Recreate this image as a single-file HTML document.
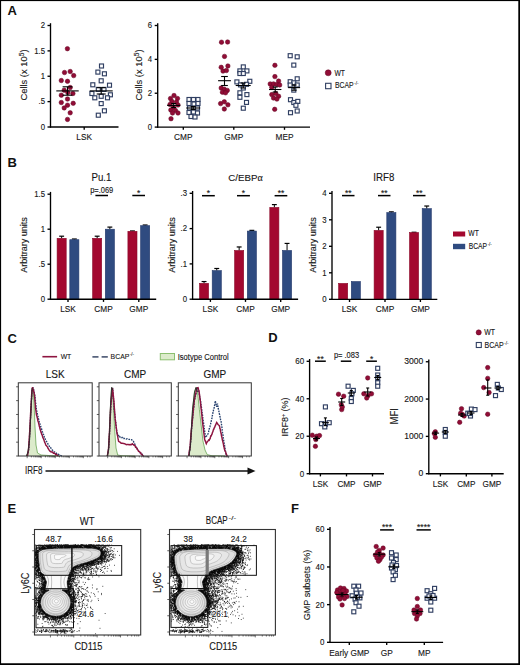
<!DOCTYPE html>
<html><head><meta charset="utf-8"><style>
html,body{margin:0;padding:0;background:#fff;}
svg{display:block;font-family:"Liberation Sans", sans-serif;}
</style></head><body>
<svg width="520" height="665" viewBox="0 0 520 665">
<rect x="0" y="0" width="520" height="665" fill="#fff"/>
<text x="7.6" y="15.3" font-size="13" text-anchor="start" font-weight="bold" fill="#111" >A</text>
<text x="7.6" y="166.6" font-size="13" text-anchor="start" font-weight="bold" fill="#111" >B</text>
<text x="7.6" y="342.6" font-size="13" text-anchor="start" font-weight="bold" fill="#111" >C</text>
<text x="268.2" y="342.2" font-size="13" text-anchor="start" font-weight="bold" fill="#111" >D</text>
<text x="7.6" y="513.3" font-size="13" text-anchor="start" font-weight="bold" fill="#111" >E</text>
<text x="291" y="513.2" font-size="13" text-anchor="start" font-weight="bold" fill="#111" >F</text>
<line x1="50.5" y1="127.6" x2="50.5" y2="23.2" stroke="#000" stroke-width="1.35" />
<line x1="47.5" y1="127" x2="50.5" y2="127" stroke="#000" stroke-width="1.35" />
<text x="45" y="129.81" font-size="8.58" text-anchor="end" font-weight="normal" fill="#151515" stroke="#151515" stroke-width="0.12"  textLength="4.34" lengthAdjust="spacingAndGlyphs">0</text>
<line x1="47.5" y1="101.62" x2="50.5" y2="101.62" stroke="#000" stroke-width="1.35" />
<text x="45" y="104.43" font-size="8.58" text-anchor="end" font-weight="normal" fill="#151515" stroke="#151515" stroke-width="0.12"  textLength="6.51" lengthAdjust="spacingAndGlyphs">.5</text>
<line x1="47.5" y1="76.25" x2="50.5" y2="76.25" stroke="#000" stroke-width="1.35" />
<text x="45" y="79.06" font-size="8.58" text-anchor="end" font-weight="normal" fill="#151515" stroke="#151515" stroke-width="0.12"  textLength="4.34" lengthAdjust="spacingAndGlyphs">1</text>
<line x1="47.5" y1="50.88" x2="50.5" y2="50.88" stroke="#000" stroke-width="1.35" />
<text x="45" y="53.68" font-size="8.58" text-anchor="end" font-weight="normal" fill="#151515" stroke="#151515" stroke-width="0.12"  textLength="10.84" lengthAdjust="spacingAndGlyphs">1.5</text>
<line x1="47.5" y1="25.5" x2="50.5" y2="25.5" stroke="#000" stroke-width="1.35" />
<text x="45" y="28.31" font-size="8.58" text-anchor="end" font-weight="normal" fill="#151515" stroke="#151515" stroke-width="0.12"  textLength="4.34" lengthAdjust="spacingAndGlyphs">2</text>
<line x1="49.9" y1="127" x2="118.5" y2="127" stroke="#000" stroke-width="1.35" />
<line x1="84.2" y1="127" x2="84.2" y2="129.7" stroke="#000" stroke-width="1.35" />
<text x="84.2" y="140.3" font-size="9.13" text-anchor="middle" font-weight="normal" fill="#151515" stroke="#151515" stroke-width="0.12"  textLength="15.69" lengthAdjust="spacingAndGlyphs">LSK</text>
<text transform="translate(27.3 75) rotate(-90)" font-size="9.4" text-anchor="middle" fill="#151515" stroke="#151515" stroke-width="0.12">Cells (x 10<tspan dy="-3.4" font-size="6.8">5</tspan><tspan dy="3.4">)</tspan></text>
<circle cx="67.4" cy="48.7" r="2.25" fill="#910D36" stroke="#650725" stroke-width="0.5"/>
<circle cx="64.5" cy="72.5" r="2.25" fill="#910D36" stroke="#650725" stroke-width="0.5"/>
<circle cx="70.2" cy="71.5" r="2.25" fill="#910D36" stroke="#650725" stroke-width="0.5"/>
<circle cx="73.7" cy="75.6" r="2.25" fill="#910D36" stroke="#650725" stroke-width="0.5"/>
<circle cx="61.3" cy="80.5" r="2.25" fill="#910D36" stroke="#650725" stroke-width="0.5"/>
<circle cx="67.5" cy="81.3" r="2.25" fill="#910D36" stroke="#650725" stroke-width="0.5"/>
<circle cx="70.2" cy="87.5" r="2.25" fill="#910D36" stroke="#650725" stroke-width="0.5"/>
<circle cx="64.2" cy="90.2" r="2.25" fill="#910D36" stroke="#650725" stroke-width="0.5"/>
<circle cx="72.9" cy="93.5" r="2.25" fill="#910D36" stroke="#650725" stroke-width="0.5"/>
<circle cx="61.3" cy="95.2" r="2.25" fill="#910D36" stroke="#650725" stroke-width="0.5"/>
<circle cx="67.5" cy="99" r="2.25" fill="#910D36" stroke="#650725" stroke-width="0.5"/>
<circle cx="61.3" cy="102.5" r="2.25" fill="#910D36" stroke="#650725" stroke-width="0.5"/>
<circle cx="73.2" cy="103.3" r="2.25" fill="#910D36" stroke="#650725" stroke-width="0.5"/>
<circle cx="67.5" cy="105.2" r="2.25" fill="#910D36" stroke="#650725" stroke-width="0.5"/>
<circle cx="64.2" cy="107.9" r="2.25" fill="#910D36" stroke="#650725" stroke-width="0.5"/>
<circle cx="70.2" cy="112.8" r="2.25" fill="#910D36" stroke="#650725" stroke-width="0.5"/>
<circle cx="67.5" cy="119.4" r="2.25" fill="#910D36" stroke="#650725" stroke-width="0.5"/>
<circle cx="67.8" cy="92.5" r="2.25" fill="#910D36" stroke="#650725" stroke-width="0.5"/>
<rect x="99.5" y="64" width="4" height="4" fill="white" fill-opacity="0.85" stroke="#303f62" stroke-width="1.15"/>
<rect x="95.9" y="70.1" width="4" height="4" fill="white" fill-opacity="0.85" stroke="#303f62" stroke-width="1.15"/>
<rect x="102.4" y="71.8" width="4" height="4" fill="white" fill-opacity="0.85" stroke="#303f62" stroke-width="1.15"/>
<rect x="99.2" y="78.8" width="4" height="4" fill="white" fill-opacity="0.85" stroke="#303f62" stroke-width="1.15"/>
<rect x="90.8" y="82.8" width="4" height="4" fill="white" fill-opacity="0.85" stroke="#303f62" stroke-width="1.15"/>
<rect x="107.5" y="83.2" width="4" height="4" fill="white" fill-opacity="0.85" stroke="#303f62" stroke-width="1.15"/>
<rect x="96.3" y="87.4" width="4" height="4" fill="white" fill-opacity="0.85" stroke="#303f62" stroke-width="1.15"/>
<rect x="102" y="87.4" width="4" height="4" fill="white" fill-opacity="0.85" stroke="#303f62" stroke-width="1.15"/>
<rect x="89.9" y="91.5" width="4" height="4" fill="white" fill-opacity="0.85" stroke="#303f62" stroke-width="1.15"/>
<rect x="108.4" y="92.8" width="4" height="4" fill="white" fill-opacity="0.85" stroke="#303f62" stroke-width="1.15"/>
<rect x="92.8" y="95.8" width="4" height="4" fill="white" fill-opacity="0.85" stroke="#303f62" stroke-width="1.15"/>
<rect x="99.2" y="94.3" width="4" height="4" fill="white" fill-opacity="0.85" stroke="#303f62" stroke-width="1.15"/>
<rect x="105.5" y="95.8" width="4" height="4" fill="white" fill-opacity="0.85" stroke="#303f62" stroke-width="1.15"/>
<rect x="99.2" y="101.6" width="4" height="4" fill="white" fill-opacity="0.85" stroke="#303f62" stroke-width="1.15"/>
<rect x="102.4" y="108.8" width="4" height="4" fill="white" fill-opacity="0.85" stroke="#303f62" stroke-width="1.15"/>
<rect x="96.3" y="113.2" width="4" height="4" fill="white" fill-opacity="0.85" stroke="#303f62" stroke-width="1.15"/>
<line x1="56.3" y1="90.9" x2="78.7" y2="90.9" stroke="#000" stroke-width="1.1" />
<line x1="67.5" y1="86.8" x2="67.5" y2="95.2" stroke="#000" stroke-width="1.1" />
<line x1="62.6" y1="86.8" x2="72.4" y2="86.8" stroke="#000" stroke-width="1.1" />
<line x1="62.6" y1="95.2" x2="72.4" y2="95.2" stroke="#000" stroke-width="1.1" />
<line x1="89.7" y1="90.9" x2="112.7" y2="90.9" stroke="#000" stroke-width="1.1" />
<line x1="101.2" y1="87.7" x2="101.2" y2="94" stroke="#000" stroke-width="1.1" />
<line x1="96.7" y1="87.7" x2="105.7" y2="87.7" stroke="#000" stroke-width="1.1" />
<line x1="96.7" y1="94" x2="105.7" y2="94" stroke="#000" stroke-width="1.1" />
<line x1="157.7" y1="127.7" x2="157.7" y2="23.2" stroke="#000" stroke-width="1.35" />
<line x1="154.7" y1="127.1" x2="157.7" y2="127.1" stroke="#000" stroke-width="1.35" />
<text x="152.2" y="129.91" font-size="8.58" text-anchor="end" font-weight="normal" fill="#151515" stroke="#151515" stroke-width="0.12"  textLength="4.34" lengthAdjust="spacingAndGlyphs">0</text>
<line x1="154.7" y1="93.23" x2="157.7" y2="93.23" stroke="#000" stroke-width="1.35" />
<text x="152.2" y="96.04" font-size="8.58" text-anchor="end" font-weight="normal" fill="#151515" stroke="#151515" stroke-width="0.12"  textLength="4.34" lengthAdjust="spacingAndGlyphs">2</text>
<line x1="154.7" y1="59.37" x2="157.7" y2="59.37" stroke="#000" stroke-width="1.35" />
<text x="152.2" y="62.17" font-size="8.58" text-anchor="end" font-weight="normal" fill="#151515" stroke="#151515" stroke-width="0.12"  textLength="4.34" lengthAdjust="spacingAndGlyphs">4</text>
<line x1="154.7" y1="25.5" x2="157.7" y2="25.5" stroke="#000" stroke-width="1.35" />
<text x="152.2" y="28.31" font-size="8.58" text-anchor="end" font-weight="normal" fill="#151515" stroke="#151515" stroke-width="0.12"  textLength="4.34" lengthAdjust="spacingAndGlyphs">6</text>
<line x1="157.1" y1="127.1" x2="310" y2="127.1" stroke="#000" stroke-width="1.35" />
<line x1="183.3" y1="127.1" x2="183.3" y2="129.8" stroke="#000" stroke-width="1.35" />
<line x1="233.8" y1="127.1" x2="233.8" y2="129.8" stroke="#000" stroke-width="1.35" />
<line x1="284.5" y1="127.1" x2="284.5" y2="129.8" stroke="#000" stroke-width="1.35" />
<text x="183.3" y="140.3" font-size="9.13" text-anchor="middle" font-weight="normal" fill="#151515" stroke="#151515" stroke-width="0.12"  textLength="18.44" lengthAdjust="spacingAndGlyphs">CMP</text>
<text x="233.8" y="140.3" font-size="9.13" text-anchor="middle" font-weight="normal" fill="#151515" stroke="#151515" stroke-width="0.12"  textLength="18.91" lengthAdjust="spacingAndGlyphs">GMP</text>
<text x="284.5" y="140.3" font-size="9.13" text-anchor="middle" font-weight="normal" fill="#151515" stroke="#151515" stroke-width="0.12"  textLength="17.99" lengthAdjust="spacingAndGlyphs">MEP</text>
<text transform="translate(142.2 75) rotate(-90)" font-size="9.4" text-anchor="middle" fill="#151515" stroke="#151515" stroke-width="0.12">Cells (x 10<tspan dy="-3.4" font-size="6.8">5</tspan><tspan dy="3.4">)</tspan></text>
<circle cx="174" cy="95.5" r="2.25" fill="#910D36" stroke="#650725" stroke-width="0.5"/>
<circle cx="170.5" cy="98.5" r="2.25" fill="#910D36" stroke="#650725" stroke-width="0.5"/>
<circle cx="177.5" cy="98.5" r="2.25" fill="#910D36" stroke="#650725" stroke-width="0.5"/>
<circle cx="172" cy="101.5" r="2.25" fill="#910D36" stroke="#650725" stroke-width="0.5"/>
<circle cx="176.5" cy="102" r="2.25" fill="#910D36" stroke="#650725" stroke-width="0.5"/>
<circle cx="170" cy="104.5" r="2.25" fill="#910D36" stroke="#650725" stroke-width="0.5"/>
<circle cx="178" cy="105" r="2.25" fill="#910D36" stroke="#650725" stroke-width="0.5"/>
<circle cx="173.5" cy="107.5" r="2.25" fill="#910D36" stroke="#650725" stroke-width="0.5"/>
<circle cx="170.8" cy="110" r="2.25" fill="#910D36" stroke="#650725" stroke-width="0.5"/>
<circle cx="175.5" cy="110.5" r="2.25" fill="#910D36" stroke="#650725" stroke-width="0.5"/>
<circle cx="178" cy="113" r="2.25" fill="#910D36" stroke="#650725" stroke-width="0.5"/>
<circle cx="172.5" cy="113" r="2.25" fill="#910D36" stroke="#650725" stroke-width="0.5"/>
<circle cx="171" cy="118.7" r="2.25" fill="#910D36" stroke="#650725" stroke-width="0.5"/>
<rect x="187" y="97.5" width="4" height="4" fill="white" fill-opacity="0.85" stroke="#303f62" stroke-width="1.15"/>
<rect x="191.5" y="97.5" width="4" height="4" fill="white" fill-opacity="0.85" stroke="#303f62" stroke-width="1.15"/>
<rect x="196" y="97.5" width="4" height="4" fill="white" fill-opacity="0.85" stroke="#303f62" stroke-width="1.15"/>
<rect x="187" y="101.5" width="4" height="4" fill="white" fill-opacity="0.85" stroke="#303f62" stroke-width="1.15"/>
<rect x="192" y="102" width="4" height="4" fill="white" fill-opacity="0.85" stroke="#303f62" stroke-width="1.15"/>
<rect x="196" y="101.5" width="4" height="4" fill="white" fill-opacity="0.85" stroke="#303f62" stroke-width="1.15"/>
<rect x="187.5" y="106" width="4" height="4" fill="white" fill-opacity="0.85" stroke="#303f62" stroke-width="1.15"/>
<rect x="191.5" y="106.5" width="4" height="4" fill="white" fill-opacity="0.85" stroke="#303f62" stroke-width="1.15"/>
<rect x="195.5" y="106" width="4" height="4" fill="white" fill-opacity="0.85" stroke="#303f62" stroke-width="1.15"/>
<rect x="187" y="110.5" width="4" height="4" fill="white" fill-opacity="0.85" stroke="#303f62" stroke-width="1.15"/>
<rect x="191.5" y="110" width="4" height="4" fill="white" fill-opacity="0.85" stroke="#303f62" stroke-width="1.15"/>
<rect x="195.5" y="111" width="4" height="4" fill="white" fill-opacity="0.85" stroke="#303f62" stroke-width="1.15"/>
<rect x="189" y="114.5" width="4" height="4" fill="white" fill-opacity="0.85" stroke="#303f62" stroke-width="1.15"/>
<rect x="193" y="115" width="4" height="4" fill="white" fill-opacity="0.85" stroke="#303f62" stroke-width="1.15"/>
<line x1="167.1" y1="105.4" x2="180.3" y2="105.4" stroke="#000" stroke-width="1.1" />
<line x1="173.7" y1="103.5" x2="173.7" y2="107.5" stroke="#000" stroke-width="1.1" />
<line x1="171.2" y1="103.5" x2="176.2" y2="103.5" stroke="#000" stroke-width="1.1" />
<line x1="171.2" y1="107.5" x2="176.2" y2="107.5" stroke="#000" stroke-width="1.1" />
<line x1="186.2" y1="108" x2="200.2" y2="108" stroke="#000" stroke-width="1.1" />
<line x1="193.2" y1="106.5" x2="193.2" y2="109.5" stroke="#000" stroke-width="1.1" />
<line x1="190.7" y1="106.5" x2="195.7" y2="106.5" stroke="#000" stroke-width="1.1" />
<line x1="190.7" y1="109.5" x2="195.7" y2="109.5" stroke="#000" stroke-width="1.1" />
<circle cx="221.5" cy="42.2" r="2.25" fill="#910D36" stroke="#650725" stroke-width="0.5"/>
<circle cx="227.6" cy="42" r="2.25" fill="#910D36" stroke="#650725" stroke-width="0.5"/>
<circle cx="224.5" cy="56.4" r="2.25" fill="#910D36" stroke="#650725" stroke-width="0.5"/>
<circle cx="221.2" cy="67.3" r="2.25" fill="#910D36" stroke="#650725" stroke-width="0.5"/>
<circle cx="227.9" cy="66" r="2.25" fill="#910D36" stroke="#650725" stroke-width="0.5"/>
<circle cx="223" cy="71.1" r="2.25" fill="#910D36" stroke="#650725" stroke-width="0.5"/>
<circle cx="226.4" cy="70.5" r="2.25" fill="#910D36" stroke="#650725" stroke-width="0.5"/>
<circle cx="221.2" cy="88" r="2.25" fill="#910D36" stroke="#650725" stroke-width="0.5"/>
<circle cx="224.3" cy="89.2" r="2.25" fill="#910D36" stroke="#650725" stroke-width="0.5"/>
<circle cx="227.3" cy="90.4" r="2.25" fill="#910D36" stroke="#650725" stroke-width="0.5"/>
<circle cx="222.4" cy="92.2" r="2.25" fill="#910D36" stroke="#650725" stroke-width="0.5"/>
<circle cx="225.5" cy="92.8" r="2.25" fill="#910D36" stroke="#650725" stroke-width="0.5"/>
<circle cx="220.6" cy="103.6" r="2.25" fill="#910D36" stroke="#650725" stroke-width="0.5"/>
<circle cx="224.3" cy="101.8" r="2.25" fill="#910D36" stroke="#650725" stroke-width="0.5"/>
<circle cx="227.9" cy="104.8" r="2.25" fill="#910D36" stroke="#650725" stroke-width="0.5"/>
<circle cx="224.3" cy="109" r="2.25" fill="#910D36" stroke="#650725" stroke-width="0.5"/>
<rect x="241.3" y="64.9" width="4" height="4" fill="white" fill-opacity="0.85" stroke="#303f62" stroke-width="1.15"/>
<rect x="237.9" y="68.9" width="4" height="4" fill="white" fill-opacity="0.85" stroke="#303f62" stroke-width="1.15"/>
<rect x="244.9" y="68.9" width="4" height="4" fill="white" fill-opacity="0.85" stroke="#303f62" stroke-width="1.15"/>
<rect x="237.9" y="71.5" width="4" height="4" fill="white" fill-opacity="0.85" stroke="#303f62" stroke-width="1.15"/>
<rect x="241.3" y="71.5" width="4" height="4" fill="white" fill-opacity="0.85" stroke="#303f62" stroke-width="1.15"/>
<rect x="234.9" y="79.9" width="4" height="4" fill="white" fill-opacity="0.85" stroke="#303f62" stroke-width="1.15"/>
<rect x="247.8" y="79.3" width="4" height="4" fill="white" fill-opacity="0.85" stroke="#303f62" stroke-width="1.15"/>
<rect x="238.5" y="82.9" width="4" height="4" fill="white" fill-opacity="0.85" stroke="#303f62" stroke-width="1.15"/>
<rect x="244.5" y="82.3" width="4" height="4" fill="white" fill-opacity="0.85" stroke="#303f62" stroke-width="1.15"/>
<rect x="241.3" y="86" width="4" height="4" fill="white" fill-opacity="0.85" stroke="#303f62" stroke-width="1.15"/>
<rect x="237.9" y="90.8" width="4" height="4" fill="white" fill-opacity="0.85" stroke="#303f62" stroke-width="1.15"/>
<rect x="244.9" y="92.6" width="4" height="4" fill="white" fill-opacity="0.85" stroke="#303f62" stroke-width="1.15"/>
<rect x="237.9" y="95.3" width="4" height="4" fill="white" fill-opacity="0.85" stroke="#303f62" stroke-width="1.15"/>
<rect x="244.5" y="100.4" width="4" height="4" fill="white" fill-opacity="0.85" stroke="#303f62" stroke-width="1.15"/>
<rect x="241.3" y="106.2" width="4" height="4" fill="white" fill-opacity="0.85" stroke="#303f62" stroke-width="1.15"/>
<line x1="218.1" y1="80.7" x2="230.9" y2="80.7" stroke="#000" stroke-width="1.1" />
<line x1="224.5" y1="76.5" x2="224.5" y2="85.5" stroke="#000" stroke-width="1.1" />
<line x1="221.15" y1="76.5" x2="227.85" y2="76.5" stroke="#000" stroke-width="1.1" />
<line x1="221.15" y1="85.5" x2="227.85" y2="85.5" stroke="#000" stroke-width="1.1" />
<line x1="235.7" y1="85.5" x2="250.7" y2="85.5" stroke="#000" stroke-width="1.1" />
<line x1="243.2" y1="83" x2="243.2" y2="88" stroke="#000" stroke-width="1.1" />
<line x1="240.7" y1="83" x2="245.7" y2="83" stroke="#000" stroke-width="1.1" />
<line x1="240.7" y1="88" x2="245.7" y2="88" stroke="#000" stroke-width="1.1" />
<circle cx="274.9" cy="65.3" r="2.25" fill="#910D36" stroke="#650725" stroke-width="0.5"/>
<circle cx="274.9" cy="76.6" r="2.25" fill="#910D36" stroke="#650725" stroke-width="0.5"/>
<circle cx="278.6" cy="81.1" r="2.25" fill="#910D36" stroke="#650725" stroke-width="0.5"/>
<circle cx="270.2" cy="83.9" r="2.25" fill="#910D36" stroke="#650725" stroke-width="0.5"/>
<circle cx="273.5" cy="83.9" r="2.25" fill="#910D36" stroke="#650725" stroke-width="0.5"/>
<circle cx="276.9" cy="84.5" r="2.25" fill="#910D36" stroke="#650725" stroke-width="0.5"/>
<circle cx="279.7" cy="85" r="2.25" fill="#910D36" stroke="#650725" stroke-width="0.5"/>
<circle cx="271.8" cy="87.3" r="2.25" fill="#910D36" stroke="#650725" stroke-width="0.5"/>
<circle cx="271.8" cy="94.6" r="2.25" fill="#910D36" stroke="#650725" stroke-width="0.5"/>
<circle cx="275.8" cy="93.5" r="2.25" fill="#910D36" stroke="#650725" stroke-width="0.5"/>
<circle cx="278.6" cy="96.3" r="2.25" fill="#910D36" stroke="#650725" stroke-width="0.5"/>
<circle cx="273.5" cy="98" r="2.25" fill="#910D36" stroke="#650725" stroke-width="0.5"/>
<circle cx="276.9" cy="99.1" r="2.25" fill="#910D36" stroke="#650725" stroke-width="0.5"/>
<circle cx="274.7" cy="109.3" r="2.25" fill="#910D36" stroke="#650725" stroke-width="0.5"/>
<rect x="288.2" y="53.7" width="4" height="4" fill="white" fill-opacity="0.85" stroke="#303f62" stroke-width="1.15"/>
<rect x="295.2" y="54.8" width="4" height="4" fill="white" fill-opacity="0.85" stroke="#303f62" stroke-width="1.15"/>
<rect x="291.8" y="63.1" width="4" height="4" fill="white" fill-opacity="0.85" stroke="#303f62" stroke-width="1.15"/>
<rect x="295.2" y="76.8" width="4" height="4" fill="white" fill-opacity="0.85" stroke="#303f62" stroke-width="1.15"/>
<rect x="288.2" y="79.7" width="4" height="4" fill="white" fill-opacity="0.85" stroke="#303f62" stroke-width="1.15"/>
<rect x="291.8" y="80.8" width="4" height="4" fill="white" fill-opacity="0.85" stroke="#303f62" stroke-width="1.15"/>
<rect x="295.2" y="83" width="4" height="4" fill="white" fill-opacity="0.85" stroke="#303f62" stroke-width="1.15"/>
<rect x="288.2" y="83" width="4" height="4" fill="white" fill-opacity="0.85" stroke="#303f62" stroke-width="1.15"/>
<rect x="291.8" y="88.1" width="4" height="4" fill="white" fill-opacity="0.85" stroke="#303f62" stroke-width="1.15"/>
<rect x="288.5" y="97.7" width="4" height="4" fill="white" fill-opacity="0.85" stroke="#303f62" stroke-width="1.15"/>
<rect x="291.8" y="100.5" width="4" height="4" fill="white" fill-opacity="0.85" stroke="#303f62" stroke-width="1.15"/>
<rect x="295.8" y="99.4" width="4" height="4" fill="white" fill-opacity="0.85" stroke="#303f62" stroke-width="1.15"/>
<rect x="293.9" y="103.3" width="4" height="4" fill="white" fill-opacity="0.85" stroke="#303f62" stroke-width="1.15"/>
<rect x="288.5" y="110.7" width="4" height="4" fill="white" fill-opacity="0.85" stroke="#303f62" stroke-width="1.15"/>
<rect x="295.2" y="109" width="4" height="4" fill="white" fill-opacity="0.85" stroke="#303f62" stroke-width="1.15"/>
<line x1="269" y1="89.5" x2="281.4" y2="89.5" stroke="#000" stroke-width="1.1" />
<line x1="275.2" y1="87" x2="275.2" y2="92" stroke="#000" stroke-width="1.1" />
<line x1="272.7" y1="87" x2="277.7" y2="87" stroke="#000" stroke-width="1.1" />
<line x1="272.7" y1="92" x2="277.7" y2="92" stroke="#000" stroke-width="1.1" />
<line x1="288.1" y1="87.6" x2="300.1" y2="87.6" stroke="#000" stroke-width="1.1" />
<line x1="294.1" y1="85" x2="294.1" y2="90.2" stroke="#000" stroke-width="1.1" />
<line x1="291.6" y1="85" x2="296.6" y2="85" stroke="#000" stroke-width="1.1" />
<line x1="291.6" y1="90.2" x2="296.6" y2="90.2" stroke="#000" stroke-width="1.1" />
<circle cx="328.2" cy="72.8" r="3" fill="#910D36" stroke="#650725" stroke-width="0.5"/>
<text x="334.5" y="75.6" font-size="8.14" text-anchor="start" font-weight="normal" fill="#151515" stroke="#151515" stroke-width="0.12"  textLength="10.5" lengthAdjust="spacingAndGlyphs">WT</text>
<rect x="325.6" y="83.3" width="5.4" height="5.4" fill="white" stroke="#303f62" stroke-width="1.1" />
<text x="335" y="88.4" font-size="8.14" text-anchor="start" font-weight="normal" fill="#151515" stroke="#151515" stroke-width="0.12"  textLength="18.7" lengthAdjust="spacingAndGlyphs">BCAP</text>
<text x="354.3" y="85.29" font-size="4.88" text-anchor="start" font-weight="normal" fill="#333" stroke="#333" stroke-width="0.12"  textLength="4.19" lengthAdjust="spacingAndGlyphs">-/-</text>
<line x1="50.5" y1="299.8" x2="50.5" y2="191.9" stroke="#000" stroke-width="1.35" />
<line x1="47.5" y1="299.2" x2="50.5" y2="299.2" stroke="#000" stroke-width="1.35" />
<text x="45" y="302.01" font-size="8.58" text-anchor="end" font-weight="normal" fill="#151515" stroke="#151515" stroke-width="0.12"  textLength="4.34" lengthAdjust="spacingAndGlyphs">0</text>
<line x1="47.5" y1="264.2" x2="50.5" y2="264.2" stroke="#000" stroke-width="1.35" />
<text x="45" y="267.01" font-size="8.58" text-anchor="end" font-weight="normal" fill="#151515" stroke="#151515" stroke-width="0.12"  textLength="6.51" lengthAdjust="spacingAndGlyphs">.5</text>
<line x1="47.5" y1="229.2" x2="50.5" y2="229.2" stroke="#000" stroke-width="1.35" />
<text x="45" y="232.01" font-size="8.58" text-anchor="end" font-weight="normal" fill="#151515" stroke="#151515" stroke-width="0.12"  textLength="4.34" lengthAdjust="spacingAndGlyphs">1</text>
<line x1="47.5" y1="194.2" x2="50.5" y2="194.2" stroke="#000" stroke-width="1.35" />
<text x="45" y="197.01" font-size="8.58" text-anchor="end" font-weight="normal" fill="#151515" stroke="#151515" stroke-width="0.12"  textLength="10.84" lengthAdjust="spacingAndGlyphs">1.5</text>
<line x1="61.65" y1="238.3" x2="61.65" y2="236.2" stroke="#000" stroke-width="1" />
<line x1="59.2" y1="236.2" x2="64.1" y2="236.2" stroke="#000" stroke-width="1.2" />
<rect x="57.1" y="238.3" width="9.1" height="60.9" fill="#A3082F" stroke="#8a0a2a" stroke-width="0.6" />
<line x1="74.35" y1="239.7" x2="74.35" y2="239" stroke="#000" stroke-width="1" />
<line x1="71.9" y1="239" x2="76.8" y2="239" stroke="#000" stroke-width="1.2" />
<rect x="69.8" y="239.7" width="9.1" height="59.5" fill="#2F4B80" stroke="#22386a" stroke-width="0.6" />
<line x1="97.15" y1="238.3" x2="97.15" y2="236.2" stroke="#000" stroke-width="1" />
<line x1="94.7" y1="236.2" x2="99.6" y2="236.2" stroke="#000" stroke-width="1.2" />
<rect x="92.6" y="238.3" width="9.1" height="60.9" fill="#A3082F" stroke="#8a0a2a" stroke-width="0.6" />
<line x1="109.85" y1="229.2" x2="109.85" y2="227.1" stroke="#000" stroke-width="1" />
<line x1="107.4" y1="227.1" x2="112.3" y2="227.1" stroke="#000" stroke-width="1.2" />
<rect x="105.3" y="229.2" width="9.1" height="70" fill="#2F4B80" stroke="#22386a" stroke-width="0.6" />
<line x1="132.45" y1="231.3" x2="132.45" y2="230.95" stroke="#000" stroke-width="1" />
<line x1="130" y1="230.95" x2="134.9" y2="230.95" stroke="#000" stroke-width="1.2" />
<rect x="127.9" y="231.3" width="9.1" height="67.9" fill="#A3082F" stroke="#8a0a2a" stroke-width="0.6" />
<line x1="145.15" y1="225.7" x2="145.15" y2="225" stroke="#000" stroke-width="1" />
<line x1="142.7" y1="225" x2="147.6" y2="225" stroke="#000" stroke-width="1.2" />
<rect x="140.6" y="225.7" width="9.1" height="73.5" fill="#2F4B80" stroke="#22386a" stroke-width="0.6" />
<line x1="49.9" y1="299.2" x2="156.2" y2="299.2" stroke="#000" stroke-width="1.35" />
<line x1="68" y1="299.2" x2="68" y2="301.9" stroke="#000" stroke-width="1.35" />
<line x1="103.5" y1="299.2" x2="103.5" y2="301.9" stroke="#000" stroke-width="1.35" />
<line x1="138.8" y1="299.2" x2="138.8" y2="301.9" stroke="#000" stroke-width="1.35" />
<text x="68" y="312.3" font-size="9.13" text-anchor="middle" font-weight="normal" fill="#151515" stroke="#151515" stroke-width="0.12"  textLength="15.69" lengthAdjust="spacingAndGlyphs">LSK</text>
<text x="103.5" y="312.3" font-size="9.13" text-anchor="middle" font-weight="normal" fill="#151515" stroke="#151515" stroke-width="0.12"  textLength="18.44" lengthAdjust="spacingAndGlyphs">CMP</text>
<text x="138.8" y="312.3" font-size="9.13" text-anchor="middle" font-weight="normal" fill="#151515" stroke="#151515" stroke-width="0.12"  textLength="18.91" lengthAdjust="spacingAndGlyphs">GMP</text>
<text x="101.4" y="180.7" font-size="10.67" text-anchor="middle" font-weight="normal" fill="#151515" stroke="#151515" stroke-width="0.12"  textLength="19.95" lengthAdjust="spacingAndGlyphs">Pu.1</text>
<line x1="95.4" y1="195.5" x2="108" y2="195.5" stroke="#000" stroke-width="1.5" />
<line x1="132.3" y1="195.5" x2="145" y2="195.5" stroke="#000" stroke-width="1.5" />
<text x="138.65" y="196.36" font-size="8.5" text-anchor="middle" font-weight="normal" fill="#151515" stroke="#151515" stroke-width="0.12" >*</text>
<text transform="translate(27 245) rotate(-90)" font-size="9.9" text-anchor="middle" fill="#151515" stroke="#151515" stroke-width="0.12" textLength="55.52" lengthAdjust="spacingAndGlyphs">Arbitrary units</text>
<text x="101.7" y="193.2" font-size="8.25" text-anchor="middle" font-weight="normal" fill="#151515" stroke="#151515" stroke-width="0.12"  textLength="23.15" lengthAdjust="spacingAndGlyphs">p=.069</text>
<line x1="192.6" y1="299.8" x2="192.6" y2="191" stroke="#000" stroke-width="1.35" />
<line x1="189.6" y1="299.2" x2="192.6" y2="299.2" stroke="#000" stroke-width="1.35" />
<text x="187.1" y="302.01" font-size="8.58" text-anchor="end" font-weight="normal" fill="#151515" stroke="#151515" stroke-width="0.12"  textLength="4.34" lengthAdjust="spacingAndGlyphs">0</text>
<line x1="189.6" y1="263.9" x2="192.6" y2="263.9" stroke="#000" stroke-width="1.35" />
<text x="187.1" y="266.71" font-size="8.58" text-anchor="end" font-weight="normal" fill="#151515" stroke="#151515" stroke-width="0.12"  textLength="6.51" lengthAdjust="spacingAndGlyphs">.1</text>
<line x1="189.6" y1="228.6" x2="192.6" y2="228.6" stroke="#000" stroke-width="1.35" />
<text x="187.1" y="231.41" font-size="8.58" text-anchor="end" font-weight="normal" fill="#151515" stroke="#151515" stroke-width="0.12"  textLength="6.51" lengthAdjust="spacingAndGlyphs">.2</text>
<line x1="189.6" y1="193.3" x2="192.6" y2="193.3" stroke="#000" stroke-width="1.35" />
<text x="187.1" y="196.11" font-size="8.58" text-anchor="end" font-weight="normal" fill="#151515" stroke="#151515" stroke-width="0.12"  textLength="6.51" lengthAdjust="spacingAndGlyphs">.3</text>
<line x1="204.05" y1="283.31" x2="204.05" y2="281.55" stroke="#000" stroke-width="1" />
<line x1="201.6" y1="281.55" x2="206.5" y2="281.55" stroke="#000" stroke-width="1.2" />
<rect x="199.5" y="283.31" width="9.1" height="15.88" fill="#A3082F" stroke="#8a0a2a" stroke-width="0.6" />
<line x1="216.75" y1="270.61" x2="216.75" y2="268.49" stroke="#000" stroke-width="1" />
<line x1="214.3" y1="268.49" x2="219.2" y2="268.49" stroke="#000" stroke-width="1.2" />
<rect x="212.2" y="270.61" width="9.1" height="28.59" fill="#2F4B80" stroke="#22386a" stroke-width="0.6" />
<line x1="239.15" y1="250.49" x2="239.15" y2="246.96" stroke="#000" stroke-width="1" />
<line x1="236.7" y1="246.96" x2="241.6" y2="246.96" stroke="#000" stroke-width="1.2" />
<rect x="234.6" y="250.49" width="9.1" height="48.71" fill="#A3082F" stroke="#8a0a2a" stroke-width="0.6" />
<line x1="251.85" y1="231.07" x2="251.85" y2="230.36" stroke="#000" stroke-width="1" />
<line x1="249.4" y1="230.36" x2="254.3" y2="230.36" stroke="#000" stroke-width="1.2" />
<rect x="247.3" y="231.07" width="9.1" height="68.13" fill="#2F4B80" stroke="#22386a" stroke-width="0.6" />
<line x1="274.35" y1="207.42" x2="274.35" y2="204.6" stroke="#000" stroke-width="1" />
<line x1="271.9" y1="204.6" x2="276.8" y2="204.6" stroke="#000" stroke-width="1.2" />
<rect x="269.8" y="207.42" width="9.1" height="91.78" fill="#A3082F" stroke="#8a0a2a" stroke-width="0.6" />
<line x1="287.05" y1="250.49" x2="287.05" y2="243.43" stroke="#000" stroke-width="1" />
<line x1="284.6" y1="243.43" x2="289.5" y2="243.43" stroke="#000" stroke-width="1.2" />
<rect x="282.5" y="250.49" width="9.1" height="48.71" fill="#2F4B80" stroke="#22386a" stroke-width="0.6" />
<line x1="192" y1="299.2" x2="298.1" y2="299.2" stroke="#000" stroke-width="1.35" />
<line x1="210.4" y1="299.2" x2="210.4" y2="301.9" stroke="#000" stroke-width="1.35" />
<line x1="245.5" y1="299.2" x2="245.5" y2="301.9" stroke="#000" stroke-width="1.35" />
<line x1="280.7" y1="299.2" x2="280.7" y2="301.9" stroke="#000" stroke-width="1.35" />
<text x="210.4" y="312.3" font-size="9.13" text-anchor="middle" font-weight="normal" fill="#151515" stroke="#151515" stroke-width="0.12"  textLength="15.69" lengthAdjust="spacingAndGlyphs">LSK</text>
<text x="245.5" y="312.3" font-size="9.13" text-anchor="middle" font-weight="normal" fill="#151515" stroke="#151515" stroke-width="0.12"  textLength="18.44" lengthAdjust="spacingAndGlyphs">CMP</text>
<text x="280.7" y="312.3" font-size="9.13" text-anchor="middle" font-weight="normal" fill="#151515" stroke="#151515" stroke-width="0.12"  textLength="18.91" lengthAdjust="spacingAndGlyphs">GMP</text>
<text x="245.5" y="180.7" font-size="9.7" text-anchor="middle" font-weight="normal" fill="#151515" stroke="#151515" stroke-width="0.12" >C/EBP<tspan font-family="Liberation Serif" font-size="10">&#945;</tspan></text>
<line x1="202" y1="195.7" x2="214.8" y2="195.7" stroke="#000" stroke-width="1.5" />
<text x="208.4" y="196.36" font-size="8.5" text-anchor="middle" font-weight="normal" fill="#151515" stroke="#151515" stroke-width="0.12" >*</text>
<line x1="237" y1="195.7" x2="249.9" y2="195.7" stroke="#000" stroke-width="1.5" />
<text x="243.45" y="196.36" font-size="8.5" text-anchor="middle" font-weight="normal" fill="#151515" stroke="#151515" stroke-width="0.12" >*</text>
<line x1="274.6" y1="195.7" x2="287.3" y2="195.7" stroke="#000" stroke-width="1.5" />
<text x="280.95" y="196.36" font-size="8.5" text-anchor="middle" font-weight="normal" fill="#151515" stroke="#151515" stroke-width="0.12" >**</text>
<text transform="translate(174.7 245) rotate(-90)" font-size="9.9" text-anchor="middle" fill="#151515" stroke="#151515" stroke-width="0.12" textLength="55.52" lengthAdjust="spacingAndGlyphs">Arbitrary units</text>
<line x1="332" y1="299.9" x2="332" y2="191" stroke="#000" stroke-width="1.35" />
<line x1="329" y1="299.3" x2="332" y2="299.3" stroke="#000" stroke-width="1.35" />
<text x="326.5" y="302.11" font-size="8.58" text-anchor="end" font-weight="normal" fill="#151515" stroke="#151515" stroke-width="0.12"  textLength="4.34" lengthAdjust="spacingAndGlyphs">0</text>
<line x1="329" y1="272.8" x2="332" y2="272.8" stroke="#000" stroke-width="1.35" />
<text x="326.5" y="275.61" font-size="8.58" text-anchor="end" font-weight="normal" fill="#151515" stroke="#151515" stroke-width="0.12"  textLength="4.34" lengthAdjust="spacingAndGlyphs">1</text>
<line x1="329" y1="246.3" x2="332" y2="246.3" stroke="#000" stroke-width="1.35" />
<text x="326.5" y="249.11" font-size="8.58" text-anchor="end" font-weight="normal" fill="#151515" stroke="#151515" stroke-width="0.12"  textLength="4.34" lengthAdjust="spacingAndGlyphs">2</text>
<line x1="329" y1="219.8" x2="332" y2="219.8" stroke="#000" stroke-width="1.35" />
<text x="326.5" y="222.61" font-size="8.58" text-anchor="end" font-weight="normal" fill="#151515" stroke="#151515" stroke-width="0.12"  textLength="4.34" lengthAdjust="spacingAndGlyphs">3</text>
<line x1="329" y1="193.3" x2="332" y2="193.3" stroke="#000" stroke-width="1.35" />
<text x="326.5" y="196.11" font-size="8.58" text-anchor="end" font-weight="normal" fill="#151515" stroke="#151515" stroke-width="0.12"  textLength="4.34" lengthAdjust="spacingAndGlyphs">4</text>
<rect x="338.6" y="283.4" width="9.1" height="15.9" fill="#A3082F" stroke="#8a0a2a" stroke-width="0.6" />
<rect x="351.3" y="281.55" width="9.1" height="17.75" fill="#2F4B80" stroke="#22386a" stroke-width="0.6" />
<line x1="378.65" y1="230.4" x2="378.65" y2="227.22" stroke="#000" stroke-width="1" />
<line x1="376.2" y1="227.22" x2="381.1" y2="227.22" stroke="#000" stroke-width="1.2" />
<rect x="374.1" y="230.4" width="9.1" height="68.9" fill="#A3082F" stroke="#8a0a2a" stroke-width="0.6" />
<line x1="391.35" y1="212.65" x2="391.35" y2="211.85" stroke="#000" stroke-width="1" />
<line x1="388.9" y1="211.85" x2="393.8" y2="211.85" stroke="#000" stroke-width="1.2" />
<rect x="386.8" y="212.65" width="9.1" height="86.66" fill="#2F4B80" stroke="#22386a" stroke-width="0.6" />
<line x1="414.05" y1="232.52" x2="414.05" y2="232.25" stroke="#000" stroke-width="1" />
<line x1="411.6" y1="232.25" x2="416.5" y2="232.25" stroke="#000" stroke-width="1.2" />
<rect x="409.5" y="232.52" width="9.1" height="66.78" fill="#A3082F" stroke="#8a0a2a" stroke-width="0.6" />
<line x1="426.75" y1="208.67" x2="426.75" y2="206.02" stroke="#000" stroke-width="1" />
<line x1="424.3" y1="206.02" x2="429.2" y2="206.02" stroke="#000" stroke-width="1.2" />
<rect x="422.2" y="208.67" width="9.1" height="90.63" fill="#2F4B80" stroke="#22386a" stroke-width="0.6" />
<line x1="331.4" y1="299.3" x2="437.3" y2="299.3" stroke="#000" stroke-width="1.35" />
<line x1="349.5" y1="299.3" x2="349.5" y2="302" stroke="#000" stroke-width="1.35" />
<line x1="385" y1="299.3" x2="385" y2="302" stroke="#000" stroke-width="1.35" />
<line x1="420.4" y1="299.3" x2="420.4" y2="302" stroke="#000" stroke-width="1.35" />
<text x="349.5" y="312.3" font-size="9.13" text-anchor="middle" font-weight="normal" fill="#151515" stroke="#151515" stroke-width="0.12"  textLength="15.69" lengthAdjust="spacingAndGlyphs">LSK</text>
<text x="385" y="312.3" font-size="9.13" text-anchor="middle" font-weight="normal" fill="#151515" stroke="#151515" stroke-width="0.12"  textLength="18.44" lengthAdjust="spacingAndGlyphs">CMP</text>
<text x="420.4" y="312.3" font-size="9.13" text-anchor="middle" font-weight="normal" fill="#151515" stroke="#151515" stroke-width="0.12"  textLength="18.91" lengthAdjust="spacingAndGlyphs">GMP</text>
<text x="383.8" y="180.7" font-size="10.67" text-anchor="middle" font-weight="normal" fill="#151515" stroke="#151515" stroke-width="0.12"  textLength="21.02" lengthAdjust="spacingAndGlyphs">IRF8</text>
<line x1="342" y1="195.6" x2="354.5" y2="195.6" stroke="#000" stroke-width="1.5" />
<text x="348.25" y="196.36" font-size="8.5" text-anchor="middle" font-weight="normal" fill="#151515" stroke="#151515" stroke-width="0.12" >**</text>
<line x1="378" y1="195.6" x2="390.5" y2="195.6" stroke="#000" stroke-width="1.5" />
<text x="384.25" y="196.36" font-size="8.5" text-anchor="middle" font-weight="normal" fill="#151515" stroke="#151515" stroke-width="0.12" >**</text>
<line x1="413" y1="195.6" x2="425.5" y2="195.6" stroke="#000" stroke-width="1.5" />
<text x="419.25" y="196.36" font-size="8.5" text-anchor="middle" font-weight="normal" fill="#151515" stroke="#151515" stroke-width="0.12" >**</text>
<text transform="translate(315.5 245) rotate(-90)" font-size="9.9" text-anchor="middle" fill="#151515" stroke="#151515" stroke-width="0.12" textLength="55.52" lengthAdjust="spacingAndGlyphs">Arbitrary units</text>
<rect x="453" y="231.5" width="12.2" height="5" fill="#A3082F" stroke="none" stroke-width="1" />
<text x="468.3" y="236.3" font-size="8.14" text-anchor="start" font-weight="normal" fill="#151515" stroke="#151515" stroke-width="0.12"  textLength="10.5" lengthAdjust="spacingAndGlyphs">WT</text>
<rect x="453" y="243.8" width="12.2" height="5.4" fill="#2F4B80" stroke="none" stroke-width="1" />
<text x="468.75" y="248.8" font-size="8.14" text-anchor="start" font-weight="normal" fill="#151515" stroke="#151515" stroke-width="0.12"  textLength="18.3" lengthAdjust="spacingAndGlyphs">BCAP</text>
<text x="487.65" y="245.69" font-size="4.88" text-anchor="start" font-weight="normal" fill="#333" stroke="#333" stroke-width="0.12"  textLength="4.19" lengthAdjust="spacingAndGlyphs">-/-</text>
<line x1="42.4" y1="356.7" x2="57.1" y2="356.7" stroke="#8e1540" stroke-width="1.6" />
<text x="60.7" y="359.2" font-size="7.92" text-anchor="start" font-weight="normal" fill="#151515" stroke="#151515" stroke-width="0.12"  textLength="10.6" lengthAdjust="spacingAndGlyphs">WT</text>
<line x1="92.4" y1="356.9" x2="98.5" y2="356.9" stroke="#3a4866" stroke-width="1.5" />
<line x1="101.6" y1="356.9" x2="107.8" y2="356.9" stroke="#3a4866" stroke-width="1.5" />
<text x="110.6" y="359.2" font-size="7.92" text-anchor="start" font-weight="normal" fill="#151515" stroke="#151515" stroke-width="0.12"  textLength="18.7" lengthAdjust="spacingAndGlyphs">BCAP</text>
<text x="129.9" y="356.18" font-size="4.75" text-anchor="start" font-weight="normal" fill="#333" stroke="#333" stroke-width="0.12"  textLength="4.08" lengthAdjust="spacingAndGlyphs">-/-</text>
<rect x="160.3" y="353.5" width="14.2" height="6.3" fill="#dcebcb" stroke="#8cc070" stroke-width="1" />
<text x="177.7" y="359.5" font-size="8.47" text-anchor="start" font-weight="normal" fill="#151515" stroke="#151515" stroke-width="0.12"  textLength="51" lengthAdjust="spacingAndGlyphs">Isotype Control</text>
<text x="55.25" y="377.7" font-size="11" text-anchor="middle" font-weight="normal" fill="#151515" stroke="#151515" stroke-width="0.12"  textLength="18.9" lengthAdjust="spacingAndGlyphs">LSK</text>
<polygon points="26.4,456 28,452 29.5,440 30.5,420 31.5,400 32.2,388 33,388.5 34,402 35,427 36,445 37.5,453 41,455 50,455.6 60,456" fill="#dcebcb" stroke="none"/>
<polyline points="26.4,456 28,452 29.5,440 30.5,420 31.5,400 32.2,388 33,388.5 34,402 35,427 36,445 37.5,453 41,455 50,455.6 60,456" fill="none" stroke="#6aa656" stroke-width="0.8"/>
<polyline points="27.5,456 27.67,454.85 27.83,454.27 28,453.2 28.17,452.55 28.33,451.68 28.5,450.23 28.67,449.29 28.83,449.23 29,447.76 29.05,446.83 29.09,446.68 29.14,445.24 29.18,444.7 29.23,443.43 29.27,442.68 29.32,441.29 29.36,440.86 29.41,440.19 29.45,438.93 29.5,438.24 29.55,437.26 29.59,435.75 29.64,435.53 29.68,434.45 29.73,433.26 29.77,432.08 29.82,432 29.86,430.7 29.91,430.04 29.95,429.29 30,428.21 30.05,427.51 30.09,426.08 30.14,425.57 30.18,424.31 30.23,423.89 30.27,422.92 30.32,421.23 30.36,420.36 30.41,419.54 30.45,419.37 30.5,417.94 30.55,417.22 30.59,415.98 30.64,415.28 30.68,414.25 30.73,413.31 30.77,412.63 30.82,411.72 30.86,411.13 30.91,410 30.95,409.34 31,408.36 31.05,407.59 31.1,406.37 31.15,404.96 31.2,404.76 31.25,403.96 31.3,403 31.35,401.77 31.4,401.01 31.45,399.61 31.5,399.33 31.55,398.17 31.6,396.98 31.65,395.86 31.7,395.75 31.75,394.99 31.8,393.19 31.85,393 31.9,391.71 31.95,390.55 32,389.79 32.4,389.02 32.8,387.87 33.1,387.92 33.4,389.36 33.7,389.67 34,391.22 34.17,391.83 34.33,393.38 34.5,394.48 34.67,395.01 34.83,396.5 35,396.81 35.1,397.5 35.2,398.95 35.3,399.3 35.4,400.39 35.5,401.52 35.6,402.65 35.7,403.12 35.8,403.93 35.9,405.68 36,406.04 36.1,407.61 36.2,408.47 36.3,408.88 36.51,409.88 36.72,410.87 36.92,411.91 37.13,412.79 37.34,413.67 37.55,414.66 37.75,415.9 37.96,416.39 38.17,417.24 38.38,418.45 38.58,418.89 38.79,419.88 39,421.48 39.27,421.89 39.55,422.79 39.82,423.13 40.09,424.41 40.36,425.44 40.64,425.76 40.91,427.22 41.18,428.11 41.45,428.41 41.73,429.85 42,430.57 42.33,431.71 42.67,432.32 43,433.61 43.33,434.57 43.67,434.79 44,435.76 44.33,437.31 44.67,438.53 45,438.75 45.5,439.83 46,440.84 46.5,441.45 47,442.36 47.5,443.19 48,444.12 48.5,445.22 49,445.8 49.57,446.59 50.14,447.7 50.71,447.67 51.29,448.93 51.86,449.81 52.43,450.1 53,450.72 53.83,451.89 54.67,451.91 55.5,452.44 56.33,453.27 57.17,454.11 58,454.1 59,454.7 60,455.08 61,455.62 62,456" fill="none" stroke="#26406e" stroke-width="1.35" stroke-dasharray="1.7,1.0"/>
<polyline points="27.3,456 27.5,455.37 27.7,453.93 27.9,453.39 28.1,451.64 28.3,450.82 28.5,450.17 28.56,449.51 28.62,448.13 28.68,446.97 28.74,445.95 28.8,445.49 28.85,444.21 28.91,443.97 28.97,443.1 29.03,441.47 29.09,440.67 29.15,440.34 29.21,439.25 29.27,438.52 29.33,437.1 29.39,435.96 29.45,435.23 29.5,434.87 29.56,433.38 29.62,432.56 29.68,431.73 29.74,430.82 29.8,429.9 29.85,429.55 29.89,427.8 29.94,426.73 29.98,426.85 30.03,425.87 30.07,425.08 30.12,423.56 30.16,423.22 30.21,422.29 30.25,420.6 30.3,420.27 30.35,419.46 30.39,418.36 30.44,417.29 30.48,416.13 30.53,415.28 30.57,414.25 30.62,413.16 30.66,412.82 30.71,411.58 30.75,411.25 30.8,409.5 30.85,409.54 30.9,408.41 30.95,407.77 31,406.84 31.05,405.94 31.1,404.68 31.15,403.16 31.2,403.07 31.25,401.54 31.3,400.78 31.35,400.28 31.4,399.23 31.45,398.21 31.5,397.88 31.55,396.62 31.6,395.43 31.65,394.43 31.7,394.2 31.75,392.87 31.8,392.31 31.94,390.94 32.08,389.87 32.22,389.34 32.36,388.75 32.5,387.14 33,389.07 33.5,390.46 33.7,391.34 33.9,392.36 34.1,392.46 34.3,394.14 34.5,395.4 34.57,395.43 34.64,396.61 34.71,397.53 34.79,398.74 34.86,399.56 34.93,400.54 35,401.8 35.07,401.88 35.14,402.87 35.21,403.88 35.29,404.8 35.36,405.67 35.43,407.59 35.5,408.39 35.64,408.54 35.79,410 35.93,410.8 36.07,411.8 36.21,412.84 36.36,414.16 36.5,415.1 36.75,415.85 37,416.66 37.25,417.81 37.5,418.59 37.75,420.06 38,421.24 38.23,421.74 38.45,422.28 38.68,423.26 38.91,424.35 39.14,425.48 39.36,426.55 39.59,426.98 39.82,428.31 40.05,428.99 40.27,429.65 40.5,430.46 40.81,431.5 41.12,432.62 41.44,433.21 41.75,434.41 42.06,435.06 42.38,435.72 42.69,436.94 43,438.01 43.38,438.23 43.75,439.52 44.12,440.42 44.5,441.82 44.88,442.78 45.25,443.06 45.62,444.54 46,445.32 46.5,445.49 47,446.46 47.5,446.84 48,448.34 48.5,448.93 49,449.93 49.5,450.57 50,451.18 50.83,451.76 51.67,452.07 52.5,452.06 53.33,453.1 54.17,452.96 55,453.61 55.88,454.8 56.75,454.5 57.62,455.5 58.5,456" fill="none" stroke="#8e1540" stroke-width="1.45"/>
<polyline points="26.4,456 28,452 29.5,440 30.5,420 31.5,400 32.2,388" fill="none" stroke="#2a2a2a" stroke-width="0.9"/>
<rect x="18.3" y="382.8" width="73.9" height="73.2" fill="none" stroke="#333" stroke-width="1" />
<line x1="16.1" y1="386.8" x2="18.3" y2="386.8" stroke="#333" stroke-width="0.8" />
<line x1="16.1" y1="400.64" x2="18.3" y2="400.64" stroke="#333" stroke-width="0.8" />
<line x1="16.1" y1="414.48" x2="18.3" y2="414.48" stroke="#333" stroke-width="0.8" />
<line x1="16.1" y1="428.32" x2="18.3" y2="428.32" stroke="#333" stroke-width="0.8" />
<line x1="16.1" y1="442.16" x2="18.3" y2="442.16" stroke="#333" stroke-width="0.8" />
<line x1="16.1" y1="456" x2="18.3" y2="456" stroke="#333" stroke-width="0.8" />
<line x1="27.17" y1="456" x2="27.17" y2="458.2" stroke="#333" stroke-width="0.7" />
<line x1="31.39" y1="456" x2="31.39" y2="457.4" stroke="#333" stroke-width="0.7" />
<line x1="33.87" y1="456" x2="33.87" y2="457.4" stroke="#333" stroke-width="0.7" />
<line x1="35.62" y1="456" x2="35.62" y2="457.4" stroke="#333" stroke-width="0.7" />
<line x1="36.98" y1="456" x2="36.98" y2="457.4" stroke="#333" stroke-width="0.7" />
<line x1="38.09" y1="456" x2="38.09" y2="457.4" stroke="#333" stroke-width="0.7" />
<line x1="39.03" y1="456" x2="39.03" y2="457.4" stroke="#333" stroke-width="0.7" />
<line x1="39.85" y1="456" x2="39.85" y2="457.4" stroke="#333" stroke-width="0.7" />
<line x1="40.57" y1="456" x2="40.57" y2="457.4" stroke="#333" stroke-width="0.7" />
<line x1="41.21" y1="456" x2="41.21" y2="458.2" stroke="#333" stroke-width="0.7" />
<line x1="45.44" y1="456" x2="45.44" y2="457.4" stroke="#333" stroke-width="0.7" />
<line x1="47.91" y1="456" x2="47.91" y2="457.4" stroke="#333" stroke-width="0.7" />
<line x1="49.66" y1="456" x2="49.66" y2="457.4" stroke="#333" stroke-width="0.7" />
<line x1="51.02" y1="456" x2="51.02" y2="457.4" stroke="#333" stroke-width="0.7" />
<line x1="52.14" y1="456" x2="52.14" y2="457.4" stroke="#333" stroke-width="0.7" />
<line x1="53.08" y1="456" x2="53.08" y2="457.4" stroke="#333" stroke-width="0.7" />
<line x1="53.89" y1="456" x2="53.89" y2="457.4" stroke="#333" stroke-width="0.7" />
<line x1="54.61" y1="456" x2="54.61" y2="457.4" stroke="#333" stroke-width="0.7" />
<line x1="55.25" y1="456" x2="55.25" y2="458.2" stroke="#333" stroke-width="0.7" />
<line x1="59.48" y1="456" x2="59.48" y2="457.4" stroke="#333" stroke-width="0.7" />
<line x1="61.95" y1="456" x2="61.95" y2="457.4" stroke="#333" stroke-width="0.7" />
<line x1="63.7" y1="456" x2="63.7" y2="457.4" stroke="#333" stroke-width="0.7" />
<line x1="65.06" y1="456" x2="65.06" y2="457.4" stroke="#333" stroke-width="0.7" />
<line x1="66.18" y1="456" x2="66.18" y2="457.4" stroke="#333" stroke-width="0.7" />
<line x1="67.12" y1="456" x2="67.12" y2="457.4" stroke="#333" stroke-width="0.7" />
<line x1="67.93" y1="456" x2="67.93" y2="457.4" stroke="#333" stroke-width="0.7" />
<line x1="68.65" y1="456" x2="68.65" y2="457.4" stroke="#333" stroke-width="0.7" />
<line x1="69.29" y1="456" x2="69.29" y2="458.2" stroke="#333" stroke-width="0.7" />
<line x1="73.52" y1="456" x2="73.52" y2="457.4" stroke="#333" stroke-width="0.7" />
<line x1="75.99" y1="456" x2="75.99" y2="457.4" stroke="#333" stroke-width="0.7" />
<line x1="77.74" y1="456" x2="77.74" y2="457.4" stroke="#333" stroke-width="0.7" />
<line x1="79.11" y1="456" x2="79.11" y2="457.4" stroke="#333" stroke-width="0.7" />
<line x1="80.22" y1="456" x2="80.22" y2="457.4" stroke="#333" stroke-width="0.7" />
<line x1="81.16" y1="456" x2="81.16" y2="457.4" stroke="#333" stroke-width="0.7" />
<line x1="81.97" y1="456" x2="81.97" y2="457.4" stroke="#333" stroke-width="0.7" />
<line x1="82.69" y1="456" x2="82.69" y2="457.4" stroke="#333" stroke-width="0.7" />
<line x1="83.33" y1="456" x2="83.33" y2="458.2" stroke="#333" stroke-width="0.7" />
<line x1="87.56" y1="456" x2="87.56" y2="457.4" stroke="#333" stroke-width="0.7" />
<line x1="90.03" y1="456" x2="90.03" y2="457.4" stroke="#333" stroke-width="0.7" />
<text x="135.15" y="377.7" font-size="11" text-anchor="middle" font-weight="normal" fill="#151515" stroke="#151515" stroke-width="0.12"  textLength="22.22" lengthAdjust="spacingAndGlyphs">CMP</text>
<polygon points="107.3,456 108.5,450 109.5,432 110.5,405 111.6,387.5 112.6,390 113.6,410 114.8,432 116,448 117.7,455 122,455.8 135,456" fill="#dcebcb" stroke="none"/>
<polyline points="107.3,456 108.5,450 109.5,432 110.5,405 111.6,387.5 112.6,390 113.6,410 114.8,432 116,448 117.7,455 122,455.8 135,456" fill="none" stroke="#6aa656" stroke-width="0.8"/>
<polyline points="107.5,456 107.64,454.7 107.79,453.82 107.93,453.71 108.08,452.12 108.22,451.08 108.37,451.01 108.51,449.4 108.66,449.23 108.8,448.17 108.85,447.43 108.89,446.63 108.94,445.35 108.98,444.66 109.03,442.99 109.07,442.81 109.12,441.65 109.16,440.94 109.21,439.42 109.25,439.16 109.3,438.43 109.35,436.65 109.39,436.01 109.44,435.34 109.48,434.69 109.53,433.2 109.57,432.23 109.62,431.39 109.66,430.84 109.71,430.07 109.75,428.8 109.8,427.87 109.84,426.97 109.89,426 109.93,425.14 109.98,423.88 110.02,423.37 110.07,422.92 110.11,421.43 110.16,420.84 110.2,419.33 110.24,418.93 110.29,418.07 110.33,417.06 110.38,415.98 110.42,415.02 110.47,414.25 110.51,413.58 110.56,411.91 110.6,410.93 110.64,410.66 110.69,409.9 110.73,408.57 110.78,407.57 110.82,406.92 110.87,405.46 110.91,404.62 110.96,403.63 111,403.09 111.1,401.88 111.2,400.86 111.3,400.38 111.4,399.7 111.5,398.11 111.6,397.58 111.7,396.35 111.8,395.85 111.9,394.65 112,393.39 112.1,392.41 112.2,391.27 112.3,390.79 112.4,389.76 112.5,388.61 112.6,387.86 112.67,388.72 112.73,390.07 112.8,390.34 112.87,392.09 112.93,392.48 113,393.5 113.07,394.27 113.13,395.53 113.2,396.42 113.27,397.06 113.33,397.88 113.4,399.02 113.47,400.06 113.53,400.5 113.6,401.73 113.67,402.86 113.73,403.27 113.8,403.93 113.87,404.83 113.93,406.22 114,407.08 114.07,408.26 114.13,409.05 114.2,409.34 114.3,410.19 114.41,411.16 114.51,411.99 114.62,413.4 114.72,414.46 114.82,415.4 114.93,415.66 115.03,417.17 115.14,417.51 115.24,418.52 115.34,419.73 115.45,419.99 115.55,420.89 115.66,422.53 115.76,422.89 115.86,423.86 115.97,424.98 116.07,425.98 116.18,426.21 116.28,427.43 116.38,428.44 116.49,429.39 116.59,430.01 116.7,431.29 116.8,432.56 117.16,432.85 117.52,433.86 117.88,434.3 118.24,435.31 118.6,436.57 119.46,436.37 120.32,437.51 121.18,437.89 122.04,437.44 122.9,438.64 123.98,438.27 125.05,438.87 126.12,439.06 127.2,438.8 128.37,439.31 129.53,439.42 130.7,439.71 131.57,439.63 132.43,440.59 133.3,441.26 133.67,441.83 134.04,442.55 134.41,442.98 134.79,444.22 135.16,444.94 135.53,446.16 135.9,446.98 136.47,447.73 137.03,448.22 137.6,449.55 138.17,450.4 138.73,450.81 139.3,452.39 140.02,452.82 140.73,452.96 141.45,454.43 142.17,454.31 142.88,455.16 143.6,456" fill="none" stroke="#26406e" stroke-width="1.35" stroke-dasharray="1.7,1.0"/>
<polyline points="107.3,456 107.47,455.24 107.64,454.11 107.81,453.06 107.99,452.16 108.16,450.95 108.33,449.79 108.5,448.64 108.55,447.62 108.6,447.43 108.66,446.57 108.71,445.43 108.76,444.74 108.81,443.42 108.87,442.41 108.92,441.63 108.97,441.27 109.02,439.45 109.08,439.05 109.13,437.86 109.18,437.53 109.23,436.17 109.29,435.24 109.34,434.42 109.39,433.66 109.44,433.01 109.5,431.65 109.55,431.29 109.6,429.57 109.64,428.82 109.69,427.71 109.73,426.8 109.78,426.6 109.82,425.62 109.87,424.1 109.91,423.18 109.96,422.5 110,421.93 110.04,421.09 110.09,420.09 110.13,418.99 110.18,417.57 110.22,416.93 110.27,415.77 110.31,415.22 110.36,414.33 110.4,413.01 110.44,412.13 110.49,411.79 110.53,410.04 110.58,409.96 110.62,409.13 110.67,408.27 110.71,406.72 110.76,405.98 110.8,405.09 110.89,404.2 110.99,403.64 111.08,402.37 111.18,401 111.27,400.67 111.37,399.32 111.46,398.5 111.56,397.69 111.65,395.95 111.74,395.85 111.84,394.79 111.93,393.66 112.03,392.75 112.12,391.73 112.22,390.5 112.31,389.92 112.41,388.44 112.5,388 112.6,389.09 112.7,389.8 112.8,390.86 112.9,392.22 113,393.07 113.1,393.17 113.2,394.82 113.3,395.56 113.4,395.86 113.5,397.13 113.6,397.92 113.7,398.68 113.8,400.11 113.9,401.47 113.96,401.72 114.03,403.23 114.09,403.95 114.15,404.24 114.22,405.95 114.28,406.57 114.34,407.84 114.41,408.52 114.47,409.46 114.53,409.93 114.59,411.35 114.66,412.4 114.72,413.23 114.78,413.68 114.85,414.94 114.91,415.55 114.97,416.05 115.04,416.89 115.1,417.84 115.21,418.89 115.33,419.77 115.44,421.06 115.55,422.2 115.67,422.94 115.78,423.73 115.89,424.9 116.01,425.45 116.12,426.54 116.23,427.78 116.35,428.31 116.46,428.99 116.57,430.7 116.69,431.42 116.8,431.95 116.98,432.91 117.16,434.03 117.34,435.06 117.52,435.6 117.7,436.3 117.88,437.48 118.06,439.06 118.24,439.31 118.42,440.61 118.6,441.26 119.47,441.88 120.33,442.44 121.2,443.29 122.33,443.3 123.47,443.41 124.6,443.77 125.47,444.06 126.35,444.64 127.22,444.39 128.1,444.57 129.18,444.82 130.25,444.55 131.32,444.65 132.4,443.71 133.27,444.69 134.13,445.29 135,445.48 135.58,447.38 136.17,447.42 136.75,448.15 137.33,449.44 137.92,449.96 138.5,451.33 139.18,451.71 139.86,452.15 140.54,452.75 141.22,454.17 141.9,454.35 142.75,455.62 143.6,456" fill="none" stroke="#8e1540" stroke-width="1.45"/>
<polyline points="107.3,456 108.5,450 109.5,432 110.5,405 111.6,387.5 112.6,390" fill="none" stroke="#2a2a2a" stroke-width="0.9"/>
<rect x="99" y="382.8" width="72.3" height="73.2" fill="none" stroke="#333" stroke-width="1" />
<line x1="96.8" y1="386.8" x2="99" y2="386.8" stroke="#333" stroke-width="0.8" />
<line x1="96.8" y1="400.64" x2="99" y2="400.64" stroke="#333" stroke-width="0.8" />
<line x1="96.8" y1="414.48" x2="99" y2="414.48" stroke="#333" stroke-width="0.8" />
<line x1="96.8" y1="428.32" x2="99" y2="428.32" stroke="#333" stroke-width="0.8" />
<line x1="96.8" y1="442.16" x2="99" y2="442.16" stroke="#333" stroke-width="0.8" />
<line x1="96.8" y1="456" x2="99" y2="456" stroke="#333" stroke-width="0.8" />
<line x1="107.68" y1="456" x2="107.68" y2="458.2" stroke="#333" stroke-width="0.7" />
<line x1="111.81" y1="456" x2="111.81" y2="457.4" stroke="#333" stroke-width="0.7" />
<line x1="114.23" y1="456" x2="114.23" y2="457.4" stroke="#333" stroke-width="0.7" />
<line x1="115.95" y1="456" x2="115.95" y2="457.4" stroke="#333" stroke-width="0.7" />
<line x1="117.28" y1="456" x2="117.28" y2="457.4" stroke="#333" stroke-width="0.7" />
<line x1="118.37" y1="456" x2="118.37" y2="457.4" stroke="#333" stroke-width="0.7" />
<line x1="119.29" y1="456" x2="119.29" y2="457.4" stroke="#333" stroke-width="0.7" />
<line x1="120.08" y1="456" x2="120.08" y2="457.4" stroke="#333" stroke-width="0.7" />
<line x1="120.78" y1="456" x2="120.78" y2="457.4" stroke="#333" stroke-width="0.7" />
<line x1="121.41" y1="456" x2="121.41" y2="458.2" stroke="#333" stroke-width="0.7" />
<line x1="125.55" y1="456" x2="125.55" y2="457.4" stroke="#333" stroke-width="0.7" />
<line x1="127.97" y1="456" x2="127.97" y2="457.4" stroke="#333" stroke-width="0.7" />
<line x1="129.68" y1="456" x2="129.68" y2="457.4" stroke="#333" stroke-width="0.7" />
<line x1="131.01" y1="456" x2="131.01" y2="457.4" stroke="#333" stroke-width="0.7" />
<line x1="132.1" y1="456" x2="132.1" y2="457.4" stroke="#333" stroke-width="0.7" />
<line x1="133.02" y1="456" x2="133.02" y2="457.4" stroke="#333" stroke-width="0.7" />
<line x1="133.82" y1="456" x2="133.82" y2="457.4" stroke="#333" stroke-width="0.7" />
<line x1="134.52" y1="456" x2="134.52" y2="457.4" stroke="#333" stroke-width="0.7" />
<line x1="135.15" y1="456" x2="135.15" y2="458.2" stroke="#333" stroke-width="0.7" />
<line x1="139.29" y1="456" x2="139.29" y2="457.4" stroke="#333" stroke-width="0.7" />
<line x1="141.7" y1="456" x2="141.7" y2="457.4" stroke="#333" stroke-width="0.7" />
<line x1="143.42" y1="456" x2="143.42" y2="457.4" stroke="#333" stroke-width="0.7" />
<line x1="144.75" y1="456" x2="144.75" y2="457.4" stroke="#333" stroke-width="0.7" />
<line x1="145.84" y1="456" x2="145.84" y2="457.4" stroke="#333" stroke-width="0.7" />
<line x1="146.76" y1="456" x2="146.76" y2="457.4" stroke="#333" stroke-width="0.7" />
<line x1="147.56" y1="456" x2="147.56" y2="457.4" stroke="#333" stroke-width="0.7" />
<line x1="148.26" y1="456" x2="148.26" y2="457.4" stroke="#333" stroke-width="0.7" />
<line x1="148.89" y1="456" x2="148.89" y2="458.2" stroke="#333" stroke-width="0.7" />
<line x1="153.02" y1="456" x2="153.02" y2="457.4" stroke="#333" stroke-width="0.7" />
<line x1="155.44" y1="456" x2="155.44" y2="457.4" stroke="#333" stroke-width="0.7" />
<line x1="157.16" y1="456" x2="157.16" y2="457.4" stroke="#333" stroke-width="0.7" />
<line x1="158.49" y1="456" x2="158.49" y2="457.4" stroke="#333" stroke-width="0.7" />
<line x1="159.58" y1="456" x2="159.58" y2="457.4" stroke="#333" stroke-width="0.7" />
<line x1="160.5" y1="456" x2="160.5" y2="457.4" stroke="#333" stroke-width="0.7" />
<line x1="161.29" y1="456" x2="161.29" y2="457.4" stroke="#333" stroke-width="0.7" />
<line x1="162" y1="456" x2="162" y2="457.4" stroke="#333" stroke-width="0.7" />
<line x1="162.62" y1="456" x2="162.62" y2="458.2" stroke="#333" stroke-width="0.7" />
<line x1="166.76" y1="456" x2="166.76" y2="457.4" stroke="#333" stroke-width="0.7" />
<line x1="169.18" y1="456" x2="169.18" y2="457.4" stroke="#333" stroke-width="0.7" />
<text x="214.8" y="377.7" font-size="11" text-anchor="middle" font-weight="normal" fill="#151515" stroke="#151515" stroke-width="0.12"  textLength="22.78" lengthAdjust="spacingAndGlyphs">GMP</text>
<polygon points="189,456 190.5,445 192.5,409.6 194.5,392 196,387.5 197.5,392 199.4,409.6 202.9,440.8 205,450 207.2,454.6 212,455.8 225,456" fill="#dcebcb" stroke="none"/>
<polyline points="189,456 190.5,445 192.5,409.6 194.5,392 196,387.5 197.5,392 199.4,409.6 202.9,440.8 205,450 207.2,454.6 212,455.8 225,456" fill="none" stroke="#6aa656" stroke-width="0.8"/>
<polyline points="188.9,456 189.03,455.06 189.15,454.61 189.28,453.07 189.41,452.11 189.54,451.22 189.66,450.86 189.79,449.77 189.92,448.57 190.05,447.41 190.17,447.09 190.3,446.47 190.37,445.18 190.45,443.68 190.52,442.79 190.6,441.94 190.67,441.11 190.74,440.06 190.82,439.16 190.89,438.85 190.97,438.18 191.04,436.57 191.11,436.43 191.19,435.02 191.26,434.43 191.33,433.63 191.41,432.74 191.48,430.93 191.56,430.28 191.63,429.67 191.7,429.1 191.78,427.33 191.85,426.62 191.93,426.26 192,424.61 192.09,423.96 192.19,422.98 192.28,422.4 192.37,421.72 192.46,420.05 192.56,419.68 192.65,418.75 192.74,417.93 192.83,416.72 192.93,416.16 193.02,414.68 193.11,413.8 193.2,412.69 193.3,412.32 193.39,411.09 193.48,409.95 193.57,408.93 193.67,408.55 193.76,407.51 193.85,406.69 193.94,405.44 194.04,404.62 194.13,403.36 194.22,402.99 194.31,401.37 194.41,400.89 194.5,400.26 194.71,399.28 194.93,397.81 195.14,397.06 195.36,396.77 195.57,395.68 195.79,395.02 196,394.12 196.21,392.81 196.43,392.36 196.64,391.3 196.86,390.01 197.07,389.16 197.29,387.96 197.5,387.4 197.76,388.86 198.02,388.9 198.28,390.27 198.54,390.71 198.8,391.58 198.99,393.05 199.18,393.54 199.36,394.25 199.55,395.25 199.74,396.64 199.93,397.49 200.11,397.81 200.3,398.93 200.42,400.58 200.55,400.74 200.67,401.99 200.8,402.76 200.92,404.03 201.04,404.76 201.17,405.86 201.29,406.51 201.41,407.07 201.54,407.97 201.66,408.78 201.79,410.44 201.91,410.64 202.03,411.46 202.16,413.31 202.28,413.45 202.4,415.06 202.53,415.16 202.65,416.45 202.78,417.11 202.9,418.63 203.02,419.32 203.15,420.25 203.27,421.28 203.4,422.29 203.52,422.67 203.64,423.83 203.77,424.58 203.89,425.15 204.01,426.78 204.14,427.44 204.26,428.57 204.39,428.86 204.51,430.1 204.63,430.93 204.76,432.1 204.88,432.35 205,433.53 205.13,434.57 205.25,435.06 205.38,436.45 205.5,437.54 206.15,436.35 206.8,435.7 207.45,434.78 208.1,433.51 208.33,432.73 208.55,432.46 208.78,430.88 209.01,430.05 209.23,428.78 209.46,428 209.69,427.03 209.91,426.87 210.14,425.75 210.37,424.97 210.59,424.17 210.82,422.87 211.05,422.27 211.27,420.96 211.5,419.92 211.67,419.56 211.83,418.63 212,417.78 212.17,416.43 212.33,415.83 212.5,414.57 212.67,414.28 212.83,413.31 213,411.79 213.28,411.41 213.55,409.63 213.82,408.52 214.1,408.12 214.27,406.71 214.44,405.95 214.61,405.08 214.79,403.5 214.96,403.22 215.13,401.76 215.3,400.93 215.53,401.84 215.77,403.24 216,404.25 216.23,404.79 216.47,405.6 216.7,406.8 216.97,405.91 217.23,404.58 217.5,403.65 217.67,405.2 217.83,406.07 218,407.28 218.17,408.21 218.33,409.04 218.5,409.47 218.7,410.19 218.9,411.27 219.1,412.36 219.3,413.35 219.5,414.3 219.7,415.04 219.9,416.47 220.1,416.83 220.3,417.94 220.5,419.29 220.7,420.15 220.9,420.57 221.1,421.44 221.22,422.92 221.35,423.03 221.47,424.06 221.6,425.37 221.72,426.28 221.84,426.82 221.97,427.62 222.09,428.68 222.21,430.16 222.34,430.76 222.46,432.18 222.59,432.9 222.71,434 222.83,433.97 222.96,435.03 223.08,435.77 223.2,437.09 223.33,437.91 223.45,438.53 223.58,439.94 223.7,440.39 223.87,441.53 224.03,442.39 224.2,443.86 224.37,444.4 224.53,445.16 224.7,445.86 224.87,447.17 225.03,448.29 225.2,449.26 225.37,450.41 225.53,451.23 225.7,451.59 225.87,452.4 226.03,453.94 226.2,454.89 227.2,456" fill="none" stroke="#26406e" stroke-width="1.35" stroke-dasharray="1.7,1.0"/>
<polyline points="188.7,456 188.83,455.11 188.96,454.56 189.09,453.36 189.22,452.16 189.35,451.14 189.48,450.07 189.61,449.86 189.74,449.24 189.87,448.35 190,446.96 190.07,446.27 190.15,445.65 190.22,444.62 190.29,443.48 190.36,442.36 190.44,441.57 190.51,440.27 190.58,439.38 190.65,439.02 190.73,438.45 190.8,437.05 190.87,435.99 190.95,435.02 191.02,434.22 191.09,433.7 191.16,432.4 191.24,432.05 191.31,430.26 191.38,429.52 191.45,428.84 191.53,427.81 191.6,427.39 191.69,426.46 191.78,425.68 191.87,424.43 191.96,422.9 192.05,422.6 192.14,421.68 192.23,420.71 192.32,419.59 192.41,419.16 192.5,418.49 192.59,416.7 192.68,416.43 192.77,415.2 192.86,414.46 192.94,413.99 193.03,413.16 193.12,411.92 193.21,410.53 193.3,410.43 193.39,408.72 193.48,408.04 193.57,407.64 193.66,406.18 193.75,405.23 193.84,405.08 193.93,404.18 194.02,402.59 194.11,401.78 194.2,400.76 194.38,399.67 194.55,398.88 194.73,398.76 194.91,396.84 195.08,396.09 195.26,395.13 195.44,394.08 195.62,393.64 195.79,392.96 195.97,392.14 196.15,390.99 196.32,390.27 196.5,388.46 197.1,387.81 197.7,387.61 198.02,387.6 198.35,388.79 198.68,390.01 199,390.74 199.12,391.96 199.24,392.32 199.35,393.44 199.47,395.14 199.59,395.15 199.71,396.9 199.83,397.01 199.95,398.81 200.06,399.37 200.18,400.25 200.3,400.61 200.4,401.41 200.49,403.08 200.59,403.33 200.69,404.24 200.78,405.84 200.88,406.79 200.97,406.78 201.07,408.68 201.17,409.1 201.26,409.83 201.36,410.43 201.46,411.63 201.55,413.19 201.65,413.31 201.74,414.04 201.84,414.95 201.94,415.83 202.03,416.97 202.13,418.49 202.23,418.46 202.32,419.48 202.42,421.2 202.51,422.16 202.61,423.04 202.71,423.13 202.8,424.14 202.9,425.7 203.01,426.1 203.13,427.26 203.24,427.75 203.35,428.35 203.47,429.63 203.58,430.99 203.69,431.95 203.81,432.64 203.92,433.44 204.03,434.44 204.15,435.26 204.26,436.28 204.37,437.53 204.49,437.75 204.6,439.1 204.94,440.36 205.28,441.14 205.62,441.29 205.96,443.03 206.3,443.77 206.88,442.3 207.47,441.68 208.05,440.87 208.63,439.98 209.22,440.26 209.8,438.9 210.15,438.55 210.5,436.86 210.85,435.89 211.2,435.97 211.55,435.02 211.9,434.38 212.25,433.18 212.6,432.15 212.95,431.55 213.3,429.95 213.68,429.58 214.06,428.6 214.43,427.41 214.81,427.04 215.19,425.87 215.57,425.21 215.94,424.19 216.32,423.27 216.7,422.44 217.35,423.36 218,424.43 218.65,425.03 219.3,425.6 219.5,426.5 219.7,426.83 219.9,428.52 220.1,428.67 220.3,429.44 220.5,430.79 220.7,431.97 220.9,432.47 221.1,433.74 221.3,434.27 221.5,435.95 221.7,436.32 221.9,437.28 222.1,438.27 222.3,439.57 222.5,440.63 222.7,441.05 222.9,441.89 223.1,443.01 223.3,443.34 223.5,444.66 223.7,446.06 223.9,446.91 224.1,447.05 224.3,448.86 224.5,449.27 224.87,450.87 225.24,451.14 225.61,451.91 225.99,453.23 226.36,454.54 226.73,454.98 227.1,456" fill="none" stroke="#8e1540" stroke-width="1.45"/>
<polyline points="189,456 190.5,445 192.5,409.6 194.5,392 196,387.5 197.5,392" fill="none" stroke="#2a2a2a" stroke-width="0.9"/>
<rect x="178.3" y="382.8" width="73" height="73.2" fill="none" stroke="#333" stroke-width="1" />
<line x1="176.1" y1="386.8" x2="178.3" y2="386.8" stroke="#333" stroke-width="0.8" />
<line x1="176.1" y1="400.64" x2="178.3" y2="400.64" stroke="#333" stroke-width="0.8" />
<line x1="176.1" y1="414.48" x2="178.3" y2="414.48" stroke="#333" stroke-width="0.8" />
<line x1="176.1" y1="428.32" x2="178.3" y2="428.32" stroke="#333" stroke-width="0.8" />
<line x1="176.1" y1="442.16" x2="178.3" y2="442.16" stroke="#333" stroke-width="0.8" />
<line x1="176.1" y1="456" x2="178.3" y2="456" stroke="#333" stroke-width="0.8" />
<line x1="187.06" y1="456" x2="187.06" y2="458.2" stroke="#333" stroke-width="0.7" />
<line x1="191.24" y1="456" x2="191.24" y2="457.4" stroke="#333" stroke-width="0.7" />
<line x1="193.68" y1="456" x2="193.68" y2="457.4" stroke="#333" stroke-width="0.7" />
<line x1="195.41" y1="456" x2="195.41" y2="457.4" stroke="#333" stroke-width="0.7" />
<line x1="196.75" y1="456" x2="196.75" y2="457.4" stroke="#333" stroke-width="0.7" />
<line x1="197.85" y1="456" x2="197.85" y2="457.4" stroke="#333" stroke-width="0.7" />
<line x1="198.78" y1="456" x2="198.78" y2="457.4" stroke="#333" stroke-width="0.7" />
<line x1="199.59" y1="456" x2="199.59" y2="457.4" stroke="#333" stroke-width="0.7" />
<line x1="200.3" y1="456" x2="200.3" y2="457.4" stroke="#333" stroke-width="0.7" />
<line x1="200.93" y1="456" x2="200.93" y2="458.2" stroke="#333" stroke-width="0.7" />
<line x1="205.11" y1="456" x2="205.11" y2="457.4" stroke="#333" stroke-width="0.7" />
<line x1="207.55" y1="456" x2="207.55" y2="457.4" stroke="#333" stroke-width="0.7" />
<line x1="209.28" y1="456" x2="209.28" y2="457.4" stroke="#333" stroke-width="0.7" />
<line x1="210.62" y1="456" x2="210.62" y2="457.4" stroke="#333" stroke-width="0.7" />
<line x1="211.72" y1="456" x2="211.72" y2="457.4" stroke="#333" stroke-width="0.7" />
<line x1="212.65" y1="456" x2="212.65" y2="457.4" stroke="#333" stroke-width="0.7" />
<line x1="213.46" y1="456" x2="213.46" y2="457.4" stroke="#333" stroke-width="0.7" />
<line x1="214.17" y1="456" x2="214.17" y2="457.4" stroke="#333" stroke-width="0.7" />
<line x1="214.8" y1="456" x2="214.8" y2="458.2" stroke="#333" stroke-width="0.7" />
<line x1="218.98" y1="456" x2="218.98" y2="457.4" stroke="#333" stroke-width="0.7" />
<line x1="221.42" y1="456" x2="221.42" y2="457.4" stroke="#333" stroke-width="0.7" />
<line x1="223.15" y1="456" x2="223.15" y2="457.4" stroke="#333" stroke-width="0.7" />
<line x1="224.49" y1="456" x2="224.49" y2="457.4" stroke="#333" stroke-width="0.7" />
<line x1="225.59" y1="456" x2="225.59" y2="457.4" stroke="#333" stroke-width="0.7" />
<line x1="226.52" y1="456" x2="226.52" y2="457.4" stroke="#333" stroke-width="0.7" />
<line x1="227.33" y1="456" x2="227.33" y2="457.4" stroke="#333" stroke-width="0.7" />
<line x1="228.04" y1="456" x2="228.04" y2="457.4" stroke="#333" stroke-width="0.7" />
<line x1="228.67" y1="456" x2="228.67" y2="458.2" stroke="#333" stroke-width="0.7" />
<line x1="232.85" y1="456" x2="232.85" y2="457.4" stroke="#333" stroke-width="0.7" />
<line x1="235.29" y1="456" x2="235.29" y2="457.4" stroke="#333" stroke-width="0.7" />
<line x1="237.02" y1="456" x2="237.02" y2="457.4" stroke="#333" stroke-width="0.7" />
<line x1="238.36" y1="456" x2="238.36" y2="457.4" stroke="#333" stroke-width="0.7" />
<line x1="239.46" y1="456" x2="239.46" y2="457.4" stroke="#333" stroke-width="0.7" />
<line x1="240.39" y1="456" x2="240.39" y2="457.4" stroke="#333" stroke-width="0.7" />
<line x1="241.2" y1="456" x2="241.2" y2="457.4" stroke="#333" stroke-width="0.7" />
<line x1="241.91" y1="456" x2="241.91" y2="457.4" stroke="#333" stroke-width="0.7" />
<line x1="242.54" y1="456" x2="242.54" y2="458.2" stroke="#333" stroke-width="0.7" />
<line x1="246.72" y1="456" x2="246.72" y2="457.4" stroke="#333" stroke-width="0.7" />
<line x1="249.16" y1="456" x2="249.16" y2="457.4" stroke="#333" stroke-width="0.7" />
<text x="25" y="474.3" font-size="11.22" text-anchor="start" font-weight="normal" fill="#151515" stroke="#151515" stroke-width="0.12"  textLength="17.4" lengthAdjust="spacingAndGlyphs">IRF8</text>
<line x1="45.5" y1="471" x2="249" y2="471" stroke="#111" stroke-width="1.4" />
<polygon points="247.5,467.6 255.5,471 247.5,474.4" fill="#111"/>
<line x1="309.6" y1="474.3" x2="309.6" y2="359" stroke="#000" stroke-width="1.35" />
<line x1="306.6" y1="473.7" x2="309.6" y2="473.7" stroke="#000" stroke-width="1.35" />
<text x="304.1" y="476.58" font-size="8.8" text-anchor="end" font-weight="normal" fill="#151515" stroke="#151515" stroke-width="0.12"  textLength="4.45" lengthAdjust="spacingAndGlyphs">0</text>
<line x1="306.6" y1="436.23" x2="309.6" y2="436.23" stroke="#000" stroke-width="1.35" />
<text x="304.1" y="439.11" font-size="8.8" text-anchor="end" font-weight="normal" fill="#151515" stroke="#151515" stroke-width="0.12"  textLength="8.9" lengthAdjust="spacingAndGlyphs">20</text>
<line x1="306.6" y1="398.77" x2="309.6" y2="398.77" stroke="#000" stroke-width="1.35" />
<text x="304.1" y="401.65" font-size="8.8" text-anchor="end" font-weight="normal" fill="#151515" stroke="#151515" stroke-width="0.12"  textLength="8.9" lengthAdjust="spacingAndGlyphs">40</text>
<line x1="306.6" y1="361.3" x2="309.6" y2="361.3" stroke="#000" stroke-width="1.35" />
<text x="304.1" y="364.18" font-size="8.8" text-anchor="end" font-weight="normal" fill="#151515" stroke="#151515" stroke-width="0.12"  textLength="8.9" lengthAdjust="spacingAndGlyphs">60</text>
<line x1="309" y1="473.7" x2="384" y2="473.7" stroke="#000" stroke-width="1.35" />
<line x1="320.4" y1="473.7" x2="320.4" y2="476.4" stroke="#000" stroke-width="1.35" />
<line x1="346.5" y1="473.7" x2="346.5" y2="476.4" stroke="#000" stroke-width="1.35" />
<line x1="372.5" y1="473.7" x2="372.5" y2="476.4" stroke="#000" stroke-width="1.35" />
<text x="320.4" y="487.2" font-size="9.02" text-anchor="middle" font-weight="normal" fill="#151515" stroke="#151515" stroke-width="0.12"  textLength="15.5" lengthAdjust="spacingAndGlyphs">LSK</text>
<text x="346.5" y="487.2" font-size="9.02" text-anchor="middle" font-weight="normal" fill="#151515" stroke="#151515" stroke-width="0.12"  textLength="18.22" lengthAdjust="spacingAndGlyphs">CMP</text>
<text x="372.5" y="487.2" font-size="9.02" text-anchor="middle" font-weight="normal" fill="#151515" stroke="#151515" stroke-width="0.12"  textLength="18.68" lengthAdjust="spacingAndGlyphs">GMP</text>
<text transform="translate(288.2 417) rotate(-90)" font-size="9" text-anchor="middle" fill="#151515" stroke="#151515" stroke-width="0.12">IRF8<tspan dy="-3" font-size="5.5">+</tspan><tspan dy="3"> (%)</tspan></text>
<line x1="315" y1="361.2" x2="325.8" y2="361.2" stroke="#000" stroke-width="1.5" />
<text x="320.4" y="361.66" font-size="8.5" text-anchor="middle" font-weight="normal" fill="#151515" stroke="#151515" stroke-width="0.12" >**</text>
<line x1="340.8" y1="361.2" x2="351.3" y2="361.2" stroke="#000" stroke-width="1.5" />
<line x1="366.2" y1="361.2" x2="376.9" y2="361.2" stroke="#000" stroke-width="1.5" />
<text x="371.55" y="361.66" font-size="8.5" text-anchor="middle" font-weight="normal" fill="#151515" stroke="#151515" stroke-width="0.12" >*</text>
<text x="346.5" y="358" font-size="8.25" text-anchor="middle" font-weight="normal" fill="#151515" stroke="#151515" stroke-width="0.12"  textLength="25.23" lengthAdjust="spacingAndGlyphs">p= .083</text>
<circle cx="312.3" cy="435.2" r="2.25" fill="#910D36" stroke="#650725" stroke-width="0.5"/>
<circle cx="316.7" cy="436.2" r="2.25" fill="#910D36" stroke="#650725" stroke-width="0.5"/>
<circle cx="319.5" cy="435.6" r="2.25" fill="#910D36" stroke="#650725" stroke-width="0.5"/>
<circle cx="315.8" cy="439.5" r="2.25" fill="#910D36" stroke="#650725" stroke-width="0.5"/>
<circle cx="315.4" cy="446.3" r="2.25" fill="#910D36" stroke="#650725" stroke-width="0.5"/>
<rect x="323.4" y="404.9" width="4" height="4" fill="white" fill-opacity="0.85" stroke="#303f62" stroke-width="1.15"/>
<rect x="319.5" y="421.7" width="4" height="4" fill="white" fill-opacity="0.85" stroke="#303f62" stroke-width="1.15"/>
<rect x="323.4" y="422.2" width="4" height="4" fill="white" fill-opacity="0.85" stroke="#303f62" stroke-width="1.15"/>
<rect x="327.2" y="420.7" width="4" height="4" fill="white" fill-opacity="0.85" stroke="#303f62" stroke-width="1.15"/>
<rect x="322.8" y="424.9" width="4" height="4" fill="white" fill-opacity="0.85" stroke="#303f62" stroke-width="1.15"/>
<circle cx="338.5" cy="394.2" r="2.25" fill="#910D36" stroke="#650725" stroke-width="0.5"/>
<circle cx="343.7" cy="396.2" r="2.25" fill="#910D36" stroke="#650725" stroke-width="0.5"/>
<circle cx="341.3" cy="404.8" r="2.25" fill="#910D36" stroke="#650725" stroke-width="0.5"/>
<circle cx="341.7" cy="409.6" r="2.25" fill="#910D36" stroke="#650725" stroke-width="0.5"/>
<circle cx="342.3" cy="407" r="2.25" fill="#910D36" stroke="#650725" stroke-width="0.5"/>
<rect x="346.1" y="384.2" width="4" height="4" fill="white" fill-opacity="0.85" stroke="#303f62" stroke-width="1.15"/>
<rect x="351.3" y="388.4" width="4" height="4" fill="white" fill-opacity="0.85" stroke="#303f62" stroke-width="1.15"/>
<rect x="349.9" y="391.8" width="4" height="4" fill="white" fill-opacity="0.85" stroke="#303f62" stroke-width="1.15"/>
<rect x="349.3" y="396.5" width="4" height="4" fill="white" fill-opacity="0.85" stroke="#303f62" stroke-width="1.15"/>
<rect x="349.3" y="399.5" width="4" height="4" fill="white" fill-opacity="0.85" stroke="#303f62" stroke-width="1.15"/>
<circle cx="367.7" cy="377.9" r="2.25" fill="#910D36" stroke="#650725" stroke-width="0.5"/>
<circle cx="363.8" cy="393.8" r="2.25" fill="#910D36" stroke="#650725" stroke-width="0.5"/>
<circle cx="368.1" cy="395.5" r="2.25" fill="#910D36" stroke="#650725" stroke-width="0.5"/>
<circle cx="371.5" cy="393.8" r="2.25" fill="#910D36" stroke="#650725" stroke-width="0.5"/>
<circle cx="366.7" cy="398" r="2.25" fill="#910D36" stroke="#650725" stroke-width="0.5"/>
<rect x="375.7" y="366.3" width="4" height="4" fill="white" fill-opacity="0.85" stroke="#303f62" stroke-width="1.15"/>
<rect x="375.7" y="373" width="4" height="4" fill="white" fill-opacity="0.85" stroke="#303f62" stroke-width="1.15"/>
<rect x="375.7" y="376.8" width="4" height="4" fill="white" fill-opacity="0.85" stroke="#303f62" stroke-width="1.15"/>
<rect x="375.7" y="380.7" width="4" height="4" fill="white" fill-opacity="0.85" stroke="#303f62" stroke-width="1.15"/>
<rect x="375.7" y="384.2" width="4" height="4" fill="white" fill-opacity="0.85" stroke="#303f62" stroke-width="1.15"/>
<line x1="313" y1="438.5" x2="320" y2="438.5" stroke="#000" stroke-width="1.1" />
<line x1="316.5" y1="437" x2="316.5" y2="440" stroke="#000" stroke-width="1.1" />
<line x1="315" y1="437" x2="318" y2="437" stroke="#000" stroke-width="1.1" />
<line x1="315" y1="440" x2="318" y2="440" stroke="#000" stroke-width="1.1" />
<line x1="321.9" y1="422.7" x2="328.9" y2="422.7" stroke="#000" stroke-width="1.1" />
<line x1="325.4" y1="417.9" x2="325.4" y2="425.5" stroke="#000" stroke-width="1.1" />
<line x1="323.9" y1="417.9" x2="326.9" y2="417.9" stroke="#000" stroke-width="1.1" />
<line x1="323.9" y1="425.5" x2="326.9" y2="425.5" stroke="#000" stroke-width="1.1" />
<line x1="338.2" y1="402" x2="345.2" y2="402" stroke="#000" stroke-width="1.1" />
<line x1="341.7" y1="398.5" x2="341.7" y2="405.5" stroke="#000" stroke-width="1.1" />
<line x1="340.2" y1="398.5" x2="343.2" y2="398.5" stroke="#000" stroke-width="1.1" />
<line x1="340.2" y1="405.5" x2="343.2" y2="405.5" stroke="#000" stroke-width="1.1" />
<line x1="347.8" y1="393" x2="354.8" y2="393" stroke="#000" stroke-width="1.1" />
<line x1="351.3" y1="390.5" x2="351.3" y2="395.5" stroke="#000" stroke-width="1.1" />
<line x1="349.8" y1="390.5" x2="352.8" y2="390.5" stroke="#000" stroke-width="1.1" />
<line x1="349.8" y1="395.5" x2="352.8" y2="395.5" stroke="#000" stroke-width="1.1" />
<line x1="364.2" y1="392" x2="371.2" y2="392" stroke="#000" stroke-width="1.1" />
<line x1="367.7" y1="388" x2="367.7" y2="396" stroke="#000" stroke-width="1.1" />
<line x1="366.2" y1="388" x2="369.2" y2="388" stroke="#000" stroke-width="1.1" />
<line x1="366.2" y1="396" x2="369.2" y2="396" stroke="#000" stroke-width="1.1" />
<line x1="374.2" y1="377.5" x2="381.2" y2="377.5" stroke="#000" stroke-width="1.1" />
<line x1="377.7" y1="375.5" x2="377.7" y2="379.5" stroke="#000" stroke-width="1.1" />
<line x1="376.2" y1="375.5" x2="379.2" y2="375.5" stroke="#000" stroke-width="1.1" />
<line x1="376.2" y1="379.5" x2="379.2" y2="379.5" stroke="#000" stroke-width="1.1" />
<line x1="428.8" y1="474.3" x2="428.8" y2="359.45" stroke="#000" stroke-width="1.35" />
<line x1="425.8" y1="473.7" x2="428.8" y2="473.7" stroke="#000" stroke-width="1.35" />
<text x="423.3" y="476.44" font-size="8.36" text-anchor="end" font-weight="normal" fill="#151515" stroke="#151515" stroke-width="0.12"  textLength="4.78" lengthAdjust="spacingAndGlyphs">0</text>
<line x1="425.8" y1="436.38" x2="428.8" y2="436.38" stroke="#000" stroke-width="1.35" />
<text x="423.3" y="439.12" font-size="8.36" text-anchor="end" font-weight="normal" fill="#151515" stroke="#151515" stroke-width="0.12"  textLength="19.11" lengthAdjust="spacingAndGlyphs">1000</text>
<line x1="425.8" y1="399.07" x2="428.8" y2="399.07" stroke="#000" stroke-width="1.35" />
<text x="423.3" y="401.8" font-size="8.36" text-anchor="end" font-weight="normal" fill="#151515" stroke="#151515" stroke-width="0.12"  textLength="19.11" lengthAdjust="spacingAndGlyphs">2000</text>
<line x1="425.8" y1="361.75" x2="428.8" y2="361.75" stroke="#000" stroke-width="1.35" />
<text x="423.3" y="364.49" font-size="8.36" text-anchor="end" font-weight="normal" fill="#151515" stroke="#151515" stroke-width="0.12"  textLength="19.11" lengthAdjust="spacingAndGlyphs">3000</text>
<line x1="428.2" y1="473.7" x2="503.7" y2="473.7" stroke="#000" stroke-width="1.35" />
<line x1="440.4" y1="473.7" x2="440.4" y2="476.4" stroke="#000" stroke-width="1.35" />
<line x1="466.3" y1="473.7" x2="466.3" y2="476.4" stroke="#000" stroke-width="1.35" />
<line x1="491.9" y1="473.7" x2="491.9" y2="476.4" stroke="#000" stroke-width="1.35" />
<text x="440.4" y="487.2" font-size="9.02" text-anchor="middle" font-weight="normal" fill="#151515" stroke="#151515" stroke-width="0.12"  textLength="15.5" lengthAdjust="spacingAndGlyphs">LSK</text>
<text x="466.3" y="487.2" font-size="9.02" text-anchor="middle" font-weight="normal" fill="#151515" stroke="#151515" stroke-width="0.12"  textLength="18.22" lengthAdjust="spacingAndGlyphs">CMP</text>
<text x="491.9" y="487.2" font-size="9.02" text-anchor="middle" font-weight="normal" fill="#151515" stroke="#151515" stroke-width="0.12"  textLength="18.68" lengthAdjust="spacingAndGlyphs">GMP</text>
<text transform="translate(398.4 416.3) rotate(-90)" font-size="10.56" text-anchor="middle" fill="#151515" stroke="#151515" stroke-width="0.12" textLength="16.53" lengthAdjust="spacingAndGlyphs">MFI</text>
<circle cx="435.3" cy="431.8" r="2.25" fill="#910D36" stroke="#650725" stroke-width="0.5"/>
<circle cx="435.3" cy="437.3" r="2.25" fill="#910D36" stroke="#650725" stroke-width="0.5"/>
<circle cx="434.3" cy="433.5" r="2.25" fill="#910D36" stroke="#650725" stroke-width="0.5"/>
<rect x="443.3" y="427.5" width="4" height="4" fill="white" fill-opacity="0.85" stroke="#303f62" stroke-width="1.15"/>
<rect x="443.3" y="430.5" width="4" height="4" fill="white" fill-opacity="0.85" stroke="#303f62" stroke-width="1.15"/>
<rect x="443.3" y="434.2" width="4" height="4" fill="white" fill-opacity="0.85" stroke="#303f62" stroke-width="1.15"/>
<circle cx="461.5" cy="408.7" r="2.25" fill="#910D36" stroke="#650725" stroke-width="0.5"/>
<circle cx="460.6" cy="413.2" r="2.25" fill="#910D36" stroke="#650725" stroke-width="0.5"/>
<circle cx="464.2" cy="416" r="2.25" fill="#910D36" stroke="#650725" stroke-width="0.5"/>
<circle cx="459.7" cy="422.3" r="2.25" fill="#910D36" stroke="#650725" stroke-width="0.5"/>
<circle cx="462.5" cy="414.5" r="2.25" fill="#910D36" stroke="#650725" stroke-width="0.5"/>
<rect x="469.4" y="407.1" width="4" height="4" fill="white" fill-opacity="0.85" stroke="#303f62" stroke-width="1.15"/>
<rect x="473" y="407.6" width="4" height="4" fill="white" fill-opacity="0.85" stroke="#303f62" stroke-width="1.15"/>
<rect x="465.8" y="411.2" width="4" height="4" fill="white" fill-opacity="0.85" stroke="#303f62" stroke-width="1.15"/>
<rect x="468.5" y="414" width="4" height="4" fill="white" fill-opacity="0.85" stroke="#303f62" stroke-width="1.15"/>
<rect x="467.5" y="411.5" width="4" height="4" fill="white" fill-opacity="0.85" stroke="#303f62" stroke-width="1.15"/>
<circle cx="487.7" cy="367.6" r="2.25" fill="#910D36" stroke="#650725" stroke-width="0.5"/>
<circle cx="487.7" cy="378.4" r="2.25" fill="#910D36" stroke="#650725" stroke-width="0.5"/>
<circle cx="483.7" cy="387.6" r="2.25" fill="#910D36" stroke="#650725" stroke-width="0.5"/>
<circle cx="489.1" cy="392.5" r="2.25" fill="#910D36" stroke="#650725" stroke-width="0.5"/>
<circle cx="487.7" cy="414.2" r="2.25" fill="#910D36" stroke="#650725" stroke-width="0.5"/>
<rect x="495.3" y="382.4" width="4" height="4" fill="white" fill-opacity="0.85" stroke="#303f62" stroke-width="1.15"/>
<rect x="496.3" y="386" width="4" height="4" fill="white" fill-opacity="0.85" stroke="#303f62" stroke-width="1.15"/>
<rect x="499.3" y="387.5" width="4" height="4" fill="white" fill-opacity="0.85" stroke="#303f62" stroke-width="1.15"/>
<rect x="493.5" y="393.6" width="4" height="4" fill="white" fill-opacity="0.85" stroke="#303f62" stroke-width="1.15"/>
<line x1="432.1" y1="433.1" x2="439.1" y2="433.1" stroke="#000" stroke-width="1.1" />
<line x1="435.6" y1="432" x2="435.6" y2="434.5" stroke="#000" stroke-width="1.1" />
<line x1="434.1" y1="432" x2="437.1" y2="432" stroke="#000" stroke-width="1.1" />
<line x1="434.1" y1="434.5" x2="437.1" y2="434.5" stroke="#000" stroke-width="1.1" />
<line x1="441.8" y1="432" x2="448.8" y2="432" stroke="#000" stroke-width="1.1" />
<line x1="445.3" y1="430.5" x2="445.3" y2="433.5" stroke="#000" stroke-width="1.1" />
<line x1="443.8" y1="430.5" x2="446.8" y2="430.5" stroke="#000" stroke-width="1.1" />
<line x1="443.8" y1="433.5" x2="446.8" y2="433.5" stroke="#000" stroke-width="1.1" />
<line x1="458" y1="415" x2="466" y2="415" stroke="#000" stroke-width="1.1" />
<line x1="462" y1="413.5" x2="462" y2="416.5" stroke="#000" stroke-width="1.1" />
<line x1="460.5" y1="413.5" x2="463.5" y2="413.5" stroke="#000" stroke-width="1.1" />
<line x1="460.5" y1="416.5" x2="463.5" y2="416.5" stroke="#000" stroke-width="1.1" />
<line x1="467.5" y1="413" x2="474.5" y2="413" stroke="#000" stroke-width="1.1" />
<line x1="471" y1="411.5" x2="471" y2="414.5" stroke="#000" stroke-width="1.1" />
<line x1="469.5" y1="411.5" x2="472.5" y2="411.5" stroke="#000" stroke-width="1.1" />
<line x1="469.5" y1="414.5" x2="472.5" y2="414.5" stroke="#000" stroke-width="1.1" />
<line x1="484" y1="388" x2="491.4" y2="388" stroke="#000" stroke-width="1.1" />
<line x1="487.7" y1="379.9" x2="487.7" y2="395.2" stroke="#000" stroke-width="1.1" />
<line x1="486.2" y1="379.9" x2="489.2" y2="379.9" stroke="#000" stroke-width="1.1" />
<line x1="486.2" y1="395.2" x2="489.2" y2="395.2" stroke="#000" stroke-width="1.1" />
<line x1="494.5" y1="388" x2="501.5" y2="388" stroke="#000" stroke-width="1.1" />
<line x1="498" y1="386.5" x2="498" y2="389.5" stroke="#000" stroke-width="1.1" />
<line x1="496.5" y1="386.5" x2="499.5" y2="386.5" stroke="#000" stroke-width="1.1" />
<line x1="496.5" y1="389.5" x2="499.5" y2="389.5" stroke="#000" stroke-width="1.1" />
<circle cx="478.7" cy="332.4" r="2.6" fill="#910D36" stroke="#650725" stroke-width="0.5"/>
<text x="484.2" y="334.8" font-size="8.14" text-anchor="start" font-weight="normal" fill="#151515" stroke="#151515" stroke-width="0.12"  textLength="10.8" lengthAdjust="spacingAndGlyphs">WT</text>
<rect x="476.3" y="342.5" width="5" height="5" fill="white" stroke="#303f62" stroke-width="1.1" />
<text x="484.5" y="348.1" font-size="8.14" text-anchor="start" font-weight="normal" fill="#151515" stroke="#151515" stroke-width="0.12"  textLength="19.2" lengthAdjust="spacingAndGlyphs">BCAP</text>
<text x="504.3" y="344.99" font-size="4.88" text-anchor="start" font-weight="normal" fill="#333" stroke="#333" stroke-width="0.12"  textLength="4.19" lengthAdjust="spacingAndGlyphs">-/-</text>
<clipPath id="clip11"><rect x="34.5" y="544.5" width="106.2" height="90.5"/></clipPath>
<path clip-path="url(#clip11)" d="M40.6 608.17h.01M39.77 610.77h.01M59.24 618.18h.01M81.44 564.01h.01M104.05 558.93h.01M82.53 568.27h.01M108.1 560.72h.01M64.39 591.79h.01M46.18 546.46h.01M68.24 610.22h.01M55.39 544.45h.01M37.51 617.17h.01M98.07 545.11h.01M38.74 596.6h.01M65.03 591.51h.01M92.19 561.5h.01M40.1 611.01h.01M72.97 570.27h.01M97.1 545.42h.01M69.81 575.21h.01M105.73 554.8h.01M92.9 565.4h.01M89.6 545h.01M44.2 586.18h.01M75.07 601.37h.01M71.82 608.04h.01M102.28 558.8h.01M67.23 594.11h.01M40.62 572.34h.01M84.73 563.09h.01M67 547.76h.01M74.49 595.08h.01M92.1 568.49h.01M54.53 547.11h.01M39.15 588.07h.01M70.29 599.87h.01M93.51 563.62h.01M105.03 546.83h.01M101.82 549.77h.01M104.74 550.13h.01M90.3 567.38h.01M99.09 548.91h.01M86.72 564.22h.01M52.61 547.7h.01M87.4 563.55h.01M55.67 616.86h.01M72.23 603.86h.01M78.01 568.67h.01M100.89 551.29h.01M67.06 614.14h.01M67.84 544.8h.01M79.65 565.81h.01M44.77 613.1h.01M101.2 559.16h.01M41.08 546.2h.01M99.05 544.88h.01M65.79 591.57h.01M76.42 565.75h.01M38.02 600.13h.01M60.55 548.12h.01M70.62 585.92h.01M39.14 602.15h.01M77.84 623.76h.01M50.26 617.79h.01M77.1 588.3h.01M82.79 567.51h.01M71.79 606.85h.01M83.46 563.36h.01M74.76 546.48h.01M98.63 549.62h.01M59.78 547.07h.01M100.39 557.98h.01M52.24 625.41h.01M46.52 581.93h.01M38.13 563.81h.01M39.66 572.47h.01M40.8 601.85h.01M56.88 545.07h.01M38.25 556.23h.01M37.53 569.86h.01M42.16 579.6h.01M39.79 575.85h.01M74.61 567.12h.01M67.07 583.61h.01M88.01 563.74h.01M40.02 577.63h.01M80.08 565.6h.01M75.41 569.55h.01M100.69 556.96h.01M45.04 548.84h.01M88.34 563h.01M38.88 603.7h.01M38.38 567.64h.01M73.42 574.38h.01M66.55 548.37h.01M49.01 545.76h.01M54.96 620.27h.01M101.45 553.41h.01M65.97 615.17h.01M67.59 582.05h.01M57.7 617.15h.01M42.92 619.17h.01M72.04 570.17h.01M44.54 583.05h.01M44.93 591.43h.01M42.04 586.73h.01M70.99 590.6h.01M77.32 545.91h.01M69.21 583.75h.01M69.3 581.55h.01M101.59 548.71h.01M42.9 574.89h.01M67.4 625.05h.01M39.23 551.33h.01M39.52 607.95h.01M69.42 575.36h.01M71.32 584.59h.01M37.79 602.45h.01M78.95 571.61h.01M42.78 609.68h.01M55.71 548.09h.01M68.25 584.51h.01M105.27 558.33h.01M87.14 565.46h.01M55.31 617.52h.01M41.26 607.94h.01M71.16 574.92h.01M56.75 622.74h.01M38.92 569.41h.01M44.78 587.97h.01M93.68 561.36h.01M49.55 544.78h.01M38.31 565.49h.01M62.66 590.71h.01M75.08 572.41h.01M36.82 557.09h.01M76.64 584.67h.01M94.33 564.58h.01M81.28 563.87h.01M40.58 547.9h.01M68.02 577.83h.01M78.93 566.5h.01M39.47 549.5h.01M39.36 583.48h.01M40.81 576.5h.01M52.61 616.56h.01M69.81 581.74h.01M91.71 544.91h.01M81.13 564.73h.01M41.83 610.52h.01M38.75 602.22h.01M42.59 547.23h.01M36.67 602.32h.01M55.79 544.87h.01M82.18 566.18h.01M52.85 545.37h.01M66.67 590.16h.01M59.69 616.25h.01M36.07 556.01h.01M70.62 589.38h.01M81.04 596.8h.01M37.73 610.84h.01M51.08 546.02h.01M103.91 546.32h.01M39.11 613.15h.01M47.93 546.67h.01M72.8 546.86h.01M67.17 591.11h.01M97.22 548.75h.01M62.05 543.59h.01M92.06 563.12h.01M47.92 546.48h.01M86.13 545.66h.01M37.37 557.14h.01M38.69 577.23h.01M105.79 561.5h.01M40.13 600.48h.01M70.53 594.57h.01M37.96 598.53h.01M59 620.88h.01M43.02 610.89h.01M53 617.58h.01M71.12 594.03h.01M42.38 578.15h.01M67.95 587h.01M100.76 551.3h.01M72.08 591.14h.01M42.42 618.11h.01M77.47 592.59h.01M69.83 582.06h.01M37.59 550.21h.01M71.01 573.47h.01M75.63 547.77h.01M40.02 547.79h.01M39.12 568.53h.01M70.36 587.86h.01M43.08 609.78h.01M39.15 606.97h.01M48.12 591.02h.01M59.47 618.05h.01M93.29 548.61h.01M77.06 546.33h.01M71.64 597.79h.01M36.55 551.16h.01M70.62 600.51h.01M70.95 600.94h.01M87.91 548.06h.01M83.78 574.17h.01M66.62 544.45h.01M76.75 565.95h.01M40.21 572.99h.01M40.58 599.97h.01M42.15 592.6h.01M98.21 548.63h.01M37.22 602.58h.01M48.01 547.65h.01M46.73 545.91h.01M39.01 602.75h.01M78.12 547.83h.01M41.56 573.56h.01M69.53 595.5h.01M42.69 588.6h.01M70.19 611.69h.01M90.34 562.37h.01M73.39 567.25h.01M68.2 547.72h.01M35.34 554.17h.01M100.88 555.08h.01M39.49 608.01h.01M46.62 591.54h.01M68.26 612.53h.01M38.83 560.36h.01M55.68 547.43h.01M51.32 544.84h.01M55.57 616.88h.01M81.4 565.21h.01M38.16 595.02h.01M65.22 591.59h.01M52.94 545.84h.01M41.36 587.69h.01M73.28 595.19h.01M71.97 601.61h.01M75.75 573.72h.01M70.73 597.32h.01M70.15 616.91h.01M69.87 579.11h.01M55.4 616.1h.01M39.2 612.58h.01M37.34 558.36h.01M102.24 545.17h.01M88.65 563.75h.01M75.28 601.54h.01M71.27 586.51h.01M43.21 546.44h.01M45.22 586.33h.01M71.06 608.37h.01M68.88 609.64h.01M43.37 585.03h.01M87.82 547.34h.01M67.75 614.57h.01M87.67 564.45h.01M69.2 596.87h.01M68.3 590.5h.01M64.02 544.39h.01M101.43 558.54h.01M42.53 575.48h.01M89.12 547.43h.01M78.93 565.07h.01M72.15 573.2h.01M40.51 574.25h.01M88.1 563.34h.01M46.16 584.91h.01M66.04 613.3h.01M69.44 589.04h.01M38.35 568.31h.01M66.27 543.66h.01M69.77 595.07h.01M69.1 587.9h.01M75.4 601.88h.01M48.35 546.97h.01M43.86 546.76h.01M90.88 560.96h.01M35.78 558.05h.01M62.59 545.91h.01M60.54 547.92h.01M104.48 568.66h.01M72.72 598.13h.01M41.29 550.12h.01M100.25 549.91h.01M46 586.4h.01M39.58 592.55h.01M85.69 543.67h.01M42.47 596.37h.01M77.6 611.93h.01M64.08 614.99h.01M45.94 580.43h.01M90.67 573.5h.01M105.78 554.16h.01M76.45 548.32h.01M72.57 592.58h.01M41.72 581.82h.01M38.22 563.6h.01M103.53 544.97h.01M35.5 573.07h.01M48.94 615.09h.01M66.43 615.45h.01M38.75 577.34h.01M69.04 592.3h.01M65.04 590.48h.01M69.92 612.08h.01M67.47 584.79h.01M41.52 588.82h.01M47.55 547.63h.01M67.72 620h.01M84.48 563.09h.01M40.92 596.24h.01M42.95 574.71h.01M72.27 610.96h.01M36.4 587.39h.01M80.57 545.65h.01M35.99 570.5h.01M101.28 556.77h.01M37.75 618.51h.01M37.85 557.26h.01M100.05 545.47h.01M96.7 560.91h.01M82.24 547.6h.01M72 570.74h.01M70.13 574.76h.01M75.6 567.08h.01M72.47 597.49h.01M81.1 564.2h.01M64.46 546.73h.01M72.81 583.09h.01M68.22 578.33h.01M69.57 607.56h.01M68.85 586.05h.01M36.38 552.52h.01M105.37 557.26h.01M59.23 621.24h.01M87.43 565.59h.01M87.04 546.03h.01M50.03 615.96h.01M36.06 576.88h.01M64.1 613.46h.01M69.33 609.67h.01M38.11 561.61h.01M68.81 575.52h.01M83.66 573.54h.01M71.78 613.95h.01M69.79 547.51h.01M41.9 575.16h.01M38.18 613.24h.01M38.03 550.69h.01M46.97 615.29h.01M73.21 609.71h.01M74.93 546.97h.01M65.38 590.94h.01M92.2 561h.01M74.92 546.22h.01M85.9 545.44h.01M87.15 564.52h.01M73.97 601.3h.01M76.6 566.4h.01M87.31 566.69h.01M69.78 545.59h.01M77.43 547.35h.01M38.06 609.97h.01M39.6 596.03h.01M92.06 573.88h.01M51.67 545.12h.01M51.32 548.8h.01M97.4 547.75h.01M38.51 607.6h.01M71.58 583.17h.01M43.81 549.34h.01M69.94 581.67h.01M38.46 567.83h.01M71.28 602.94h.01M73.36 578.86h.01M45.24 548.63h.01M74.45 567.4h.01M38.63 563.93h.01M73.19 605.03h.01M75.57 569.53h.01M36.99 576.2h.01M42.39 590.05h.01M36.98 553.56h.01M36.85 562.27h.01M65.3 545.51h.01M38.49 567.43h.01M72.5 596.6h.01M91.5 564.12h.01M72.72 607.3h.01M102.82 545.77h.01M73.67 568.06h.01M74.74 545.98h.01M68.11 594.89h.01M68.24 583.26h.01M88.49 569.52h.01M106.56 551.34h.01M99.21 558.11h.01M76.93 578.21h.01M110.25 551.11h.01M38.93 600.5h.01M93.47 562.81h.01M77.41 614.15h.01M107.5 560.11h.01M74.65 596.67h.01M36.71 556.15h.01M93.84 546.28h.01M92.18 561h.01M40.08 612.05h.01M41.09 574.81h.01M55.36 544.82h.01M87.58 565.05h.01M84.67 546.65h.01M70.05 594.88h.01M83.45 548.12h.01M107.33 566.54h.01M41.68 607.38h.01M74.5 592.65h.01M94.04 562.14h.01M96.13 558.91h.01M72.25 609.29h.01M47.54 591.05h.01M75.66 568.23h.01M40.89 547.61h.01M40.17 572.88h.01M70.64 612.94h.01M82.92 565.59h.01M101.75 557.77h.01M38 567.28h.01M35.82 553.49h.01M66.61 589.81h.01M42.61 576.86h.01M96.17 567.38h.01M49.2 589.9h.01M58.65 547.27h.01M44.73 583.09h.01M48.17 618.2h.01M68.92 578.77h.01M53.5 620.85h.01M60.75 618.56h.01M103.21 561.21h.01M105.45 568.18h.01M43.27 590.45h.01M105.07 555.55h.01M43.52 616.54h.01M37.14 562.83h.01M77.3 564.93h.01M85.84 564.25h.01M53.64 548.05h.01M95.32 564.36h.01M39.11 599.95h.01M44.88 584.66h.01M40.75 599.89h.01M37.1 557.85h.01M45.32 548.79h.01M70.45 601.18h.01M61.93 543.75h.01M90.84 546.54h.01M82.67 543.73h.01M68.95 584.01h.01M39.35 577.69h.01M92.02 547.67h.01M69.14 577.43h.01M68.44 583.15h.01M45.53 590.33h.01M43.36 612.78h.01M67.66 580.92h.01M101.82 553.52h.01M55.85 619.24h.01M68.35 588.14h.01M68.91 590.27h.01M104.66 557.33h.01M75.23 598.27h.01M39.66 549.64h.01M71.97 607.39h.01M68.12 595.13h.01M36.34 612.14h.01M102.79 561.35h.01M80.8 563.87h.01M88.08 565.21h.01M40.55 600.31h.01M98.63 561.89h.01M36.02 576.94h.01M65.69 592.14h.01M80.26 546.18h.01M63.48 616.6h.01M97.83 558.77h.01M86.29 545.93h.01M44.57 548.82h.01M39.97 585.25h.01M93.95 570.77h.01M97.34 561.63h.01M91.86 547.75h.01M44.63 582.8h.01M39.02 574.98h.01M70.42 547.63h.01M43.9 588.82h.01M44.1 586.81h.01M104.96 558.43h.01M38.33 574.33h.01M101.95 560.73h.01M38.05 552.64h.01M91.11 547.72h.01M87.42 547.84h.01M82.84 565.09h.01M98.23 548.23h.01M61.35 546.27h.01M38.04 564.98h.01M54.99 544.65h.01M92.5 546.86h.01M58.46 617.1h.01M43.2 586.85h.01M98.53 564.42h.01M91.77 564.17h.01M38.58 559.23h.01M68.6 614.69h.01M69.98 608.58h.01M62.68 619.21h.01M69.53 593.89h.01M69.63 546.96h.01M90.48 563.23h.01M35.93 603.24h.01M56.56 620.07h.01M96.69 545.31h.01M67.88 545.09h.01M90.66 561.37h.01M35.41 558.83h.01M40.52 548.81h.01M104.02 558.01h.01M90.54 561.79h.01M76.2 545.67h.01M38.84 604.73h.01M102.64 547.56h.01M64.32 545.39h.01M69.17 574.15h.01M66.39 611.74h.01M70.04 608.91h.01M51.39 546.45h.01M45.91 546.05h.01M114.54 565.29h.01M84.09 548.25h.01M77.51 568.41h.01M37.89 552.04h.01M78.46 564.59h.01M40.75 609.12h.01M35.43 554.81h.01M75.01 605.86h.01M67.83 589.72h.01M70.94 571.81h.01M36.77 562.33h.01M80.24 564.91h.01M35.76 576.8h.01M71.49 546.46h.01M38.54 574.8h.01M91.18 546.95h.01M83.42 565.69h.01M105.68 552.88h.01M70.64 579.57h.01M106.45 560.21h.01M75.67 579.61h.01M69.07 574.45h.01M63.31 589.92h.01M92.58 562.52h.01M38.84 573.57h.01M71.4 614.68h.01M37.33 569.68h.01M66.83 614.95h.01M46.38 548.66h.01M74.71 547.48h.01M67.83 612.48h.01M107.28 545.37h.01M93.7 560.42h.01M68.64 547.14h.01M69.39 574.86h.01M45.81 580.56h.01M39.79 549.32h.01M36.46 564.16h.01M38.27 558.56h.01M66.84 593.77h.01M35.88 552.71h.01M57.49 619.43h.01M44.18 589.51h.01M45.72 616.47h.01M40.91 548.55h.01M64.11 545.77h.01M102.14 556.16h.01M37.57 552.6h.01M62.12 616.59h.01M40.87 572.55h.01M58.46 546.99h.01M104.35 559.89h.01M71.2 574.58h.01M60.31 546.55h.01M37.86 624.25h.01M72.98 598.59h.01M49.06 548.5h.01M39.72 600.22h.01M35 565.01h.01M78.69 544.74h.01M65.71 546.35h.01M101.07 558.86h.01M45.03 591.15h.01M89.44 545.27h.01M67.99 618.13h.01M70.46 604.3h.01M38.63 607.56h.01M65.8 614.44h.01M69.78 606.77h.01M76.22 548.32h.01M80.96 547.84h.01M103.74 552.89h.01M50.96 545.52h.01M104.82 566.21h.01M83 545.66h.01M74.04 572.68h.01M98.75 544.04h.01M71.13 569.94h.01M37.13 561.54h.01M73.49 546.34h.01M40.3 601.47h.01M74.37 599.1h.01M97.89 568.21h.01M69.43 573.18h.01M46.05 584.59h.01M92.32 547.22h.01M77.61 570.4h.01M77.17 565.07h.01M44.55 549.53h.01M36.56 573.17h.01M62.5 616.43h.01M61.89 618.69h.01M98.63 557.37h.01M61.86 546.34h.01M58.03 617.76h.01M50.65 548.47h.01M101.67 560.18h.01M37.97 606.49h.01M39.71 580.17h.01M71.58 610.29h.01M77.95 546.64h.01M85.77 569.27h.01M69.61 547.8h.01M71.43 594.58h.01M71.24 588.44h.01M70.58 612.77h.01M88.37 562.69h.01M71.7 595.04h.01M59.86 546.77h.01M85.41 563.45h.01M44.89 547.52h.01M67.25 580.93h.01M44.01 611.98h.01M48.1 546.28h.01M88.42 548.46h.01M44.84 586.7h.01M38.96 613.96h.01M76.89 545.93h.01M40.77 573.93h.01M68.37 581.11h.01M97.89 548.7h.01M92.95 561.72h.01M47.88 622.53h.01M98.98 564.18h.01M43.55 593.87h.01M66.96 592.61h.01M82.46 547.26h.01M47.13 618.01h.01M102.09 553.94h.01M79.56 547.24h.01M72.51 575.06h.01M102.42 552.79h.01M67.31 587.21h.01M78.43 602.56h.01M72.51 578.27h.01M82.47 607.17h.01M73.66 576.39h.01M38.56 554.17h.01M69.62 546.69h.01M91.83 545.17h.01M94.5 562.4h.01M46.07 616.83h.01M53.83 617.26h.01M38.96 563.76h.01M68.3 587.24h.01M81.67 545.85h.01M72.62 569.55h.01M36.22 564.63h.01M94.22 560.92h.01M35.46 606.49h.01M38.64 596.79h.01M69.66 596h.01M69.89 595.1h.01M68.27 609.56h.01M68.67 589.67h.01M67.89 545.01h.01M38.52 591.84h.01M74.72 609.1h.01M85.18 563.37h.01M98.61 546.25h.01M64.1 546.91h.01M71.55 578.23h.01M85.9 545.16h.01M47.26 619.36h.01M42.8 588.1h.01M50.6 618.03h.01M42.58 577.16h.01M89.98 564.37h.01M43.81 574.96h.01M60.16 617.52h.01M61.68 547.82h.01M66.45 613.21h.01M42.92 594.75h.01M63.55 621.08h.01M44.54 544.55h.01M43.23 580.38h.01M41.03 592.23h.01M42.21 549.41h.01M90.77 544.61h.01M100.72 553.06h.01M65.61 545.29h.01M91.23 561.89h.01M68.9 586.36h.01M54.1 616.14h.01M44.6 579.56h.01M102.92 561.9h.01M80.83 566.3h.01M98.07 548.78h.01M54.98 618.55h.01M38.88 599.76h.01M45.47 613h.01M65.08 618.61h.01M66.99 546.01h.01M67.99 546.78h.01M38.5 616.37h.01M79.9 570.72h.01M37.41 562.53h.01M76.93 547.31h.01M70.4 586.58h.01M73.71 580.09h.01M60.44 616.56h.01M87.88 546.78h.01M71.21 581.84h.01M57.48 544.49h.01M41.65 597.89h.01M37.72 597.67h.01M51.48 548.6h.01M38.84 547.02h.01M49.87 546.94h.01M53.3 615.83h.01M81.24 565.56h.01M77.57 564.77h.01M37.59 568.13h.01M38.56 571.04h.01M76.61 547.31h.01M103.21 548.2h.01M44.97 585.37h.01M39.47 604.97h.01M48.95 546.02h.01M76.73 546.5h.01M66.25 615.44h.01M90.82 547.15h.01M71.53 601.41h.01M106.03 546.49h.01M83.05 565.24h.01M56.17 543.51h.01M68.76 590.74h.01M66.78 591.48h.01M39.44 568.37h.01M74.81 572.59h.01M55.77 547.45h.01M70.66 600.99h.01M91.14 561.55h.01M49.5 620.29h.01M43.4 588.95h.01M38.14 546h.01M44.36 585.71h.01M96.03 546.85h.01M69.51 584.81h.01M35.83 574.01h.01M41.94 587.89h.01M64.3 548.09h.01M73.42 606.18h.01M37.16 581.56h.01M99.81 555.97h.01M70.47 597.76h.01M39.04 569.98h.01M38.53 604.12h.01M39.91 580.31h.01M99.48 547.96h.01M53.52 616.04h.01M109.19 555.86h.01M43.92 612.23h.01M36.58 598.28h.01M52.17 548.27h.01M75.98 572.18h.01M61.03 617.54h.01M71.31 596.3h.01M43.42 577.61h.01M78.29 592.43h.01M51.47 546.94h.01M66.25 612.81h.01M66.99 590.71h.01M62.91 548.27h.01M60.77 546.46h.01M40.23 607.08h.01M65.05 616.81h.01M72.12 547.67h.01M73.73 594.75h.01M61.84 617.45h.01M39.99 569.32h.01M35.54 568.57h.01M72.93 606.07h.01M55.17 619.99h.01M86.3 566.55h.01M106.59 554.86h.01M87.49 567.55h.01M72.89 593.15h.01M60.17 616.57h.01M95.14 560.33h.01M63.11 589.95h.01M49.16 616.78h.01M84.21 543.86h.01M39.9 568.04h.01M82.19 565.81h.01M46.44 582.08h.01M41.41 596.95h.01M53.82 619.09h.01M68.8 617.4h.01M90.6 547.5h.01M35.95 548.63h.01M45.74 585.65h.01M97.18 549h.01M73.26 584.99h.01M37.17 554.4h.01M94.91 559.53h.01M51.54 545.86h.01M88.64 547.45h.01M79.19 546.81h.01M68.2 589.4h.01M44.3 578.64h.01M69.94 577.01h.01M85.83 545.98h.01M89.21 564.31h.01M68.71 575.12h.01M97.93 548.44h.01M98.37 557.23h.01M71.03 601.25h.01M38.92 603h.01M80.17 547.13h.01M39.41 605.93h.01M41.84 597.03h.01M70.24 606.6h.01M61.56 548.25h.01M75.93 567.49h.01M37.97 555.06h.01M53.01 617.75h.01M90.09 564.88h.01M50.23 615.44h.01M103.5 559.01h.01M35.16 555.4h.01M71.09 587.68h.01M45.44 589.3h.01M101.06 555.63h.01M71.46 599.45h.01M43.75 581.29h.01M66.63 592.8h.01M35.71 598.34h.01M72.02 574.12h.01M44.59 585.44h.01M106.3 562.49h.01M92.07 545.43h.01M97.96 559.85h.01M59.51 544h.01M39.55 598.02h.01M100.19 549.57h.01M72.59 578.77h.01M73.57 605.87h.01M53.6 626.72h.01M41.02 594.78h.01M76.78 545.62h.01M104.82 551.49h.01M93.63 561.9h.01M82.4 595.65h.01M76.04 573.61h.01M68.99 590.73h.01M38.45 576.49h.01M37.68 566.39h.01M44.74 613.94h.01M70.68 580.69h.01M60.21 546.21h.01M99.01 557.3h.01M62.6 548.06h.01M40.53 610.36h.01M36.57 557.38h.01M53.3 545.33h.01M41.93 591.8h.01M36.11 603.31h.01M96.18 559.91h.01M78.6 543.6h.01M76.8 545.81h.01M39.86 594.78h.01M51.74 547.46h.01M90.65 546.33h.01M109.35 556.25h.01M37.16 552.28h.01M85.19 546.91h.01M54 619.22h.01M47.02 549h.01M37.01 572.01h.01M98.38 557.28h.01M75.55 572.51h.01M67.92 586.22h.01M94.42 564.13h.01M73.73 572.02h.01M37.31 550.47h.01M48.51 614.44h.01M86.76 562.88h.01M42.91 576.62h.01M96.99 560.61h.01M47.45 589.98h.01M41.87 597.33h.01M57.93 546.31h.01M39.15 597.08h.01M39.67 595.57h.01M47.8 590.81h.01M57.13 616.53h.01M68.32 595.45h.01M70.98 580.4h.01M69.77 618.36h.01M71.97 576.4h.01M61.49 616.95h.01M46.06 581.28h.01M73.72 567.88h.01M40.52 605.8h.01M73.45 602.15h.01M43.04 587.39h.01M82.59 548.32h.01M90.9 565.41h.01M68.64 580.72h.01M46.33 582.22h.01M37.09 571.46h.01M100.73 563.72h.01M69.03 586.8h.01M104 560.16h.01M45.05 590.27h.01M44.2 583.29h.01M53.92 619.7h.01M66.37 545.44h.01M108.27 552.11h.01M76.9 610.56h.01M36.92 605.47h.01M68.23 578.56h.01M37.75 593.82h.01M70.56 546.77h.01M84.5 563.48h.01M52.94 616.79h.01M40.97 611.97h.01M67.84 614.6h.01M67.54 582.89h.01M67.18 614.51h.01M70.29 576.16h.01M74.94 613.77h.01M101.53 555.12h.01M36.94 562.77h.01M41.61 593.19h.01M84.08 547.55h.01M62.89 614.55h.01M36.42 562.46h.01M73.57 571.57h.01M77.95 594.89h.01M46.51 549.13h.01M54.01 546.11h.01M90.5 545.47h.01M89.7 563.18h.01M72.3 615.49h.01M60.16 619.27h.01M86.13 545.67h.01M70.16 607.62h.01M47.27 543.65h.01M108.61 560.05h.01M45.08 590.55h.01M111.09 570.46h.01M37.06 557.45h.01M71.98 547.97h.01M58.77 546.69h.01M69.31 596.29h.01M67.98 615.25h.01M48.9 547.91h.01M80.19 602.52h.01M38.73 605.1h.01M96.55 547.72h.01M101.54 551.04h.01M86.66 546.74h.01M95.65 562.38h.01M69.72 610.28h.01M76.89 568.58h.01M71.82 609.54h.01M43.71 577.61h.01M69.38 592.47h.01M70.09 578.6h.01M68.14 581.45h.01M73.17 603.51h.01M72.99 547.44h.01M39.01 587.01h.01M75.74 546.13h.01M59.53 548.54h.01M38.51 564.46h.01M73.05 605.16h.01M41.61 574.08h.01M83.94 562.99h.01M50.7 547.5h.01M101.13 554.67h.01M106.66 553.68h.01M101.2 547.18h.01M39.73 601.03h.01M102.78 555.52h.01M101.04 553.42h.01M70.93 575.2h.01M92.24 563.9h.01M36.81 554.73h.01M71.16 621.7h.01M39.12 603.9h.01M35.01 555.16h.01M37.95 554.46h.01M75.34 544.4h.01M66.63 545.33h.01M71.61 574.87h.01M98.77 548.82h.01M58.69 547.16h.01M75.61 594.24h.01M45.24 583.56h.01M87.21 548.28h.01M52.77 619.86h.01M80.52 565.15h.01M96.01 564.45h.01M87.79 562.23h.01M42.37 594.29h.01M69.26 592.61h.01M41.38 550.31h.01M44.87 591.58h.01M43.6 585.51h.01M39.21 544.48h.01M68.63 591.76h.01M71.51 546.79h.01M86.38 544.75h.01M101.33 553.2h.01M38.27 555.81h.01M100.28 557.29h.01M103.06 557.46h.01M69.02 608.15h.01M69.58 587.73h.01M92.4 561.86h.01M36.26 561.33h.01M45.79 545.78h.01M69.11 547.7h.01M43.05 591.22h.01M109.06 555.73h.01M66.29 614.68h.01M68.33 611.18h.01M77.5 567.28h.01M101 550.45h.01M46.11 617.6h.01M80.81 547.33h.01M87.44 562.8h.01M60.29 617.94h.01M69.99 589.5h.01M50.93 548.99h.01M70.78 616.65h.01M95.86 561.99h.01M41.7 609.2h.01M67.16 546.91h.01M77.76 547.56h.01M98.56 562.59h.01M48.6 615.8h.01M93.29 564.74h.01M43.85 590.2h.01M75.85 544.65h.01M39.93 596.05h.01M41.22 613.49h.01M69.35 594.56h.01M44.42 587.44h.01M41.37 589.18h.01M44.37 589.47h.01M41.48 595.64h.01M39.52 607.76h.01M48.92 549.06h.01M100.65 557.3h.01M41.76 581.48h.01M38.79 565.08h.01M57.67 624.2h.01M74.46 578.69h.01M36.79 548.94h.01M106.48 545.55h.01M72.32 578.75h.01M98.96 549.75h.01M97.71 558.51h.01M70.64 597.57h.01M51.8 547.07h.01M68.67 586.11h.01M92.79 561.27h.01M72.84 604.77h.01M75.57 543.57h.01M70.59 603.52h.01M38.59 558.43h.01M95.75 559.32h.01M101.85 561.27h.01M38.97 568.08h.01M80.48 546.87h.01M40.97 574.89h.01M37.63 566.1h.01M60.24 617.61h.01M62.69 545.98h.01M38.73 602.65h.01M97.07 558.05h.01M69.92 583.9h.01M51.87 616.29h.01M103.69 555.12h.01M61.11 547.5h.01M35.79 560.51h.01M54.94 625.63h.01M71.13 606.85h.01M75.57 545.45h.01M82.66 544.42h.01M62.61 589.74h.01M61.37 616.61h.01M94.74 548.87h.01M45.74 590.51h.01M89.02 548.12h.01M38.32 556.76h.01M74.54 597.93h.01M72.15 604.82h.01M94.44 561.91h.01M70.52 598.65h.01M44.36 549.29h.01M42.24 610.9h.01M41.27 610.76h.01M73.98 567.08h.01M104.15 550.38h.01M69.94 612.62h.01M46.22 614.64h.01M40.36 588.65h.01M71 570.48h.01M68.71 575.13h.01M38.15 550.83h.01M38.33 552.55h.01M37.38 570.84h.01M95.23 560.92h.01M46.03 581.55h.01M75.15 569.92h.01M40.81 614.31h.01M82.1 545.57h.01M61.9 616.04h.01M100.75 550.95h.01M80.77 546.2h.01M39.68 599.23h.01M54.27 624.73h.01M42.66 595.76h.01M68.51 610.3h.01M35.8 575.01h.01M68.9 593.84h.01M103.25 547.02h.01M77.62 565.17h.01M39.95 598.7h.01M70.01 613.42h.01M69.4 573.98h.01M95.71 548.36h.01M54.23 545.1h.01M87.67 563.54h.01M79.69 615.74h.01M40.72 601.38h.01M43.52 549.46h.01M95.99 548.57h.01M85.95 544.04h.01M72.17 546.76h.01M64.92 614.16h.01M97.26 560.99h.01M88.43 563.74h.01M89.64 546.8h.01M39.74 570.6h.01M70.61 613.32h.01M39.03 597.32h.01M70.56 588.08h.01M42.73 584.24h.01M68.83 577.97h.01M71.2 584.95h.01M67.63 615.31h.01M55.99 616.09h.01M86.9 546.09h.01M52.72 616.67h.01M67.67 546.08h.01M101.26 556.48h.01M41.36 574.12h.01M69.49 574.79h.01M106.32 548.91h.01M63.93 589.89h.01M41.51 613.81h.01M79.05 596.37h.01M44.3 612.86h.01M100.8 557.66h.01M41.81 573.71h.01M36.52 598.93h.01M85.9 562.84h.01M38.3 572.17h.01M40.87 593.48h.01M62.19 589.81h.01M76.93 546.51h.01M40.44 586.97h.01M69.33 611.15h.01M42.32 576.43h.01M66.16 613.46h.01M36.83 563.4h.01M74.29 578.03h.01M39.13 607.11h.01M36.15 567.76h.01M48.58 618.57h.01M83.9 569.91h.01M40.18 596.86h.01M37.21 557.18h.01M45.43 548.51h.01M73.8 590.64h.01M101.45 559.22h.01M75.18 545.53h.01M83.39 564.32h.01M52.96 617.32h.01M65.05 616.94h.01M71.65 586.84h.01M36.7 553.31h.01M36.61 553.85h.01M71.56 608.63h.01M97.07 546.16h.01M35.39 567.62h.01M70.49 604.58h.01M36.56 558.12h.01M66.6 614.77h.01M64.97 546.11h.01M99.56 558.34h.01M58.82 617.89h.01M36.72 599.76h.01M90.28 569.63h.01M56.29 620.21h.01M47.56 548.15h.01M39.85 572.64h.01M43.07 618.83h.01M102.04 553.99h.01M44.61 592.45h.01M40.32 610.18h.01M44.56 592.01h.01M102.7 555.33h.01M102.43 551.14h.01M71.17 572.61h.01M59.46 618.96h.01M72.51 573.1h.01M98.9 561.77h.01M38.66 603.72h.01M61.91 616.42h.01M39.21 563.44h.01M70.37 572.62h.01M41.68 583.07h.01M98.11 563.92h.01M36.12 552.88h.01M51.86 617.4h.01M101.57 560.28h.01M44.63 589.45h.01M51.27 615.7h.01M55.98 543.76h.01M42.6 611.75h.01M39.73 568.94h.01M78.04 545.08h.01M76.4 547.64h.01M83.6 564h.01M41.11 576.35h.01M56.1 622h.01M97.62 561.4h.01M102.99 558.19h.01M88.24 545.79h.01M70.51 586.17h.01M99.63 561.21h.01M67.99 610.16h.01M38.61 605.91h.01M38.7 604.5h.01M38.38 565.36h.01M83.48 545.93h.01M45.76 584.44h.01M72.67 612.74h.01M71.75 613.56h.01M70.5 605.1h.01M53.56 617.16h.01M56.24 617.7h.01M72.46 571.5h.01M76.39 601.06h.01M70.53 586.48h.01M62.72 616.75h.01M41.3 572.81h.01M39.31 551.51h.01M71 594.12h.01M37.34 566.49h.01M68.21 543.83h.01M46.1 591.29h.01M44.37 611.38h.01M35.24 567.84h.01M89.25 565.99h.01M44.83 611.85h.01M89.26 547.9h.01M53.36 619.29h.01M79.21 605.95h.01M71.18 585.72h.01M73.17 570.15h.01M42.94 575.14h.01M93.07 545.68h.01M63.76 590.61h.01M69.32 613.98h.01M46.19 614.12h.01M70.17 587.9h.01M41.92 578.9h.01M44.3 577.75h.01M36.52 565.31h.01M42.07 593.06h.01M99.33 547.38h.01M101.78 550.32h.01M69.38 574.33h.01M84.69 568.18h.01M99.7 547.65h.01M72.22 580.92h.01M51.17 548.31h.01M82.41 545.37h.01M66.63 589.69h.01M77.26 545.97h.01M82.1 601.85h.01M46.15 582.46h.01M41.52 577.12h.01M40.58 578.82h.01M64.39 614.57h.01M70.02 587.69h.01M43.61 582.19h.01M54.45 617.74h.01M76.89 607.74h.01M35.94 556.74h.01M40.49 548.71h.01M39.83 609.55h.01M47.83 547.22h.01M44.91 582.31h.01M38.29 568.73h.01M51.89 547.15h.01M43.97 591.77h.01M41.43 577.52h.01M92.55 560.97h.01M41.98 547.06h.01M70.28 585.19h.01M43.75 549.18h.01M84.18 566.56h.01M37.01 563.99h.01M41.43 594.42h.01M100.82 555.45h.01M82.56 545.16h.01M72.28 574.9h.01M64.2 589.93h.01M73.14 568.25h.01M42.78 584.68h.01M39.59 569.89h.01M84.04 563.25h.01M87.83 547.5h.01M51.16 545h.01M97.27 559.12h.01M105.04 556.66h.01M74.89 604.61h.01M48.06 547.06h.01M73.69 612.42h.01M74.38 598.26h.01M72.1 570.47h.01M45.22 621.64h.01M45.5 578.88h.01M73.6 576.1h.01M70.85 597.66h.01M76.45 566.97h.01M55.26 618.44h.01M103.42 571.95h.01M73.1 602.91h.01M68.77 579.01h.01M37.02 550.47h.01M48.08 546.85h.01M48.95 615.42h.01M50.4 615.36h.01M71.2 618.16h.01M52.77 618.9h.01M70.11 583.48h.01M104.69 558.33h.01M102.76 552.7h.01M49.81 545.44h.01M84.95 562.98h.01M80.45 572h.01M103.85 551.78h.01M94.74 564.12h.01M71.12 607.89h.01M63.89 613.74h.01M88.15 548.36h.01M91.74 562.37h.01M90.44 544.68h.01M67.52 548.11h.01M74.48 596.57h.01M81.5 544.86h.01M94.18 565.59h.01M104.71 547.23h.01M72.77 612.56h.01M71.4 585.4h.01M50.79 615.56h.01M40.55 546.27h.01M72.48 568.88h.01M42.56 590.1h.01M42.44 613.37h.01M70.6 605.4h.01M72.18 605.48h.01M70.45 587.32h.01M40.01 591.51h.01M50.2 547.05h.01M43.53 584.18h.01M42.17 591.16h.01M90.1 566.28h.01M76.2 602.08h.01M105.4 551.54h.01M40.25 605.91h.01M43.51 588.83h.01M88.81 546.47h.01M42.14 580.48h.01M101.19 549.26h.01M48.63 622.18h.01M76.58 546.87h.01M68.17 546.43h.01M96.94 564.55h.01M83.44 564.13h.01M52.43 544.88h.01M106.37 554.05h.01M61.52 618.04h.01M68.82 583.82h.01M70.17 597.51h.01M44.51 576.43h.01M41.66 573.61h.01M41.49 585.39h.01M40.01 600.06h.01M83.93 564.51h.01M58.45 622.52h.01M55.2 545.27h.01M67.34 581.8h.01M69.79 578.43h.01M80.54 565.72h.01M36.56 567.99h.01M73.83 547.61h.01M73.68 548.14h.01M84.76 604.99h.01M74.05 581.99h.01M48.57 616.74h.01M38.12 569.01h.01M85.06 546.26h.01M92.03 562.1h.01M100.82 559.36h.01M38.14 547.93h.01M43.91 586.42h.01M96.15 568.1h.01M70.45 595.45h.01M70.26 595.37h.01M93.12 561.8h.01M85.98 562.43h.01M66.42 592.69h.01M36.65 560.83h.01M42.63 613.39h.01M66.96 615.38h.01M45.41 583.19h.01M68.77 610.99h.01M98.73 561.56h.01M42.53 588.01h.01M93.68 563.73h.01M37.65 552.18h.01M68.2 589.91h.01M63 622.17h.01M69.01 574.64h.01M97.91 545.51h.01M73.43 596.24h.01M48.76 618.23h.01M42.1 595.3h.01M75.42 611.39h.01M60.68 616.22h.01M36.34 552.47h.01M89.67 547.68h.01M76.8 545.73h.01M83.61 563.14h.01M89.03 547.42h.01M81.29 546.72h.01M106.02 551.21h.01M43.52 610.31h.01M102.87 551.57h.01M65.46 548.49h.01M72.54 607.53h.01M71.83 611.33h.01M40.78 607.73h.01M36.27 615.39h.01M48.21 614.73h.01M74.31 545.08h.01M57.68 617.57h.01M85.59 546.09h.01M38.4 618.03h.01M101.06 563.58h.01M43.06 549.05h.01M71.93 575.27h.01M73.07 547.1h.01M47.39 546.91h.01M54.07 547h.01M72.91 581.33h.01M73.31 568.81h.01M101.16 549.52h.01M84.81 563.49h.01M38.03 607.07h.01M76.15 585.97h.01M70.89 604.47h.01M41.61 545.33h.01M69.66 593.96h.01M41.42 587.75h.01M72.36 612.16h.01M102.12 548.01h.01M59.54 544.58h.01M73.96 573.44h.01M70.19 599.72h.01M43.47 583.81h.01M75.03 566.66h.01M94.47 547.39h.01M93.5 545.88h.01M67.93 591.87h.01M93.74 543.73h.01M75.51 570.15h.01M40.79 611.52h.01M73.81 600.78h.01M80.33 546.87h.01M74.98 600.89h.01M90.29 545.47h.01M38.06 570.5h.01M55.19 545.91h.01M45.77 580.14h.01M47.63 548.51h.01M36.86 554.75h.01M94.65 560.36h.01M48.41 548.95h.01M38.47 557.86h.01M43.86 616.94h.01M85.77 564.05h.01M72.74 605.1h.01M74.89 598.73h.01M75.98 613.47h.01M39.71 551.33h.01M45.06 548.68h.01M92.74 561.52h.01M35.85 572.9h.01M101.89 557.61h.01M72.24 589.76h.01M37.87 556.43h.01M104.71 554.84h.01M69.06 588.68h.01M65.09 590.86h.01M80.72 609.49h.01M43.84 588.09h.01M44.37 584.79h.01M49.31 546.65h.01M58.21 545.29h.01M66.14 591.47h.01M84.88 546.7h.01M80.94 565.99h.01M64.23 614.89h.01M72.96 588.32h.01M43.23 592.61h.01M68.05 578.11h.01M41.07 581.79h.01M74.43 573.26h.01M84.13 546.06h.01M71.5 610.09h.01M71.83 609.12h.01M47.05 547.85h.01M62.41 547.92h.01M74.48 600.02h.01M52.75 545.27h.01M42.76 574.23h.01M35.99 550.21h.01M35.29 574.53h.01M70.76 616.2h.01M43.14 547.9h.01M56.28 548.68h.01M68.14 547.31h.01M53.16 618.32h.01M43.02 612.07h.01M35.04 555.1h.01M44.66 580.5h.01M38.68 547.91h.01M73.9 597.85h.01M40.33 593.11h.01M55.69 622.26h.01M48.77 546.65h.01M39.35 601.03h.01M36.77 555.31h.01M62.91 545.71h.01M63.38 622.77h.01M90.51 545.86h.01M100.28 555.5h.01M83.17 565.07h.01M43.4 588.57h.01M36.87 547.75h.01M80.21 567h.01M76.42 566.23h.01M38.97 604.12h.01M90.17 564.33h.01M37.32 564.48h.01M70.2 613.94h.01M42.22 582.9h.01M36.58 547.31h.01M64.74 613.42h.01M79.18 604.44h.01M61.44 547.25h.01M70.95 598.14h.01M82.46 548.32h.01M70.26 606.14h.01M99.39 547.29h.01M47.91 590.9h.01M43.71 575.37h.01M85.94 547.75h.01M47.99 616.48h.01M92.95 546.3h.01M42.96 589.13h.01M111.18 558.53h.01M62.41 618.57h.01M71.31 610.67h.01M39.02 610.56h.01M44.94 613.55h.01M100.47 550.74h.01M54.46 616.46h.01M38.45 573.52h.01M39.18 549.17h.01M38.12 607.73h.01M36.44 585.1h.01M42.15 623.52h.01M68.81 592.4h.01M60.97 544.56h.01M59.19 616.67h.01M75.99 543.89h.01M71.43 570.37h.01M69.16 588.91h.01M58.12 546.69h.01M66.69 612.75h.01M36.18 571.09h.01M38.02 548.44h.01M35.39 600.52h.01M37.33 556.47h.01M73.73 567.52h.01M36.37 549.99h.01M79.42 564.81h.01M68.78 611.07h.01M37.25 602.28h.01M40.67 605.23h.01M70.43 601.65h.01M70.28 596.67h.01M63.79 545.78h.01M65.1 616.04h.01M38.68 550.83h.01M70.08 613.86h.01M42.96 610.96h.01M57.7 544.55h.01M64.71 548.06h.01M68.46 588.24h.01M71.1 607.71h.01M40.56 576h.01M100.88 551.63h.01M42.79 593.55h.01M72.84 609.92h.01M35.36 565.87h.01M62.38 623.65h.01M83.64 567.41h.01M45.15 581.68h.01M36.5 555.06h.01M54.4 617.06h.01M73.78 613.19h.01M95.2 559.39h.01M87.49 564.78h.01M101.94 559.36h.01M70.81 591.48h.01M35.84 552.47h.01M77.33 567.11h.01M73.83 547.37h.01M85.31 593.64h.01M70.69 588.37h.01M89.42 562.43h.01M78.98 602.74h.01M60.39 622.97h.01M66.39 545.04h.01M45.73 581.67h.01M72.52 606.54h.01M37.96 552.49h.01M42.38 573.91h.01M81.63 544.08h.01M105.08 554.24h.01M40.36 602.4h.01M67.56 612.09h.01M41.36 587.17h.01M36.97 570.57h.01M78.85 548.06h.01M41.56 543.9h.01M68.83 575.58h.01M39.38 606.72h.01M77.99 593.79h.01M67.81 547h.01M103.02 553.86h.01M84.48 568.92h.01M44.78 592.9h.01M73.25 567.18h.01M70.48 612.88h.01M64.73 591h.01M67.09 615.47h.01M38.34 572.01h.01M40.34 607.54h.01M71.32 598.06h.01M44.73 547.77h.01M100.83 554.19h.01M71.48 574.88h.01M93.26 546.1h.01M78.11 569.71h.01M44.35 593.73h.01M40.48 545.82h.01M64.27 546.29h.01M73.47 570.34h.01M38.65 600.34h.01M68.88 593.1h.01M72.77 601.95h.01M39.84 569.74h.01M44.98 547.8h.01M99.86 546.92h.01M53.01 619.24h.01M98.11 563.13h.01M62.92 616.04h.01M91.6 547.67h.01M37.72 557.72h.01M58.65 621.1h.01M66.64 591.89h.01M59.43 624.74h.01M76.44 548.3h.01M38.02 558.13h.01M39.2 606.4h.01M100.4 558.46h.01M45.4 578.84h.01M99.88 562.13h.01M101.79 552.99h.01M36.85 558.56h.01M37.25 593.96h.01M71.2 571.91h.01M101.03 545.76h.01M67.94 583.52h.01M93.37 544.09h.01M81.09 547.17h.01M40.18 601.62h.01M55.93 617.88h.01M69.4 547.23h.01M40.42 550.59h.01M100.54 555.25h.01M79.3 566.69h.01M102.96 551.23h.01M57.42 616.72h.01M36.88 580h.01M91.74 563.84h.01M68.18 620.3h.01M66.97 613.78h.01M70.13 584.76h.01M69.23 593.35h.01M68.98 582.3h.01M66.86 544.98h.01M77.95 578.01h.01M68.52 547.02h.01M82.35 543.89h.01M87.02 562.42h.01M39.78 567.8h.01M42.2 576.09h.01M35.08 605.99h.01M37.23 551.61h.01M73.05 604.21h.01M39.43 596.29h.01M77.95 545.73h.01M35.58 559.62h.01M42.85 585.04h.01M105.08 546.72h.01M56.72 618.76h.01M71.74 607.58h.01M62.58 590.05h.01M71.53 606.29h.01M37.86 570.75h.01M36.63 567.19h.01M40.1 588.79h.01M77.03 545.58h.01M84.81 544.3h.01M52.25 625.48h.01M73.11 574.48h.01M43.93 592.44h.01M45.2 582.07h.01M104.51 552.4h.01M96.06 547.07h.01M88.16 546.71h.01M38.69 564.62h.01M72.38 601.68h.01M98.39 559.44h.01M87.68 562.54h.01M70.37 586.2h.01M70.7 611.61h.01M55.76 619.3h.01M43.42 579.05h.01M44.31 613.17h.01M46.12 614.15h.01M43.71 578.28h.01M105.92 547.87h.01M73.89 579.75h.01M37.83 566.72h.01M39.36 619h.01M88.57 548.22h.01M78.43 547.46h.01M77.61 595.24h.01M66.71 593.38h.01M65.48 624.52h.01M39.56 568.68h.01M67.19 585.63h.01M78.24 610.68h.01M39.9 576.17h.01M102.11 553.71h.01M71.52 618.17h.01M67.32 589.85h.01M81.86 568.73h.01M45.48 545.92h.01M87.81 562.17h.01M101.83 562.01h.01M49.02 615.15h.01M45.09 585.88h.01M96.32 547.29h.01M48.67 548.34h.01M77.39 596.03h.01M69.08 589.16h.01M43.07 584.67h.01M78.25 547.79h.01M87.05 562.46h.01M72.07 548.13h.01M71.87 605.48h.01M52.35 616.22h.01M43.68 594.58h.01M41.65 574.5h.01M68.71 587.58h.01M80.87 544.89h.01M107.2 549.93h.01M45.25 589.52h.01M72.1 588.51h.01M39.09 607.72h.01M69.99 597.06h.01M53.41 547.61h.01M65.88 546.77h.01M40.94 606.37h.01M65.35 614.87h.01M102.19 560.07h.01M40.56 605.93h.01M75.77 566.55h.01M97.67 547.18h.01M64.9 617.52h.01M38.36 603.93h.01M102.14 555.68h.01M101 546.14h.01M70.15 596.8h.01M59.24 615.65h.01M41.06 550.42h.01M39.33 595.42h.01M91.45 560.51h.01M64.09 546.65h.01M35.07 562.59h.01M66.05 548.04h.01M73.83 576.28h.01M50.19 545.97h.01M89.96 563.47h.01M50.85 548.81h.01M68.3 583.03h.01M99.28 548.96h.01M54.98 616.43h.01M35.73 562.36h.01M72.23 573.48h.01M97.95 545.53h.01M77.45 546.61h.01M64.34 548.07h.01M39.06 572.39h.01M73.95 545.66h.01M59.54 545.21h.01M38.49 600.9h.01M45.88 616.8h.01M90.99 547.51h.01M97.14 563.12h.01M84.7 547.03h.01M67.09 548.19h.01M67.62 581.54h.01M91.04 545.2h.01M38.39 597.31h.01M39.24 565.02h.01M51.53 547.09h.01M49.48 548.8h.01M44.2 549.1h.01M70.42 598.07h.01M71.5 607.94h.01M68.14 581.53h.01M69.35 581.62h.01M47.53 614.91h.01M78.78 546.84h.01M51.51 545.56h.01M39.32 564.39h.01M70.93 546.4h.01M40.03 609h.01M46.24 548.58h.01M68.05 592.11h.01M40.18 606.69h.01M100.91 554.13h.01M67.71 544.14h.01M90.6 547.74h.01M72.4 546.25h.01M72.8 586.35h.01M80.15 564.49h.01M39.11 605.45h.01M85.92 546.17h.01M100.62 557.59h.01M38.82 567.64h.01M70.9 603.49h.01M102.58 558.39h.01M69.43 621.78h.01M39.45 600.57h.01M42.94 591.58h.01M76.14 567.31h.01M73.2 578.31h.01M36.66 566.21h.01M40.31 570.27h.01M64.92 546.65h.01M50.53 547.03h.01M42.25 608.95h.01M61.32 617.6h.01M91.91 546.91h.01M47.32 619.84h.01M61.52 615.76h.01M73.85 571.88h.01M101.8 551.82h.01M71.17 594.38h.01M100.23 547.83h.01M57.53 544.33h.01M98.89 547.02h.01M48.55 590.72h.01M43.77 591.95h.01M63.91 591.37h.01M68.69 594.58h.01M35.72 598.58h.01M42.42 576.72h.01M68.89 613.1h.01M101.65 550.71h.01M71.76 546.06h.01M45.82 548.02h.01M96.41 558.87h.01M37.7 552.57h.01M40.52 597.55h.01M35.94 597.6h.01M88.4 565.4h.01M80.92 563.92h.01M71.2 600.86h.01M83.82 563.52h.01M40.39 600.34h.01M53.33 548.32h.01M37.48 611.17h.01M62.13 548.34h.01M85.01 547.13h.01M68.41 577.99h.01M92.23 563.03h.01M59.36 548.7h.01M66.32 621.22h.01M64.47 548.21h.01M65.63 617.78h.01M36.64 573.68h.01M75.5 567.03h.01M44.24 577.69h.01M99.86 544.54h.01M46.42 590.25h.01M85.21 563.72h.01M42.26 610.17h.01M77.58 565.85h.01M47.68 614.41h.01M80.26 572.61h.01M83.07 566.34h.01M49.34 547.39h.01M68.19 581.67h.01M105.23 545.22h.01M40.25 586.46h.01M60.91 546.41h.01M43.94 612.46h.01M107.25 555.7h.01M93.43 546.98h.01M44.83 616.9h.01M73.99 548.15h.01M39.68 607.16h.01M65.4 543.7h.01M68.47 580.01h.01M73.41 547.3h.01M73.29 570.68h.01M58.82 617.11h.01M35.53 568.61h.01M73.11 605.85h.01M41.2 577.95h.01M105.7 556.97h.01M38.86 569.26h.01M75.93 567.52h.01M87.1 546.23h.01M37.98 608.38h.01M94.43 559.65h.01M72.67 590.77h.01M84.44 543.57h.01M66.1 612.69h.01M49.93 544.77h.01M74.61 617.72h.01M44.14 612.54h.01M77.97 564.95h.01M69.72 607.74h.01M81.99 567.28h.01M70.58 547.85h.01M39.88 580.6h.01M69.09 610.74h.01M38.06 582.43h.01M42.02 574.74h.01M36.61 551.73h.01M70.94 600.06h.01M74.45 546.16h.01M78.98 567.23h.01M36.32 563.77h.01M80.92 543.58h.01M51.85 617.27h.01M66.36 591.94h.01M41 604.82h.01M38.63 598.3h.01M68.52 589.74h.01M68.85 547.43h.01M42.84 547.14h.01M43.64 590.57h.01M41.64 613.85h.01M43.81 584.54h.01M35.98 578.44h.01M96.13 548.8h.01M101.56 562.92h.01M100.8 556.76h.01M49.54 616.11h.01M87.79 546.63h.01M38.92 562.83h.01M40.2 602.59h.01M60.76 615.13h.01M47.25 617.92h.01M41.93 610.51h.01M61.63 619.48h.01M67.13 624.8h.01M35.7 555.16h.01M89.65 563.01h.01M69.63 609.84h.01M69.24 595.24h.01M71.15 571.69h.01M47.24 613.86h.01M38.72 573.16h.01M66.78 593.73h.01M38.59 567.17h.01M67.2 610.85h.01M73.17 570.7h.01M99.78 559.13h.01M97.37 559.35h.01M40.89 601.31h.01M46.51 583.66h.01M68.74 547.83h.01M99.05 559.01h.01M44.5 613.48h.01M69.61 591.75h.01M42 595.76h.01M39.35 582.73h.01M97.61 548.16h.01M50.64 617.94h.01M70.83 578.92h.01M39.82 575.98h.01M73.79 578.09h.01M68.6 589.84h.01M98.36 549.85h.01M69.9 608.27h.01M38.64 555.05h.01M55.9 546.13h.01M37.77 608.76h.01M70.73 605.45h.01M43.97 574.48h.01M70.37 580.64h.01M68.18 610h.01M66.16 625.28h.01M70.27 547.08h.01M69.26 547.15h.01M61.2 616.02h.01M47 615.38h.01M89.21 544.43h.01M79.7 547.27h.01M41.66 595.21h.01M41.57 597.31h.01M90.73 563.25h.01M43.93 548.31h.01M50.7 547.27h.01M81.12 544.45h.01M38.15 573.36h.01M71.94 599.83h.01M52.25 548.73h.01M46.5 583.11h.01M43.85 547.08h.01M72.41 609.65h.01M45.19 579.09h.01M97.58 563.06h.01M72.91 571.09h.01M98.41 559.21h.01M39.98 597.85h.01M99.83 563.36h.01M42.13 583.41h.01M67.26 546.91h.01M106.96 561.35h.01M35.51 544.86h.01M91.6 545.24h.01M87.42 564.68h.01M71.09 594.36h.01M71.98 579.89h.01M68.45 545.1h.01M71.72 548.39h.01M105.95 558.75h.01M38.77 563.56h.01M39.04 565.02h.01M78.16 546.5h.01M69.55 543.83h.01M103.69 551.94h.01M50.88 543.55h.01M50.97 619.37h.01M43.79 594.16h.01M76.79 567.21h.01M68.25 612.48h.01M105.74 548.62h.01M68.88 594.14h.01M45.4 583.35h.01M100.43 559.08h.01M72.08 569.39h.01M62.7 590.89h.01M77.18 606.15h.01M52.83 547.1h.01M76.29 547.71h.01M45.81 583.13h.01M67.29 612.89h.01M37.33 563.52h.01M71.31 571.53h.01M36.03 558.69h.01M65.41 616.48h.01M72.11 598.74h.01M93.72 547.63h.01M73.84 601.91h.01M72.21 583.99h.01M71.03 577.14h.01M39.11 549.46h.01M65.99 547.11h.01M93.62 547.01h.01M74.02 591.07h.01M43.82 575.43h.01M57.25 617.66h.01M38.77 613.37h.01M83.19 566.26h.01M41.43 589.57h.01M76.1 575.36h.01M69.3 593.15h.01M43.98 582.47h.01M104.05 552.72h.01M40.33 583.91h.01M46.51 582.01h.01M67.74 590.85h.01M73.96 545.08h.01M42.78 549.21h.01M47.21 546.77h.01M64.27 615.62h.01M44.59 588.95h.01M72.02 548.22h.01M72.97 611.09h.01M61.41 619.51h.01M96.79 561h.01M44.26 611.75h.01M95.13 547.66h.01M101.5 552.75h.01M70.33 606.55h.01M76.04 601.98h.01M53.16 618.12h.01M38.14 616.6h.01M46.8 616.52h.01M68.53 609.76h.01M71.16 597.25h.01M92.27 564.49h.01M48.9 547.35h.01M85.99 546.27h.01M80.2 567.79h.01M75.81 569.17h.01M50.58 544.41h.01M80.73 544.57h.01M100.01 557.99h.01M36.92 553.8h.01M83.94 545.11h.01M77.81 566.99h.01M57.69 548.54h.01M36.55 557.67h.01M43.06 611.18h.01M69.6 579.78h.01M54.16 545.53h.01M72.24 607.41h.01M66.9 589.73h.01M59.64 620.4h.01M59.63 617.5h.01M104.51 553.36h.01M70.2 576.97h.01M36.92 553.81h.01M87.82 548.21h.01M43.45 613.35h.01M94.94 559.37h.01M69.61 578.39h.01M45.98 614.77h.01M73.38 543.79h.01M69.84 572.73h.01M40.19 570.04h.01M43.35 593.83h.01M89.75 564.46h.01M66.32 590.71h.01M39.52 614.53h.01M103.25 554.12h.01M40.08 616.04h.01M38.21 600.94h.01M99.7 548.35h.01M72.92 604.43h.01M79.1 545.21h.01M67.56 583.37h.01M62.48 620.34h.01M89.68 546.91h.01M40.12 608.33h.01M51.45 547.42h.01M39.81 597.83h.01M89.17 547.42h.01M46.35 549.26h.01M75.54 545.43h.01M37.63 569.31h.01M47.29 615.04h.01M43.23 586.28h.01M42.4 591.82h.01M102.03 560.51h.01M70.14 546.61h.01M94.31 547.31h.01M91.07 545.05h.01M40.01 597.23h.01M35.96 607.87h.01M45.89 586.86h.01M36.5 603.19h.01M43.03 616.23h.01M69.55 613.54h.01M66.3 546.18h.01M64 615.05h.01M101.09 550.61h.01M42.5 626.79h.01M52.78 545.22h.01M41.38 606.6h.01M54.29 619.37h.01M85.36 546.25h.01M70.63 575.54h.01M38.71 606.5h.01M76.29 545.33h.01M42.37 546.53h.01M37.23 607.84h.01M75.08 583.24h.01M44.92 621.69h.01M69.56 591.11h.01M82.93 545.37h.01M70.55 580.75h.01M71.82 608.12h.01M41.09 574.8h.01M83.31 572.02h.01M39.54 609.76h.01M91.56 562.55h.01M37.8 554.92h.01M40.9 594.58h.01M47.62 617.67h.01M42.35 545.12h.01M81.46 609.1h.01M102.57 552.49h.01M43.35 583.13h.01M88.66 562.12h.01M96.31 571.93h.01M57.47 546.87h.01M72.46 609.93h.01M69.25 580.35h.01M54.76 547.5h.01M50.16 547.64h.01M72.79 593.98h.01M66.13 592.08h.01M103.74 556.42h.01M71.68 573.22h.01M64.4 544.89h.01M39.66 590.13h.01M70.94 608.53h.01M95.18 547.36h.01M84.38 564.18h.01M79.93 606.45h.01M36.56 611.12h.01M37.94 550.52h.01M75.18 599.78h.01M36.09 598.19h.01M91.5 564.86h.01M58.28 620.82h.01M45.39 614.58h.01M57.9 618.15h.01M70.26 546.04h.01M74.92 547.16h.01M71.63 603.59h.01M71.08 575.87h.01M50.66 622.41h.01M49.35 547.01h.01M68.38 582.11h.01M102.1 549.57h.01M90.12 546.79h.01M57.05 621.08h.01M75.83 606.12h.01M79.49 545.59h.01M49.51 618.98h.01M70.16 596.71h.01M62.63 590.36h.01M36.73 555.15h.01M64.15 590.02h.01M67.54 544.36h.01M79.39 546.64h.01M69.73 594.47h.01M70.06 589.02h.01M92.05 548.53h.01M40.39 598.82h.01M65.6 547.6h.01M38.47 601.43h.01M72.24 607.25h.01M93.98 547.25h.01M105.42 550.71h.01M38.13 572.52h.01M44.07 548.37h.01M52.75 548.57h.01M101.89 556.19h.01M64.09 545.56h.01M91.11 547.05h.01M40.63 594.62h.01M75.64 547.35h.01M60.15 546.17h.01M74.03 596.63h.01M44.46 581.28h.01M92.53 544.62h.01M44.54 578.47h.01M69.08 576.66h.01M36.81 566.03h.01M40.74 617.03h.01M58.63 546.59h.01M73.22 586.79h.01M70.65 545.67h.01M52.65 617.81h.01M38.09 551.3h.01M67.14 617.51h.01M37.93 550.75h.01M101.68 556.09h.01M38.5 572.16h.01M43.15 614.55h.01M83.34 564.77h.01M70.17 587.2h.01M41.97 575.94h.01M54.67 618.3h.01M71.48 610.43h.01M74.5 579.2h.01M62.04 545.62h.01M38.65 570.24h.01M68.39 576.02h.01M39.17 608.68h.01M68.92 610.23h.01M92.12 547.09h.01M70.35 604.85h.01M65.6 591.32h.01M53.25 622.24h.01M94.83 559.97h.01M70.19 546.13h.01M55.5 616.42h.01M100.54 556.56h.01M46.63 589.65h.01M60.69 547.65h.01M88.55 567.26h.01M44.4 578.75h.01M93.38 562.42h.01M67.06 547h.01M68.01 583.02h.01M69.43 547.34h.01M57.86 545.2h.01M41.94 609.43h.01M41.87 574.76h.01M65.7 591.68h.01M64.65 615.57h.01M79.4 611.74h.01M73.44 569.42h.01M109.59 560.31h.01M68.91 592.85h.01M39.58 591.02h.01M53.92 547.98h.01M79.55 547.04h.01M50.71 616.71h.01M72.11 602.97h.01M70.39 577.4h.01M54.61 622.97h.01M37.27 598.76h.01M53.17 621.75h.01M69.6 595.7h.01M97.47 558.76h.01M68.96 575.21h.01M75.89 547.89h.01M59.03 547.03h.01M35.91 560.27h.01M37.63 563.65h.01M75.57 546.59h.01M62.8 546.83h.01M43.95 587.76h.01M81.8 547.49h.01M90.07 547.97h.01M67.67 580.73h.01M73.13 587.95h.01M39.65 601.29h.01M69.19 586.5h.01M83.07 544.23h.01M38.46 592.49h.01M53.75 543.64h.01M43.85 574.72h.01M38.58 560.03h.01M73.62 570.1h.01M36.82 567.8h.01M37.69 600.5h.01M65.06 547.81h.01M43.76 582.39h.01M39.94 597.98h.01M37.92 566.79h.01M89.32 546.39h.01M88.02 568.53h.01M54.22 547.17h.01M47.53 549.17h.01M58.83 548.28h.01M89.59 544.77h.01M53.34 546.37h.01M35.33 587.5h.01M63.89 590.22h.01M40.87 591.68h.01M86.5 566.83h.01M43.48 614.64h.01M43.37 610.87h.01M101.22 558.31h.01M36.09 574.24h.01M44.49 584.57h.01M38.77 551.65h.01M68.31 544.64h.01M37.26 565.98h.01M39.6 592.82h.01M63.62 615.62h.01M44.6 577.76h.01M76.47 547.17h.01M37.44 556.81h.01M41.72 578.65h.01M46.35 614.56h.01M41.68 609.58h.01M65.93 590.96h.01M70.83 594.43h.01M71.87 617.46h.01M39.92 548.12h.01M38.67 568.36h.01M74.82 595.84h.01M37.48 560.97h.01M101.37 544.22h.01M43.29 589.02h.01M63.87 547.51h.01M82.54 545.17h.01M68.59 611.48h.01M39.2 599.64h.01M47.88 549.06h.01M46.7 616.34h.01M66.2 592.9h.01M71.28 571.03h.01M65.63 546.55h.01M86.14 563.36h.01M49.4 548.57h.01M52.46 548.56h.01M47.57 616.37h.01M38.3 562.11h.01M42.97 611.08h.01M72.63 583.52h.01M103.33 554.7h.01M44.24 589.63h.01M38.58 561.17h.01M63.08 547.87h.01M101.92 556.18h.01M95.89 546.14h.01M43.23 617.79h.01M45.81 587.46h.01M38.02 606.52h.01M69.72 610.63h.01M39.09 605.34h.01M70.44 601.77h.01M46.59 591.8h.01M86.32 547.34h.01M37.87 566.53h.01M35.4 559.19h.01M76.96 547.64h.01M49.71 543.87h.01M66.5 546.83h.01M44.8 616.12h.01M45.29 614.42h.01M71.87 572.16h.01M49.17 545.19h.01M39.17 588.18h.01M65.07 590.78h.01M101.96 546.06h.01M68.47 585.87h.01M68.72 617.31h.01M77.19 547.95h.01M76.87 545.54h.01M46.03 580.75h.01M40.49 599.25h.01M38.16 553.5h.01M45.91 585.05h.01M102.52 557.62h.01M80.78 547.56h.01M71.01 607.08h.01M100.73 553.72h.01M37.41 581.44h.01M37.52 554.28h.01M90.12 543.69h.01M71.38 599.89h.01M54.66 615.96h.01M70.56 575.5h.01M75.95 567.35h.01M84.51 562.88h.01M39.52 549.27h.01M43.17 578.59h.01M49.74 543.86h.01M41.01 605.88h.01M74.68 545.42h.01M40.9 576.8h.01M43.78 587.77h.01M65.36 545.56h.01M44.34 548.69h.01M98.46 547.76h.01M87.4 545.32h.01M63.2 620.93h.01M79.46 576.35h.01M46.71 547.03h.01M70.58 579.67h.01M89.02 568.1h.01M44.92 611.93h.01M36.81 557.94h.01M85.2 543.77h.01M39.5 549.07h.01M62.22 590.45h.01M42.99 587.76h.01M84.7 568.45h.01M96.19 563.46h.01M75.68 600.64h.01M37.49 555.32h.01M70.42 545.62h.01M84.9 563.03h.01M42.65 578.91h.01M67.4 586.27h.01M39.55 604.02h.01M72.12 574.8h.01M68.51 585.18h.01M41.74 590.24h.01M99.3 549.86h.01M68.89 593.58h.01M75.93 565.81h.01M35.88 553.74h.01M44.17 548.64h.01M68.26 583.08h.01M71.25 575.8h.01M77 568.81h.01M40.93 599.91h.01M78.99 548.12h.01M36.58 548.66h.01M47.76 617.67h.01M97.93 548.59h.01M56.22 544.75h.01M41.37 579.66h.01M41.67 614.18h.01M60.3 617.44h.01M73.95 567.56h.01M40.35 550.84h.01M67.13 590.1h.01M69.79 584.32h.01M49.31 548.6h.01M64.19 622.56h.01M45.52 590.12h.01M89.73 546.36h.01M71.17 574.37h.01M73 593.86h.01M86.28 563.51h.01M39.52 547.59h.01M44.5 593.84h.01M35.94 565.98h.01M70.36 604.4h.01M55.43 617.83h.01M36.41 548.3h.01M86.61 565.75h.01M85.98 568.43h.01M50.05 547.08h.01M43.81 610.78h.01M50.16 616h.01M74.25 609.46h.01M67.49 584.45h.01M42.33 546.39h.01M93.45 561.83h.01M45.83 614.3h.01M81.65 608.38h.01M102.98 548.26h.01M101.86 548.9h.01M75.09 582.47h.01M107.56 548.78h.01M67.03 591.8h.01M68.83 588.28h.01M98.4 561.13h.01M67.48 613.45h.01M38.52 561.35h.01M38.95 561.22h.01M41.53 547.79h.01M40.46 602.72h.01M95.58 560.35h.01M35.68 563.8h.01M63.42 544.74h.01M95.05 544.35h.01M76.9 612.58h.01M91.24 571.61h.01M72.29 576.03h.01M38.96 613.16h.01M72.92 545.16h.01M66.11 616.48h.01M49.81 544.17h.01M81.09 544.18h.01M53.01 545.53h.01M42.95 615.68h.01M78.49 566.96h.01M46.95 547.94h.01M44.59 614.78h.01M47.29 544.09h.01M48.85 615.02h.01M70.72 616.45h.01M52.07 619.04h.01M37.64 565.89h.01M96.27 547.83h.01M65.82 616.42h.01M53.44 617.83h.01M103.25 555.01h.01M57.11 547.02h.01M71.25 604.38h.01M66.15 592.75h.01M66.29 543.56h.01M35.02 563.9h.01M54.45 547.33h.01M43.67 611.26h.01M99.03 548.46h.01M65.68 612.78h.01M87.98 547.22h.01M71.46 589.27h.01M102.42 552.22h.01M52.04 546.31h.01M53.22 617.18h.01M89.18 546.05h.01M69.89 547.02h.01M45.67 582.59h.01M74.12 592.99h.01M65.15 612.94h.01M44.89 590.22h.01M67.23 585.9h.01M43.26 578.27h.01M72.39 600.65h.01M62.64 546.43h.01M68.06 612.33h.01M45.98 582.86h.01M40.18 604.76h.01M72.69 587.84h.01M47.39 615.45h.01M67.13 611.01h.01M72.98 601.1h.01M43.71 583.64h.01M62.77 545.9h.01M60.63 623.51h.01M53.41 616.15h.01M45.22 581.19h.01M101.02 550.38h.01M37.06 556.29h.01M64.48 590.93h.01M82.29 547.64h.01M85.76 563.2h.01M44.7 584.88h.01M38.54 561.5h.01M83.84 546.06h.01M66.57 612.37h.01M100.59 561.41h.01M57.92 546.05h.01M68.35 594.85h.01M41.15 610.69h.01M38.89 591.21h.01M66.59 591.44h.01M80.23 547.8h.01M51.9 545.72h.01M41.06 598.13h.01M70.43 573.38h.01M38.79 562.18h.01M48.68 545.31h.01M48.58 615.78h.01M71.02 590.78h.01M66.13 589.89h.01M43.03 545.17h.01M68.93 577.69h.01M44.27 593.1h.01M40.95 599.73h.01M102.11 553.54h.01M71.06 586.24h.01M102.63 554.71h.01M39.27 578.77h.01M42.67 548.94h.01M74.76 544.48h.01M99.06 562.25h.01M66.91 590.93h.01M36.16 571.26h.01M64.67 617.95h.01M42.43 588.73h.01M98.49 548.15h.01M57.77 546.61h.01M38.32 572.33h.01M58.09 617.91h.01M78.04 567.96h.01M44.87 592.76h.01M82.77 545.61h.01M73.91 593.36h.01M80.21 569.61h.01M38.59 611.83h.01M52.68 547.2h.01M45.78 592.67h.01M58.24 622.56h.01M41.47 589.67h.01M58.04 617.12h.01M87.65 564.82h.01M81.87 566.12h.01M37.7 556.39h.01M46.62 613.74h.01M38.35 559.83h.01M40.22 590.5h.01M40.78 589.75h.01M71.23 603.38h.01M75.17 548.11h.01M91.59 545.91h.01M104.86 549.93h.01M101.14 552.02h.01M57.53 617.54h.01M47.8 546.23h.01M94.15 544.35h.01M106.06 561.34h.01M72.16 602.82h.01M52.04 617.56h.01M74 569.99h.01M67.22 614.47h.01M101.74 557.5h.01M76.29 547.83h.01M61.81 545.67h.01M94.41 548.24h.01M98.21 549.59h.01M81.32 568.72h.01M45.21 588.46h.01M64.1 617.06h.01M83.14 544.69h.01M46.15 583.72h.01M44.61 613.31h.01M35.81 551.12h.01M45.17 586.99h.01M41.04 609.06h.01M70.05 581.68h.01M70.75 605.7h.01M81.32 572.45h.01M57.64 617.39h.01M67.99 590.84h.01M67.55 611.23h.01M41.71 545.91h.01M70.52 577.83h.01M41.01 550.11h.01M42.57 610.48h.01M38.69 579.88h.01M45.19 592.03h.01M37.09 560.42h.01M35.31 569.36h.01M41.55 608.13h.01M35.22 595.92h.01M41.57 580.83h.01M38.38 558.66h.01M96.48 547.47h.01M69.3 575.33h.01M39.4 575.53h.01M46.64 581.65h.01M72.05 546.69h.01M36.48 604.9h.01M59.41 617.52h.01M64.35 545.76h.01M36.08 565.15h.01M38.27 555.76h.01M39.77 606.25h.01M74.8 566.18h.01M84.7 564.23h.01M37.28 563.25h.01M63.17 619.53h.01M96.05 547.8h.01M69.87 587.43h.01M42.39 547.95h.01M52.28 616.47h.01M85.64 562.8h.01M85.34 568.6h.01M43.86 546.77h.01M47.05 615.32h.01M51.97 616.42h.01M76.37 586.4h.01M50.74 545.62h.01M43.69 547.73h.01M89.96 547.52h.01M84.76 547.82h.01M71.09 576.32h.01M42.66 581.69h.01M56.45 546.2h.01M37.84 556.85h.01M39.23 564.06h.01M95.23 547.03h.01M39.48 569.59h.01M72.2 586.28h.01M46.75 546.52h.01M37.96 565.76h.01M98.27 561.69h.01M104.93 559.58h.01M41.18 606.88h.01M40.22 574.56h.01M104.75 549.66h.01M78.56 602.83h.01M68.17 582.81h.01M76.1 594.73h.01M43.59 588.43h.01M66.84 613.75h.01M99.77 550.63h.01M93.86 560.87h.01M98.19 547.01h.01M66.97 544.25h.01M41.7 591.04h.01M44.62 548.62h.01M37.43 550.53h.01M77.65 610.59h.01M65.11 615.16h.01M104.75 551.62h.01M95.81 548.59h.01M45.35 585.44h.01M83.09 564.06h.01M51.75 619h.01M93.46 548.68h.01M42.57 549.11h.01M69.44 584.42h.01M68.02 584.36h.01M82.64 563.33h.01M70.31 577.96h.01M44.75 578.66h.01M48.43 544.96h.01M51.31 616.49h.01M38.49 569.52h.01M61.43 548.32h.01M51.28 616h.01M99.33 557.28h.01M38.93 610.2h.01M101.73 554.63h.01M93.11 563.79h.01M41.87 587.19h.01M101.4 551.32h.01M69.04 589.61h.01M48.2 543.74h.01M74.55 545.37h.01M38.12 558.71h.01M43.88 585.13h.01M70.07 585.65h.01M39.33 606.07h.01M37.79 558.52h.01M35.36 568h.01M35.31 560.37h.01M67.85 546.76h.01M41.76 548.11h.01M75.69 608.88h.01M73.6 581.67h.01M85.86 570.23h.01M84.06 546.2h.01M65.33 546.66h.01M89.46 547.69h.01M38.59 563.97h.01M81.44 611.13h.01M68.41 592.55h.01M41.61 547.96h.01M57.34 545.88h.01M68.68 581.17h.01M65.67 590.8h.01M40.47 605.07h.01M69.49 545.92h.01M75.5 613.79h.01M38.07 571.42h.01M37.36 587.6h.01M39.57 569.01h.01M96.9 549.17h.01M78.97 609.59h.01M56.2 617.45h.01M42.83 589.25h.01M50.83 618.89h.01M71.65 602.28h.01M65.42 591.6h.01M87.78 579.24h.01M40.9 606h.01M44.89 549.4h.01M90.1 547.51h.01M85.98 564.23h.01M91.37 562.86h.01M101.24 557.31h.01M42.24 549.1h.01M38.35 605.56h.01M98.94 549.88h.01M69.48 612.74h.01M39.13 565.42h.01M74.31 569.18h.01M73.85 611.63h.01M68.56 591.17h.01M65.51 590.84h.01M43.04 588.79h.01M67.46 618.24h.01M71.28 584.85h.01M48.15 546.83h.01M93.01 543.95h.01M55.69 617.01h.01M41.95 611.9h.01M37.11 567.13h.01M40.59 573.12h.01M53.77 547.34h.01M67.1 593.95h.01M47.24 546.03h.01M42.43 574.95h.01M42.23 575.75h.01M40.17 604.7h.01M47.1 617.2h.01M71.66 574.82h.01M35.27 554.97h.01M37.22 556.66h.01M68.88 616.5h.01M42.45 547.85h.01M71.87 571.57h.01M44.26 618.74h.01M35.06 587.38h.01M50.56 546.53h.01M94.05 560.15h.01M44.4 613.18h.01M104.27 560.93h.01M69.54 574.09h.01M39.65 598.43h.01M73.09 609.19h.01M76.52 572.5h.01M68.66 589.97h.01M37.81 560.4h.01M61.46 547.51h.01M40.39 574.64h.01M99.83 560.15h.01M93.08 562.37h.01M111.68 544.28h.01M75.64 544h.01M38.94 585.97h.01M65.61 544.46h.01M59.4 543.86h.01M57.16 548.42h.01M77.63 566.29h.01M103.74 558.17h.01M96.58 548.14h.01M44.82 616.53h.01M78.65 545.17h.01M68.73 584.44h.01M83.93 567.41h.01M93.7 543.76h.01M61.49 619.5h.01M78.4 548.33h.01M82.79 547.69h.01M38.39 597.61h.01M95.58 560.81h.01M77.4 544.85h.01M67.66 613.68h.01M96.01 546.97h.01M101.12 548.01h.01M68.48 545.78h.01M60.66 618.2h.01M38.79 560.02h.01M70.15 575.23h.01M64.93 622.16h.01M46.27 582.1h.01M101.75 555.52h.01M61.91 617.05h.01M45.35 585.47h.01M41.04 573.76h.01M65.1 590.62h.01M36.91 563.13h.01M100.87 546.7h.01M43.23 593.75h.01M96.22 558.65h.01M61.3 615.95h.01M83.62 564.67h.01M40.5 606h.01M42.47 549.72h.01M89.97 561.94h.01M38.15 552.27h.01M45 587.01h.01M102.57 555.36h.01M42.02 573.48h.01M44.89 581.88h.01M39.71 611.45h.01M64.53 616.16h.01M57.43 548.16h.01M44.43 612.6h.01M72.32 613.89h.01M69.5 547.68h.01M72.51 575.11h.01M41.31 609.34h.01M43.18 577.76h.01M87.22 563.59h.01M43.51 591.48h.01M45.19 549.26h.01M40.47 575.73h.01M38.74 575.72h.01M47.23 614.49h.01M94.87 561.13h.01M43.05 613.91h.01M42.5 580.4h.01M68.46 589.7h.01M35.91 570.07h.01M86.76 596.34h.01M38.18 594.6h.01M76.61 545.56h.01M100.12 555.33h.01M46.27 613.96h.01M40.77 609.94h.01M90.35 546.04h.01M77.21 615.48h.01M63.77 616.3h.01M38.64 554h.01M51.22 548.27h.01M74.19 569.25h.01M92.67 565.42h.01M86.18 547.55h.01M68.2 595.43h.01M43.33 587.39h.01M71.24 603.94h.01M77.68 566.7h.01M89.57 544.09h.01M72.95 569.15h.01M108.6 557.69h.01M45.11 586.16h.01M64.94 613.28h.01M35.92 596.12h.01M96.38 545.11h.01M103.47 544.08h.01M42.18 578.56h.01M37.58 551.81h.01M71.2 594.11h.01M37.17 562.02h.01M84.61 545.93h.01M41.55 590.74h.01M67.8 621.29h.01M80.01 565.9h.01M41.48 597.01h.01M65.99 613.62h.01M107.22 548.89h.01M43.89 574.49h.01M106.31 552.56h.01M42.78 595.74h.01M53.95 547.11h.01M72.99 543.95h.01M45.82 613.45h.01M83.14 545.74h.01M64.51 589.87h.01M42.21 579.75h.01M42.46 577.4h.01M44.44 587.24h.01M69.75 594.57h.01M43.3 548.21h.01M89.15 545.4h.01M76.49 600.54h.01M39.6 609.86h.01M41.86 547.54h.01M75.03 606.48h.01M74.84 546.6h.01M66.06 613.19h.01M37.45 577.72h.01M78.08 545.79h.01M72.04 599.49h.01M36.27 554.18h.01M42.56 586.98h.01M39.73 612.64h.01M71.9 572.44h.01M67.55 583.45h.01M58.08 619.26h.01M69.01 576.3h.01M94.07 547.54h.01M46.74 546.05h.01M40.46 571.51h.01M65.29 544.49h.01M49.61 619.74h.01M40.4 598.36h.01M92.32 563.94h.01M70.47 602.99h.01M102.97 548.22h.01M101.36 549.5h.01M68.35 586.8h.01M42.5 547.59h.01M37.36 609.54h.01M45.3 586.58h.01M69.08 594.14h.01M86.52 543.85h.01M73.03 576.16h.01M69.91 588.36h.01M40.59 589.85h.01M40.97 572.29h.01M70.5 574.44h.01M98.82 544.65h.01M41.13 592.52h.01M71.36 579.5h.01M37.72 569.66h.01M38.88 565.99h.01M81.76 547.69h.01M40.98 549.63h.01M76.73 598.07h.01M72.97 569.32h.01M80.12 546.75h.01M57.4 617.12h.01M58.73 616.43h.01M64.41 544.84h.01M72.16 622.38h.01M102.9 550.1h.01M42.74 578.92h.01M97.82 545.16h.01M69.38 574.52h.01M72.53 601.12h.01M37.89 571.58h.01M43.48 548.43h.01M45.34 590.45h.01M68.13 586.44h.01M70.33 577.52h.01M44.92 587.41h.01M44.56 590.43h.01M67.4 584.8h.01M68.54 610.16h.01M50.33 622.99h.01M96.14 561.7h.01M43.67 613.19h.01M68.9 608.81h.01M41.6 587.63h.01M39.22 601.06h.01M37.2 555.21h.01M91.42 544.4h.01M36.6 565.18h.01M68.89 578.13h.01M101.58 551.6h.01M71.97 546.46h.01M39.64 593.22h.01M35 554.14h.01M72.01 599.22h.01M40.39 602.89h.01M39.97 606.13h.01M80.62 548.25h.01M37.5 547.79h.01M42.75 589.21h.01M71.46 584.14h.01M40.24 550.8h.01M55.53 548h.01M74.9 569.09h.01M108.32 552.98h.01M98.74 558.39h.01M98.77 559.52h.01M86.45 570.16h.01M104.23 546.05h.01M35.04 549.71h.01M46.01 615.94h.01M54.39 616.56h.01M100.71 551.74h.01M71.48 596.56h.01M42.82 576.86h.01M69.66 591.57h.01M35.07 578.41h.01M102.99 554.41h.01M74.92 610.94h.01M38.99 567.29h.01M83.55 563.77h.01M71.46 590.93h.01M65.96 613.18h.01M38.31 555.06h.01M68.91 608.98h.01M50.65 615.87h.01M38.94 546.23h.01M41.13 575.55h.01M107.91 545.69h.01M37.15 611.14h.01M39.24 543.5h.01M69.02 608.88h.01M62.09 546.97h.01M63.34 548.29h.01M41.93 577.79h.01M105.35 557.39h.01M65.25 544.52h.01M37.27 554.71h.01M46.98 613.84h.01M44.52 582.27h.01M76.34 608.97h.01M36.67 609.84h.01M60.81 618.37h.01M55.16 618.85h.01M45.5 547.58h.01M44.04 592.65h.01M81.28 573.46h.01M97.73 548.95h.01M38.15 547.67h.01M47.02 615.35h.01M111.88 556.53h.01M87.04 546.67h.01M69.13 575.48h.01M67.06 583.61h.01M74.86 567.46h.01M44.79 549.02h.01M67.36 546.76h.01M100.31 549.48h.01M71.42 612.61h.01M62.51 590.06h.01M103.16 553.66h.01M86.81 569.8h.01M82.6 593.66h.01M69.6 594.04h.01M67.78 612.71h.01M44.98 582.16h.01M69.92 607.31h.01M93.77 544.21h.01M61.7 616.86h.01M67.8 585.55h.01M95.17 559.15h.01M37.88 566.49h.01M39.76 570.32h.01M66.75 547.22h.01M80.03 563.97h.01M104.7 555.54h.01M65.49 589.82h.01M73.68 567.54h.01M101.25 561.79h.01M40.11 544.32h.01M39.05 562.05h.01M89.17 546.02h.01M45.71 580.64h.01M38.03 557.78h.01M40.46 607.26h.01M66.53 545.01h.01M72.31 597.04h.01M68.5 546.89h.01M64.55 616.61h.01M94.77 548.41h.01M41.57 548.19h.01M94.57 546.83h.01M43.3 617.39h.01M81.35 546.61h.01M70.67 607.46h.01M39.54 546.16h.01M39.78 584.46h.01M43.64 618.99h.01M62.32 618.21h.01M100.87 561.27h.01M50.2 615.32h.01M63.43 589.81h.01M43.76 611.7h.01M74.65 546.55h.01M38.52 560.2h.01M70.2 589.36h.01M92.47 546.75h.01M69.18 595.19h.01M92.23 562.49h.01M74.31 605.74h.01M107.53 550.3h.01M42.84 584.9h.01M51.96 546.53h.01M86.53 563.79h.01M78.19 593.06h.01M103.14 559.84h.01M105.53 547.28h.01M109.07 561.23h.01M37.06 566.55h.01M38.84 563.11h.01M38.11 573.04h.01M105.23 551.49h.01M66.44 546.96h.01M94.51 546.07h.01M45.21 615.28h.01M39.04 612.44h.01M81.09 545.87h.01M36.98 565.76h.01M69.75 580.57h.01M73.26 574.47h.01M87.66 546.11h.01M46.59 544.04h.01M35.03 551.92h.01M64.64 616.29h.01M72.12 579.71h.01M74.74 545.7h.01M74.5 548.11h.01M73.63 544.11h.01M40.04 600.75h.01M41.03 574.23h.01M64.7 547.95h.01M35.2 597.32h.01M73.56 604.79h.01M73.1 578.27h.01M42.6 592.08h.01M74.78 547.04h.01M59.72 623.05h.01M54.68 548.83h.01M59.22 547.29h.01M43.86 546.5h.01M39.96 576.69h.01M43.53 578.16h.01M71.84 596.14h.01M98.23 558.99h.01M64.55 589.77h.01M57.64 618.21h.01M38.6 605.61h.01M75.63 585.84h.01M103.26 551.16h.01M51.99 619.55h.01M43.16 589.65h.01M63.62 618.3h.01M45.55 591.43h.01M86.41 567.04h.01M78.94 572.7h.01M57.37 546.49h.01M41 605.46h.01M67.95 589.04h.01M36.98 558.03h.01M55.89 547.37h.01M87.73 545.68h.01M86.34 547.15h.01M75.14 595.87h.01M65.77 613.78h.01M69.3 586.89h.01M90.71 563.13h.01M79.51 590.68h.01M38.87 606.65h.01M65.14 590.85h.01M78.2 565.01h.01M89.68 546.67h.01M65.77 615.19h.01M36.4 566.54h.01M67.48 615.26h.01M70.01 589.68h.01M90.7 544.52h.01M68.25 590.65h.01M68.62 595.46h.01M91.45 564.79h.01M72.05 548.14h.01M50.9 546.77h.01M37.98 562.93h.01M37.88 577.64h.01M79.73 568.47h.01M63.66 618.25h.01M45.08 545.98h.01M51.29 548.65h.01M105.51 564.17h.01M70.53 616.68h.01M46.39 615.15h.01M73.81 546.59h.01M63.97 590.86h.01M60.46 547.33h.01M88.95 566.11h.01M97.54 560.24h.01M94.59 546.38h.01M81.05 569.28h.01M62.14 546.15h.01M69.27 580.38h.01M55.69 616.96h.01M71.09 575.85h.01M86.68 545.34h.01M66 616.82h.01M70.3 584.01h.01M84.24 547.11h.01M62.19 547.27h.01M39.33 548.02h.01M46.75 543.63h.01M81.68 569.09h.01M56.57 547.64h.01M69.48 583.1h.01M74.46 611.53h.01M38.97 564.76h.01M69.52 596.98h.01M54.94 545.59h.01M75.81 547.17h.01M77.61 577.16h.01M79.66 601.77h.01M61.39 548.25h.01M38.65 566.21h.01M41.49 572.65h.01M90.57 565.6h.01M70.34 616.21h.01M103.13 553.27h.01M42.48 614.21h.01M48.57 545.9h.01M55.72 618.64h.01M81.51 565.45h.01M69.37 580.97h.01M81.98 544.48h.01M88.12 546.43h.01M43.08 593.93h.01M69.09 579.89h.01M37.61 600.75h.01M72.63 568.36h.01M37.16 571.6h.01M62.8 615.74h.01M101.29 560.37h.01M67.55 591.66h.01M42.16 595.23h.01M88.86 562.47h.01M53.81 548.69h.01M38.24 601.89h.01M67.51 592.47h.01M62.56 546.7h.01M39.43 600.86h.01M73.86 546.19h.01M40.67 617.12h.01M41.63 588.3h.01M36.99 612.5h.01M95.82 559.53h.01M65.78 592.61h.01M101.61 552.85h.01M71.5 545.8h.01M75.52 547.02h.01M42.02 549.1h.01M40.3 545.05h.01M38 589.89h.01M40.87 579.13h.01M39.81 605.07h.01M38.17 556.77h.01M69.86 593h.01M95.88 566.28h.01M48.04 590.82h.01M98.33 563.87h.01M44.32 581.05h.01M41.09 573.25h.01M75.81 566.81h.01M42.93 609.71h.01M42.73 547.88h.01M46.29 546.31h.01M64.81 614.12h.01M59.25 618.56h.01M83.41 612.67h.01M90.57 560.98h.01M37.62 559.73h.01M100.25 550.83h.01M65.17 547.32h.01M69.37 576.51h.01M88.29 544.65h.01M45.21 587.75h.01M84.7 564.69h.01M60.57 545.85h.01M86.42 546.64h.01M40.46 573.09h.01M37.39 600.29h.01M63.42 544.68h.01M66.82 593.53h.01M68.87 548.13h.01M42.49 577.19h.01M99 548.02h.01M80.23 546.95h.01M57.29 618.19h.01M72.11 569.84h.01M42.18 584.71h.01M69.38 609.08h.01M71.53 604.98h.01M80.09 567.64h.01M69.8 608.7h.01M59.62 618.04h.01M101.46 560.75h.01M72.97 594.65h.01M38.01 569.34h.01M103 553.59h.01M103.38 554.71h.01M47.62 548.85h.01M40.49 595.15h.01M90.28 543.82h.01M59.65 616.4h.01M38.65 603.9h.01M102.34 544.48h.01M69.17 609.62h.01M55.19 623.98h.01M85.22 564.42h.01M76.77 618.29h.01M71.43 547.71h.01M75.52 605.72h.01M73.94 547.82h.01M102.03 551.91h.01M46.54 590.63h.01M54.59 619.01h.01M103.93 553.27h.01M65.55 591.3h.01M44.82 548.37h.01M96.23 566.42h.01M103.88 559.53h.01M73.39 579.98h.01M73.81 601.95h.01M40.75 588.24h.01M82.85 564.84h.01M89.05 562.26h.01M37.92 600.69h.01M43.32 587.41h.01M39.58 549.51h.01M39.3 601.52h.01M66.93 593.04h.01M38.52 556.58h.01M40.44 594.66h.01M77.94 546.49h.01M51.81 616.53h.01M44.74 617.6h.01M92.7 545.95h.01M68.04 586.42h.01M94.25 547.38h.01M86.39 545.02h.01M44.84 546.64h.01M35.59 552.49h.01M40.59 606.44h.01M45.63 612.84h.01M71.75 609.91h.01M70.82 619.03h.01M91.99 563.59h.01M82.34 565.3h.01M57.02 619.56h.01M46.95 548.5h.01M100.59 555.63h.01M46.51 589.8h.01M43.48 594.33h.01M38.66 561.28h.01M77.78 546.85h.01M51.47 619.55h.01M41.24 574.88h.01M56.86 548.25h.01M43.84 549.41h.01M89.85 569.23h.01M98.1 559.11h.01M38.21 606.97h.01M75.32 544.86h.01M80.42 547.42h.01M76.77 568.16h.01M70.94 609.15h.01M60.7 624.67h.01M46.18 585.19h.01M83.75 547.9h.01M72.49 588.88h.01M39.01 603.61h.01M66.8 614.71h.01M91.97 545.58h.01M71.64 611.92h.01M51.1 621.84h.01M36.77 559.3h.01M69.95 572.75h.01M60.95 620.3h.01M48.37 548.49h.01M72.03 576.61h.01M77.94 566.26h.01M46.59 617.52h.01M87.94 548.14h.01M60.16 616.32h.01M92.18 546.35h.01M69.02 590.98h.01M45.75 590.97h.01M96.22 543.72h.01M58.18 621.75h.01M57.34 616.28h.01M38.5 600.23h.01M72.86 585.01h.01M96.4 544.3h.01M35.12 558.83h.01M101.4 549.07h.01M62.81 590.13h.01M103.38 566.56h.01M72.67 578.39h.01M69.56 547.82h.01M41.05 574.09h.01M69.52 588.54h.01M102.24 560.94h.01M41.86 589.61h.01M69.22 547.71h.01M71.47 595.72h.01M71.87 614.67h.01M55.38 546.25h.01M70.04 574.43h.01M76.62 565.85h.01M70.39 591.35h.01M71.24 594.71h.01M73.19 569.79h.01M80.27 546.42h.01M69.72 573.24h.01M78.98 547.56h.01M44.17 588.73h.01M70.54 583.19h.01M39.77 604.32h.01M37.64 560.6h.01M95.62 559.15h.01M89.68 544.96h.01M45.93 579.82h.01M55.25 547.18h.01M41.98 545.87h.01M40.77 612.27h.01M46.32 581.66h.01M99.61 548.52h.01M42.96 548.51h.01M75.57 545.17h.01M71.26 615.26h.01M38.66 554.05h.01M67.74 584.56h.01M81.17 577.39h.01M42.51 575.82h.01M58 547.65h.01M91.21 544.82h.01M110.1 547.51h.01M71.53 574.53h.01M85.65 563.55h.01M39.72 587.6h.01M41.94 596.32h.01M72.09 603.48h.01M37.05 558.47h.01M78.01 573.07h.01M66.42 592.75h.01M91.68 560.52h.01M59.18 547.42h.01M100.33 556.66h.01M101.51 552.57h.01M90.66 560.88h.01M46.95 621.25h.01M39.81 573.75h.01M72.54 607.18h.01M36.59 546.58h.01M93.42 560.38h.01M67.64 611.22h.01M97.96 564.46h.01M71.52 598.44h.01M37.62 595.7h.01M40.71 605.38h.01M38.14 564.66h.01M47.55 545.33h.01M44.23 544.16h.01M54.55 544.1h.01M75.63 546.8h.01M101.9 553.1h.01M71.12 600.03h.01M63.8 616.22h.01M43.06 589.12h.01M71.62 581.3h.01M75.74 592.44h.01M42.3 574.03h.01M100.43 557.39h.01M72.3 568.37h.01M72.25 599.09h.01M66.12 547.88h.01M39.22 613.69h.01M97.15 548.18h.01M59.41 620.12h.01M78.45 567.1h.01M40.45 594.91h.01M42.86 616.33h.01M95.4 546.69h.01M46.94 615.67h.01M76.09 597.42h.01M103.98 552.06h.01M39.32 564.72h.01M97.84 546.22h.01M39.04 605.29h.01M95.21 547.24h.01M52.88 618.12h.01M72.99 612.86h.01M37.82 603.71h.01M48.42 545.12h.01M45.55 590.18h.01M35.88 544.84h.01M39.91 610.8h.01M41.38 613.1h.01M71.55 605.97h.01M44.7 592.44h.01M68.17 594.97h.01M46.31 583.86h.01M67.01 546.89h.01M48.49 590.07h.01M45.33 616.19h.01M71.84 599.63h.01M58.58 621.48h.01M78.9 547.67h.01M39.19 606.99h.01M66.66 546.45h.01M67.45 547.86h.01M43.2 577.76h.01M54.33 619.72h.01M69.02 547.54h.01M76.98 571.07h.01M50.79 547.89h.01M107.34 555.09h.01M38.36 570.29h.01M44.05 593.56h.01M70.94 577.68h.01M98.48 562.73h.01M48.9 624.12h.01M43.33 578.97h.01M51.6 620.26h.01M37.69 574.82h.01M71.09 604.54h.01M95.05 560.63h.01M49.15 615.04h.01M83.5 543.54h.01M39.46 547.86h.01M55.22 621.41h.01M57.3 623.65h.01M64.44 613.5h.01M68.21 581.95h.01M44.14 577.17h.01M70.05 572.6h.01M37.06 559.58h.01M37.18 566.05h.01M89.51 564.08h.01M45.41 614.02h.01M42.4 592.08h.01M69.9 613.08h.01M40.1 571.03h.01M45.06 588.76h.01M73.94 591.78h.01M37.8 559.81h.01M41.44 597.91h.01M88.91 564.38h.01M41.55 584.14h.01M60.14 544.44h.01M73.26 572.93h.01M41.64 548.88h.01M38.23 549.24h.01M37.24 552.63h.01M57.74 544.82h.01M49.13 546.95h.01M38.68 564.68h.01M102.68 560.39h.01M104.19 552.48h.01M38.21 559.73h.01M88.36 563.73h.01M71.21 583.82h.01M60.16 546.81h.01M80.14 546.57h.01M82.64 547.82h.01M37.94 607.87h.01M39.84 608.7h.01M41.02 581.2h.01M43.26 593.39h.01M97.71 548.4h.01M64.1 617.33h.01M42.07 584.01h.01M84.44 567.11h.01M79.02 568.75h.01M56.95 617.8h.01M65.23 621.25h.01M43.02 546.32h.01M73.43 594.79h.01M75.23 568.7h.01M69.07 590.39h.01M87.54 565.31h.01M79.12 581.29h.01M61.36 544.48h.01M74.25 548.19h.01M73.25 568.09h.01M48.89 548.44h.01M61.38 547.9h.01M81.86 546.7h.01M69.17 597.05h.01M89.82 563.52h.01M63.64 615.45h.01M74.1 601.19h.01M35.45 588.16h.01M62.3 547.87h.01M72.96 569.57h.01M48.78 619.78h.01M89.62 562.82h.01M72.47 615.71h.01M45.42 585.6h.01M71.78 599.88h.01M39.99 548.58h.01M45.92 585.03h.01M77.55 565.04h.01M85.65 547.23h.01M72.12 569.22h.01M67.74 610.2h.01M43.8 594.43h.01M63.88 545.85h.01M75.56 567.02h.01M44.32 547.55h.01M48.7 616.11h.01M47.13 590.38h.01M68.03 587.58h.01M102.49 547.92h.01M49.78 616.21h.01M100.74 552.78h.01M67.07 615.78h.01M67.95 546.53h.01M89.96 547.51h.01M44.59 578.31h.01M82.39 564.58h.01M40.93 590.47h.01M59.74 617.59h.01M36.72 570.54h.01M38.68 598.91h.01M91.43 573.06h.01M69.33 587.91h.01M70.04 610.44h.01M35.15 562.09h.01M66.43 592.17h.01M69.73 582.74h.01M99.24 548.37h.01M70.38 610.92h.01M72.97 568.46h.01M43.99 592.77h.01M91.42 561.6h.01M51.22 616.06h.01M49.47 546.32h.01M56.83 544.68h.01M85.02 564.94h.01M70.51 606.52h.01M69.19 581.18h.01M43.39 610.9h.01M76.32 546.74h.01M105.33 543.59h.01M49.77 547.64h.01M74.26 566.49h.01M65.78 548.41h.01M50.14 616.1h.01M37.97 561.39h.01M44.6 592.75h.01M41.71 596.39h.01M105.3 551.35h.01M85.84 566.07h.01M36.42 547.8h.01M90.31 547.72h.01M36.44 611.91h.01M66.31 589.76h.01M88.61 561.86h.01M102.21 556.9h.01M37.23 609.16h.01M43.86 547.9h.01M69.37 546.89h.01M59.18 547.03h.01M55.82 546.68h.01M46.91 547.23h.01M72.14 609.56h.01M38.94 612.38h.01M73.21 599.81h.01M99.94 556.6h.01M71.14 573.16h.01M36.19 565.5h.01M39.86 609.35h.01M72.68 574.29h.01M67.43 593.48h.01M62.5 621.41h.01M64.43 546.46h.01M45.73 582.6h.01M40.49 574.87h.01M90.43 547.87h.01M102.45 549.13h.01M70.36 616.8h.01M63.21 621.89h.01M36.16 551.38h.01M60.93 621.04h.01M43.49 592.14h.01M35.88 552.23h.01M43.1 611.32h.01M36.09 554.36h.01M41.68 547.59h.01M35.49 568.15h.01M41.93 611.15h.01M61.58 619.56h.01M44.4 579.61h.01M104.96 556.57h.01M65.21 614.73h.01M56.37 546.91h.01M47.12 614.11h.01M100.15 545.52h.01M77 543.61h.01M43.03 574.87h.01M39.68 604.94h.01M84.33 567.77h.01M77.08 545.62h.01M73.38 570.48h.01M39.77 568.79h.01M41.7 575.29h.01M42.64 594.79h.01M100.73 559.2h.01M46.89 614.77h.01M72.56 545.05h.01M35.33 603.21h.01M71.86 612h.01M36.12 601.15h.01M47.54 543.79h.01M81.42 544.96h.01M70.16 545.68h.01M102.57 551.9h.01M52.84 626.84h.01M38.79 563.94h.01M93.84 546.7h.01M80.28 566.68h.01M38.84 566.04h.01M73.92 567.74h.01M90.32 547.7h.01M72.8 546.04h.01M35.23 579.24h.01M100.3 558.22h.01M44.78 591.21h.01M101.87 553.62h.01M86.95 547.45h.01M99.18 566.86h.01M98.97 544.79h.01M98.11 547.67h.01M42.22 574.64h.01M37.01 552.55h.01M67.42 588.69h.01M57.13 616.05h.01M36.16 561.84h.01M58.77 624.17h.01M39.63 548.58h.01M35.7 613.33h.01M69.76 607.48h.01M87.31 546.98h.01M81.25 547.74h.01M43.67 617.8h.01M96.14 559.65h.01M53.26 544.78h.01M38.68 559.73h.01M58.62 546.48h.01M70.07 611.65h.01M39.43 550.96h.01M45.09 617.16h.01M63.22 589.77h.01M71.94 604.5h.01M67.95 591.19h.01M51.53 616.84h.01M75.64 595.05h.01M36.1 602.56h.01M80.38 564.89h.01M69.43 548.15h.01M42.97 612.21h.01M71.26 587.43h.01M95.84 558.91h.01M58.04 543.67h.01M75.01 547.66h.01M46.6 582.01h.01M82.53 563.42h.01M87.05 564.45h.01M87.9 563.24h.01M74.56 591.55h.01M74.77 567.96h.01M38.31 599.94h.01M38.76 552.11h.01M63.98 547.64h.01M36.27 600.13h.01M91.67 561.34h.01M40.19 603.85h.01M35.22 555.76h.01M64.8 615.12h.01M55.1 616.12h.01M97.87 563.13h.01M51.47 546.02h.01M43.51 592.24h.01M69.46 615.06h.01M39.19 608.1h.01M44.33 588.66h.01M45.4 615.69h.01M46.12 582.92h.01M88.52 546.73h.01M40.28 571.77h.01M39.55 580.31h.01M45.25 580.13h.01M70.9 586.39h.01M96.17 560.22h.01M96.03 563.18h.01M38.12 598.84h.01M71.88 593.37h.01M60.66 616.67h.01M101.84 565.11h.01M53.07 618.73h.01M40.74 602.08h.01M70.55 575.78h.01M72.5 610.7h.01M37.85 575.34h.01M44.42 547.57h.01M89.89 572.6h.01M73.62 601.29h.01M102.97 563.32h.01M43.88 613.1h.01M75.29 547.6h.01M45.19 582.39h.01M37.88 609.71h.01M72.85 568.22h.01M91.77 563.6h.01M37.3 562.53h.01M100.57 555.37h.01M87.91 562.83h.01M39.84 583.78h.01M71.48 545.95h.01M72.69 601.04h.01M38.7 564.2h.01M36.74 552.88h.01M100.34 556.81h.01M89.15 562.22h.01M68.68 545.88h.01M38 601.98h.01M57.41 616.69h.01M48.2 548.51h.01M100.11 550.15h.01M89.15 547.97h.01M44.83 581.48h.01M39.82 574.01h.01M88.59 544.68h.01M43.78 576.17h.01M38.51 609.36h.01M45.11 617.35h.01M36.24 549.39h.01M70.02 575.52h.01M75.6 568.32h.01M37.29 559.92h.01M71.06 611.98h.01M40.67 611.42h.01M95.95 547.2h.01M36.7 570.77h.01M66.09 592.05h.01M73.78 567.3h.01M36.91 548.66h.01M69.99 596.4h.01M66.39 613.63h.01M43.13 582.24h.01M70.5 608.72h.01M49.99 546.98h.01M71.79 579.79h.01M71.72 548.06h.01M60.85 622.31h.01M83.51 566.67h.01M108.17 545.09h.01M48.8 547.09h.01M62.46 615.02h.01M70.58 608.19h.01M72.08 607.25h.01M89.32 561.4h.01M73.23 548.03h.01M82.22 603.73h.01M88.27 569.65h.01M75.33 544.34h.01M45.95 581.7h.01M93.57 563.85h.01M73.46 574.95h.01M57.24 615.88h.01M103.79 554.73h.01M83.52 545.18h.01M42.11 587.81h.01M62.05 544.38h.01M82.6 547.4h.01M68.24 579.05h.01M80.17 546.93h.01M57 617.5h.01M37.59 550.54h.01M48.33 590.29h.01M44.13 586.59h.01M49.48 615.93h.01M43.32 579.27h.01M74.8 607.86h.01M62.74 589.81h.01M37.25 560.01h.01M55.36 617.84h.01M86.84 562.6h.01M88.07 544.91h.01M89.52 566.11h.01M42.95 626.23h.01M68.66 596.18h.01M51.8 618.11h.01M90.67 564.14h.01M70.56 600.68h.01M101.02 559.96h.01M67.13 618.14h.01M37.5 560.51h.01M41.57 596.41h.01M71.08 595.25h.01M87.21 565.78h.01M74.15 578.64h.01M85.66 547.51h.01M82.1 548.14h.01M56.67 616.14h.01M63.42 618.79h.01M46.22 591.76h.01M36.37 577.66h.01M42.96 578.27h.01M69.44 574.35h.01M61.74 617.11h.01M60.86 616.05h.01M99.91 556.45h.01M99.65 557.95h.01M102.17 551.95h.01M42.38 582.89h.01M103.51 555.69h.01M50.74 548.14h.01M83.9 566.73h.01M42.53 577.6h.01M51.46 616.76h.01M81.64 565.04h.01M51.97 615.76h.01M98.94 576.8h.01M74.38 571.6h.01M89.97 566.38h.01M65.09 591.5h.01M42.5 592.68h.01M52.63 622.03h.01M55.35 547.98h.01M43.79 610.91h.01M66.97 548.02h.01M99.2 562.34h.01M74.79 566.74h.01M38.85 550.7h.01M97.4 544.79h.01M75.04 574.49h.01M52.35 545.5h.01M76.58 609.23h.01M68.43 588.15h.01M98.86 548.51h.01M43.01 588.36h.01M96.63 565.76h.01M58.93 618.53h.01M109.32 545.75h.01M86.26 545.1h.01M42.6 584.96h.01M76.84 573.67h.01M71.03 612.21h.01M36.63 604.33h.01M70.06 584.26h.01M74.96 604.13h.01M69.65 598.21h.01M72.78 576.01h.01M65.68 613.78h.01M69.4 592.52h.01M84.14 545.43h.01M91.86 563.25h.01M74.2 602.31h.01M97.67 549.51h.01M52.56 617.3h.01M36.28 603.92h.01M43.7 588.75h.01M67.65 610.69h.01M78.62 592.6h.01M36.46 599.7h.01M45.5 545.16h.01M74.98 570.71h.01M104.83 555.84h.01M48.26 590.01h.01M70.42 577.75h.01M73.41 590.42h.01M71.44 608.92h.01M66.8 591.44h.01M69.14 593.73h.01M54.66 547.38h.01M71.78 599.96h.01M60.43 545.17h.01M98.32 559.75h.01M70.62 590.97h.01M46.42 581.53h.01M38.12 593.17h.01M104.09 555.68h.01M71.08 544.63h.01M46.17 544.25h.01M90.2 561.11h.01M57.02 617.97h.01M69.94 613.02h.01M36.35 562.31h.01M104.7 553.58h.01M74.47 621.72h.01M44.51 588.27h.01M36.21 602.64h.01M73.16 602.69h.01M68.54 581.6h.01M44.28 583.14h.01M70.68 576.48h.01M38.84 564.67h.01M68.35 615.84h.01M70.89 578.95h.01M43.82 591.13h.01M109.93 551.33h.01M101.48 556.76h.01M74.98 603.18h.01M61.72 546.73h.01M36.26 564.93h.01M80.21 569.8h.01M44.58 587.37h.01M70.18 574.59h.01M36.34 560.84h.01M36.02 551.21h.01M73.67 568.01h.01M66.95 618.27h.01M45.41 589.89h.01M60.27 545.75h.01M54.93 548.29h.01M68.47 584.12h.01M73.08 580.33h.01M71.69 574.21h.01M39.94 612.89h.01M70.41 597.62h.01M39.17 597.7h.01M67.09 582.7h.01M35.43 606.09h.01M99.38 559.09h.01M44.78 613.46h.01M45.45 587.53h.01M71.58 581.58h.01M76.12 596.97h.01M42.75 586.5h.01M36.17 565.15h.01M77.99 544.7h.01M57.74 548.62h.01M91.53 565.55h.01M40.46 599.41h.01M69.88 606.85h.01M44.64 612.58h.01M71.98 582.27h.01M45.47 588.78h.01M70.95 544.77h.01M61.18 547.42h.01M36.86 560.72h.01M38.72 602.76h.01M75 567.53h.01M42.47 581.88h.01M91.52 544.23h.01M56.27 621.76h.01M68.04 618.67h.01M70.54 592.01h.01M42.65 585.8h.01M38.77 559.93h.01M47.71 548.29h.01M46.95 615.5h.01M70.05 580.31h.01M77.9 565.91h.01M38.33 600.18h.01M97.81 545.39h.01M38.8 568.13h.01M42.87 612.37h.01M37.25 562.38h.01M99.04 558.69h.01M69.15 595.56h.01M88.39 569.64h.01M101.43 554.51h.01M44.09 549.3h.01M65.63 545.07h.01M68.22 595.53h.01M95.59 562.04h.01M42.49 614.54h.01M41.96 548.95h.01M93.06 548.56h.01M50.57 544.09h.01M42.24 610.94h.01M44.15 548.75h.01M87.69 546.48h.01M41.88 596.69h.01M67.43 580.96h.01M76.13 567.23h.01M77.71 598.53h.01M82.4 547.16h.01M89.74 548.33h.01M70.67 602.07h.01M62.47 615.84h.01M71.17 604.46h.01M82.97 544.95h.01M70.99 570.88h.01M41.51 583.56h.01M65.52 547.8h.01M43.5 611.79h.01M51.93 615.58h.01M72.26 571.93h.01M71.24 547.61h.01M61.26 615.16h.01M40.23 572.55h.01M74.25 597.51h.01M74.69 598.97h.01M84.54 545.36h.01M61.01 546.99h.01M73.9 573.3h.01M39.8 602.53h.01M102.36 554.12h.01M82.68 605.33h.01M38.85 562.64h.01M41.07 596.66h.01M39.22 603.04h.01M88.06 562.24h.01M60.06 548.43h.01M104.22 561.36h.01M49.07 614.54h.01M103.14 553.44h.01M38.73 604.21h.01M40.57 602.28h.01M70.84 576.08h.01M92.45 545.36h.01M38.94 569.94h.01M43.09 620h.01M74.86 601.9h.01M81.53 563.59h.01M39.88 573.74h.01M45.13 545.31h.01M42.66 577.4h.01M89.99 543.81h.01M53.64 616.1h.01M86.76 563.01h.01M49.79 619.69h.01M55.04 546.69h.01M71.89 547.23h.01M92.89 548.6h.01M74.2 566.65h.01M107.16 544.21h.01M75.48 546.52h.01M93.09 560.02h.01M100.23 548.45h.01M41.84 573.98h.01M70.54 613.05h.01M68.94 590.95h.01M43.52 579.59h.01M91.99 562.13h.01M40.26 613.63h.01M83.23 564h.01M52.55 544.85h.01M62.8 545.59h.01M102.05 562.76h.01M61.98 547.13h.01M79.46 546.25h.01M102.21 556.46h.01M93.49 545.65h.01M44.8 616.69h.01M67.27 613.6h.01M80.49 567.87h.01M40.65 595.5h.01M65.5 591.39h.01M108.96 551.98h.01M66.37 614.38h.01M76.5 548.08h.01M46.87 614.32h.01M91.51 572.12h.01M63.83 614.04h.01M70.59 547.4h.01M78.61 566.53h.01M47.16 617.21h.01M95.45 546.56h.01M66.7 615.07h.01M95.21 547.81h.01M75.58 575.58h.01M38.2 544.39h.01M97.17 563.21h.01M71.42 574.28h.01M92.18 563.14h.01M71.89 606.31h.01M65.21 613.07h.01M67.73 585.05h.01M62.74 547.69h.01M74.18 597.03h.01M65.27 547.58h.01M41.12 598.01h.01M43.42 585.48h.01M102.11 552.02h.01M72.27 601.53h.01M48.34 618.65h.01M35.3 608.97h.01M40.13 612.05h.01M83.05 568.26h.01M82.36 567.62h.01M67.54 594.44h.01M87.13 563.17h.01M72.37 580.54h.01M47.84 618.3h.01M54.7 616.01h.01M86.49 564.95h.01M69.97 607.57h.01M83.25 565.42h.01M49 618.06h.01M75.75 601.15h.01M73.54 571.54h.01M38.99 573.84h.01M36.02 602.25h.01M40.99 596.21h.01M60.87 615.74h.01M35.34 552.38h.01M56.23 625.27h.01M88.57 544.26h.01M70.22 575.79h.01M45.76 583.58h.01M92.35 565h.01M40.01 613.88h.01M76.57 570.07h.01M80.83 545.7h.01M44.4 590.34h.01M53.78 547.85h.01M61.73 544.7h.01M90.72 545.84h.01M68.06 547.66h.01M68.71 580.01h.01M70.41 583.93h.01M51.85 547.96h.01M84.32 565.85h.01M37.91 572.76h.01M44.87 583.07h.01M41.16 606.81h.01M72.14 573.26h.01M101.11 564.24h.01M38.74 559.57h.01M36.86 577.74h.01M53.73 617.28h.01M39.64 605.62h.01M86.14 548.03h.01M39.68 592.4h.01M41.27 611.26h.01M66.21 612.85h.01M51.31 548.13h.01M73.34 602.18h.01M69.84 577.12h.01M88.05 545.6h.01M85.57 545.82h.01M50.97 544.83h.01M93.68 560.7h.01M65.92 618.59h.01M69.52 594.81h.01M68.3 589.24h.01M102.36 558.63h.01M71.99 611.15h.01M38.12 610.86h.01M55.75 617.72h.01M65.89 591.67h.01M91.24 570.9h.01M38.78 560.08h.01M72.45 599.16h.01M81.32 544.6h.01M72.06 601.82h.01M91.19 561.55h.01M63.16 547.06h.01M71.11 576.21h.01M103.32 547.48h.01M57.26 621.17h.01M84.97 599.11h.01M77.31 547.62h.01M36.72 552.5h.01M42.33 577.36h.01M40 593.29h.01M73.5 607.92h.01M108.52 551.5h.01M73 545.86h.01M71.43 604.64h.01M103.73 552.12h.01M86.55 547.14h.01M54.33 545.74h.01M70.32 595.03h.01M67.85 547.81h.01M38.06 565.13h.01M62.45 548.59h.01M74.01 547.74h.01M37.34 556.89h.01M53.16 545.19h.01M80.08 545.44h.01M73.22 546.13h.01M40.38 571.85h.01M42.09 613.01h.01M71.41 574.12h.01M74.57 569.13h.01M80.15 565.81h.01M36.15 554.55h.01M43.52 549.01h.01M86.21 563.94h.01M104.8 547.66h.01M69.87 572.93h.01M71.08 545.92h.01M73.41 604.11h.01M74.01 548.2h.01M40.16 606.68h.01M72.93 592.02h.01M44.88 590.48h.01M59.02 616.15h.01M64.28 615.05h.01M51.85 625.3h.01M42.02 610.16h.01M36.34 574.64h.01M99.99 545.55h.01M67.58 594.55h.01M40.16 549.19h.01M95.07 560.41h.01M71.64 547.64h.01M40.66 549.63h.01M66.66 589.98h.01M80.03 571.88h.01M103.61 553.1h.01M81.71 566.31h.01M68.04 613.86h.01M81.83 543.91h.01M96.49 561.44h.01M101.9 559.56h.01M101.99 557.81h.01M70.71 599.26h.01M67.83 613.13h.01M76.52 546.59h.01M55.32 548.13h.01M77.46 545.69h.01M71.27 606.57h.01M54.51 617.84h.01M81.24 564.15h.01M100.62 561.37h.01M41.31 588.75h.01M75.34 594.13h.01M43.06 584.41h.01M70.49 615.72h.01M44.67 579.25h.01M55.7 620.05h.01M41.47 591.55h.01M78.92 567.8h.01M74.83 614.92h.01M100.77 554.88h.01M42.73 610.91h.01M75.54 602.14h.01M37.58 570.7h.01M70.06 610.06h.01M46.28 617.57h.01M56.96 545.64h.01M40.61 605.78h.01M78.99 605.48h.01M94.35 548.85h.01M39.29 608.65h.01M55.28 620.59h.01M38.66 598.53h.01M94.52 563.93h.01M60.22 547.97h.01M44.13 584.7h.01M86.09 564.51h.01M72.33 596.9h.01M73.28 581.76h.01M90.43 544.13h.01M93.56 543.62h.01M37.88 569.8h.01M62.51 614.41h.01M36.75 566.64h.01M49.02 547.84h.01M79.11 566.32h.01M57.99 547.32h.01M37.48 606.57h.01M53.44 619.47h.01M74.96 567.97h.01M44.12 547.93h.01M43.52 587.87h.01M67.71 589.46h.01M68.45 614.26h.01M44.1 547.9h.01M94.12 545.17h.01M102.33 551.97h.01M82.35 545.52h.01M38.88 565.53h.01M89.75 563.97h.01M82.97 548.18h.01M93.88 561.2h.01M37.46 562.92h.01M94.18 560.57h.01M39.24 602.88h.01M44.5 588.91h.01M69.38 579.01h.01M38.29 614.33h.01M67.7 590.57h.01M70.1 587.74h.01M71.39 547.75h.01M48.93 547.46h.01M68.96 595.06h.01M57.63 616.11h.01M38.28 566.59h.01M69.13 548.01h.01M62.27 615.04h.01M73.77 546.24h.01M73.2 599.49h.01M89.37 561.63h.01M81.22 596.92h.01M82.64 596.51h.01M79.68 586.57h.01M82.77 594.24h.01M76.82 582.48h.01M79.77 586.54h.01M70.68 609.65h.01M85.97 574.17h.01M87.23 604.07h.01M73.78 593.01h.01M77.99 588.01h.01M81.46 592.7h.01M82.7 605.44h.01M81.2 591.99h.01M82.39 602.02h.01M83.45 600.38h.01M86.92 596.43h.01M79.01 582.87h.01M75.93 594.26h.01M86.11 567.58h.01M78.39 602.7h.01M73.83 581.03h.01M78.71 594.64h.01M73.62 596.44h.01M75.93 585.43h.01M73.18 616.07h.01M87.63 567.24h.01M74.32 590.98h.01M82.47 612.08h.01M85.22 596.44h.01M82.31 601.14h.01M74.05 582.2h.01M79.15 589.28h.01M87.38 587.38h.01M78.29 599.91h.01M70.92 591.11h.01M85.43 582.61h.01M78.21 591.13h.01M88.45 577.73h.01M86.68 594.04h.01M77.05 583.85h.01M71.4 608.96h.01M78.87 586.99h.01M82.95 576.69h.01M86.69 588.22h.01M85.6 589.7h.01M83.93 589.32h.01M73.36 598.02h.01M78.46 588.7h.01M74.46 585.5h.01M73.65 593.95h.01M84.93 595.39h.01M78.05 590.61h.01M83.13 564.06h.01M83.74 594.63h.01M80.93 577.43h.01M70.56 579.88h.01M78.95 580.32h.01M81.36 596.52h.01M73.38 593.82h.01M78.8 568.22h.01M81.44 598.94h.01M85.57 610.03h.01M79.04 618.56h.01M83.89 573.05h.01M75.73 577.98h.01M75.21 572.36h.01M82.13 594.58h.01M86.97 590.73h.01M74.5 613.58h.01M82.08 606.54h.01M83.41 600.48h.01M74.82 598.62h.01M89.65 595.82h.01M75.56 598.74h.01M83.8 603.48h.01M68.74 578.58h.01M78.78 597.67h.01M80.68 591.35h.01M73.18 607.74h.01M77.43 584.72h.01M82.22 604.93h.01M68.42 577.43h.01M78.74 582.41h.01M69.84 591.79h.01M73.19 604.34h.01M83.14 582.23h.01M79.22 576.89h.01M80.06 572.37h.01M72.99 594.34h.01M84.36 584.44h.01M75 583.02h.01M80.95 587.34h.01M86.33 605.5h.01M74.57 596.99h.01M99.99 628.32h.01M74.22 594.01h.01M78.6 574.01h.01M73.64 596.53h.01M87.74 587.66h.01M75.12 601.55h.01M75.81 588.92h.01M73.8 579.87h.01M88.28 601.3h.01M76.63 585.01h.01M71.2 592.63h.01M79.15 603.12h.01M75.69 584.75h.01M87.98 600.63h.01M78.03 590.95h.01M71.98 581.29h.01M85.15 578.04h.01M71.09 605.38h.01M75.53 576.07h.01M90.43 597h.01M83.36 612.03h.01M71.15 596.13h.01M72.51 605.86h.01M87.18 591.28h.01M87.07 600.15h.01M72.84 571.7h.01M75.25 577.53h.01M72.31 597.5h.01M79.06 606.36h.01M75.93 611.69h.01M81.65 577.92h.01M83.33 588.83h.01M75.38 576.4h.01M79.52 599.61h.01M76.08 589.58h.01M81.57 613.85h.01M90.63 607.46h.01M82.97 595.21h.01M81.55 588.86h.01M81.33 598.27h.01M78.15 592h.01M84.53 594.85h.01M83.75 594.41h.01M84.66 597.28h.01M83.74 599.51h.01M69.93 595.64h.01M72.68 592.95h.01M78.37 588.85h.01M91.86 600.3h.01M77.29 580.11h.01M82.43 588.52h.01M72.88 589.4h.01M75.21 602.45h.01M93.77 593.44h.01M111.3 571.43h.01M88.28 567h.01M88.12 578.74h.01M85.56 569.48h.01M102.52 572.53h.01M93.83 563.37h.01M80.49 571.12h.01M88.03 571.15h.01M92.98 568.02h.01M90.09 574.37h.01M82.53 569.12h.01M79.75 566.85h.01M100.61 571.42h.01M99.19 561.27h.01M77.05 572.53h.01M101.47 570.53h.01M86.79 572.26h.01M92 568.45h.01M96.46 574.46h.01M100.21 569.48h.01M82.79 569.55h.01M97.43 568.22h.01M95.76 570.87h.01M77.74 573.78h.01M85.45 569.91h.01M100.69 569.43h.01M93.79 571.25h.01M96.43 574.29h.01M91.18 566.45h.01M84.98 577.43h.01M94.73 568.79h.01M94.68 562.69h.01M100.56 563.35h.01M97.12 571.06h.01M91.43 571.85h.01M88.95 570.69h.01M101.8 570.23h.01M91.26 569.43h.01M86.76 568.54h.01M82.89 569.6h.01M86.57 564.1h.01M93.56 573.44h.01M90.11 567.69h.01M102.04 562.59h.01M87.62 564.43h.01M83.5 574.64h.01M101.16 567.79h.01M89.71 564.5h.01M85.75 566.08h.01M81.86 570.41h.01M72.72 576.22h.01M75.57 572.84h.01M104.71 566.46h.01M96.19 567.78h.01M90.98 567.63h.01M88.47 579.64h.01M82.65 570.31h.01M94.21 564.54h.01M85.32 566.39h.01M95.85 563.84h.01M81.81 563.58h.01M94.09 565.43h.01M95.98 562.52h.01M78.96 566.18h.01M74.27 576.9h.01M98.54 568.84h.01M73.99 568.02h.01M92.9 565.55h.01M82.81 574.15h.01M86.07 572.8h.01M88.54 568.22h.01M104.42 573.2h.01M90.11 563.84h.01M90.83 563.81h.01M97.47 569.34h.01M78.38 570.52h.01M88.21 565.44h.01M102.54 567.41h.01M86.36 571.36h.01M88.75 569.07h.01M96.58 568.05h.01M86.13 571.83h.01M93.69 569.32h.01M83.68 570.26h.01M89.72 579.37h.01M90.98 571.58h.01M95.9 572.75h.01M91.31 574.28h.01M83.53 575.02h.01M98.17 563.08h.01M84.65 575.19h.01M92.68 576.96h.01M107.14 571.28h.01M95.31 571.79h.01M82.13 566.66h.01M87.26 570.22h.01M84.64 568.88h.01M92.06 568.61h.01M76.43 570.32h.01M93.31 563.44h.01M51.15 630.76h.01M65.29 630.5h.01M55.77 629.67h.01M57.3 632.03h.01M39.9 631.25h.01M64.65 631.25h.01M37.97 630.31h.01M55.47 630.67h.01M59.21 631.31h.01M37.36 631.45h.01M64.57 631.55h.01M50.01 632.57h.01M41.3 630.54h.01M57.49 631.8h.01M41.88 630.71h.01M57.14 630.92h.01M43.25 629.71h.01M41.14 629.14h.01M35.04 631.73h.01M56.07 631.37h.01M64.88 631.02h.01M61.97 631.33h.01M48.29 631.24h.01M71.01 629.3h.01M36.06 632.43h.01M57.76 630.74h.01M55.14 630.93h.01M66.71 630.94h.01M64.24 633.02h.01M61.36 630.97h.01M46.44 630.98h.01M65.88 632.22h.01M51.4 630.99h.01M72.67 630.18h.01M55.96 631.8h.01M57.99 630.67h.01M41.37 632.26h.01M45.23 631.58h.01M53.11 631.19h.01M61.56 632.64h.01M58.2 634.19h.01M49.72 629.81h.01M36.86 630.76h.01M55.09 630.26h.01M69.15 631.43h.01M60.72 630.34h.01M58.78 631.18h.01M46.96 630.89h.01M71.22 632.28h.01M44.55 631.58h.01M46.4 629.66h.01M39.71 631.46h.01M53.89 630.24h.01M45.47 631h.01M60.21 629.88h.01M40.27 631.28h.01M62.08 630.7h.01M45.29 630.68h.01M57.37 630.69h.01M70.48 630.43h.01M69.28 630.45h.01M54.09 631.14h.01M47.82 630.14h.01M43.08 630.48h.01M71.15 631.91h.01M55.02 632.38h.01M63.15 631.92h.01M49.82 630.08h.01M65.75 631.37h.01M65.09 629.58h.01M39.56 631.13h.01M60.5 633.09h.01M73.87 631.83h.01M79.9 628.05h.01M63.02 630.96h.01M77.06 631.53h.01M49.05 632.1h.01M60.31 630.61h.01M57.76 632.23h.01M73.14 631.1h.01M64.19 630.57h.01M45.86 631.81h.01M60.88 631.27h.01M62.14 631.37h.01M67.57 631.52h.01M37.91 629.59h.01M64.25 631.37h.01M67.32 631.69h.01M64.48 632.95h.01M35.64 629.95h.01M71.61 628.14h.01M41.84 632.07h.01M54.99 631.11h.01M72.66 631.86h.01M67.83 630.62h.01M63.27 631.22h.01M56.83 632.84h.01M55.35 631.7h.01M53.31 630.81h.01M74.67 630.58h.01M71.4 629.51h.01M61.57 630.27h.01M56.26 630.71h.01M55.72 629.67h.01M56.78 630.33h.01M70.09 628.47h.01M50.77 631.78h.01M53.1 632.43h.01M57.66 632h.01M72.2 632.03h.01M51.55 630.25h.01M56 632.19h.01M79.38 630.8h.01M64.59 632.27h.01M57.31 633.03h.01M45.91 629.43h.01M63.32 629.98h.01M53.72 630.57h.01M59.99 631h.01M64.3 632.07h.01M42.96 631.27h.01M66.74 631.26h.01M78.81 630.76h.01M60.63 631.46h.01M46.66 631.43h.01M72.01 632.69h.01M66.66 630.53h.01M46.86 630.33h.01M61.11 631.85h.01M65.87 633.52h.01M56.9 631.47h.01M71.98 631.96h.01M51.39 631.96h.01M52.01 630.68h.01M63.85 629.69h.01M52.18 630.54h.01M71.22 631.15h.01M64.91 630.78h.01M41.31 630.38h.01M59.55 630.96h.01M62.81 630.71h.01M57.7 631.5h.01M63.65 630h.01M62.93 629.64h.01M55.96 632.46h.01M43.39 629.6h.01M53.02 631.16h.01M62.64 631.7h.01M57.68 630.8h.01M45.31 631.41h.01M41.49 631.73h.01M41.37 632.51h.01M62.91 631.95h.01M55.75 629.92h.01M48.08 631.43h.01M110.29 548.9h.01M114.18 548.78h.01M104.65 556.4h.01M105.86 559.55h.01M101.91 559.53h.01M110.48 559.3h.01M111.5 553.73h.01M108.4 561.38h.01M109.6 554.65h.01M104.71 561.46h.01M110.24 553.63h.01M103.89 546.85h.01M112.48 559.42h.01M111.07 560.2h.01M107.97 549.38h.01M105.89 551.57h.01M109.01 549.95h.01M106.02 552.81h.01M112.86 557.24h.01M108.17 546.63h.01M109.98 558.89h.01M105.2 545.51h.01M112.72 555.2h.01M107.81 557.84h.01M105.05 555.7h.01M113.74 551.45h.01M112.05 559.43h.01M103.1 559.21h.01M105.7 555.86h.01M105.38 556.52h.01M113.73 555.96h.01M115.6 554.94h.01M114.98 557.77h.01M103.08 558.19h.01M105 557.03h.01M104.16 556.65h.01M112.85 557.13h.01M112.88 554.63h.01M112.19 552h.01M107.18 559.84h.01M107.67 559.34h.01M109.41 565.11h.01M102.67 549.79h.01M109.43 556.2h.01M109.34 557.13h.01M104.28 558.99h.01M110.83 554.38h.01M105.27 554.66h.01M109.28 554.73h.01M103.82 554.49h.01M108.47 556.94h.01M110.56 554.7h.01M107.61 552.55h.01M119.47 555.39h.01M104.64 557.69h.01M112.6 550.52h.01M108.64 553.94h.01M108.08 555.06h.01M109.35 544.46h.01M111.31 550.29h.01M113.05 554.6h.01M107.56 551.23h.01M107.47 559.77h.01M106.93 560.93h.01M100.76 562.14h.01M106.96 555.71h.01M113.89 553.97h.01M113.83 557.91h.01M111.5 547.64h.01M101.86 558.75h.01M110.29 551.13h.01M106.51 556.65h.01M111.14 556.45h.01M100.42 557.37h.01M117.58 551.41h.01M113.67 557.24h.01M104.87 562.5h.01M99.35 556.65h.01M104.07 551.67h.01M104.34 561.52h.01M106.87 555.25h.01M107.85 568.51h.01M106.79 558.07h.01M106.21 551.24h.01M102.71 550.83h.01M101.48 593.43h.01M98.43 600.47h.01M84.62 607.67h.01M105.14 613.52h.01M99.02 620.24h.01M92.59 615.17h.01M79.51 590.14h.01M98.2 591.79h.01M90.41 607.02h.01M81.82 586.53h.01M92.35 585.05h.01M92.35 587.87h.01M97 588.65h.01M86.94 605.54h.01M96.85 589.45h.01M98.11 598.78h.01M94.4 594.66h.01M102.81 586.32h.01M88.03 599.53h.01M101.53 594.64h.01M95.1 596.32h.01M85.69 608.66h.01M91.23 592.78h.01M80.28 621.62h.01M87.81 607.36h.01M91.1 608.37h.01M88.32 592.26h.01M95.65 633.75h.01M91.05 601.64h.01M92.74 609.47h.01" stroke="#0a0a0a" stroke-width="0.85" stroke-linecap="round" fill="none"/>
<path d="M38.73 552.75 38.72 552.76 38.68 554.85 38.68 554.85 38.69 556.92 38.69 556.93 38.78 558.97 38.78 558.98 38.94 560.99 38.94 561.01 39.16 563 39.16 563 39.46 565.1 39.46 565.1 39.82 567.3 39.82 567.3 40.25 569.6 40.25 569.6 40.75 571.99 40.75 572 40.76 572.01 42.82 573.79 42.83 573.8 42.85 573.8 43.7 574.08 43.75 574.11 43.81 574.13 43.86 574.16 43.9 574.2 43.95 574.24 43.99 574.29 44.02 574.34 44.05 574.39 44.07 574.45 44.09 574.5 44.1 574.56 44.11 574.62 44.11 574.68 44.1 574.74 44.09 574.8 44.08 574.86 44.05 574.91 44.02 574.96 44.01 574.99 44 575 44.01 575.01 46.74 581.84 46.76 581.89 46.77 581.95 46.78 582 46.78 582.06 46.78 582.11 46.77 582.17 45.5 589.59 45.5 589.6 45.51 589.6 48.71 589.6 48.77 589.6 48.83 589.61 48.88 589.63 48.94 589.64 48.99 589.67 49.04 589.7 49.09 589.73 49.13 589.77 49.17 589.82 49.2 589.86 49.24 589.91 49.26 589.96 49.28 590.02 49.3 590.08 49.31 590.13 49.31 590.19 49.31 590.25 49.3 590.31 49.29 590.36 49.27 590.42 49.24 590.47 49.21 590.52 49.18 590.57 49.14 590.62 49.1 590.66 49.05 590.69 49 590.72 48.95 590.75 48.22 591.07 48.18 591.09 46.61 592.04 46.58 592.06 45.15 593.18 45.12 593.21 43.87 594.49 43.85 594.52 42.8 595.93 42.77 595.97 41.94 597.49 41.92 597.53 41.31 599.14 41.3 599.18 40.93 600.84 40.93 600.89 40.8 602.58 40.8 602.62 40.93 604.31 40.93 604.36 41.3 606.02 41.31 606.06 41.92 607.67 41.94 607.71 42.77 609.23 42.8 609.27 43.85 610.68 43.87 610.71 45.12 611.99 45.15 612.02 46.58 613.14 46.61 613.16 48.18 614.11 48.22 614.13 49.92 614.88 49.95 614.89 51.75 615.44 51.79 615.45 53.65 615.78 53.69 615.79 55.58 615.9 55.62 615.9 57.51 615.79 57.55 615.78 59.41 615.45 59.45 615.44 61.25 614.89 61.28 614.88 62.98 614.13 63.02 614.11 64.59 613.16 64.62 613.14 66.05 612.02 66.08 611.99 67.33 610.71 67.35 610.68 68.4 609.27 68.43 609.23 69.26 607.71 69.28 607.67 69.89 606.06 69.9 606.02 70.27 604.36 70.27 604.31 70.4 602.62 70.4 602.58 70.27 600.89 70.27 600.84 69.9 599.18 69.89 599.14 69.28 597.53 69.26 597.49 68.43 595.97 68.4 595.93 67.35 594.52 67.33 594.49 66.08 593.21 66.05 593.18 64.62 592.06 64.59 592.04 63.02 591.09 62.98 591.07 62.25 590.75 62.2 590.72 62.15 590.69 62.1 590.66 62.06 590.62 62.02 590.57 61.99 590.52 61.96 590.47 61.93 590.42 61.91 590.36 61.9 590.31 61.89 590.25 61.89 590.19 61.89 590.13 61.9 590.08 61.92 590.02 61.94 589.96 61.96 589.91 62 589.86 62.03 589.82 62.07 589.77 62.11 589.73 62.16 589.7 62.21 589.67 62.26 589.64 62.32 589.63 62.37 589.61 62.43 589.6 62.49 589.6 67.49 589.6 67.5 589.6 67.5 589.59 66.81 582.1 66.81 582.03 66.81 581.97 66.82 581.9 68.5 575.01 68.5 575 68.5 575 68.5 574.94 68.51 574.89 68.52 574.83 68.54 574.78 68.56 574.72 68.59 574.67 68.63 574.62 68.67 574.58 68.71 574.54 68.75 574.5 68.8 574.47 68.86 574.45 68.91 574.43 69.09 574.37 69.1 574.36 69.1 574.35 69.29 573.56 69.31 573.52 69.59 572.65 69.6 572.61 69.98 571.66 69.99 571.63 70.46 570.59 70.47 570.56 71.02 569.46 71.06 569.39 71.73 568.42 71.78 568.35 72.59 567.47 72.65 567.42 73.6 566.64 73.66 566.59 74.74 565.91 74.81 565.87 76.34 565.17 76.39 565.15 78.37 564.44 78.4 564.43 80.84 563.72 80.86 563.71 83.74 562.99 83.76 562.99 86.57 562.17 86.58 562.17 89.32 561.26 89.33 561.25 91.99 560.25 92.01 560.25 94.59 559.15 94.61 559.15 96.67 558.17 96.68 558.16 98.21 557.31 98.24 557.3 99.24 556.57 99.25 556.56 99.26 556.55 99.74 555.95 99.75 555.94 99.76 555.93 100.14 555.26 100.14 555.25 100.15 555.24 100.42 554.52 100.44 554.48 100.61 553.71 100.61 553.67 100.69 552.83 100.69 552.81 100.68 552.8 100.51 552.02 100.51 552 100.5 551.99 100.08 551.26 100.07 551.25 100.06 551.24 99.39 550.57 99.37 550.56 99.36 550.55 98.44 549.95 98.42 549.94 98.41 549.93 96.98 549.43 96.94 549.41 95 549.01 94.98 549 92.51 548.7 92.49 548.7 89.51 548.5 89.49 548.5 85.69 548.38 85.68 548.37 81.06 548.33 81.06 548.33 75.63 548.35 75.62 548.35 69.38 548.45 63.36 548.59 57.59 548.76 52.05 548.97 46.77 549.22 46.73 549.23 42.78 549.93 42.76 549.94 42.75 549.94 40.1 551.11 40.09 551.11 40.08 551.12 38.73 552.74Z" fill="#fafafa" stroke="#444" stroke-width="0.6"/>
<path d="M40.01 553.23 39.98 554.85 39.99 556.89 40.08 558.89 40.23 560.87 40.45 562.83 40.74 564.9 41.1 567.07 41.52 569.34 41.93 571.3 43.48 572.65 44.1 572.85 44.16 572.87 44.22 572.89 44.34 572.94 44.39 572.97 44.5 573.04 44.55 573.07 44.66 573.14 44.71 573.18 44.81 573.26 44.85 573.31 44.94 573.4 44.98 573.45 45.06 573.55 45.09 573.6 45.16 573.71 45.19 573.76 45.24 573.88 45.27 573.93 45.31 574.05 45.33 574.11 45.36 574.24 45.38 574.3 45.4 574.42 45.4 574.48 45.41 574.61 45.41 574.67 45.4 574.8 45.4 574.86 45.38 574.96 47.94 581.36 47.97 581.42 47.98 581.47 48.02 581.58 48.03 581.64 48.05 581.75 48.06 581.81 48.07 581.92 48.08 581.98 48.08 582.1 48.08 582.15 48.07 582.27 48.06 582.33 48.05 582.39 47.04 588.3 48.71 588.3 48.77 588.3 48.83 588.3 48.96 588.32 49.01 588.33 49.14 588.35 49.19 588.36 49.32 588.4 49.37 588.42 49.49 588.47 49.54 588.49 49.65 588.55 49.7 588.58 49.81 588.65 49.86 588.69 49.95 588.76 50 588.8 50.09 588.89 50.13 588.94 50.21 589.03 50.24 589.08 50.31 589.18 50.34 589.23 50.4 589.34 50.43 589.4 50.48 589.51 50.5 589.57 50.54 589.69 50.55 589.75 50.58 589.87 50.59 589.93 50.6 590.05 50.61 590.11 50.61 590.24 50.61 590.3 50.6 590.42 50.59 590.48 50.57 590.6 50.55 590.66 50.52 590.78 50.5 590.84 50.45 590.95 50.43 591.01 50.37 591.12 50.34 591.17 50.27 591.28 50.24 591.32 50.16 591.42 50.12 591.47 50.04 591.56 49.99 591.6 49.9 591.68 49.85 591.72 49.75 591.79 49.7 591.82 49.59 591.88 49.54 591.91 49.48 591.94 48.8 592.24 47.33 593.12 46.01 594.16 44.85 595.35 43.88 596.65 43.11 598.06 42.55 599.53 42.22 601.05 42.1 602.6 42.22 604.15 42.55 605.67 43.11 607.14 43.88 608.55 44.85 609.85 46.01 611.04 47.33 612.08 48.8 612.96 50.39 613.67 52.07 614.18 53.82 614.49 55.6 614.6 57.38 614.49 59.13 614.18 60.81 613.67 62.4 612.96 63.87 612.08 65.19 611.04 66.35 609.85 67.32 608.55 68.09 607.14 68.65 605.67 68.98 604.15 69.1 602.6 68.98 601.05 68.65 599.53 68.09 598.06 67.32 596.65 66.35 595.35 65.19 594.16 63.87 593.12 62.4 592.24 61.72 591.94 61.66 591.91 61.61 591.88 61.5 591.82 61.45 591.79 61.35 591.72 61.3 591.68 61.21 591.6 61.16 591.56 61.08 591.47 61.04 591.42 60.96 591.32 60.93 591.28 60.86 591.17 60.83 591.12 60.77 591.01 60.75 590.95 60.7 590.84 60.68 590.78 60.65 590.66 60.63 590.6 60.61 590.48 60.6 590.42 60.59 590.3 60.59 590.24 60.59 590.11 60.6 590.05 60.61 589.93 60.62 589.87 60.65 589.75 60.66 589.69 60.7 589.57 60.72 589.51 60.77 589.4 60.8 589.34 60.86 589.23 60.89 589.18 60.96 589.08 60.99 589.03 61.07 588.94 61.11 588.89 61.2 588.8 61.25 588.76 61.34 588.69 61.39 588.65 61.5 588.58 61.55 588.55 61.66 588.49 61.71 588.47 61.83 588.42 61.88 588.4 62.01 588.36 62.06 588.35 62.19 588.33 62.24 588.32 62.37 588.3 62.43 588.3 62.49 588.3 66.07 588.3 65.51 582.22 65.51 582.15 65.51 582.08 65.51 581.94 65.52 581.87 65.53 581.73 65.55 581.67 65.56 581.6 67.21 574.8 67.21 574.77 67.22 574.72 67.24 574.59 67.26 574.53 67.29 574.41 67.31 574.36 67.36 574.24 67.38 574.19 67.44 574.08 67.47 574.02 67.53 573.92 67.57 573.87 67.65 573.77 67.68 573.73 67.77 573.64 67.81 573.6 67.91 573.51 67.96 573.48 67.98 573.46 68.03 573.25 68.04 573.21 68.06 573.16 68.07 573.12 68.35 572.25 68.36 572.21 68.38 572.18 68.39 572.14 68.77 571.18 68.78 571.15 68.79 571.13 68.8 571.1 69.27 570.05 69.28 570.03 69.29 570.01 69.31 569.98 69.86 568.88 69.9 568.8 69.94 568.73 69.99 568.65 70.66 567.68 70.72 567.61 70.77 567.54 70.83 567.47 71.63 566.59 71.7 566.53 71.76 566.47 71.82 566.42 72.77 565.63 72.83 565.58 72.9 565.54 72.96 565.49 74.05 564.81 74.12 564.77 74.19 564.73 74.27 564.69 75.8 563.99 75.85 563.97 75.9 563.95 75.95 563.93 77.93 563.22 77.97 563.21 78 563.2 78.04 563.19 80.47 562.47 80.5 562.46 80.52 562.46 80.55 562.45 83.41 561.73 86.18 560.93 88.89 560.03 91.51 559.04 94.06 557.97 96.08 557.01 97.52 556.21 98.34 555.61 98.67 555.2 98.97 554.69 99.18 554.12 99.32 553.49 99.38 552.9 99.28 552.48 99.03 552.05 98.55 551.58 97.84 551.11 96.61 550.67 94.77 550.29 92.38 549.99 89.44 549.8 85.66 549.67 81.06 549.63 75.64 549.65 69.4 549.75 63.4 549.89 57.63 550.06 52.11 550.27 46.9 550.52 43.14 551.19 40.89 552.18Z" fill="#e0e0e0" stroke="#8a8a8a" stroke-width="0.5"/>
<path d="M49.05 550.61 53.26 550.41 57.67 550.24 62.27 550.1 67.05 549.99 72.03 549.91 76.36 549.89 80.04 549.93 83.07 550.03 85.46 550.19 87.44 550.43 89.01 550.76 90.18 551.17 90.93 551.67 91.48 552.22 91.83 552.82 91.98 553.46 91.92 554.16 91.77 554.81 91.54 555.4 91.23 555.95 90.83 556.45 90.02 557.04 88.78 557.73 87.13 558.51 85.06 559.38 82.93 560.18 80.74 560.91 78.49 561.56 76.19 562.14 74.23 562.72 72.62 563.29 71.35 563.87 70.44 564.45 69.64 565.11 68.95 565.85 68.38 566.69 67.92 567.6 67.54 568.45 67.23 569.24 66.99 569.96 66.83 570.62 65.36 571.11 62.56 571.44 58.45 571.6 53.02 571.6 48.84 571.12 45.93 570.17 44.27 568.73 43.87 566.82 43.53 564.99 43.24 563.24 43.01 561.57 42.83 559.98 42.7 558.37 42.63 556.74 42.62 555.08 42.66 553.41 43.74 552.11 45.87 551.17Z" fill="#e6e6e6" stroke="#959595" stroke-width="0.45"/>
<path d="M51.34 551.99 54.48 551.84 57.76 551.72 61.17 551.61 64.73 551.53 68.43 551.47 71.65 551.46 74.39 551.49 76.64 551.56 78.42 551.68 79.89 551.86 81.06 552.1 81.93 552.41 82.49 552.78 82.9 553.19 83.16 553.63 83.26 554.11 83.22 554.63 83.11 555.11 82.94 555.56 82.71 555.96 82.41 556.33 81.81 556.77 80.89 557.28 79.66 557.86 78.12 558.52 76.54 559.11 74.91 559.65 73.24 560.14 71.52 560.56 70.07 560.99 68.87 561.42 67.93 561.85 67.25 562.28 66.65 562.77 66.14 563.33 65.72 563.95 65.38 564.63 65.09 565.26 64.86 565.84 64.69 566.38 64.57 566.87 63.47 567.23 61.39 567.48 58.33 567.6 54.29 567.6 51.19 567.24 49.02 566.53 47.79 565.47 47.49 564.05 47.24 562.69 47.03 561.39 46.85 560.14 46.72 558.96 46.63 557.76 46.57 556.55 46.56 555.32 46.59 554.08 47.4 553.11 48.98 552.41Z" fill="#ededed" stroke="#959595" stroke-width="0.45"/>
<path d="M53.64 553.37 55.69 553.28 57.84 553.19 60.08 553.13 62.41 553.07 64.83 553.03 66.94 553.02 68.74 553.04 70.21 553.09 71.38 553.17 72.34 553.29 73.11 553.45 73.68 553.65 74.04 553.89 74.31 554.16 74.48 554.45 74.55 554.76 74.52 555.1 74.45 555.42 74.34 555.71 74.19 555.98 73.99 556.22 73.6 556.51 73 556.84 72.19 557.22 71.18 557.65 70.15 558.04 69.08 558.39 67.98 558.71 66.86 558.99 65.91 559.27 65.12 559.55 64.5 559.83 64.06 560.12 63.67 560.44 63.33 560.8 63.06 561.21 62.83 561.65 62.65 562.07 62.5 562.45 62.38 562.8 62.3 563.12 61.58 563.36 60.22 563.52 58.22 563.6 55.57 563.6 53.54 563.37 52.12 562.9 51.31 562.2 51.12 561.27 50.95 560.38 50.81 559.53 50.7 558.71 50.61 557.94 50.55 557.15 50.51 556.36 50.51 555.55 50.53 554.74 51.05 554.1 52.09 553.65Z" fill="#f4f4f4" stroke="#959595" stroke-width="0.45"/>
<path d="M55.93 554.76 56.91 554.71 57.92 554.67 58.98 554.64 60.09 554.61 61.24 554.59 62.24 554.59 63.09 554.6 63.79 554.62 64.34 554.66 64.79 554.72 65.16 554.79 65.43 554.89 65.6 555 65.73 555.13 65.81 555.27 65.84 555.41 65.83 555.58 65.79 555.72 65.74 555.86 65.67 555.99 65.58 556.1 65.39 556.24 65.1 556.4 64.72 556.58 64.24 556.78 63.75 556.97 63.25 557.13 62.73 557.28 62.2 557.42 61.74 557.55 61.37 557.68 61.08 557.82 60.87 557.95 60.69 558.1 60.53 558.27 60.39 558.47 60.29 558.68 60.2 558.87 60.13 559.05 60.08 559.22 60.04 559.37 59.7 559.49 59.05 559.56 58.1 559.6 56.85 559.6 55.89 559.49 55.21 559.27 54.83 558.94 54.74 558.5 54.66 558.08 54.59 557.67 54.54 557.29 54.5 556.92 54.47 556.55 54.45 556.17 54.45 555.79 54.46 555.4 54.71 555.1 55.2 554.89Z" fill="#fbfbfb" stroke="#959595" stroke-width="0.45"/>
<path d="M68.39 602.37 68.28 603.85 67.95 605.31 67.42 606.72 66.69 608.05 65.77 609.29 64.68 610.41 63.43 611.39 62.06 612.22 60.57 612.87 59.01 613.35 57.38 613.64 55.73 613.74 54.08 613.64 52.46 613.35 50.89 612.87 49.4 612.22 48.03 611.39 46.78 610.41 45.69 609.29 44.77 608.05 44.04 606.72 43.51 605.31 43.18 603.85 43.08 602.37 43.18 600.88 43.51 599.42 44.04 598.02 44.77 596.68 45.69 595.44 46.78 594.33 48.03 593.35 49.4 592.52 50.89 591.86 52.46 591.38 54.08 591.09 55.73 591 57.38 591.09 59.01 591.38 60.57 591.86 62.06 592.52 63.43 593.35 64.68 594.33 65.77 595.44 66.69 596.68 67.42 598.02 67.95 599.42 68.28 600.88Z" fill="#e4e4e4" stroke="#959595" stroke-width="0.45"/>
<path d="M66.37 602.14 66.28 603.37 66.01 604.58 65.57 605.75 64.96 606.86 64.2 607.89 63.29 608.81 62.26 609.63 61.12 610.32 59.88 610.86 58.58 611.26 57.23 611.5 55.86 611.58 54.49 611.5 53.14 611.26 51.84 610.86 50.61 610.32 49.46 609.63 48.43 608.81 47.52 607.89 46.76 606.86 46.15 605.75 45.71 604.58 45.44 603.37 45.35 602.14 45.44 600.9 45.71 599.69 46.15 598.52 46.76 597.41 47.52 596.39 48.43 595.46 49.46 594.64 50.61 593.96 51.84 593.41 53.14 593.01 54.49 592.77 55.86 592.69 57.23 592.77 58.58 593.01 59.88 593.41 61.12 593.96 62.26 594.64 63.29 595.46 64.2 596.39 64.96 597.41 65.57 598.52 66.01 599.69 66.28 600.9Z" fill="#e9e9e9" stroke="#959595" stroke-width="0.45"/>
<path d="M64.36 601.9 64.28 602.89 64.07 603.85 63.72 604.78 63.24 605.66 62.63 606.48 61.91 607.22 61.08 607.87 60.17 608.41 59.19 608.85 58.16 609.17 57.08 609.36 55.99 609.42 54.9 609.36 53.83 609.17 52.79 608.85 51.81 608.41 50.9 607.87 50.08 607.22 49.35 606.48 48.75 605.66 48.26 604.78 47.91 603.85 47.7 602.89 47.63 601.9 47.7 600.92 47.91 599.96 48.26 599.03 48.75 598.15 49.35 597.33 50.08 596.59 50.9 595.94 51.81 595.39 52.79 594.96 53.83 594.64 54.9 594.45 55.99 594.39 57.08 594.45 58.16 594.64 59.19 594.96 60.17 595.39 61.08 595.94 61.91 596.59 62.63 597.33 63.24 598.15 63.72 599.03 64.07 599.96 64.28 600.92Z" fill="#ededed" stroke="#959595" stroke-width="0.45"/>
<path d="M62.34 601.67 62.29 602.4 62.13 603.12 61.87 603.81 61.51 604.47 61.06 605.08 60.52 605.63 59.91 606.11 59.23 606.51 58.5 606.84 57.73 607.07 56.93 607.21 56.12 607.26 55.31 607.21 54.51 607.07 53.74 606.84 53.01 606.51 52.34 606.11 51.72 605.63 51.19 605.08 50.73 604.47 50.37 603.81 50.11 603.12 49.95 602.4 49.9 601.67 49.95 600.94 50.11 600.23 50.37 599.53 50.73 598.88 51.19 598.27 51.72 597.72 52.34 597.24 53.01 596.83 53.74 596.51 54.51 596.27 55.31 596.13 56.12 596.08 56.93 596.13 57.73 596.27 58.5 596.51 59.23 596.83 59.91 597.24 60.52 597.72 61.06 598.27 61.51 598.88 61.87 599.53 62.13 600.23 62.29 600.94Z" fill="#f2f2f2" stroke="#959595" stroke-width="0.45"/>
<path d="M60.33 601.44 60.29 601.92 60.19 602.39 60.02 602.84 59.78 603.27 59.49 603.67 59.13 604.03 58.73 604.35 58.29 604.61 57.81 604.82 57.31 604.98 56.78 605.07 56.25 605.1 55.72 605.07 55.2 604.98 54.69 604.82 54.21 604.61 53.77 604.35 53.37 604.03 53.02 603.67 52.72 603.27 52.49 602.84 52.32 602.39 52.21 601.92 52.18 601.44 52.21 600.96 52.32 600.49 52.49 600.04 52.72 599.61 53.02 599.21 53.37 598.85 53.77 598.54 54.21 598.27 54.69 598.06 55.2 597.9 55.72 597.81 56.25 597.78 56.78 597.81 57.31 597.9 57.81 598.06 58.29 598.27 58.73 598.54 59.13 598.85 59.49 599.21 59.78 599.61 60.02 600.04 60.19 600.49 60.29 600.96Z" fill="#f6f6f6" stroke="#959595" stroke-width="0.45"/>
<path d="M58.31 601.21 58.3 601.44 58.25 601.66 58.17 601.87 58.05 602.08 57.91 602.26 57.75 602.44 57.56 602.58 57.35 602.71 57.12 602.81 56.88 602.88 56.63 602.93 56.38 602.94 56.13 602.93 55.88 602.88 55.64 602.81 55.42 602.71 55.21 602.58 55.02 602.44 54.85 602.26 54.71 602.08 54.6 601.87 54.52 601.66 54.47 601.44 54.45 601.21 54.47 600.98 54.52 600.76 54.6 600.54 54.71 600.34 54.85 600.15 55.02 599.98 55.21 599.83 55.42 599.71 55.64 599.61 55.88 599.53 56.13 599.49 56.38 599.47 56.63 599.49 56.88 599.53 57.12 599.61 57.35 599.71 57.56 599.83 57.75 599.98 57.91 600.15 58.05 600.34 58.17 600.54 58.25 600.76 58.3 600.98Z" fill="#fbfbfb" stroke="#959595" stroke-width="0.45"/>
<path d="M66.4 582.04 66.4 581.99 66.4 581.95 66.41 581.91 67.92 575.7 44.71 575.7 47.17 581.85 47.18 581.89 47.19 581.92 47.2 581.96 47.2 581.99 47.2 582.03 47.19 582.07 46.13 588.3 66.98 588.3Z" fill="#fbfbfb" stroke="none"/>
<path d="M46.7 575.3 Q50.55 582 46.7 588.7M51.35 575.3 Q52.04 582 51.35 588.7M61.15 575.3 Q60.46 582 61.15 588.7M65.81 575.3 Q61.95 582 65.81 588.7" fill="none" stroke="#8a8a8a" stroke-width="0.5"/>
<rect x="36" y="545.6" width="35.9" height="29.7" fill="none" stroke="#111" stroke-width="1" />
<rect x="71.9" y="545.6" width="49.8" height="29.7" fill="none" stroke="#111" stroke-width="1" />
<rect x="36" y="588.7" width="37.5" height="39.1" fill="none" stroke="#111" stroke-width="1" />
<rect x="34.5" y="529.5" width="106.2" height="105.5" fill="none" stroke="#333" stroke-width="1.1" />
<line x1="32.3" y1="632" x2="34.5" y2="632" stroke="#333" stroke-width="0.8" />
<line x1="32.3" y1="615.75" x2="34.5" y2="615.75" stroke="#333" stroke-width="0.8" />
<line x1="32.3" y1="599.5" x2="34.5" y2="599.5" stroke="#333" stroke-width="0.8" />
<line x1="32.3" y1="583.25" x2="34.5" y2="583.25" stroke="#333" stroke-width="0.8" />
<line x1="32.3" y1="567" x2="34.5" y2="567" stroke="#333" stroke-width="0.8" />
<line x1="32.3" y1="550.75" x2="34.5" y2="550.75" stroke="#333" stroke-width="0.8" />
<line x1="32.3" y1="534.5" x2="34.5" y2="534.5" stroke="#333" stroke-width="0.8" />
<line x1="50.43" y1="635" x2="50.43" y2="637.4" stroke="#333" stroke-width="0.7" />
<line x1="57.46" y1="635" x2="57.46" y2="636.5" stroke="#333" stroke-width="0.7" />
<line x1="61.58" y1="635" x2="61.58" y2="636.5" stroke="#333" stroke-width="0.7" />
<line x1="64.5" y1="635" x2="64.5" y2="636.5" stroke="#333" stroke-width="0.7" />
<line x1="66.76" y1="635" x2="66.76" y2="636.5" stroke="#333" stroke-width="0.7" />
<line x1="68.61" y1="635" x2="68.61" y2="636.5" stroke="#333" stroke-width="0.7" />
<line x1="70.17" y1="635" x2="70.17" y2="636.5" stroke="#333" stroke-width="0.7" />
<line x1="71.53" y1="635" x2="71.53" y2="636.5" stroke="#333" stroke-width="0.7" />
<line x1="72.72" y1="635" x2="72.72" y2="636.5" stroke="#333" stroke-width="0.7" />
<line x1="73.79" y1="635" x2="73.79" y2="637.4" stroke="#333" stroke-width="0.7" />
<line x1="80.83" y1="635" x2="80.83" y2="636.5" stroke="#333" stroke-width="0.7" />
<line x1="84.94" y1="635" x2="84.94" y2="636.5" stroke="#333" stroke-width="0.7" />
<line x1="87.86" y1="635" x2="87.86" y2="636.5" stroke="#333" stroke-width="0.7" />
<line x1="90.12" y1="635" x2="90.12" y2="636.5" stroke="#333" stroke-width="0.7" />
<line x1="91.97" y1="635" x2="91.97" y2="636.5" stroke="#333" stroke-width="0.7" />
<line x1="93.54" y1="635" x2="93.54" y2="636.5" stroke="#333" stroke-width="0.7" />
<line x1="94.89" y1="635" x2="94.89" y2="636.5" stroke="#333" stroke-width="0.7" />
<line x1="96.09" y1="635" x2="96.09" y2="636.5" stroke="#333" stroke-width="0.7" />
<line x1="97.16" y1="635" x2="97.16" y2="637.4" stroke="#333" stroke-width="0.7" />
<line x1="104.19" y1="635" x2="104.19" y2="636.5" stroke="#333" stroke-width="0.7" />
<line x1="108.31" y1="635" x2="108.31" y2="636.5" stroke="#333" stroke-width="0.7" />
<line x1="111.22" y1="635" x2="111.22" y2="636.5" stroke="#333" stroke-width="0.7" />
<line x1="113.49" y1="635" x2="113.49" y2="636.5" stroke="#333" stroke-width="0.7" />
<line x1="115.34" y1="635" x2="115.34" y2="636.5" stroke="#333" stroke-width="0.7" />
<line x1="116.9" y1="635" x2="116.9" y2="636.5" stroke="#333" stroke-width="0.7" />
<line x1="118.26" y1="635" x2="118.26" y2="636.5" stroke="#333" stroke-width="0.7" />
<line x1="119.45" y1="635" x2="119.45" y2="636.5" stroke="#333" stroke-width="0.7" />
<line x1="120.52" y1="635" x2="120.52" y2="637.4" stroke="#333" stroke-width="0.7" />
<line x1="127.56" y1="635" x2="127.56" y2="636.5" stroke="#333" stroke-width="0.7" />
<line x1="131.67" y1="635" x2="131.67" y2="636.5" stroke="#333" stroke-width="0.7" />
<line x1="134.59" y1="635" x2="134.59" y2="636.5" stroke="#333" stroke-width="0.7" />
<line x1="136.85" y1="635" x2="136.85" y2="636.5" stroke="#333" stroke-width="0.7" />
<line x1="138.7" y1="635" x2="138.7" y2="636.5" stroke="#333" stroke-width="0.7" />
<text x="45.6" y="541.6" font-size="8.2" fill="#fff" stroke="#fff" stroke-width="1.6" opacity="0.85">48.7</text>
<text x="45.6" y="541.6" font-size="9.02" text-anchor="start" font-weight="normal" fill="#151515" stroke="#151515" stroke-width="0.12"  textLength="15.96" lengthAdjust="spacingAndGlyphs">48.7</text>
<text x="94.6" y="541.6" font-size="8.2" fill="#fff" stroke="#fff" stroke-width="1.6" opacity="0.85">.16.6</text>
<text x="94.6" y="541.6" font-size="9.02" text-anchor="start" font-weight="normal" fill="#151515" stroke="#151515" stroke-width="0.12"  textLength="18.24" lengthAdjust="spacingAndGlyphs">.16.6</text>
<text x="77.8" y="617.3" font-size="8.2" fill="#fff" stroke="#fff" stroke-width="1.6" opacity="0.85">24.6</text>
<text x="77.8" y="617.3" font-size="9.02" text-anchor="start" font-weight="normal" fill="#151515" stroke="#151515" stroke-width="0.12"  textLength="15.96" lengthAdjust="spacingAndGlyphs">24.6</text>
<text x="87.2" y="524.5" font-size="10.45" text-anchor="middle" font-weight="normal" fill="#151515" stroke="#151515" stroke-width="0.12"  textLength="14.77" lengthAdjust="spacingAndGlyphs">WT</text>
<text x="88.4" y="649.7" font-size="10.12" text-anchor="middle" font-weight="normal" fill="#151515" stroke="#151515" stroke-width="0.12"  textLength="27.96" lengthAdjust="spacingAndGlyphs">CD115</text>
<text transform="translate(28.9 583.1) rotate(-90)" font-size="10.12" text-anchor="middle" fill="#151515" stroke="#151515" stroke-width="0.12" textLength="21.14" lengthAdjust="spacingAndGlyphs">Ly6C</text>
<clipPath id="clip22"><rect x="169.5" y="544.5" width="105.9" height="90.5"/></clipPath>
<path clip-path="url(#clip22)" d="M247.09 555.4h.01M185.3 615.56h.01M181.44 613.48h.01M184.89 547.67h.01M216.87 568.71h.01M211.19 577.48h.01M225.81 547.92h.01M208.06 605.17h.01M190.51 616.95h.01M200.39 615.49h.01M175.25 599.96h.01M210.13 594.69h.01M174.07 575.7h.01M212.42 608.61h.01M236.39 551.86h.01M189.19 548.37h.01M194 545.52h.01M178.3 581.25h.01M175.57 572.3h.01M220.74 547.62h.01M193.01 544.36h.01M182.44 581.94h.01M232.97 562.62h.01M173.7 594.8h.01M184.46 616.31h.01M179.91 549.43h.01M171.56 553.11h.01M228.93 574.65h.01M192.17 549.42h.01M201.59 620.68h.01M188.31 547.73h.01M195.83 547.3h.01M216.66 545.58h.01M203.86 614.22h.01M177.02 573.49h.01M215.86 574.61h.01M174.08 558.89h.01M173.83 551.05h.01M194.99 616.71h.01M206.18 611.64h.01M208.3 599.05h.01M178.88 587.85h.01M209.42 604.14h.01M205.93 597.08h.01M201.87 615.54h.01M203.26 614.12h.01M210.8 588.44h.01M191.05 617.17h.01M208.55 593.56h.01M203.34 586.37h.01M237.78 558.5h.01M202.36 549.29h.01M171.51 602.67h.01M173.75 609.35h.01M204.55 584.71h.01M174.15 556.85h.01M200.92 545.42h.01M193.94 544.06h.01M179.58 591.17h.01M181.89 592.05h.01M233.32 545.29h.01M176.14 572.45h.01M179.2 578.82h.01M207.46 599.99h.01M195.28 548.61h.01M188.5 618.01h.01M181.71 589.94h.01M179.26 573.68h.01M215.54 575.48h.01M184.15 548.11h.01M172.84 569.74h.01M203.73 614.39h.01M171.35 572.24h.01M201.13 626.87h.01M208.47 573.9h.01M229.8 543.55h.01M173.18 560.32h.01M215.85 571.18h.01M171.88 558.56h.01M175.66 567.15h.01M204.88 581.2h.01M177.95 549.55h.01M181.08 580.18h.01M217.46 570.31h.01M206.5 548.06h.01M215.13 608.91h.01M223.98 546.34h.01M210.17 599.78h.01M220.12 547.36h.01M237.5 554.02h.01M200.55 619.35h.01M236.23 550.72h.01M178.31 591.31h.01M172.05 556.78h.01M176.86 551.89h.01M206.94 586.32h.01M204.19 544.15h.01M233.9 546.64h.01M185.1 549.64h.01M206.75 583.19h.01M205.39 615.01h.01M173.96 548.98h.01M183.85 620.79h.01M225.84 566.5h.01M175.07 551.46h.01M179.2 612.34h.01M217.89 579.64h.01M204.83 579.11h.01M233.74 549.67h.01M182.09 615.93h.01M178.64 546.31h.01M225.45 568.31h.01M234.36 562.26h.01M224.75 612.01h.01M207.71 548.37h.01M174.27 558.68h.01M236.21 560.74h.01M180.62 618.69h.01M172.93 617.37h.01M225.76 548.09h.01M202.47 613.28h.01M205.23 577.05h.01M229.23 547.24h.01M207.31 593.54h.01M173.08 556.07h.01M210.04 573.97h.01M203.51 591.18h.01M178.91 546.26h.01M207.23 546.73h.01M177.36 550.52h.01M183.6 619.9h.01M236.36 550.39h.01M186.76 616.49h.01M213.98 546.9h.01M180.08 586.2h.01M232.21 549.09h.01M178.04 612.87h.01M207.91 586.29h.01M203.22 547.05h.01M171.94 586.63h.01M208.62 599.55h.01M199.8 616.61h.01M192.14 617.3h.01M194.48 620.3h.01M211.54 548.09h.01M212.64 574.17h.01M226.47 544.84h.01M212.81 548.11h.01M206.85 602.03h.01M213.42 576.22h.01M215.52 619.33h.01M208.25 583.78h.01M192.44 549.74h.01M211.63 575.24h.01M209.1 601.26h.01M208.72 574.16h.01M219.64 571.63h.01M212.46 573.1h.01M204.37 610.77h.01M178.5 612.84h.01M213.04 608.5h.01M189.58 549.91h.01M208.24 544.04h.01M173.89 561.92h.01M175.14 600.05h.01M219.76 579.27h.01M212.7 572.51h.01M219.25 571.03h.01M200.24 548.25h.01M234.16 559.54h.01M206.58 587.6h.01M232.84 550.18h.01M174.21 605.65h.01M208.22 620.87h.01M238.68 560.17h.01M172.79 558.24h.01M177.4 549.12h.01M224.97 544.93h.01M216.49 546.68h.01M205.26 616.25h.01M174.06 564.55h.01M171.91 569.49h.01M211.16 571.26h.01M173.77 573.62h.01M222.13 567.13h.01M208.24 605.57h.01M212.15 545.14h.01M234.46 562.71h.01M208.67 614.88h.01M179.52 547.34h.01M206.96 547.05h.01M178.17 594.83h.01M213.6 606.14h.01M205.68 590.04h.01M206.04 576.44h.01M234.16 547.61h.01M218.71 572.61h.01M235.81 549.46h.01M209.08 546.3h.01M204.65 624.4h.01M217.94 547.54h.01M208.3 612.19h.01M195.9 622h.01M233.37 572.26h.01M189.06 617.71h.01M202.71 590.62h.01M180.54 589.79h.01M219.28 548.59h.01M192.79 546.55h.01M203.08 583.01h.01M172.97 560.21h.01M177.03 621.64h.01M229.75 563.63h.01M217.88 545.35h.01M228.51 563.96h.01M179.68 580.98h.01M203.51 580.95h.01M177.18 613.46h.01M217.75 572.33h.01M179.64 593.8h.01M205.91 595.67h.01M176.79 586.96h.01M216.9 574.46h.01M189.03 619.88h.01M226.76 565.46h.01M215.77 591.67h.01M218.02 572.17h.01M174.61 555.57h.01M194.26 546.56h.01M205.25 578.52h.01M229.66 544.3h.01M173.81 569.58h.01M178.64 590.02h.01M203.68 586.16h.01M175.03 597.83h.01M179.83 590.58h.01M217.08 586.78h.01M174.19 565.44h.01M192.88 623.63h.01M188.3 619.18h.01M214.36 571.03h.01M172 608.16h.01M228.56 564.64h.01M202.63 544.89h.01M175 569.77h.01M237.28 544.22h.01M171.39 560.67h.01M181.75 580.69h.01M207.36 596.09h.01M177.38 619.02h.01M234.81 557.96h.01M233.86 560.66h.01M174.37 567.4h.01M219.98 569.58h.01M243.45 569.28h.01M243.56 552.09h.01M237.35 550.73h.01M198.86 622.06h.01M194.47 547.86h.01M202.67 544.07h.01M171.37 621.2h.01M205.45 592.52h.01M187.7 617.33h.01M233.33 563.36h.01M233.72 548.02h.01M219.07 545.74h.01M237.19 552.52h.01M228.42 567.04h.01M199.94 590.75h.01M183.1 614.61h.01M203.29 583.6h.01M211.7 617.39h.01M188.56 617.23h.01M177.59 614.23h.01M178.61 580.43h.01M180.95 613.49h.01M234.33 562.25h.01M210.75 545.77h.01M229.2 565h.01M209.97 543.5h.01M235.31 550.41h.01M193.09 548.98h.01M216.15 548.43h.01M225.47 568.7h.01M209.18 548.23h.01M197.84 618.06h.01M210.63 584.57h.01M170.99 558.14h.01M179.9 579.43h.01M173.18 600.06h.01M178.6 592.16h.01M181.72 582.11h.01M206.81 596.34h.01M196.28 545.93h.01M209.27 597.18h.01M209.95 548.36h.01M176.88 578.37h.01M243.42 557.33h.01M179.38 588.28h.01M192.55 617.09h.01M187.09 546.04h.01M230.59 547.48h.01M175.54 609.93h.01M177.54 613.58h.01M175.42 607.24h.01M242.18 562.35h.01M208.56 602.36h.01M231.79 567.15h.01M229.25 548.55h.01M208.87 607.36h.01M207.17 585.43h.01M175.99 550.31h.01M219.58 568.01h.01M174.32 564.21h.01M213.74 572.3h.01M237.07 560.49h.01M229.92 565.18h.01M173.04 565.87h.01M204.87 586.65h.01M179.06 577.16h.01M226.19 547.26h.01M209.21 580.09h.01M237.63 565.19h.01M178.21 620.16h.01M203.52 593.02h.01M208.89 603.17h.01M199.73 617.18h.01M176.68 598.12h.01M179.69 578.18h.01M179.8 580.14h.01M189.96 546.62h.01M171.44 567.24h.01M206.18 606.43h.01M244.97 552.76h.01M206.04 574.46h.01M235.47 557.72h.01M235.73 546.95h.01M183.69 547.02h.01M227.39 544.36h.01M174.23 554.7h.01M217.83 548.89h.01M210.7 572.82h.01M184.23 590.42h.01M221.9 569.88h.01M218.37 600.81h.01M195.35 546.51h.01M181.43 585.08h.01M175.44 611.06h.01M223.82 571.73h.01M213.56 602.01h.01M173.51 556.94h.01M188.35 616.2h.01M232.54 560.98h.01M244.24 568.07h.01M222.99 600.27h.01M203.5 588.8h.01M204.68 616.21h.01M212.73 548.87h.01M208.59 544.69h.01M209.54 578.53h.01M193.55 549.75h.01M220.34 571.86h.01M205.54 610.6h.01M203.92 590.22h.01M206.3 583.49h.01M216.82 548.18h.01M227.82 591.8h.01M171.74 602.78h.01M243.4 558.26h.01M189.98 548.47h.01M212.77 548.06h.01M208.26 573.63h.01M193.68 549.65h.01M183.53 544h.01M205.76 544.33h.01M207.28 548.68h.01M197.64 616.57h.01M198.2 546.75h.01M186.86 616.22h.01M198.97 590.51h.01M203.08 614.16h.01M188.18 616.69h.01M231.85 549.51h.01M207.56 617.37h.01M198.26 615.56h.01M174.79 553.73h.01M203.73 545.72h.01M205.17 580.29h.01M204.27 586.49h.01M209.49 611.64h.01M175.96 611.06h.01M193.08 547.78h.01M181.93 547.31h.01M178.56 548.37h.01M227.49 566.1h.01M205.92 594.19h.01M203.76 582.51h.01M183.22 547.75h.01M212.63 573.75h.01M203.95 548.01h.01M214.33 600.81h.01M221.77 570.05h.01M173.43 543.93h.01M210.68 583.26h.01M205.1 593.17h.01M173.82 555.06h.01M222.67 567.69h.01M173.92 610.16h.01M175.37 602.43h.01M231.77 589.28h.01M199.86 616.65h.01M174.75 560.98h.01M190.93 621.19h.01M180.03 589.12h.01M212.18 620.67h.01M215.51 544.97h.01M175.78 602.68h.01M228.08 546.97h.01M197.49 547.81h.01M188.68 618.6h.01M232.48 561.51h.01M221.78 613.3h.01M240.34 552.99h.01M180.29 587.66h.01M171.26 566.3h.01M203.1 611.85h.01M179.37 592.73h.01M179.6 548.78h.01M173.8 597.14h.01M206.45 595.67h.01M179.47 576.52h.01M209.72 595.47h.01M228.24 544.2h.01M215.73 572.63h.01M204.69 589.01h.01M188.09 618.87h.01M210.61 576.37h.01M186.63 549.53h.01M173.47 592.28h.01M221.92 578.97h.01M174.58 601.32h.01M207.83 582.47h.01M196.49 620.74h.01M209.2 595.93h.01M180.16 612.95h.01M233 563.05h.01M244.62 555.48h.01M171.14 593.41h.01M221.64 572.01h.01M241.35 546.97h.01M239.05 561h.01M193.29 545.45h.01M231.12 567.15h.01M207.85 590h.01M172.49 603.49h.01M238.46 560.76h.01M232.44 563.15h.01M241.73 547.03h.01M206.92 610.33h.01M242.44 552.23h.01M189.2 548.31h.01M181.45 580.33h.01M172.79 595.32h.01M210.67 602.15h.01M176.96 596.18h.01M179.62 620.79h.01M218.41 568.36h.01M182.3 616.82h.01M206.65 603.14h.01M201.61 547.87h.01M205.46 594.72h.01M171.93 575.95h.01M178.79 578.35h.01M200.85 547.77h.01M215.44 604.91h.01M242.74 551.15h.01M175.16 602.61h.01M216.34 574.43h.01M192.3 545.19h.01M203.6 614.02h.01M175.42 609.83h.01M227.85 569.64h.01M231.15 563.04h.01M244.02 558.7h.01M205.61 577.79h.01M182.7 616.82h.01M228.49 548.82h.01M204.25 611.38h.01M179.45 585.72h.01M200 590.91h.01M204.22 578.16h.01M171.97 560.93h.01M184.63 618.29h.01M176.58 573.55h.01M172.66 549.67h.01M209.41 604.14h.01M229.99 568.17h.01M222.3 570.88h.01M238.94 551.13h.01M180.4 581.8h.01M171.62 559.26h.01M172.24 593.99h.01M180.39 585.13h.01M218.19 571.4h.01M217.74 572.45h.01M219.29 573.1h.01M204.43 581.6h.01M174.2 557.13h.01M237.36 562.77h.01M223.94 546.62h.01M211.67 576.86h.01M177.94 550.4h.01M235.84 559.5h.01M223.5 567.98h.01M178.06 586.64h.01M182.69 617.01h.01M176.27 595.25h.01M201.26 545.17h.01M209.27 612.24h.01M224.67 569.19h.01M204.98 594h.01M201.59 545.61h.01M213.83 548.78h.01M210.46 587.73h.01M213.7 572.63h.01M235.76 560.42h.01M197.13 616.25h.01M172.86 558.03h.01M176.85 550.74h.01M174.64 554.1h.01M199.21 616.47h.01M176.58 607.93h.01M207.02 586.21h.01M205.15 546.97h.01M188.02 548.14h.01M178.6 593.85h.01M236.68 572.01h.01M207.66 614.89h.01M204.25 581.56h.01M172.23 560.6h.01M174.07 597.99h.01M173.86 597.83h.01M231.4 567.65h.01M222.24 548.01h.01M176.25 549.68h.01M214.85 576.28h.01M183.52 546.8h.01M218.93 569.41h.01M215.97 546.64h.01M196.84 547.4h.01M174.61 564.25h.01M213.69 545.95h.01M212.47 548.36h.01M212.95 597.77h.01M212.47 572.29h.01M225.39 571.04h.01M236.35 548.74h.01M180.75 614.32h.01M202.01 591.67h.01M222.19 548.84h.01M176.35 607.52h.01M172.1 557.55h.01M206.79 608.64h.01M229.77 564.78h.01M174.76 561.35h.01M233.79 550.11h.01M227.69 548.15h.01M198.58 617.12h.01M219.34 611.25h.01M175.97 572.95h.01M218.23 578.45h.01M176.81 597.31h.01M187.96 549.39h.01M178.2 618.18h.01M183.53 546.2h.01M205.58 597.93h.01M208.95 574.64h.01M237.55 549.61h.01M185.74 618.08h.01M203.42 587.16h.01M222.91 574.28h.01M204.96 548.72h.01M174.41 596.4h.01M239.21 553.5h.01M196.22 616.19h.01M194.25 619.07h.01M195.75 619.62h.01M177.03 613.97h.01M225.37 567.12h.01M216.77 544.12h.01M175.78 572.47h.01M185.73 617.43h.01M204.81 595.53h.01M205.48 593.98h.01M231.6 563.08h.01M235.89 559.18h.01M187.14 621.96h.01M227.8 565.65h.01M183 614.41h.01M206.35 594.87h.01M228.22 567.31h.01M214.67 546.46h.01M176.26 606.78h.01M174.18 551.61h.01M170.2 555.19h.01M180.36 614.42h.01M175.02 606.43h.01M180.35 584.12h.01M179.33 589.16h.01M227.47 601.44h.01M175.12 553.01h.01M197.26 548.95h.01M202.2 612.93h.01M217.59 569.53h.01M188.61 623.15h.01M182.52 590.69h.01M174.92 597.75h.01M183.62 615.91h.01M211.45 548.99h.01M172.02 562.1h.01M199.91 619.74h.01M227.2 567.47h.01M174.69 604.21h.01M198.72 621.56h.01M236.42 552.8h.01M234.51 550.02h.01M181.19 617.35h.01M176.23 545.58h.01M185.08 620.58h.01M237.72 551.82h.01M189.25 619.78h.01M209.57 608.99h.01M231.89 543.8h.01M179.69 590.38h.01M228.07 564.99h.01M206.24 578.43h.01M206.7 605.35h.01M178.66 583.31h.01M232.78 548.59h.01M236.79 556.26h.01M208.76 547.91h.01M174.87 596.7h.01M178.11 575.25h.01M221.95 593.55h.01M191.42 616.72h.01M176.15 599.53h.01M175.5 615.72h.01M180 580.25h.01M242.67 562.07h.01M235.26 572.73h.01M192.38 617.25h.01M174.53 605.29h.01M191.94 544.87h.01M175.16 554.97h.01M186.32 616.26h.01M212.72 547.72h.01M248.5 559.15h.01M191.75 625.17h.01M173.95 548.12h.01M179.32 548.86h.01M207.92 603.88h.01M213.32 572.32h.01M176.98 596.79h.01M209.58 580.79h.01M192.93 618.47h.01M216.26 545.17h.01M188.28 545.05h.01M201.58 590.48h.01M215.19 571.49h.01M222.59 572.75h.01M188.79 549.46h.01M212.73 570.95h.01M227.71 546.93h.01M232.26 548.33h.01M179.64 583.66h.01M221.17 569.28h.01M233.07 550.21h.01M176.67 611.81h.01M196.05 547.93h.01M175.32 596.2h.01M208.93 604.69h.01M205.88 595.8h.01M209.63 609.79h.01M207.13 590.81h.01M226.47 548.38h.01M207.28 576.81h.01M178.23 580.19h.01M180.78 585.19h.01M223.62 568.21h.01M201.55 613.23h.01M174.79 570.09h.01M182.52 549.24h.01M231.74 549.85h.01M229.47 565.59h.01M208.1 591.5h.01M180.72 580.29h.01M234.03 546.43h.01M218.1 575h.01M232 548.19h.01M173.82 553.19h.01M236.63 547.44h.01M234.74 561.3h.01M219.12 545.83h.01M172.62 599.01h.01M179.77 612.84h.01M189.29 616.42h.01M218 569.23h.01M175.75 594.96h.01M218.62 568.49h.01M222.66 568.83h.01M197.56 619.32h.01M176.28 599.39h.01M197.27 547.29h.01M199.57 622.04h.01M213.17 547.91h.01M199.02 549.33h.01M235.05 563.09h.01M177.26 611.95h.01M186.77 547.38h.01M231.55 567.24h.01M185.8 618.87h.01M242.77 560.06h.01M172.88 596.09h.01M199.32 615.18h.01M206.96 546.18h.01M173.77 556.52h.01M179.83 591.68h.01M170.01 554.22h.01M230.87 567.73h.01M229.59 544.02h.01M173.69 596.29h.01M220.55 570.9h.01M212.73 544.58h.01M170.22 575.75h.01M207.59 586.29h.01M206.44 609.05h.01M177.61 577.03h.01M235.64 556.68h.01M173.91 560.44h.01M220.75 567.94h.01M180.95 592.74h.01M179.89 589.79h.01M235.35 550.64h.01M208.69 606.29h.01M171.42 606.89h.01M190.81 548.37h.01M217.42 543.66h.01M170.74 565.17h.01M185.5 616.86h.01M173.48 556.53h.01M238.22 552.06h.01M211.41 586.19h.01M213.41 545.02h.01M205.15 584.14h.01M185.88 547.08h.01M180.93 615.06h.01M204.38 590.02h.01M208.6 572.99h.01M193.64 547.51h.01M171.9 557.94h.01M228.79 570.76h.01M220.98 547.77h.01M179.4 575.92h.01M205.75 584.32h.01M203.31 592.17h.01M177.29 578.39h.01M205.51 610.47h.01M174.83 609.42h.01M216.38 545.55h.01M226.87 566.28h.01M218.74 584.56h.01M172.58 610.79h.01M235.41 550.8h.01M193.11 546.65h.01M231.18 547.92h.01M208.11 589.27h.01M200.28 548.86h.01M232.31 561.05h.01M205.21 579.29h.01M180.93 590.79h.01M173.88 609.75h.01M237.12 556.27h.01M173.2 566.38h.01M184.51 547.29h.01M209.7 614.37h.01M209.9 624.73h.01M223.89 569.42h.01M174.58 559.63h.01M223.49 544.69h.01M224.97 566.67h.01M201.25 590.5h.01M172.66 598.74h.01M186.32 549.9h.01M195.34 547.64h.01M174.16 579.14h.01M210.77 573.37h.01M232.73 567.95h.01M227.42 567.1h.01M186.12 615.54h.01M181.16 579.19h.01M195.5 616.5h.01M174.65 554.58h.01M221.78 572.29h.01M173.07 563.08h.01M214.46 585.02h.01M240.47 558.76h.01M175.95 606.48h.01M210.17 544.95h.01M177.78 577.48h.01M203.7 549.07h.01M225.89 566.85h.01M222.42 567.48h.01M170.21 605.52h.01M186.02 616.36h.01M174.76 611.9h.01M191.77 547.11h.01M207.78 544.95h.01M175.05 600.89h.01M185.52 616.88h.01M184.39 615.66h.01M187.45 619.98h.01M213.58 599.76h.01M230.72 572.3h.01M233.28 561.42h.01M171.7 552.59h.01M199.67 547.8h.01M211.5 576.76h.01M226.22 579.53h.01M202.48 548.5h.01M237.59 548.2h.01M172.05 557.77h.01M209.47 602.54h.01M206.57 549.03h.01M196.83 615.55h.01M208.89 607.25h.01M178.81 611.85h.01M208.81 547.01h.01M204 615.23h.01M172.78 562.47h.01M184.62 548.48h.01M210.44 579.05h.01M207.23 604.01h.01M183.73 546.87h.01M238.04 555.57h.01M241.08 555.71h.01M208.64 604.86h.01M189.25 619.7h.01M206.97 588.09h.01M212.34 543.91h.01M193.61 549.15h.01M236.45 563.58h.01M206.98 611.29h.01M211.17 615.09h.01M181.01 549.45h.01M204.81 588.34h.01M203.47 586.14h.01M213.71 570.48h.01M189.13 616.31h.01M180.41 583.98h.01M209.6 611.66h.01M206.76 609.9h.01M204.49 548.53h.01M173.54 601.31h.01M219.32 545.93h.01M210.29 575.3h.01M229.71 547.67h.01M233.17 566.46h.01M206.66 589.95h.01M175.36 553.84h.01M178.42 550.13h.01M215.11 569.62h.01M221.88 545.96h.01M182.46 546.14h.01M180.55 578.77h.01M209.06 577.78h.01M175.01 549.06h.01M185.22 548.17h.01M235.91 556.71h.01M233.63 561.2h.01M228.53 570.6h.01M178.67 612.19h.01M210.87 576.71h.01M212.85 576.37h.01M232.82 565.31h.01M189.19 617.34h.01M211.84 609.3h.01M224.07 578.17h.01M176.49 606.76h.01M214.6 570.37h.01M177.89 551.62h.01M170.32 601.9h.01M209.12 603.96h.01M202.65 614.81h.01M200.96 547.19h.01M171.97 605.32h.01M231.19 568.96h.01M214.24 605.61h.01M171.88 565.94h.01M212.44 615.67h.01M193.7 545.32h.01M176.27 577.77h.01M208.96 577.72h.01M236.41 562.57h.01M204.66 582.54h.01M181.59 582.11h.01M175.7 605.3h.01M207.79 607.57h.01M173.57 559.48h.01M173.75 567.48h.01M204.98 615.77h.01M217.39 547.57h.01M216.23 545.17h.01M174.65 594.47h.01M175.62 602.6h.01M175.42 550.46h.01M224.3 566.96h.01M178.69 549.84h.01M197.18 549.29h.01M207.66 575.51h.01M187.66 618.77h.01M196.43 621.35h.01M208.31 591.07h.01M236.36 556.85h.01M173.78 603.29h.01M185.41 550.21h.01M228.52 565.26h.01M173.54 598.11h.01M244.78 563.74h.01M204 548.7h.01M175.21 599.98h.01M205.79 616.56h.01M208.74 616.33h.01M180.19 545.52h.01M176.73 582.03h.01M207.99 599.3h.01M228.2 544.57h.01M229.27 567.88h.01M202.4 616.23h.01M175.46 599.14h.01M173.18 568.5h.01M233.28 562.78h.01M222.98 574.3h.01M227.09 548.84h.01M236.66 552.34h.01M238.55 549.9h.01M179.61 576.61h.01M206.94 583.23h.01M238.61 579.23h.01M242.71 559.94h.01M210.25 603.04h.01M222.57 548.12h.01M179.76 575.79h.01M213.19 544.85h.01M181.1 588.78h.01M171.62 607.96h.01M206.69 548.91h.01M205.47 609.37h.01M182.98 549.11h.01M227.92 566.73h.01M177.86 551.45h.01M236.29 564.4h.01M188.39 620.87h.01M173.77 557.56h.01M174.57 564.85h.01M229.96 568.59h.01M176.25 598.36h.01M183.02 616.14h.01M200.15 547.69h.01M174.13 601.68h.01M173.21 563.09h.01M173.69 562.53h.01M175.49 601.45h.01M238.91 557.8h.01M212.25 548.82h.01M177.02 594.08h.01M174.65 562.77h.01M234.55 560.53h.01M194.31 619.7h.01M221.82 568.12h.01M225.45 545.38h.01M216.15 599h.01M205.18 594.03h.01M235.4 557.28h.01M211.16 596.96h.01M214.26 572.07h.01M200.96 590.85h.01M235.16 566.61h.01M201.32 547.67h.01M207.75 579.96h.01M212.49 617.84h.01M234.05 549.84h.01M215.09 544.69h.01M226.63 546.84h.01M179.95 549.67h.01M248.35 547.48h.01M183.27 549.38h.01M220.73 578.39h.01M210.93 580.8h.01M207.82 573.63h.01M190.74 619.68h.01M214.49 575h.01M201.81 590.92h.01M178.97 550.96h.01M204.55 544.71h.01M219.95 570.27h.01M234.6 548.37h.01M179.12 585.97h.01M175.22 552.49h.01M235.6 563.69h.01M205.39 587.44h.01M171.71 562.56h.01M237.32 579h.01M179.13 613.71h.01M233.18 561.79h.01M203.74 584.73h.01M209.54 608.78h.01M234.15 564.78h.01M208.05 607.48h.01M176.62 598.24h.01M177.64 549.67h.01M234.93 565.75h.01M207.77 573.89h.01M210.94 598.51h.01M240.38 561.8h.01M171.91 563.7h.01M208.35 547.14h.01M209.04 578.81h.01M180.04 588.23h.01M230.24 564.91h.01M203.54 594.7h.01M201.16 546.29h.01M208.29 599.05h.01M185.82 617.94h.01M202.52 593.12h.01M188.51 617.31h.01M206.31 597.02h.01M207.19 584.67h.01M185.22 617.45h.01M173.48 569.52h.01M206.21 576.14h.01M197.92 548.74h.01M178.67 590.48h.01M193.06 621.44h.01M213.56 572.11h.01M229.24 566.93h.01M231.4 546.05h.01M208.02 580.43h.01M181.52 591.06h.01M238.75 551.03h.01M237.93 560.82h.01M238.55 557.61h.01M205.11 589.73h.01M213.65 570.93h.01M210.31 603.67h.01M225.28 547h.01M226.23 545.66h.01M204.69 584.77h.01M202.85 546.26h.01M240.2 559.31h.01M180.68 550.83h.01M230.19 549.41h.01M217.69 571.33h.01M232.17 566.51h.01M215.59 569.28h.01M224.24 568.4h.01M209.42 600.63h.01M206.94 596.84h.01M193.2 618.82h.01M220.55 574.22h.01M238.63 548.07h.01M193.61 547.2h.01M236.02 548.09h.01M223.83 544.97h.01M224.91 566.55h.01M181.46 546.88h.01M235.39 548.13h.01M173.3 599.95h.01M173.01 552.31h.01M175.49 613.36h.01M172.39 605.95h.01M174.11 559.11h.01M236.51 553.84h.01M203.25 589.7h.01M187.04 549.88h.01M208.26 594.48h.01M227.98 568.79h.01M183.41 590.3h.01M209.49 573.99h.01M204.31 546.79h.01M207.55 595.17h.01M206.56 601.94h.01M236.7 555.48h.01M172.19 546.64h.01M201.05 591.67h.01M203.31 584.55h.01M206.48 592.82h.01M174.3 600.38h.01M204.74 587.41h.01M203.39 580.12h.01M172.52 565.11h.01M202.89 580.82h.01M201.56 615.62h.01M198.52 547.6h.01M205.26 581.54h.01M236.68 553.75h.01M181.03 621.21h.01M190.2 621.09h.01M187.32 617.13h.01M230.14 564.49h.01M205.57 545.61h.01M209.66 576.98h.01M175.32 593.41h.01M181.3 613.67h.01M175.81 596.71h.01M210.39 595.51h.01M176.82 584.11h.01M198.01 545.8h.01M198.39 545.38h.01M209.55 596.56h.01M177.49 575.77h.01M239.39 563.2h.01M220.26 571.34h.01M175.53 585.11h.01M235.35 561.2h.01M234.65 563.69h.01M209.26 588.34h.01M183.03 544.17h.01M175.66 610.34h.01M205.87 548.92h.01M180.47 615.83h.01M181.71 581.11h.01M219.32 545.74h.01M237.39 552.08h.01M240.67 550.91h.01M214.59 548.35h.01M211.58 548.81h.01M215.37 581.11h.01M179.41 589.86h.01M208.89 600.11h.01M210.06 574.89h.01M206.66 581.1h.01M202.88 622.6h.01M208.17 591.03h.01M188.19 547.27h.01M225.4 572.86h.01M237.49 548.94h.01M204.63 591.16h.01M240.64 548.43h.01M177.47 573.86h.01M227.69 546.49h.01M173.28 571.84h.01M234.34 558.89h.01M206.58 609.71h.01M171.92 602.83h.01M205.37 595.94h.01M219.81 570.05h.01M205.15 614.97h.01M211.96 572.62h.01M238 564.27h.01M207.37 576.63h.01M178.84 582.51h.01M179.53 577.8h.01M219.21 569.99h.01M196.39 617.92h.01M206.37 600.36h.01M179.18 582.14h.01M220.46 548.5h.01M178.17 588h.01M209.17 579.94h.01M195.49 545.96h.01M177.35 588h.01M219.89 571.35h.01M235.25 562.79h.01M223.67 569.46h.01M207.51 602.68h.01M203.26 580.81h.01M242.33 565.08h.01M184.65 618.45h.01M214.98 547.43h.01M175.76 552.52h.01M188.03 620.83h.01M179.85 613.46h.01M177.72 617.36h.01M236.17 549.04h.01M201.97 612.58h.01M209.05 607.36h.01M179.97 623.49h.01M191.79 546.91h.01M184.85 549.44h.01M206.77 547.49h.01M223.82 543.97h.01M205.87 547.73h.01M211.55 574.29h.01M204.6 588.83h.01M174.35 567.74h.01M206.16 549.1h.01M201.91 592.23h.01M201.4 547.48h.01M171.98 562.45h.01M236.04 552.14h.01M206.56 600.02h.01M206.28 587.83h.01M177.35 594.96h.01M174.2 608.37h.01M183.23 622.52h.01M175.81 587.65h.01M194.37 618.64h.01M172.99 557.07h.01M204.32 582.77h.01M211.52 575.72h.01M213.35 548.82h.01M216.56 576.42h.01M204.88 586.42h.01M187.82 618.64h.01M222.69 571.73h.01M213.74 570.04h.01M178.56 612.14h.01M173.63 555.49h.01M241.36 550.38h.01M231.09 575.67h.01M208.91 572.97h.01M192.86 548.71h.01M211.99 546.28h.01M236.5 563.18h.01M207.38 598.81h.01M175.38 580.52h.01M222.32 569.83h.01M233.33 549.81h.01M205.58 547.02h.01M223.04 570.3h.01M173.69 604.89h.01M209.43 612.96h.01M177.09 596h.01M221.83 570.92h.01M173.68 610.53h.01M212.57 604.44h.01M181.53 590.47h.01M206.79 595.48h.01M173.73 599.72h.01M230.79 563.34h.01M205.51 549.03h.01M221.2 547.75h.01M174.1 555.97h.01M174.81 568.26h.01M179.71 548.68h.01M216.76 570.73h.01M182.27 616.27h.01M216.9 607.59h.01M186.45 549.78h.01M184.57 615.94h.01M205.13 593.96h.01M214.25 569.78h.01M201.07 589.92h.01M173.14 568.71h.01M182.29 591.7h.01M216.38 600.4h.01M236.75 559.88h.01M211.74 548.78h.01M175.07 590.17h.01M237.51 555.96h.01M236.73 549.59h.01M209.66 571.76h.01M227.82 568.84h.01M207.03 604.22h.01M221.29 548.51h.01M186.54 550.16h.01M204.61 578.95h.01M221.47 598.84h.01M173.92 550.87h.01M224.18 543.52h.01M170 550.75h.01M176.63 574.97h.01M183.6 617.08h.01M172.3 561.74h.01M210.5 575.07h.01M181.61 586.25h.01M228.55 547.95h.01M234.8 550.44h.01M230.51 567.05h.01M204.88 610.2h.01M172.28 612.53h.01M170.92 557.42h.01M240.16 551.02h.01M202.92 614.16h.01M213.35 572.7h.01M191.06 543.64h.01M221.37 547.64h.01M222.31 546.65h.01M174.23 567.62h.01M210.32 545.85h.01M177.67 594.49h.01M227.29 568.18h.01M170.42 576.83h.01M237.25 551.42h.01M233.9 567.02h.01M173.69 599.43h.01M197.96 590.52h.01M203.01 591.57h.01M177.94 578.45h.01M218.34 572.56h.01M173.63 568.39h.01M196.79 549.45h.01M202.87 612.66h.01M237.78 555.41h.01M198.93 548.59h.01M206.89 598.68h.01M204.62 585.7h.01M229.48 569.35h.01M175.7 605.39h.01M214.31 546.6h.01M175.41 608.93h.01M203.61 588.03h.01M220.2 624.46h.01M212.85 579.03h.01M221.02 547.8h.01M241.98 551.92h.01M202.59 619.24h.01M174.55 548.07h.01M204.17 582.02h.01M188.76 616.86h.01M205.89 607.19h.01M172.53 571.64h.01M207 604.05h.01M181.06 580.06h.01M217.51 579.57h.01M172.18 566.58h.01M177.54 546.17h.01M198.34 546.1h.01M200.44 591.37h.01M177.13 546.87h.01M174.64 570.6h.01M212.87 544.04h.01M193.17 549.04h.01M204.49 590.05h.01M207.74 602.55h.01M207.34 605.03h.01M179.2 612.75h.01M210.48 574.4h.01M232.23 549.37h.01M187.93 619.75h.01M211.93 593.02h.01M203.36 548.67h.01M202.33 612.79h.01M202.72 546.83h.01M191.13 548.49h.01M217.46 569.03h.01M207.1 608.41h.01M176.33 575.96h.01M190.99 547.68h.01M195.13 546.03h.01M215.22 544.32h.01M187.73 547.18h.01M231.84 563.86h.01M203.94 580.08h.01M231.06 569.43h.01M213.49 608.46h.01M180.42 583.69h.01M177.57 595.7h.01M191.46 616.95h.01M178.9 585.6h.01M201.01 545.31h.01M180.42 585.56h.01M203.15 581.51h.01M224.94 544.58h.01M204.33 587.55h.01M205.59 585.39h.01M207.32 591.44h.01M209.53 571.77h.01M196.35 616.44h.01M207.57 599.53h.01M208.53 588.49h.01M207.9 599.5h.01M179.53 587.77h.01M178.88 585.25h.01M214.1 605.52h.01M193.65 546.2h.01M230.96 569.53h.01M233.13 561.22h.01M214.04 577.55h.01M206.79 597.83h.01M186.79 548.01h.01M219.07 581.24h.01M200.1 591.44h.01M200.78 548.6h.01M177.4 581.86h.01M174.55 567.52h.01M231.21 563.69h.01M203.39 615.46h.01M211.49 611.56h.01M205.2 610.83h.01M173.38 577.45h.01M174.81 555.39h.01M187.07 622.58h.01M174.34 553.92h.01M209.5 596.1h.01M211.62 598.82h.01M209.31 547.24h.01M176.07 609.62h.01M234.63 564.87h.01M230.38 563.49h.01M239.81 568.65h.01M208.27 576.79h.01M187.63 619.21h.01M204.99 580.26h.01M204.06 588.97h.01M238.7 547.59h.01M200.71 547.04h.01M188.9 625.27h.01M223.39 568.99h.01M226.71 546.8h.01M195.5 615.85h.01M176.9 580.55h.01M212.55 600.92h.01M217.31 544.71h.01M216.13 547.13h.01M212.64 602.6h.01M171.06 602.47h.01M178.48 594.88h.01M195.04 546.73h.01M178.51 613.03h.01M195.88 617.57h.01M212.11 602.27h.01M205.13 584.69h.01M248.87 552.41h.01M237.82 547.33h.01M230.93 546.62h.01M176.74 589.42h.01M174.18 564.55h.01M210.9 606.19h.01M207.8 612.56h.01M201.93 625.71h.01M206.52 577.84h.01M206.76 600.48h.01M175.09 570.82h.01M238.16 552.62h.01M201.32 592.08h.01M206.44 578.53h.01M175.79 606.43h.01M204.74 587.69h.01M235.24 549.97h.01M218.12 571.95h.01M215.22 570.79h.01M237.94 559.64h.01M209.64 604.55h.01M202.96 611.51h.01M214.31 570.63h.01M179.44 615.21h.01M177.16 579.28h.01M172.22 568.94h.01M180.38 580.48h.01M208.1 573.36h.01M207.57 583.75h.01M219.1 546.27h.01M205.72 593.66h.01M173.97 594.24h.01M186.38 615.84h.01M180.71 619.56h.01M181.04 613.68h.01M240.9 544.65h.01M181.49 550.19h.01M239.34 558.68h.01M189.23 548.35h.01M172.72 562.03h.01M208.64 572.84h.01M200.31 589.6h.01M188.34 618.53h.01M204.37 612.7h.01M221.9 569.14h.01M233.35 567.96h.01M175.25 601.7h.01M175.88 609.02h.01M180.74 613.38h.01M216.07 545.81h.01M191.46 546.82h.01M235.56 550.67h.01M175.23 551.92h.01M178.89 584.38h.01M212.99 574.08h.01M196.41 617.03h.01M217.08 574.45h.01M228.99 566.42h.01M209.65 591.52h.01M171.44 606.94h.01M219.05 592.54h.01M190.41 547.66h.01M206.41 547.16h.01M203.52 619.1h.01M180.97 550.27h.01M203.03 581.13h.01M184.88 615.3h.01M213.54 618.57h.01M201.88 590.78h.01M208.41 594.87h.01M203.83 545.8h.01M205.71 597.32h.01M203.71 579.32h.01M173.32 563.28h.01M175.11 581.37h.01M179.24 611.79h.01M219.74 548.48h.01M205.68 594.4h.01M207.52 611.6h.01M224.38 547.76h.01M216.22 548.48h.01M174.44 544.7h.01M208.56 574.37h.01M193.14 547.53h.01M207 598.44h.01M205.96 546.44h.01M224.26 592.33h.01M204.5 581.55h.01M199.49 549.24h.01M209.67 572.24h.01M208.87 600.25h.01M212.13 574.97h.01M244.96 549.34h.01M191.04 624.24h.01M222.51 566.98h.01M203.63 589.62h.01M176.09 616.78h.01M234.89 567.83h.01M206.39 582.26h.01M205.33 549.1h.01M205.91 585.71h.01M228.16 548.18h.01M230.87 566.27h.01M188.53 547.24h.01M228.76 547.34h.01M224.64 567.33h.01M211.09 575.07h.01M178.75 590.17h.01M179.06 577.06h.01M204.69 616.39h.01M218.22 548.07h.01M227.58 564.96h.01M179.38 546.6h.01M214.88 602.61h.01M223.48 566.66h.01M210.75 593.57h.01M238.64 553.44h.01M223.77 547.15h.01M194.29 616.26h.01M173.77 560.16h.01M230.25 548.61h.01M201.63 614.18h.01M210.23 603.11h.01M197.35 619.56h.01M170.57 600.69h.01M176.51 572.05h.01M203.41 592.2h.01M174.95 565.88h.01M207.03 597.04h.01M203.59 594.59h.01M179.46 593.39h.01M201.57 614.67h.01M170.93 608.05h.01M181.82 591.06h.01M173.77 556.93h.01M172.69 606.34h.01M179.16 618.52h.01M215.49 569.24h.01M179.95 584.86h.01M230.9 565.62h.01M212.34 572.94h.01M240.01 548.03h.01M238.4 551.89h.01M172.97 558.74h.01M185 615.3h.01M190.17 549.64h.01M218.19 572.94h.01M173.32 559.83h.01M176.57 589.65h.01M239.64 559.79h.01M239.61 553.12h.01M175.64 608.07h.01M174.33 560.63h.01M209.18 573.26h.01M173.08 594.7h.01M230.41 563.04h.01M208.32 573.52h.01M199.87 545.2h.01M235.25 560.5h.01M210.26 598.88h.01M221.72 569.91h.01M232.65 548.31h.01M191.29 619.06h.01M213.04 571.19h.01M231.72 564.84h.01M217.52 546.82h.01M173.09 572.19h.01M177.46 611.67h.01M204.2 580.92h.01M178.88 548.73h.01M237.32 556.15h.01M177.21 594.63h.01M172.29 558.43h.01M178.35 589.34h.01M172.09 557.85h.01M174.08 595.15h.01M199.59 548.99h.01M241.65 553.39h.01M197.65 547.64h.01M237.74 554.35h.01M207.91 612.3h.01M218.39 569.61h.01M203.83 594.32h.01M175.09 599.62h.01M237.28 552.95h.01M173.79 603.92h.01M205.72 587.68h.01M232.46 563.88h.01M205.3 620.5h.01M213.93 580.98h.01M226.53 547.68h.01M206.57 576.87h.01M202.55 615.23h.01M207.25 613.93h.01M178.04 574.58h.01M175.43 612.82h.01M215.95 598.26h.01M215.54 605.84h.01M186.83 549.24h.01M178.06 591.83h.01M198.56 546.63h.01M219.26 547.39h.01M197.5 546.08h.01M206.32 610.67h.01M233.93 559.91h.01M177.19 611.8h.01M202.03 544.69h.01M190.11 548.19h.01M171.94 562.61h.01M175.24 593.7h.01M246.07 560.06h.01M233.52 543.56h.01M209.6 596.73h.01M203.11 620.61h.01M232.91 548.3h.01M212.77 547.49h.01M173.54 610.79h.01M197.18 547.06h.01M197.78 547.44h.01M200.06 590.18h.01M179.84 592.42h.01M172.94 590.89h.01M185.91 548.73h.01M180.3 615.76h.01M187.32 549.14h.01M223.7 571.96h.01M180.61 587.88h.01M203.44 547.22h.01M178.78 586.66h.01M225.56 566.23h.01M172.67 559.53h.01M201.36 615.97h.01M174.3 566.63h.01M216.34 590.89h.01M174.38 595.74h.01M186.76 544.42h.01M192.97 618.01h.01M191.78 619.41h.01M204.61 548.51h.01M185.13 548.46h.01M215.81 578.88h.01M178.24 591.48h.01M216.97 595.32h.01M195.96 549.57h.01M210.3 589h.01M177.2 610.84h.01M174.38 550.42h.01M205.47 580.17h.01M218.31 570.14h.01M204.88 619.74h.01M226.64 565.21h.01M232.34 563.87h.01M176.11 597.15h.01M213.68 547.47h.01M197.77 549.2h.01M207.19 579.45h.01M208.09 609.48h.01M235.03 564.56h.01M233.08 548.94h.01M177.42 591.24h.01M191.06 623.07h.01M211.64 603.56h.01M207.36 588.99h.01M238.12 550.67h.01M185.33 548.67h.01M181.22 618.43h.01M173.76 607.81h.01M171.85 558.21h.01M233.2 569.17h.01M211.26 626.23h.01M170.49 562.69h.01M187.4 546.48h.01M170.51 557.06h.01M203.89 544.03h.01M205.23 610.24h.01M205.14 595.08h.01M236.46 565.52h.01M176.41 571.08h.01M189.37 619.48h.01M179.31 544.31h.01M184.68 550.12h.01M209.01 600.93h.01M220.58 568.51h.01M173.75 561.1h.01M172.39 551.72h.01M173.91 565.63h.01M198.52 621.77h.01M230.68 565.63h.01M204.36 618.27h.01M183.04 548.47h.01M193.46 546.53h.01M236.14 561.52h.01M209.79 606.79h.01M224.69 567.41h.01M213.35 572.87h.01M199.63 620.58h.01M185.41 616.31h.01M183.7 614.96h.01M179.64 580.33h.01M207.25 549.1h.01M242.56 565.52h.01M174.6 601.39h.01M199.34 618.88h.01M208.8 605h.01M206.75 580.83h.01M210.04 588.81h.01M173.09 563.7h.01M236.57 550.7h.01M207.81 607.23h.01M203.2 594.16h.01M196.65 617.23h.01M206.65 598.22h.01M201.29 619.35h.01M179.88 582.8h.01M177.87 610.83h.01M201.73 591.07h.01M206.47 608.82h.01M229.51 546.41h.01M179.21 615.98h.01M172.3 616.06h.01M182.81 548.96h.01M181.48 591.78h.01M173.63 568.5h.01M177.15 575.62h.01M218.86 548.55h.01M194.27 547.7h.01M200.88 589.76h.01M227.18 548.81h.01M208.69 606.57h.01M183.04 617.56h.01M178.59 619.49h.01M221.98 569.18h.01M211.4 587.83h.01M232.7 573.22h.01M207.56 613.62h.01M178.22 576.26h.01M172.27 562.27h.01M174.38 605.4h.01M177.75 574.84h.01M215.64 577.81h.01M246.21 547.7h.01M178.39 594.7h.01M196.79 618.8h.01M191.03 549.46h.01M178.86 593.96h.01M211.03 605.11h.01M172.91 556.53h.01M174.56 580.85h.01M204.14 616.23h.01M174.77 561.92h.01M235.63 545.97h.01M190.88 621.98h.01M213.57 600.51h.01M217.21 546.1h.01M241.37 549.45h.01M238.13 553.36h.01M218.95 570.82h.01M204.49 588.5h.01M236.67 566.19h.01M214.12 622.19h.01M224.34 567.94h.01M206.07 577.12h.01M210.95 582.11h.01M249.04 550.98h.01M207.34 549.01h.01M223.05 547.38h.01M227.82 565.24h.01M175.42 551.46h.01M176.64 580.49h.01M208.79 597.97h.01M174.23 567.26h.01M207.21 596.97h.01M224.51 566.23h.01M206.8 593.16h.01M174.28 562.95h.01M211.59 571.37h.01M206.9 602.17h.01M206.97 609.56h.01M172.35 605.38h.01M215.11 573.77h.01M216.5 548.8h.01M225.22 612.7h.01M177.59 550.41h.01M208.94 580.91h.01M211.13 548.13h.01M197.99 615.7h.01M174.87 573.85h.01M234.87 568.34h.01M225.74 567.11h.01M194.51 548.12h.01M181.18 580.33h.01M231.16 569.12h.01M171.97 601.08h.01M232.82 548.76h.01M203.78 582.12h.01M223.14 586.75h.01M211.9 572.29h.01M203.24 615.6h.01M209.6 602.96h.01M231.15 549.69h.01M194.74 547.81h.01M230.57 569.97h.01M225.24 568.75h.01M172.59 563.79h.01M232.7 548.82h.01M204.66 622.57h.01M175.27 596.3h.01M174.61 570.77h.01M208.26 575.28h.01M212.53 614.98h.01M209.58 547.13h.01M181.5 583.05h.01M197.56 549.21h.01M179.45 579.02h.01M230.45 563.55h.01M181 590.12h.01M242.01 546.26h.01M240.72 561.29h.01M203.82 589.3h.01M234.36 563.75h.01M238.87 547.65h.01M211.18 605.53h.01M176.51 595.18h.01M227.55 568.47h.01M210.88 598.82h.01M234.22 560.09h.01M176.29 552.52h.01M204.62 593.81h.01M174.03 599.42h.01M225.21 566.47h.01M188.48 616.54h.01M218.21 569.5h.01M219 545.89h.01M205.78 580.38h.01M224.32 568.92h.01M175.37 603.07h.01M239.37 563.86h.01M180.04 593.2h.01M189.42 617.66h.01M205.54 546.42h.01M174.36 553.28h.01M206.25 575.81h.01M224.35 567.19h.01M175.48 546.83h.01M201.73 547.6h.01M204.26 614.22h.01M172.76 554.31h.01M206.74 582.58h.01M210.8 576.16h.01M196.4 617.56h.01M174.65 604.69h.01M178.73 590.75h.01M173.2 607.27h.01M219.33 570.48h.01M170.57 607.77h.01M171.48 567.15h.01M202.13 612.32h.01M240.13 558.5h.01M178.27 616.2h.01M194.52 547.81h.01M197.24 617.21h.01M225.28 548.46h.01M170.79 588.12h.01M221.91 547.78h.01M239.09 559.41h.01M204.15 590.19h.01M227.24 545.55h.01M174.37 606.51h.01M211.36 544.82h.01M173.34 609.1h.01M180.91 581.3h.01M206.4 596.14h.01M242.39 557.97h.01M181.41 618.9h.01M205.49 580.58h.01M185.5 549.76h.01M199.86 614.82h.01M180.05 585.1h.01M209.04 600.35h.01M220.71 567.82h.01M173.25 563.5h.01M204.43 594.93h.01M212.65 579.39h.01M238.47 571.13h.01M229.21 570.56h.01M209.45 610.91h.01M210.69 547.78h.01M222.65 583.36h.01M206.83 605.17h.01M174.55 559.66h.01M205.34 596.98h.01M178.02 550.56h.01M207.44 573.86h.01M212.35 614.85h.01M176.68 546.55h.01M205.06 590.73h.01M199.3 589.67h.01M230.09 566.27h.01M228.17 548.88h.01M199.4 616.69h.01M181.51 581.92h.01M211.04 571.39h.01M196.35 617.42h.01M213.39 543.77h.01M172.78 555.97h.01M172.76 562.43h.01M185.4 624.03h.01M191.3 617.28h.01M209.63 548.22h.01M196.86 615.93h.01M208.82 597.86h.01M229.21 563.9h.01M234.35 558.85h.01M204.97 548.01h.01M182.13 614.96h.01M204.45 588.33h.01M210.11 611.95h.01M175.88 607.11h.01M201.51 548.39h.01M190.9 546.43h.01M183.29 615.64h.01M215.58 548.51h.01M176.32 570.4h.01M180.7 619.28h.01M210.82 605.83h.01M222.19 547.84h.01M240.52 554.88h.01M174.41 615.98h.01M198.31 618.97h.01M180.66 545.55h.01M170.12 564.32h.01M204.27 615.78h.01M238.46 558.73h.01M176.05 551.95h.01M222.25 545.05h.01M182.75 548.82h.01M174.93 552.28h.01M215.53 609.63h.01M211.94 572.92h.01M228.49 573.04h.01M171.8 614.22h.01M174.8 567.72h.01M230.45 544.97h.01M174.12 565.73h.01M178.53 550.36h.01M230.61 563.39h.01M178.33 616.96h.01M221.24 573.35h.01M245.21 558.38h.01M176.67 574.14h.01M205.14 549.24h.01M179.69 586.88h.01M198.09 546.47h.01M221.36 572.77h.01M176.16 609.23h.01M173.84 595.23h.01M191.95 620.89h.01M238.31 562.09h.01M174.12 564.52h.01M232.58 562.26h.01M199.92 548.34h.01M200.78 546.57h.01M184.57 549.97h.01M183.52 615.61h.01M189.14 617.55h.01M192.9 620.95h.01M198.77 614.73h.01M234.47 550.04h.01M178.5 593.06h.01M209.95 573.68h.01M237.74 547.74h.01M205.3 610.99h.01M177.84 618.86h.01M209.31 595.98h.01M213.94 575.4h.01M170.87 566.35h.01M177.81 575.71h.01M230.63 573.37h.01M240.99 557.29h.01M209.9 605.25h.01M203.34 613.4h.01M209.21 594.5h.01M182.97 589.72h.01M186.18 617.43h.01M187.36 549.21h.01M207.55 582.47h.01M173.27 551.95h.01M237.79 558.85h.01M221.61 567.33h.01M173.55 562.53h.01M234.14 549.72h.01M199.44 548.16h.01M215.51 569.76h.01M208.95 601.59h.01M186.9 546.62h.01M176.97 550.43h.01M172.21 593.24h.01M172.44 600.71h.01M181.27 626.51h.01M227.57 565.14h.01M172.58 551.02h.01M171.75 556.83h.01M216.03 573.88h.01M227.98 547.02h.01M205.18 589.43h.01M234.79 573.83h.01M230.81 567.15h.01M229.36 563.93h.01M173.01 557.99h.01M204.69 590.35h.01M175.87 587.46h.01M173.27 552.22h.01M208.84 573.52h.01M214.12 546.31h.01M232.59 572.64h.01M214.33 569.72h.01M181.02 578.58h.01M210.09 599.68h.01M234.25 549.01h.01M174.25 612.78h.01M205.25 612.55h.01M175.31 566.38h.01M179.47 580.44h.01M241.56 548.23h.01M181.29 587.89h.01M171.76 563.14h.01M221.48 547.25h.01M240.8 555.17h.01M178.77 551.23h.01M190.94 621.51h.01M235.68 548.11h.01M209.81 603.32h.01M182.57 589.81h.01M214.91 572h.01M204.68 579.07h.01M206.07 580.17h.01M188.4 621.61h.01M241.71 555.48h.01M202.19 617.01h.01M205.12 618.7h.01M177.34 595.04h.01M207.09 578.86h.01M228.6 564.56h.01M206.48 579.61h.01M174.13 596.6h.01M172.03 574.63h.01M222.61 547.98h.01M171.44 564.94h.01M205.13 578.8h.01M237.28 547.2h.01M173.26 548.59h.01M176.7 608.31h.01M171.41 554.59h.01M242.87 554.01h.01M212.85 603.52h.01M204.19 547.86h.01M214.32 572.92h.01M204.2 581.46h.01M175.09 569.01h.01M237.81 553.4h.01M200.09 548.53h.01M171.8 549.09h.01M213.46 603.86h.01M191.52 619.63h.01M229.64 566.28h.01M210.05 543.58h.01M180.5 550.98h.01M221.79 547.28h.01M203.31 614.73h.01M206.28 577.82h.01M240.74 556.81h.01M250.07 549.89h.01M233.87 571.46h.01M203.13 593.78h.01M212.52 577.63h.01M185.5 615.93h.01M208.13 604.81h.01M200.36 545.89h.01M238.97 562.62h.01M211.95 577.35h.01M221.76 568.17h.01M172.48 551.53h.01M180.36 547.33h.01M179.73 590.78h.01M236.09 552.46h.01M212.4 546.77h.01M213.85 572.61h.01M224.43 574.63h.01M174.43 566.07h.01M181.03 550.64h.01M211.73 578.79h.01M176.13 575.29h.01M193.15 549.15h.01M186.79 616.5h.01M200.26 591.24h.01M177.19 611.69h.01M178.7 577.5h.01M206.19 579.56h.01M206.36 577.53h.01M175.73 609.06h.01M205.94 591.04h.01M205.95 577.1h.01M215.28 548.69h.01M174.51 573.22h.01M216.49 578.96h.01M172.4 547.36h.01M171.85 595.38h.01M173.55 619.47h.01M206.58 595.37h.01M200.1 546.77h.01M227.32 546.13h.01M174.66 571.3h.01M174.1 600.01h.01M235.27 561.18h.01M208.82 601.73h.01M216.79 578.44h.01M219.7 545.5h.01M210.65 574.09h.01M190.67 622.16h.01M174.05 600.55h.01M172.99 563.36h.01M181.11 544.7h.01M192.04 619.46h.01M202.76 545.17h.01M219.84 568.65h.01M228.32 548.55h.01M179.55 583.05h.01M182.75 614.87h.01M172.71 566.17h.01M180.19 587.92h.01M209.56 547.09h.01M177.41 596.23h.01M207.46 598.01h.01M180.05 590.8h.01M181.23 548.41h.01M183.2 618.38h.01M203.87 589.88h.01M208.58 608.72h.01M236.95 556.25h.01M212.53 572.54h.01M179.54 582.88h.01M239.41 555.04h.01M211.12 599.25h.01M175.67 612.63h.01M213.63 548.23h.01M207.12 578.35h.01M178.28 589.76h.01M223.12 571.41h.01M172.63 564.16h.01M208.56 585.1h.01M170.44 561.69h.01M188.4 621.45h.01M180.55 621.2h.01M186.9 615.9h.01M224.03 567.22h.01M205.61 586.2h.01M175.7 551.13h.01M239.76 550.02h.01M235.88 544.62h.01M235.24 562.84h.01M193.64 617.04h.01M206.83 577.27h.01M211.98 548.29h.01M207.03 616.42h.01M207.14 604.79h.01M181.37 550.25h.01M177.86 583.53h.01M176.43 575.26h.01M186.23 620.2h.01M213.72 547.35h.01M206.05 592.75h.01M190.36 544.91h.01M223.2 566.84h.01M179.46 587.04h.01M232.46 569.05h.01M205.92 579.21h.01M238.47 555.61h.01M205.79 597.43h.01M205.45 591.88h.01M238.45 555.02h.01M180.31 589.87h.01M204.64 617.47h.01M218.61 571.39h.01M187.06 549.1h.01M191.64 618.23h.01M175.62 568.23h.01M200.33 615.5h.01M180.56 545.52h.01M231.32 564.94h.01M199.35 548.25h.01M177.95 593.42h.01M179.78 587.14h.01M204.82 609.4h.01M207.73 604.89h.01M242.35 554.05h.01M182.63 615.35h.01M199.41 616.85h.01M238.55 552.98h.01M175.45 606.3h.01M173.6 595.89h.01M218.33 546.33h.01M187.8 548.57h.01M190.31 548.23h.01M183.94 548.62h.01M179.01 584.91h.01M172.88 581.09h.01M228.67 548.49h.01M219.18 573.49h.01M213.55 575.46h.01M207.26 605.28h.01M204.5 580.53h.01M202.59 591.49h.01M172.64 555.92h.01M178.47 549.67h.01M175.33 567.05h.01M202.68 621.12h.01M224.43 568.62h.01M220.39 569.76h.01M176.75 573.61h.01M227.48 565.21h.01M212.74 602.89h.01M183.32 616.05h.01M217.96 575.14h.01M178.76 592.08h.01M181.9 614.85h.01M176.28 592.49h.01M205.92 593.27h.01M219.31 569.97h.01M209.79 575.31h.01M214.28 608.35h.01M224.05 572.75h.01M215.04 575.98h.01M213.15 612.66h.01M203.65 586.81h.01M175.3 565.45h.01M174.79 564.87h.01M205.52 588.58h.01M172.12 557.39h.01M216.03 574.16h.01M174.78 568.57h.01M224.33 568h.01M200.57 622.57h.01M219.26 571.71h.01M172.87 565.32h.01M206.47 580.71h.01M173.39 552.48h.01M217.24 595.45h.01M184.97 547.28h.01M216.86 602.23h.01M198.15 547.26h.01M201.65 592.68h.01M184.89 544.87h.01M203.39 545.79h.01M240.85 556.29h.01M214.55 545.92h.01M206.27 544.57h.01M171.37 610.06h.01M187.15 549.39h.01M211.1 571.83h.01M218.24 546.48h.01M218.95 570.77h.01M201.43 544.36h.01M205.45 578.27h.01M189.13 548.85h.01M204.59 618.31h.01M202.92 585.52h.01M235.6 567.88h.01M209.04 575.14h.01M205.97 580.64h.01M233.17 548.93h.01M215.39 601.35h.01M173.28 612.09h.01M179.39 613.38h.01M179.83 614.34h.01M210.6 576.97h.01M212.98 548.14h.01M216.94 569.05h.01M170.33 559.18h.01M173.64 608.5h.01M203.07 580.7h.01M189.58 617.29h.01M171.26 564.01h.01M236.07 544.48h.01M171.5 561.35h.01M230.41 562.66h.01M241.68 552.89h.01M178.45 618.68h.01M189.37 620.72h.01M232 580.74h.01M174.44 601.21h.01M211.87 596.84h.01M192.13 547.13h.01M175.1 609.85h.01M239.68 550.74h.01M181.2 618.53h.01M178.46 546.59h.01M204.03 583.79h.01M192.38 620.43h.01M179.36 580.82h.01M223.08 545.9h.01M184.82 624.57h.01M186.47 618.15h.01M204.69 582.79h.01M182.33 591.11h.01M170.93 602.45h.01M178.64 582.09h.01M219.25 548.42h.01M174.46 593.45h.01M218.31 573.63h.01M195.89 619.66h.01M206.69 599.52h.01M190.57 544.39h.01M209.72 545.81h.01M183.86 544.43h.01M178.57 584.93h.01M211.08 597.05h.01M208.45 606.79h.01M204.63 548.17h.01M206.14 594.36h.01M205.65 614.62h.01M214.7 571.1h.01M222.46 545.85h.01M179.77 614.12h.01M203.17 590.97h.01M232.31 546.79h.01M207.83 578.79h.01M218.29 547.57h.01M200.72 589.86h.01M175.66 575.03h.01M208.27 598.21h.01M185.27 547.87h.01M196.19 547.52h.01M203.66 594.6h.01M233.52 563.09h.01M204.11 587.88h.01M174.87 547.41h.01M227.17 564.92h.01M180.48 582.83h.01M218.06 573.55h.01M180.19 613.08h.01M227.78 569.07h.01M207.52 605.9h.01M176.54 549.28h.01M203.45 615.72h.01M204.45 595.09h.01M180.9 588.41h.01M179.2 576.84h.01M213.9 547.2h.01M237.77 567.14h.01M206.86 614.19h.01M212.96 608.45h.01M176.45 594.93h.01M206.94 605.35h.01M174.79 550.24h.01M201.93 615.59h.01M236.36 554.45h.01M180.52 549.54h.01M178.46 575.15h.01M174.39 557.51h.01M174.91 569.8h.01M202 548.39h.01M172.42 550.55h.01M230.02 549.08h.01M174.99 594.48h.01M172.94 570.51h.01M196.81 548.57h.01M172.81 600.73h.01M172.35 568.93h.01M238.48 555.73h.01M229.38 543.88h.01M176.43 616.55h.01M245.71 549.31h.01M215.34 607.03h.01M213.46 576.89h.01M208.2 609.72h.01M187.07 549h.01M207.28 612.46h.01M184.24 590.51h.01M238.98 549.5h.01M174.32 562.83h.01M215.33 573.85h.01M171.79 559.71h.01M210.46 547.75h.01M173.79 585.71h.01M239.33 552.5h.01M178.49 545.6h.01M236.89 547.99h.01M202.26 618.23h.01M213.7 546.22h.01M172.65 559.41h.01M189.41 619.26h.01M174.51 604.75h.01M206.38 598.96h.01M230.08 571.22h.01M203.08 612.28h.01M179.61 611.7h.01M183.13 619.56h.01M204.63 546.18h.01M235 570.86h.01M205.96 586.67h.01M219.8 545.91h.01M219.38 572.1h.01M191.74 618.04h.01M180.19 615.71h.01M177.85 549.59h.01M173.52 589.94h.01M175.37 601.47h.01M202.17 548.21h.01M224 566.73h.01M171.49 575.82h.01M173.65 591.18h.01M174.41 567.82h.01M221.02 569.53h.01M207.91 612.48h.01M206.21 577.55h.01M211.19 596h.01M202.66 613.19h.01M204.11 593h.01M220.55 604.7h.01M229.22 549h.01M178.59 592.12h.01M173.34 607.46h.01M236.73 548.5h.01M221.56 547.52h.01M173.99 567.32h.01M174.58 598.45h.01M171.94 572.15h.01M220.19 570.64h.01M219.85 548.26h.01M177.23 545h.01M172.83 595.63h.01M186.74 616.81h.01M225.87 565.89h.01M230.5 562.73h.01M178.17 611.78h.01M211.57 596.47h.01M224.98 546.59h.01M207.8 615.27h.01M174.42 613.03h.01M231.94 563.53h.01M207.66 578.79h.01M240.71 552.51h.01M170.87 611h.01M213.16 548.92h.01M226.3 574.47h.01M181.71 545.42h.01M170.73 606.57h.01M177.15 546.29h.01M240.74 552.28h.01M241.11 566.26h.01M245.58 564.17h.01M200.88 614.87h.01M235.79 556.63h.01M177.18 595.12h.01M187.61 620.77h.01M173.62 591.08h.01M209.42 579.3h.01M203.77 611.05h.01M174.3 555.49h.01M233.69 548.48h.01M207.42 598.47h.01M176.64 589.24h.01M228.65 547.71h.01M214.57 573.15h.01M171.4 556.13h.01M206.36 585.06h.01M204.31 624.43h.01M240.51 550.67h.01M177.5 611.34h.01M175.07 567.49h.01M206.16 624.14h.01M220.99 605.11h.01M234.51 559.84h.01M210.42 595.39h.01M180.38 577.24h.01M175.38 605.8h.01M215.64 573.01h.01M185.34 619.7h.01M222.06 574.02h.01M223.18 547.72h.01M173.22 570.83h.01M207.91 601.07h.01M206.4 588.84h.01M229.89 566.09h.01M177.71 575.77h.01M228.96 565.46h.01M175.84 549.97h.01M210.42 597.58h.01M205.89 588.15h.01M178.84 594.69h.01M216.49 569.96h.01M211.95 591.31h.01M201.05 547.43h.01M183.89 615.85h.01M189.45 545.56h.01M173.65 601.29h.01M173.81 572.36h.01M203.51 548.36h.01M174.75 571.12h.01M225.47 569.15h.01M175.8 550.94h.01M178.49 585.01h.01M219.86 548.39h.01M230.95 549.15h.01M207.15 588.01h.01M239.89 554.46h.01M209.52 600.19h.01M219.34 573.32h.01M176.54 552.39h.01M185.35 616.89h.01M175.91 611.83h.01M185.08 549.31h.01M174.07 561.35h.01M174.11 599.7h.01M219.01 548.36h.01M237.52 552.78h.01M234.24 581.45h.01M237.27 565.38h.01M180.51 585.43h.01M222.23 570.1h.01M179.3 581.22h.01M173.22 552h.01M208.71 592.57h.01M207.15 544.3h.01M201.43 617.67h.01M192.66 546.84h.01M237.52 545.4h.01M209.23 608.39h.01M210.26 603.32h.01M211.01 581.79h.01M176.65 550.46h.01M170.7 562.3h.01M214.84 605.82h.01M172.36 603.34h.01M250.27 556.32h.01M194.33 545.21h.01M208.48 584.65h.01M209.9 609.54h.01M196.99 616.68h.01M229.73 548.04h.01M198.4 549.42h.01M233.24 548.56h.01M174.5 562.54h.01M228.97 548.04h.01M208.44 587.52h.01M218.28 568.93h.01M179.38 549.35h.01M199.9 619.09h.01M244.2 556.16h.01M234.99 566.61h.01M174.71 564.76h.01M208.75 606.36h.01M190.79 545.64h.01M234.32 549.35h.01M179.27 587.53h.01M228.41 569.54h.01M236.24 555.44h.01M235.41 560.7h.01M181.21 581.14h.01M235.91 557.25h.01M197.9 590.22h.01M196.7 615.47h.01M222.7 567.1h.01M173.64 552.66h.01M200.89 545.84h.01M235.17 557.62h.01M212.5 544.02h.01M202.67 583.76h.01M228.92 565.49h.01M196.44 547.58h.01M195.39 620.17h.01M185.13 617.94h.01M177.65 611.96h.01M172.44 596.61h.01M170.96 599.6h.01M174.26 547.1h.01M187.96 617.11h.01M234.38 559.3h.01M176.52 596.4h.01M224.63 566.86h.01M228.24 565.99h.01M177.5 594.42h.01M210.28 604.76h.01M175.74 612.28h.01M203.55 613.47h.01M174.49 555.76h.01M207.17 574.99h.01M208.99 575.17h.01M193.52 548.19h.01M209.77 581.18h.01M235.97 557.91h.01M224.1 569.32h.01M207.95 597.23h.01M206.04 580.75h.01M203.3 615.03h.01M219.17 545.32h.01M183.39 614.76h.01M209.85 576.32h.01M174.42 544h.01M204.87 587.9h.01M239.74 554.49h.01M218.96 543.95h.01M183.45 621.6h.01M172.77 600.62h.01M234.5 559.89h.01M208.45 582.17h.01M180.62 615.73h.01M242.31 553.35h.01M210.05 546.26h.01M203.86 544.39h.01M174.06 551.84h.01M212.33 582.12h.01M240.57 550.36h.01M236.51 581.64h.01M239.09 561.6h.01M175.77 574.21h.01M180.36 584.37h.01M206.44 609.53h.01M207.77 601.01h.01M236.36 556.82h.01M234.29 561.17h.01M180.41 592.57h.01M237.07 562.56h.01M201.92 547.08h.01M173.84 554.97h.01M199.58 615.89h.01M214.08 573.77h.01M189.05 547.53h.01M237.34 548.19h.01M229.41 545.85h.01M206.22 610.81h.01M177.72 591.31h.01M173.13 573.54h.01M204.9 611.54h.01M174.45 614.87h.01M249.37 559.06h.01M208.64 548.55h.01M176.54 593.24h.01M235.61 549.7h.01M204.36 580.26h.01M175.01 609.7h.01M176.74 592.84h.01M220.85 569.43h.01M213.71 574.34h.01M173.55 571.15h.01M206.77 600.17h.01M209.91 572.17h.01M235.08 549.88h.01M227.89 564.72h.01M232.44 565.17h.01M173.71 564.6h.01M174.63 584.63h.01M204.76 579.3h.01M203.9 581.76h.01M189.89 549.11h.01M206.8 544.14h.01M171.63 559.28h.01M202.21 613.03h.01M207.41 544.82h.01M221.21 548.69h.01M171.33 549.53h.01M209.21 596.2h.01M194.87 618.17h.01M178.22 587.67h.01M201.95 545.04h.01M224.5 567.23h.01M173.55 560.38h.01M234.46 547.72h.01M204.82 547.93h.01M223.7 567.95h.01M175.47 568.01h.01M189.09 546.62h.01M205.87 574.8h.01M201 616.48h.01M174.26 562.31h.01M215.18 545.26h.01M202.29 549.14h.01M186.29 619.43h.01M204.65 591.36h.01M202.46 592.95h.01M209.77 604.06h.01M230.97 545.56h.01M232.23 545.85h.01M178.88 611.82h.01M227.59 544.72h.01M181.97 546.45h.01M187.04 617.13h.01M200.46 614.63h.01M174.67 602.46h.01M175.09 565.53h.01M208.95 591.5h.01M198.08 618.59h.01M171.12 597.57h.01M239.6 571.86h.01M214.63 571.15h.01M210.67 572.12h.01M209.36 613.27h.01M178.63 591.2h.01M220.93 572.33h.01M203.64 611.06h.01M171.53 573.82h.01M232.71 548.11h.01M206.49 596.62h.01M211.65 572.37h.01M220.27 545.12h.01M176.83 572.01h.01M217.39 568.62h.01M201.45 544.83h.01M177.5 585.22h.01M241.47 548.29h.01M179.38 578.67h.01M179.69 576.14h.01M212.11 572.59h.01M204.2 579.21h.01M179.03 586.06h.01M180.17 548.97h.01M209.48 603.29h.01M171.06 608.31h.01M179.42 575.75h.01M236.56 554.63h.01M207.23 598.44h.01M177.52 612.51h.01M177.05 611.47h.01M216.9 573.28h.01M174.47 552.65h.01M176.83 574.5h.01M240.14 552.9h.01M225.8 589.29h.01M219.93 545.29h.01M173.76 594.68h.01M212.67 571.93h.01M237.55 552.09h.01M186.04 618.13h.01M181.13 582.31h.01M221.5 568.86h.01M192.51 548.09h.01M210.46 601.22h.01M217.91 548.4h.01M203.4 614.92h.01M179.95 589.24h.01M227.38 544.44h.01M207.96 598.28h.01M198.37 546.42h.01M225.01 545.23h.01M178.54 590.57h.01M221.79 548h.01M215.09 546.69h.01M239.51 551.11h.01M206.68 575.88h.01M206.7 600.12h.01M219.59 547.5h.01M207.04 601.36h.01M209.65 601.21h.01M174.06 554.1h.01M180.1 613.52h.01M212.59 595.83h.01M181.29 549.1h.01M206.28 547.23h.01M206.34 597.3h.01M178.24 613.68h.01M237.09 549.15h.01M178.07 612.69h.01M173.03 603.59h.01M201.61 590.22h.01M183.49 589.63h.01M201.84 615.67h.01M170.64 559.1h.01M240.91 549.36h.01M175.48 617.62h.01M221.44 569.46h.01M200.82 589.94h.01M205.23 547.55h.01M208.3 579.08h.01M177.57 610.6h.01M180.38 588.94h.01M190.03 624.02h.01M177.88 577.42h.01M191.65 544.33h.01M202.88 591.18h.01M181.43 615.35h.01M180.87 591.96h.01M205.28 586.38h.01M180.84 613.01h.01M230.41 544.83h.01M230.4 569.01h.01M213.49 596.78h.01M174.61 582.68h.01M184.55 620.07h.01M209.2 574.91h.01M186.92 544.47h.01M227.61 548.93h.01M215.23 548.02h.01M232.27 570.42h.01M175.66 607.77h.01M175.96 573.06h.01M237.98 552.5h.01M175.05 602h.01M204.77 609.16h.01M216.96 547.57h.01M230.97 562.44h.01M173.57 561.06h.01M235.46 549.39h.01M173.9 565.42h.01M182.76 590.9h.01M171.07 551.24h.01M206.22 576.1h.01M191.21 545.68h.01M201.15 590.47h.01M220.59 571.1h.01M224.01 571.19h.01M209.69 548.17h.01M178.95 579.65h.01M201.14 618.29h.01M190.42 547.56h.01M209.03 621.37h.01M182.41 545.87h.01M208.67 619.96h.01M207.59 575.76h.01M173.1 586.29h.01M180.56 591.3h.01M178.18 594.79h.01M207.16 606.1h.01M232.44 565.34h.01M180.87 581.78h.01M176.5 595.09h.01M207.34 602.92h.01M224.6 601.61h.01M195.62 544.49h.01M172.73 616.11h.01M175 601.72h.01M180.2 584.17h.01M227.09 568.05h.01M199.68 615.52h.01M171.63 555.93h.01M229.36 549.31h.01M189.85 617.32h.01M207.06 620.32h.01M179.05 615.15h.01M214.55 607.81h.01M185.2 626.41h.01M214.06 548.04h.01M196.5 615.85h.01M201.02 591.76h.01M214.27 571.1h.01M175.29 615.42h.01M189.46 622.49h.01M203.44 614.31h.01M174.5 571.1h.01M243.22 569.38h.01M206.52 608.73h.01M204.94 610.28h.01M196.61 615.42h.01M197.49 618.31h.01M211.85 604.01h.01M202.96 549.27h.01M177.78 587.44h.01M222.73 568.03h.01M206.86 590.33h.01M182.28 546.65h.01M205.54 610.94h.01M174.54 560.59h.01M179.81 592.74h.01M223.9 570.74h.01M188.54 616.77h.01M175.12 578.77h.01M174.59 560.64h.01M212.58 608.14h.01M199.5 614.4h.01M185.62 617.59h.01M231.15 564.62h.01M184.76 618.56h.01M176.85 574.92h.01M228.25 576.68h.01M177.74 575.07h.01M178.77 622.33h.01M209.35 623.64h.01M203.53 613.92h.01M186.45 616.25h.01M176.38 571.03h.01M175.89 553.66h.01M215.48 569.68h.01M223.07 603.63h.01M209.87 574.81h.01M198.06 621.34h.01M176.27 597.53h.01M177.41 551.71h.01M203.79 592.18h.01M174.18 550.46h.01M223.87 569.65h.01M205.82 548.4h.01M171.82 610.11h.01M214.82 547.36h.01M198.72 546.67h.01M208.02 576.24h.01M200.89 614.92h.01M211.04 584.41h.01M236.79 550.26h.01M207.19 600.46h.01M230.95 566.72h.01M207.64 611.74h.01M233.44 546.64h.01M190.22 549.55h.01M207.45 604.25h.01M204.47 588.09h.01M203.19 611.51h.01M209.8 586.86h.01M186.85 618.23h.01M193.45 544.49h.01M173.92 593.5h.01M194.44 547.54h.01M180.51 580.78h.01M202.56 620.63h.01M175.66 569.37h.01M235.84 545.76h.01M202.58 617.05h.01M210.66 612.77h.01M184.7 547.27h.01M233.02 562.88h.01M231.48 563.16h.01M212.14 576.01h.01M212.7 595.29h.01M236.22 559.77h.01M237.88 552.57h.01M216.11 602.01h.01M197.86 545.75h.01M173.33 577.11h.01M205.06 594.59h.01M238.86 548.53h.01M173.68 556.94h.01M203.76 547.7h.01M174.24 559.8h.01M237.46 558.34h.01M206.98 547.93h.01M218.84 547.29h.01M217.88 568.68h.01M174.23 574.54h.01M178.95 580.97h.01M174.02 606.71h.01M205.35 579.73h.01M207.8 611.89h.01M204.17 546.93h.01M208.76 589.68h.01M213.86 599.4h.01M225.74 545.71h.01M216.66 570.73h.01M238.92 554.11h.01M207.22 546.85h.01M175.58 607.93h.01M233.18 561.03h.01M205.8 591.15h.01M228.3 545.92h.01M179.92 586.29h.01M192.93 617.01h.01M174.26 561.35h.01M237.33 551.73h.01M181.41 544.99h.01M238.16 551.3h.01M175.72 586.59h.01M209.07 575.96h.01M174.04 564.68h.01M186.88 617.68h.01M219.58 545.31h.01M207.67 592.35h.01M216.27 547.48h.01M242.99 563.43h.01M205.39 586.69h.01M193.96 617.81h.01M171.29 592.65h.01M238.52 558.23h.01M215.23 547.85h.01M232.02 563.25h.01M216.99 572.15h.01M206.86 611.53h.01M194.51 618.34h.01M194.08 616.62h.01M176.85 620.09h.01M203.8 593.98h.01M173.79 575.76h.01M176.2 589.51h.01M204.03 580.76h.01M213.27 570.49h.01M236.82 558.34h.01M230.59 573.22h.01M176.96 614.9h.01M194.93 616.61h.01M209.08 574.33h.01M185.57 548.77h.01M200.67 615.19h.01M179.4 588.53h.01M175.77 603.02h.01M172.08 587.46h.01M217.15 568.73h.01M222.36 570.93h.01M192.34 619.15h.01M215.56 547.81h.01M205.41 582.28h.01M199.93 616.78h.01M220.08 575.9h.01M235.1 548.61h.01M174.29 600.35h.01M205 586.85h.01M207.74 595.17h.01M210.84 571.99h.01M199.97 615.05h.01M176.79 552.57h.01M239.86 555.66h.01M204.84 594.59h.01M190.96 546.52h.01M234.67 560.35h.01M232.25 546.17h.01M207.38 594.4h.01M177.67 550.5h.01M236.16 552.46h.01M212.98 593.74h.01M175.9 568.93h.01M179.04 582.17h.01M237.19 556.74h.01M207.09 597.41h.01M230.43 570.93h.01M229.54 563.41h.01M200.69 619.39h.01M215.04 590.73h.01M187.96 622.09h.01M176.71 579.09h.01M171.17 599.69h.01M175.47 595.94h.01M211.67 571.15h.01M203.99 614.45h.01M172.49 604.06h.01M171.04 564.85h.01M226.38 565.48h.01M174.97 612.03h.01M242.36 556.03h.01M174.47 554.09h.01M175.19 599.34h.01M210.08 610.85h.01M170.21 569.17h.01M196.3 616.91h.01M192.17 546.86h.01M198.14 618.07h.01M208.4 584.32h.01M200.77 590.24h.01M171.76 559.79h.01M227.94 544.86h.01M241.58 551.24h.01M184.84 619.12h.01M175.27 551.59h.01M204.99 612.64h.01M215.01 548.58h.01M204.25 616.2h.01M243.04 558.47h.01M177.05 588.11h.01M206.08 591.05h.01M216.52 595.98h.01M189.47 618.12h.01M177.36 572.16h.01M227 567.87h.01M181.03 584.74h.01M242.52 560.37h.01M216 576.49h.01M189.41 545.66h.01M229.84 545.62h.01M225.72 548.01h.01M235.16 557.93h.01M212.26 571.73h.01M235.6 559.65h.01M235.33 551.59h.01M179.94 586.52h.01M172.22 566.06h.01M214.16 572.88h.01M172.48 562.98h.01M242.53 552.58h.01M177.44 546.82h.01M236.72 558.96h.01M214.16 606.14h.01M192.08 616.82h.01M179.8 549.44h.01M175.44 569.64h.01M230.64 562.6h.01M202.98 547h.01M229.54 548.76h.01M204.94 580.15h.01M204.69 584.19h.01M178.17 547.37h.01M173.47 569.73h.01M211.21 570.8h.01M199.54 547.19h.01M202.84 614.26h.01M182.03 549.62h.01M185.99 544.09h.01M197.83 590.02h.01M242.65 561.34h.01M207.09 578.33h.01M190.52 549.41h.01M236.29 545.4h.01M196.86 545.05h.01M228.11 564.39h.01M239.44 556.33h.01M210.91 604.01h.01M222.45 544.69h.01M215.11 547.69h.01M176.38 576.88h.01M176.53 571.02h.01M171.43 561.81h.01M230.66 546.04h.01M179.92 588.37h.01M180.84 581.77h.01M174.73 571.92h.01M190.73 549.22h.01M173.59 571.17h.01M179.18 584.95h.01M235.49 558.32h.01M191.8 547.74h.01M180.59 589.95h.01M206.63 610.39h.01M208.48 593.54h.01M181.21 586.8h.01M209.8 547.22h.01M174.98 567.08h.01M202.99 545.2h.01M207.21 609.79h.01M207.16 578.77h.01M173.38 563.78h.01M203.05 547.61h.01M232.08 547.45h.01M204.31 545.05h.01M179.16 579.73h.01M200.42 616.9h.01M173.19 557.64h.01M189.88 549.37h.01M208.36 602.64h.01M228.86 568.9h.01M212.96 547.63h.01M191.59 617.19h.01M207.47 605.38h.01M175.17 600.82h.01M172.66 572.67h.01M206.02 575.15h.01M179.13 590.26h.01M205.04 608.97h.01M177.81 583.96h.01M216.67 546.47h.01M192.72 618.63h.01M177.53 581.22h.01M209.03 595.58h.01M177.89 550.73h.01M216.25 543.92h.01M207.92 598.94h.01M181.32 580.51h.01M201.39 613.65h.01M178.27 611.58h.01M173.56 572.98h.01M178.53 588.14h.01M179.75 579.49h.01M176.6 593.03h.01M206.83 616.46h.01M204.21 548.92h.01M191.64 621.19h.01M180.64 581.24h.01M195.49 548.92h.01M175.55 606.62h.01M214.14 611.62h.01M176.37 595.39h.01M209.67 581.87h.01M203.69 547.95h.01M203.96 617.01h.01M206.87 596.48h.01M228.09 565.55h.01M214.15 572.77h.01M204.61 595.43h.01M207.17 606.18h.01M216.09 571h.01M172.77 603.12h.01M206.87 577.87h.01M186.85 616.92h.01M208.65 599.25h.01M222.48 570.59h.01M230.18 544.07h.01M176.02 597.16h.01M179.01 575.07h.01M175.4 607.31h.01M175.35 567.61h.01M202.37 621.98h.01M238.63 555.22h.01M222.22 579.86h.01M216.84 579.19h.01M235.3 582.1h.01M234.09 565.18h.01M174.75 606.29h.01M209.1 612.91h.01M219.71 546.79h.01M189.44 549.04h.01M200.94 590.76h.01M183.72 547.27h.01M234.92 558.78h.01M218.96 548.01h.01M218.53 620.82h.01M173.98 554.32h.01M176.67 597.58h.01M207.58 583.49h.01M170.72 555.64h.01M171.16 610.49h.01M203.56 588.67h.01M212 598.52h.01M207.19 587.62h.01M206.99 603.17h.01M186.19 549.94h.01M210.23 606.62h.01M222.88 573.26h.01M197.51 548.65h.01M180.44 581.03h.01M241.09 554.33h.01M217.53 574.22h.01M190.21 624.04h.01M237.19 550.43h.01M230.73 565.4h.01M208.42 597.5h.01M173.63 552.84h.01M217.73 569.07h.01M208.63 595.22h.01M218.88 568.77h.01M175.01 548.46h.01M207.88 606.74h.01M174.78 575.34h.01M206.83 598.13h.01M225.17 569.89h.01M198.8 546.54h.01M217.97 581.75h.01M203.37 590.08h.01M180.52 588.53h.01M177.87 552.03h.01M214.35 545.78h.01M174.22 568.25h.01M242.3 561.2h.01M206.62 544.95h.01M192.32 620.82h.01M206.2 614.55h.01M235.25 550.28h.01M181.81 591.97h.01M214.99 571.12h.01M213.86 570.33h.01M237.64 555.03h.01M175.32 594.17h.01M179.9 588.89h.01M180.51 577.52h.01M226.45 547.45h.01M171.09 605.66h.01M177.21 610.78h.01M185.73 548.8h.01M207.34 610.39h.01M218.96 572.41h.01M182.82 547.78h.01M208.89 575.84h.01M194.13 619.69h.01M186.15 548.23h.01M238.87 565.33h.01M182.57 591.53h.01M212.78 591.91h.01M207.94 602.59h.01M186.13 619.64h.01M218.82 547.45h.01M236.53 560.49h.01M176.18 596.85h.01M184.24 544.88h.01M203.95 579.97h.01M242.1 573.42h.01M203.37 582.68h.01M211.44 606.73h.01M211.45 588.38h.01M208.49 612.04h.01M232.2 567.05h.01M207.27 612.22h.01M202.17 590.15h.01M202.28 549.16h.01M201.75 591.49h.01M190.17 616.31h.01M196.23 549.41h.01M184.14 549.12h.01M207.62 547.91h.01M213.26 544.82h.01M192.28 617.55h.01M236.97 550.7h.01M225 566.4h.01M215.65 604.28h.01M194.58 549.04h.01M214.62 547.93h.01M171.66 607.79h.01M206.76 606.61h.01M221 569.39h.01M206.91 599.48h.01M229.26 568.67h.01M236.6 552.54h.01M196.86 617.45h.01M207.48 611.26h.01M236.52 560.45h.01M207.17 595.96h.01M198.86 616.67h.01M207.16 589.5h.01M203 581.87h.01M231.02 563.81h.01M174.21 602.36h.01M187.71 619.13h.01M172.8 600.89h.01M177.88 575.46h.01M212.4 572.79h.01M206.23 589.75h.01M207.84 609.53h.01M174.92 606.12h.01M212.81 574.11h.01M199.7 547.82h.01M189.14 622.36h.01M183.71 617.85h.01M179.46 574.7h.01M170.58 597.48h.01M205.29 583.48h.01M217.33 583.36h.01M231.34 563.79h.01M204.44 592.37h.01M206.41 581.98h.01M173.11 577.07h.01M242.2 552.84h.01M175 570.92h.01M237.86 557.55h.01M209.88 607.59h.01M242.91 566.11h.01M179.97 583.88h.01M202.86 581.1h.01M173.11 553.07h.01M177.22 548.1h.01M211.08 573.28h.01M225.32 566.84h.01M189.66 549.92h.01M202.95 584.09h.01M177.54 610.55h.01M180.5 577.46h.01M202.65 584.14h.01M174.98 602.78h.01M238.3 545.42h.01M206.13 546.55h.01M204.7 584.48h.01M209.14 605.88h.01M240.82 552.39h.01M174.72 604.28h.01M238.31 572.19h.01M209.04 601.96h.01M210.47 548.74h.01M175.06 552.72h.01M218.83 569.89h.01M207.13 596.1h.01M233.1 544.36h.01M174.52 603.39h.01M171.89 564.35h.01M177.52 614.21h.01M225.62 546.04h.01M218.6 547.9h.01M229.65 548.76h.01M240.38 560.85h.01M214.5 546.96h.01M230.21 566.14h.01M224.09 575.65h.01M176.04 600.39h.01M206.09 543.6h.01M203.05 591.73h.01M223.5 544.2h.01M194.78 619.48h.01M212.04 572.99h.01M207.59 573.62h.01M177.97 585.56h.01M184.4 620.06h.01M248.51 557.58h.01M197.85 549.3h.01M218.41 543.63h.01M175.82 600.15h.01M170.99 561.66h.01M176.51 592.8h.01M204.89 584.74h.01M208.73 607.78h.01M198.27 619.63h.01M209.15 617.67h.01M226.94 569.45h.01M209.35 595.66h.01M212.59 572.09h.01M235.98 576.38h.01M215.48 545h.01M181.6 545.52h.01M229.45 567.34h.01M175.01 554.4h.01M175.39 551.79h.01M170.5 554.8h.01M172.44 559.78h.01M197.16 549.07h.01M196.74 543.51h.01M190.09 544.35h.01M225.31 567.6h.01M172.39 554.44h.01M173.55 578.18h.01M210.08 583.46h.01M174.37 558.11h.01M205.29 583.91h.01M205.87 582.11h.01M187.52 619.66h.01M193.87 549.71h.01M210.69 601.89h.01M235.14 560.88h.01M171.68 557.59h.01M175.43 571.19h.01M185.7 549.49h.01M241.26 568.67h.01M210.04 574.35h.01M232.77 548.4h.01M203.65 578.77h.01M172.55 598.98h.01M201.69 612.66h.01M214.14 606.69h.01M233.58 568.39h.01M174.63 609.59h.01M203.01 582.81h.01M247.94 550.13h.01M172.56 562.53h.01M236.27 556.68h.01M236.92 564.59h.01M210.48 548.33h.01M183.97 618.45h.01M210.81 596.81h.01M218.18 572.37h.01M172.52 548.59h.01M175.42 612.29h.01M208.48 545.13h.01M189.15 620.51h.01M214.07 573.78h.01M182.96 589.74h.01M203.66 593.23h.01M202.65 591.06h.01M197.4 617.45h.01M201.79 591.28h.01M172.11 599.69h.01M171.95 551.78h.01M233.65 581.44h.01M205.55 589.21h.01M234.28 579.86h.01M177.61 551.38h.01M209.02 574.76h.01M219.01 574.07h.01M191.64 622.01h.01M206.55 581.52h.01M210.56 580.71h.01M177.2 550.49h.01M176.32 578.61h.01M181.05 588.81h.01M217.29 577.56h.01M234.71 565.6h.01M186.25 544.11h.01M205.6 576.34h.01M178.67 544.47h.01M181.13 587.88h.01M216.27 548.36h.01M202.19 582.61h.01M222.36 567.98h.01M192.81 549.35h.01M178.93 548.62h.01M202.01 547.98h.01M231.2 544.13h.01M197 548.7h.01M175.27 574.89h.01M242.15 546.42h.01M226.55 546.56h.01M230.09 574.98h.01M234.48 549.63h.01M237.44 553.07h.01M203.34 593.23h.01M238.42 551.97h.01M178.93 590.65h.01M225.34 569.98h.01M180.23 614.37h.01M179.85 612.17h.01M170.41 613.58h.01M176.28 573.07h.01M191.96 619.58h.01M191.68 548.39h.01M211.46 575.81h.01M240.5 556.75h.01M241.5 557.79h.01M209.16 573.43h.01M209.03 544.43h.01M234.38 549.27h.01M174.76 546.59h.01M240.32 558.04h.01M218.16 600.33h.01M225.45 566.3h.01M208.61 573.42h.01M211.06 579.43h.01M208.91 613.96h.01M176.74 550.13h.01M211.55 574.38h.01M179.16 582.29h.01M217.31 546.66h.01M208.43 602.13h.01M209.38 605.44h.01M209.56 548.13h.01M179.81 547.53h.01M202.56 592.57h.01M212.95 546.52h.01M206.42 609.82h.01M204.43 585.32h.01M194.5 616.65h.01M203.73 547.77h.01M202.26 616.68h.01M175.06 565.11h.01M236.11 555.29h.01M191.96 619.07h.01M184.03 619.3h.01M181.17 585.41h.01M200.17 620.1h.01M212.66 595.61h.01M218.59 569.68h.01M203.17 586.52h.01M213.06 571.7h.01M226.58 546.59h.01M179.34 549.95h.01M207.25 544.5h.01M174.38 566.14h.01M173.23 551.82h.01M173.5 569.72h.01M219.16 572.54h.01M174.4 556.24h.01M227.36 546.17h.01M199.63 614.49h.01M179.41 593.7h.01M197.61 615.57h.01M206.26 599.39h.01M207.85 612.62h.01M214.58 578.86h.01M234.85 545.32h.01M176.51 597.19h.01M179.01 548.72h.01M195.93 616.45h.01M190.43 548.41h.01M189.1 618.43h.01M173.17 581.38h.01M182.17 616.7h.01M213.52 574.86h.01M208.54 605.26h.01M227.47 583.83h.01M201.79 590.54h.01M178.11 551.28h.01M203.5 613.07h.01M212.64 578.38h.01M192.91 624.13h.01M203.44 618.9h.01M201.75 589.85h.01M201.65 547.82h.01M214.73 570.43h.01M173.11 597.07h.01M228.09 566.66h.01M224.78 546.54h.01M188.75 549.85h.01M240.32 558.52h.01M205.68 596.17h.01M206.91 582.39h.01M175.95 612.13h.01M236.51 565.82h.01M236.16 545.15h.01M231.13 580.9h.01M174.74 572.67h.01M212.19 614.28h.01M213.97 602.17h.01M233.99 564.92h.01M170.24 604.92h.01M208.58 596.88h.01M226.88 547.01h.01M182.39 548.37h.01M206.46 574.48h.01M203.39 548.27h.01M175.59 551.21h.01M171.95 562.04h.01M220.56 574.89h.01M187.72 619.81h.01M202.27 548.9h.01M174.58 601.69h.01M243.3 560.11h.01M218.4 544.71h.01M172 563.47h.01M172.92 553.49h.01M200.4 620.41h.01M188.59 617.87h.01M234.48 547.75h.01M177.88 611.42h.01M175.4 604.55h.01M176.64 548.94h.01M236.84 547.34h.01M198.58 590.26h.01M182.51 618.88h.01M189.65 618.58h.01M195.36 548.5h.01M226.03 579.33h.01M206.74 605.97h.01M183.03 548.57h.01M194.1 617.37h.01M210.52 606.48h.01M217.67 595.96h.01M225.06 547.91h.01M221.45 568.16h.01M190.47 549.32h.01M197.63 548.28h.01M179.62 617.6h.01M175.39 601.23h.01M213.23 547.66h.01M211.4 545.58h.01M199.38 548.04h.01M193.76 544.28h.01M191.6 547.17h.01M178.24 612.56h.01M177.77 591.16h.01M174.33 561.8h.01M187.92 626.82h.01M202.23 592.95h.01M206.25 589.62h.01M202.2 622.64h.01M174.32 560.91h.01M236.74 561.89h.01M178.37 581.46h.01M194.35 616.6h.01M174.38 596.79h.01M175.1 565.06h.01M224.87 566.66h.01M174.92 599.59h.01M177.23 611.2h.01M209.72 573.42h.01M208.4 599.95h.01M173.39 561.65h.01M228.87 567.18h.01M205.74 579.65h.01M238.3 558.61h.01M170.68 586.94h.01M205.9 547.77h.01M235.99 561.07h.01M225.3 548.58h.01M208.16 577.44h.01M203.13 581.14h.01M183.22 615.82h.01M234.72 550.33h.01M201.36 547.42h.01M178.2 550.48h.01M206.93 610.85h.01M218.63 569.31h.01M172.25 566.25h.01M221.8 571.35h.01M202.92 585.33h.01M178.47 612.65h.01M205.07 614.65h.01M177 595.32h.01M175.78 570.92h.01M170.71 558.72h.01M182.91 615.2h.01M180.46 590.23h.01M208.28 607.41h.01M181.23 549.29h.01M202.98 582.04h.01M171.87 604.76h.01M208.44 583.6h.01M196.45 544.85h.01M235.14 547.57h.01M214.42 547.39h.01M171.01 586.95h.01M200.32 548.95h.01M179.93 578.24h.01M184.6 617.3h.01M231.82 565.04h.01M186.4 548.86h.01M213.62 611.24h.01M193.08 621.94h.01M170.07 552.5h.01M210.67 548.42h.01M172.74 553.08h.01M207.66 598.46h.01M205.89 588.48h.01M204.3 585.25h.01M190.99 549.55h.01M179.29 614.1h.01M207.6 617.43h.01M234.31 549.34h.01M238.78 562.31h.01M208.56 613.24h.01M207.67 573.88h.01M218.84 546.02h.01M232.14 544.46h.01M207.41 600.42h.01M215.07 572.24h.01M209.24 599.07h.01M215.45 616.27h.01M203.27 618.37h.01M178.73 589.64h.01M236.43 556.78h.01M227.23 546.84h.01M208.41 590.34h.01M171.24 555.55h.01M172.6 554.4h.01M202.9 612.12h.01M205.4 589.87h.01M186.27 619.94h.01M181.56 584.75h.01M198.61 615.56h.01M206.4 576.8h.01M180.79 616.7h.01M191.17 620.73h.01M170.07 572.02h.01M202.53 615.13h.01M209.81 582h.01M198.47 619.85h.01M211.79 598.74h.01M210.72 585.84h.01M210.85 600.36h.01M243 553.81h.01M178.46 611.07h.01M205.39 545.62h.01M238.85 547.12h.01M180.53 615.01h.01M210.01 604.03h.01M217.22 574.57h.01M177.13 551.8h.01M175.44 593.67h.01M174.79 554.11h.01M170.12 560.47h.01M178.38 581.41h.01M205.38 616.79h.01M206.09 610.36h.01M178.76 576.18h.01M212.33 601.5h.01M241.88 560.76h.01M175.28 584.69h.01M202.81 612.66h.01M195.32 546.62h.01M225.86 566.87h.01M202.8 584.11h.01M179.03 586.74h.01M208.75 601.49h.01M208.99 600.7h.01M173.53 603.64h.01M173.54 612.63h.01M220.56 574.42h.01M177.97 576.64h.01M201.56 613.2h.01M178 616.16h.01M193.22 621.48h.01M212.31 574.58h.01M215.8 604.94h.01M170.27 599.88h.01M235.73 561.79h.01M188.91 628.13h.01M173.43 560.75h.01M173.26 562.77h.01M195.65 546.47h.01M226.24 567.41h.01M232.77 567.69h.01M203.98 581.77h.01M235.24 566.48h.01M202.01 625.71h.01M183.35 615.26h.01M202.18 590.33h.01M226.26 571.87h.01M207.33 575.12h.01M196.01 547.04h.01M201.51 546.65h.01M208.9 575.09h.01M173.16 567.26h.01M242.43 563.84h.01M172.21 565.27h.01M208.2 573.1h.01M218.89 546.21h.01M180.76 581.44h.01M236.6 568.52h.01M197.05 545.92h.01M177.41 611.61h.01M233.52 562.76h.01M174.88 596.37h.01M205.52 611.33h.01M177.87 610.68h.01M205.54 592.42h.01M173.8 554.4h.01M246.51 545.96h.01M173.23 559.81h.01M204.62 589.22h.01M176.99 551.25h.01M206.89 548.16h.01M224.03 548.43h.01M176.77 620.07h.01M202.1 621.69h.01M210.96 603.6h.01M171.87 564.59h.01M236.58 556.11h.01M203.82 582.76h.01M170.54 561.47h.01M232.22 549.25h.01M214.28 593.22h.01M201.3 546.38h.01M222.86 567.83h.01M220.07 547.12h.01M170.28 576.68h.01M170.01 559.8h.01M210.68 547.22h.01M220.83 567.36h.01M202.33 614.32h.01M228.46 568.37h.01M176.65 581.18h.01M204.62 580.28h.01M205.95 574.85h.01M237.33 557.43h.01M199.96 547.93h.01M200.91 547.16h.01M192.81 549.01h.01M206.18 590.36h.01M233.79 549.06h.01M223.4 566.67h.01M208.02 595.1h.01M195.27 619.61h.01M221.19 546.98h.01M202.28 591.1h.01M224.81 547.59h.01M216.58 569.27h.01M209.32 598.25h.01M209.52 578.93h.01M221.02 548.51h.01M180.31 579.24h.01M178 573.22h.01M172.57 559.4h.01M173.27 560.58h.01M233.11 561.45h.01M237.69 550.24h.01M177.65 589.54h.01M205.59 579.8h.01M206.31 620.72h.01M204.91 615.66h.01M180.54 584.25h.01M176.62 570.86h.01M180.73 580.23h.01M181.33 590.69h.01M219.69 548.16h.01M180.97 585.94h.01M208.12 588.26h.01M201.6 591.7h.01M206.08 584h.01M203.24 585.05h.01M201.38 545.15h.01M177.37 593.75h.01M212.67 603.32h.01M191.03 620.64h.01M186.88 547.66h.01M228.55 548.23h.01M175.42 596.07h.01M190.87 616.53h.01M182.86 546.02h.01M204.68 578h.01M208.3 601.97h.01M202.33 581.79h.01M179.38 549.65h.01M192.7 618.97h.01M237.08 554.75h.01M207.14 574.71h.01M222.26 548.34h.01M191.39 548.04h.01M203.98 613.94h.01M213.07 545.48h.01M180.97 549.84h.01M200.85 548.5h.01M186.04 619.12h.01M218.8 569.02h.01M175.92 568.71h.01M233.65 549.91h.01M211.97 544.52h.01M177.47 613.75h.01M189.6 624.7h.01M235.2 562.48h.01M204.55 614.57h.01M205.56 584.01h.01M209.42 614.37h.01M180.71 612.77h.01M175.4 552.77h.01M227.07 545.89h.01M235.4 548.51h.01M177.95 589.11h.01M175.04 605.89h.01M176.93 551.43h.01M179.81 574.21h.01M170.12 578.21h.01M173.15 563.79h.01M221.63 546.45h.01M211.93 592.35h.01M232.37 564.73h.01M174.62 562.99h.01M171.71 561.09h.01M183.14 618.33h.01M191.44 549.2h.01M176.06 593.69h.01M171.58 560.23h.01M181.53 581.97h.01M170.22 598.79h.01M233.68 562.54h.01M174.28 603.46h.01M233.04 562.41h.01M180.68 613.23h.01M212.19 572.36h.01M213.8 607.6h.01M173.58 558.71h.01M201.49 614.54h.01M181.18 619.12h.01M180.02 590.91h.01M238.62 555.7h.01M175.47 569.92h.01M211.53 570.62h.01M177.63 612.97h.01M232.64 549.82h.01M211.45 573.19h.01M225.6 565.93h.01M198.18 615.4h.01M188.98 547.77h.01M174.92 572.58h.01M182.16 543.95h.01M172.59 611.07h.01M177.62 610.72h.01M174.36 602.01h.01M216.46 575.05h.01M174.19 600.71h.01M173.28 562.7h.01M216.4 569.3h.01M173.97 613.27h.01M208 546.61h.01M232.4 549.51h.01M197.44 617.18h.01M180.45 548.78h.01M177.76 576.44h.01M203.84 591.13h.01M229.64 544.17h.01M208.67 602.97h.01M219.43 570.73h.01M208.95 607.09h.01M206.77 604.1h.01M173.99 553.22h.01M186.3 617.5h.01M174.99 566.24h.01M175.29 565.19h.01M206.44 580.24h.01M185.45 615.91h.01M205.23 610.37h.01M200.8 591.33h.01M178.26 575.63h.01M191.26 548.09h.01M208.32 610.23h.01M208.33 599.85h.01M196.92 546.99h.01M210.64 571.23h.01M216.31 545.5h.01M173.7 553.37h.01M195.41 619.44h.01M175.61 584.62h.01M204.66 595.97h.01M208.32 583.61h.01M212.99 580.77h.01M172.23 558.64h.01M236.46 556.76h.01M213.7 587.78h.01M174.82 569.31h.01M226.19 569.86h.01M210.49 605.87h.01M194.31 617.44h.01M220.54 568.04h.01M182.5 614.18h.01M170.87 596.4h.01M207.81 597.63h.01M179.73 591.35h.01M197.04 620.37h.01M205.35 544.35h.01M204.04 581.3h.01M222.76 567.18h.01M237.83 551.2h.01M217.33 571.7h.01M241.75 554.95h.01M192.97 546.16h.01M175.91 574.19h.01M182.97 590.36h.01M181.11 544.24h.01M184.19 617.79h.01M205.86 580.43h.01M241.31 552.69h.01M208.09 577.98h.01M196.22 617.67h.01M205.41 585.06h.01M184.01 615.92h.01M172.04 619.67h.01M234.43 546.56h.01M181.58 590.87h.01M232.74 562.24h.01M174.67 597.68h.01M211.5 598.53h.01M216.5 576.97h.01M192.19 547.42h.01M205.72 578.7h.01M209.65 601.27h.01M215.83 544.56h.01M173.82 559.97h.01M207.15 575.75h.01M204.51 583.11h.01M172.5 562.51h.01M171.43 558.43h.01M184.39 615.77h.01M174 545.04h.01M194.47 548.74h.01M234.73 558.16h.01M178.33 589.84h.01M213.71 547.23h.01M211.52 602.02h.01M189.48 625.64h.01M225.17 545.53h.01M238.32 558.89h.01M204.91 618.98h.01M207.72 610.63h.01M174.71 595.57h.01M225.99 547.19h.01M210.36 602.28h.01M182.97 621.56h.01M202.62 581.47h.01M174.3 611.11h.01M215.03 545.45h.01M172.82 560.24h.01M223.01 547.28h.01M191.49 548.92h.01M228.5 547.61h.01M201.54 546.95h.01M175.22 567.29h.01M176.79 572.26h.01M218.8 548.64h.01M175.57 570.06h.01M227.49 571.52h.01M214.18 547.6h.01M207.97 615.45h.01M174.08 610.23h.01M207.57 601.18h.01M203.27 580.76h.01M198.24 616.12h.01M206.14 581.74h.01M197.71 616.81h.01M171.42 602.08h.01M212.99 571.67h.01M175.13 607.22h.01M184.19 549.27h.01M185.02 616.86h.01M227.45 569.1h.01M203.98 546.85h.01M206.11 548.59h.01M218.32 572.44h.01M185.23 617.24h.01M243.36 545.68h.01M170.92 604.73h.01M192.47 548.56h.01M207.78 615.71h.01M171.75 567.83h.01M195.09 619.91h.01M233.87 563.25h.01M220.26 548.73h.01M172.92 568.97h.01M218.09 604.47h.01M191.72 549.23h.01M173.32 598.5h.01M234.13 547.42h.01M205.96 607.02h.01M225.93 568h.01M176.46 598.32h.01M180.92 590.77h.01M205.84 593.45h.01M178.96 574.87h.01M172.38 605.95h.01M208.87 575.31h.01M208.07 600.25h.01M219.87 572.04h.01M180.1 613.39h.01M172.46 564.57h.01M192.94 548.41h.01M174.96 568.24h.01M174.69 590.85h.01M194.4 625.28h.01M189.27 547.13h.01M189.82 617.19h.01M229.26 576.18h.01M216.89 571.36h.01M178.93 617.64h.01M173.97 569.22h.01M204.21 613.58h.01M193.47 617.38h.01M185.49 616.39h.01M174.65 571.97h.01M204.28 583.11h.01M211.14 574.68h.01M187.73 619.54h.01M171.55 563.14h.01M223.29 575.02h.01M188.41 548.06h.01M174.73 599.25h.01M240.66 559.82h.01M202.85 615.65h.01M237.2 556.57h.01M218.46 570.53h.01M211.41 588.68h.01M183.75 615.39h.01M221.93 568.92h.01M186.41 618.95h.01M179.09 548.1h.01M186.98 618.61h.01M207.58 598.66h.01M198.05 620.7h.01M224.08 570.73h.01M199.66 547.21h.01M178.28 550.57h.01M239.83 559.35h.01M172.68 603.69h.01M187.64 616.76h.01M204.75 546.32h.01M202.67 582.45h.01M227.09 546.22h.01M202.41 582.53h.01M233.41 561.06h.01M216.98 548.26h.01M209.54 583.68h.01M204.63 581.15h.01M200.71 616.5h.01M218.96 572.26h.01M232.21 568.67h.01M217.86 569.51h.01M209.03 600.37h.01M241.33 563.78h.01M202.89 581.58h.01M175.64 609.73h.01M188.74 616.42h.01M208.35 589.25h.01M198.27 614.99h.01M197.81 548.26h.01M236.44 551.33h.01M209.56 578.96h.01M178.74 586.92h.01M208.39 609.43h.01M188.98 549.13h.01M173.1 575.43h.01M206.77 595.82h.01M190.37 545.44h.01M199.45 590.5h.01M172.39 558.75h.01M210.2 544.91h.01M172.05 567.57h.01M190.2 546.94h.01M205.6 588.69h.01M207.17 578.63h.01M203.77 584.83h.01M183.22 550.43h.01M184.5 549.97h.01M180.5 579.86h.01M186.95 617.17h.01M220.99 573.94h.01M211.74 604.29h.01M212.29 594.55h.01M206.29 596.51h.01M174 573.75h.01M172.28 599.5h.01M237.54 553.99h.01M228.52 545.49h.01M205.96 618.57h.01M219.27 569.98h.01M180.73 582.96h.01M207.68 601.69h.01M195.05 549.26h.01M203.24 546.9h.01M178.46 589.21h.01M173.52 591.72h.01M172.65 562.37h.01M220.33 547.15h.01M234.5 562.65h.01M207.1 584.22h.01M175.22 566.44h.01M238.82 559h.01M174.97 609.38h.01M180.93 549.42h.01M177.51 575.23h.01M235.11 551.19h.01M176.54 608.79h.01M172.04 587.91h.01M180.93 550.52h.01M178.54 585.83h.01M206.8 575.15h.01M237.04 561.57h.01M203.69 611.47h.01M235.94 556.17h.01M206.69 601h.01M203.76 581.41h.01M220.52 546.57h.01M222.8 569.47h.01M174.03 571.12h.01M207.44 586.92h.01M214.87 600.86h.01M198.5 617.77h.01M177.89 592.95h.01M178.79 587.05h.01M195.22 622.03h.01M173.59 602.3h.01M193.13 547.64h.01M172.77 562.98h.01M174.28 552.29h.01M220.89 576.67h.01M238.54 547.87h.01M205.5 596.06h.01M174.72 555.53h.01M194.24 616.91h.01M208.04 581.43h.01M226.44 545.87h.01M212.57 548.45h.01M172.36 599.14h.01M238.97 558.1h.01M227.64 546.03h.01M205.15 581.49h.01M202.2 590.11h.01M180.63 548.25h.01M228.29 567.5h.01M210 545.13h.01M209.43 617.5h.01M193.59 620.63h.01M182.11 616.66h.01M214.9 571.43h.01M204.38 623.38h.01M208 613.34h.01M200.78 620.06h.01M205.51 547.77h.01M220.91 570.64h.01M179.93 574.37h.01M194.97 618.04h.01M176.5 551.08h.01M235.92 559.97h.01M205.37 582.07h.01M173.08 561.39h.01M179.23 584.74h.01M205.18 593.79h.01M186.2 544.82h.01M182.53 618.02h.01M205.62 595.01h.01M186.22 545.32h.01M203.56 611.87h.01M214.72 578.48h.01M171.95 556.23h.01M179.98 590.71h.01M203.58 579.49h.01M200.89 589.71h.01M205.31 547.28h.01M203.06 592.59h.01M236.21 560.86h.01M176.19 599.73h.01M201.95 548.83h.01M171.16 561.3h.01M176.47 573.82h.01M199.53 616.89h.01M233.82 548.61h.01M221.69 548.82h.01M196.85 545.22h.01M239.13 554.01h.01M217.79 568.88h.01M236.88 560.74h.01M237.87 548.63h.01M172.13 595.36h.01M195.83 619.55h.01M215.27 543.57h.01M202.45 615.35h.01M208.82 597.55h.01M235.91 558.76h.01M238 552.82h.01M215.59 544.74h.01M202.49 592.54h.01M215.16 548.73h.01M229.63 565.11h.01M203.28 585.35h.01M200.91 614.39h.01M213.83 578.81h.01M207.76 597.64h.01M247.53 550.7h.01M179.24 584.51h.01M220.19 582.38h.01M201.27 546.1h.01M212.07 602.17h.01M197.69 544.55h.01M180.43 545.3h.01M200.69 619.32h.01M203.93 586.38h.01M201.8 615.24h.01M210.44 585.25h.01M226.17 543.74h.01M207.56 617.51h.01M209.1 599.31h.01M212.37 599.06h.01M178.36 586.15h.01M207.67 600.76h.01M209.94 574.63h.01M202.83 584.93h.01M174.88 609.42h.01M199.09 618.23h.01M179.87 581.33h.01M238.21 565.47h.01M203.28 584.2h.01M206.84 545.68h.01M204.56 546h.01M191.02 621.22h.01M199.94 613.89h.01M178.72 578.07h.01M205.51 547.97h.01M193.96 543.8h.01M201.35 544.39h.01M180.42 591.18h.01M217.25 574.25h.01M214.56 545.95h.01M170.84 560.48h.01M206.29 596.75h.01M237.03 572.57h.01M206.92 588.47h.01M219.7 544.88h.01M185.24 549.4h.01M177.52 592.68h.01M212.9 546.83h.01M175.78 552.99h.01M203.73 547.58h.01M202.24 547.82h.01M181.87 589.82h.01M190.71 621.34h.01M179.74 588.87h.01M210.2 600.61h.01M221.1 546.91h.01M186.76 619.27h.01M232.48 562.04h.01M235.14 562.17h.01M226.71 565.94h.01M206.33 548.81h.01M198.75 620.43h.01M176.56 550.55h.01M238.19 556.71h.01M179.75 550.56h.01M213.6 599.44h.01M230.58 547.09h.01M195.21 547.56h.01M206.18 612.71h.01M205.99 612.29h.01M228.33 566.76h.01M173.73 559.86h.01M211.68 543.86h.01M180.13 591.58h.01M195.19 619.76h.01M174.77 608.32h.01M182.47 544.66h.01M185.3 547.55h.01M229.89 564.02h.01M180.7 583.82h.01M238.64 554.65h.01M215.09 606.56h.01M235.22 550.83h.01M170.41 601.24h.01M207.71 613.54h.01M174.52 555.92h.01M173.62 568.31h.01M238.67 559.17h.01M201.94 618.4h.01M237.27 544.11h.01M176.53 574.89h.01M193.15 617.93h.01M174.01 604.93h.01M202.79 614.34h.01M223.14 569.04h.01M207.68 603.59h.01M198.6 618.64h.01M222.68 545.6h.01M242.43 553.61h.01M189.7 618.8h.01M215.42 570.79h.01M219.27 567.95h.01M183.97 546.24h.01M210.49 572.43h.01M172.38 596.26h.01M191.42 621.66h.01M172 550.83h.01M228.49 564.46h.01M218.4 544.22h.01M177.77 543.62h.01M203.88 592.91h.01M186.91 548.05h.01M177.45 584.3h.01M200.17 547.72h.01M213.22 570.4h.01M204.97 596.34h.01M201.5 619.91h.01M175.46 554.15h.01M236.99 548.05h.01M174.64 604.51h.01M229.28 549.25h.01M221.23 568.16h.01M219.91 570.51h.01M176.9 596.8h.01M245.12 567.4h.01M219.46 573.37h.01M222.85 568.79h.01M195.69 544.47h.01M201.84 549.24h.01M210.2 611.6h.01M204.98 589.56h.01M208.64 578.06h.01M233.41 559.68h.01M172.88 610.15h.01M208.5 544.97h.01M178.31 579.91h.01M170.09 564.35h.01M223.89 548.53h.01M228.91 548.86h.01M214.77 545.87h.01M172.54 562.59h.01M203.92 579.41h.01M173.96 563.39h.01M173.92 591.4h.01M176.42 598.75h.01M179.94 614.11h.01M178.67 586.77h.01M178.4 594.95h.01M207.68 584.94h.01M182.93 591.26h.01M209.98 546.94h.01M181.49 550.71h.01M178.3 611.66h.01M176.34 572.02h.01M225.14 568.45h.01M206.91 582.69h.01M186.62 615.85h.01M205.67 585.5h.01M172.83 554.1h.01M209.85 602.86h.01M180.95 586.53h.01M222.74 569h.01M176.2 598.21h.01M234.6 547.29h.01M181.66 618.1h.01M225.53 568.82h.01M171.89 603.02h.01M205.08 547.78h.01M210.45 574.26h.01M229.07 547.75h.01M193.21 548.63h.01M219.05 610.5h.01M175.23 593.75h.01M231.79 570.45h.01M195.4 546.95h.01M180.11 588.28h.01M204.14 548.95h.01M191.09 618.27h.01M211.71 595.59h.01M238.35 549.18h.01M213.98 587.26h.01M175.7 608.99h.01M208.01 545.01h.01M241.52 546.2h.01M209.22 581.4h.01M236.13 550.33h.01M179.22 582.45h.01M193.86 618.69h.01M209.81 582.27h.01M170.47 593.12h.01M208.52 581.96h.01M222.38 567.21h.01M206.12 592.4h.01M235.81 551.98h.01M174.46 568.79h.01M206.37 596.19h.01M184.44 589.78h.01M226.87 569.14h.01M222.41 568.96h.01M180.33 586.7h.01M238.2 557.35h.01M210.24 577.84h.01M238.83 567.78h.01M181.05 550.89h.01M178.36 576.4h.01M237.15 567.41h.01M237.82 546.97h.01M177.33 576.03h.01M229.08 565.25h.01M208.23 580.72h.01M178.46 595.2h.01M214.25 548.92h.01M173.28 557.89h.01M195.2 549.02h.01M173.28 595.01h.01M238.23 552.39h.01M175.91 607.75h.01M174.32 607.04h.01M241.65 545.2h.01M196.01 616.22h.01M207.74 617.92h.01M232.84 566.54h.01M172.97 560.03h.01M182.55 619.77h.01M202.29 548.32h.01M205.54 544.76h.01M178.66 610.81h.01M209.36 575.25h.01M236.03 556.36h.01M220.3 548.09h.01M203.1 615.05h.01M195.53 548.87h.01M190.56 547.94h.01M172.2 608.24h.01M190.38 548.46h.01M202.04 615.59h.01M239.73 554.37h.01M237.65 553.78h.01M242.47 562.45h.01M203.18 587.09h.01M238.96 554.21h.01M177.42 575.18h.01M208.66 604.79h.01M208.91 544.58h.01M240.64 551.62h.01M179.15 593.48h.01M204.25 580.64h.01M191.26 549.58h.01M175.05 598.52h.01M209.7 599.91h.01M214.05 570.83h.01M229.03 564.76h.01M190.27 545.62h.01M200.99 615.58h.01M177.88 611.63h.01M234.92 548.11h.01M178.88 589.47h.01M206.78 609.51h.01M207.68 577.21h.01M172.72 557.42h.01M238.28 556.76h.01M212.18 547.18h.01M202.19 614.37h.01M198.2 545.18h.01M174.21 600.75h.01M213.3 546.97h.01M208.52 610.17h.01M207.61 584.28h.01M199.7 590.74h.01M192.79 547.52h.01M206.19 588.3h.01M193.99 617.95h.01M172.48 558.65h.01M184.93 547.33h.01M205.17 612.44h.01M220.92 568.8h.01M243.11 562.73h.01M237.59 549.79h.01M203.88 594h.01M173.74 590.5h.01M178.09 595.57h.01M233.71 568.95h.01M233.42 547.35h.01M202.85 592.44h.01M223.25 544.29h.01M215.2 569.96h.01M205.61 546.39h.01M204.19 584.56h.01M196.13 616.63h.01M175.8 598.1h.01M233.71 562.83h.01M240.86 548.73h.01M217.45 591.83h.01M184.28 616.3h.01M220.22 548.04h.01M205.91 548.87h.01M204.48 583.85h.01M214.47 594.79h.01M174.5 546.08h.01M216.15 588.25h.01M204.9 588.37h.01M231.91 568.37h.01M209.83 603.27h.01M193.96 619.37h.01M179.34 616.15h.01M206.26 574.31h.01M176.09 611.52h.01M204.05 621.63h.01M174.86 603.34h.01M181.3 587.22h.01M232.53 567.24h.01M209.3 603.83h.01M177.39 595.58h.01M205.67 576.11h.01M208.59 611.13h.01M196.94 618.8h.01M211.16 546.65h.01M172.1 551.23h.01M230.96 546.19h.01M209.48 591.73h.01M195.53 544.33h.01M232.74 567.59h.01M176.25 597.6h.01M178.48 615.32h.01M210.2 571.63h.01M185.66 547.99h.01M172.23 565.63h.01M207.57 574.29h.01M232.86 562.62h.01M215.22 546.95h.01M208.23 601.36h.01M225.91 544.71h.01M242.96 559.55h.01M174.45 572.03h.01M189.52 548.84h.01M205.8 625.03h.01M201.14 548.63h.01M174.66 598.44h.01M174.66 602.01h.01M203.84 585.28h.01M180.09 545.09h.01M237.46 567.31h.01M210.29 617.66h.01M216.99 576.73h.01M235.6 570.2h.01M171.33 576.17h.01M221.38 547.61h.01M190.33 547.31h.01M174.38 567.04h.01M229.54 573.58h.01M204.5 595.96h.01M231.28 567.45h.01M189.96 545.57h.01M185.31 620.97h.01M205.82 596.01h.01M191.13 547.14h.01M218.74 573.89h.01M175.48 551.53h.01M173.66 557.99h.01M194.72 544.71h.01M175.8 606.28h.01M192.8 616.53h.01M211.6 570.8h.01M238.17 546.57h.01M211.39 601.34h.01M184.34 547.62h.01M240.13 562.47h.01M214.77 571.38h.01M215.75 547.8h.01M212.16 612.1h.01M236.5 555.43h.01M183.79 615.8h.01M233.52 560.21h.01M191.86 619.3h.01M183.52 547.83h.01M174.08 552.33h.01M249.27 569.88h.01M194.05 545.57h.01M238.71 562.32h.01M233.91 569.29h.01M215.91 547.1h.01M232.4 545.52h.01M196.41 621.86h.01M191.71 548.45h.01M241.58 550.67h.01M213.27 570.59h.01M182.56 625.05h.01M173.07 568.38h.01M209.08 575.11h.01M204.66 593.67h.01M204.37 546.45h.01M228.95 543.85h.01M208.29 587.5h.01M191.25 546.55h.01M227.33 544.3h.01M181.81 548.72h.01M227.88 568.94h.01M206.22 548.7h.01M177.13 610.44h.01M173.5 607.29h.01M178.72 550.32h.01M182.57 614.01h.01M211.07 584.38h.01M226.05 545.94h.01M221.83 574.68h.01M223.31 547.22h.01M199.25 548.53h.01M199.04 546.6h.01M199.26 548.74h.01M204.42 610.17h.01M206.26 589h.01M236.8 553.74h.01M240.08 559.53h.01M223.52 548.16h.01M212.03 545.11h.01M179.78 576.24h.01M174.66 610.57h.01M214.33 576.37h.01M176.08 608.02h.01M177.03 594.53h.01M174.58 556.01h.01M236.55 551.48h.01M174.36 571.88h.01M177.96 544.51h.01M179.19 548.94h.01M221.81 567.82h.01M215.22 580.41h.01M176.81 613.58h.01M180.41 582.87h.01M204.22 590.26h.01M179.31 589.02h.01M202.96 585.89h.01M184.27 618.6h.01M174.24 603.26h.01M224.22 570.87h.01M208.8 603.8h.01M208.69 613.66h.01M178.18 586.73h.01M237.69 558.67h.01M234.33 549.79h.01M227.59 546.98h.01M208.78 586.98h.01M202.45 590.37h.01M203.24 614.09h.01M230.95 545.82h.01M201.85 617.23h.01M202.87 612.5h.01M177.03 574.08h.01M209.16 602.3h.01M210.48 571.42h.01M210.67 547.32h.01M174.39 572.46h.01M170.12 605.49h.01M228.6 544.94h.01M229.98 563.21h.01M217.04 548.6h.01M181.01 587.01h.01M205.89 596.96h.01M195.38 616.9h.01M206.94 584.47h.01M183.9 545.93h.01M192.26 549.26h.01M217.79 543.52h.01M189.64 617.88h.01M170.98 568.1h.01M174.74 572.02h.01M211.86 609.08h.01M184.82 546.04h.01M201.1 592.37h.01M177.59 588.28h.01M215.86 594.53h.01M206.7 588.37h.01M172.8 617.88h.01M207.2 592.87h.01M176.89 612.22h.01M204.05 592.8h.01M198.27 617.58h.01M211.39 573.96h.01M179.89 587.18h.01M228.53 547.64h.01M214.42 544.91h.01M186.18 616.67h.01M223.39 569.71h.01M230.38 549.27h.01M208.2 608.96h.01M215.04 547.2h.01M235.5 560.46h.01M171.87 595.3h.01M225.76 586.05h.01M208.43 605.09h.01M228.2 607.24h.01M206.75 616.28h.01M204.1 583.4h.01M212.68 590.57h.01M205.59 609.22h.01M217.1 587.73h.01M222.52 598.84h.01M220.37 582.8h.01M209.63 607.29h.01M214.25 621.84h.01M218.68 577.55h.01M214.93 596.42h.01M218.58 599.94h.01M220.42 582.92h.01M226.39 580.26h.01M218.59 590.52h.01M215.68 601.64h.01M217.5 602.62h.01M216.13 595.95h.01M227.3 598.08h.01M219.67 582.07h.01M215.29 596.35h.01M219.94 608.31h.01M214.78 577.56h.01M209.13 577.99h.01M226.03 597.15h.01M218.04 592.48h.01M217.33 614.56h.01M221.68 585.12h.01M217.04 589.04h.01M207.53 603.61h.01M211.91 571.64h.01M232.5 581.24h.01M217.42 588.41h.01M226.83 591.94h.01M212.93 594.98h.01M214.97 609.22h.01M210.19 597.84h.01M218.59 596.86h.01M217.93 575.73h.01M213.52 583.92h.01M233.65 604.58h.01M219.1 580.49h.01M219.13 599.14h.01M209.39 593.4h.01M211.63 606.1h.01M211.4 584.09h.01M217.29 609.21h.01M215.62 591.09h.01M233.82 602.29h.01M224.92 584.01h.01M207.93 584.07h.01M207.95 595.86h.01M211.72 619.73h.01M212.43 578.9h.01M210.33 612.56h.01M212.92 586.16h.01M214.82 581.57h.01M214.13 598.94h.01M225.28 581.35h.01M206.29 584.34h.01M203.6 587.71h.01M225.7 598.42h.01M217.5 577.06h.01M205.03 587.55h.01M205.99 547.01h.01M210.99 584.18h.01M217.65 591.84h.01M214.81 611.91h.01M214.63 592.5h.01M214.66 575.81h.01M224.13 593.82h.01M213.19 601.46h.01M213.91 582.77h.01M213.97 582.9h.01M213.59 591.16h.01M206.61 579.35h.01M206.99 574.4h.01M217.75 571.7h.01M215.31 594.08h.01M213.62 569.78h.01M212.6 618.41h.01M210.34 603.29h.01M221.6 581.36h.01M216.96 601.31h.01M210.85 584.68h.01M214.73 601.67h.01M204.8 590.74h.01M221.04 579.61h.01M227.6 586.22h.01M214 604.18h.01M217.38 601.64h.01M207.52 598.97h.01M209.51 579.37h.01M218.16 584.53h.01M218.39 582.5h.01M224.58 575.73h.01M221.18 606.76h.01M223.14 597.71h.01M212.19 593.98h.01M207.66 594.23h.01M205.47 581.86h.01M223.38 584.27h.01M212.4 583.16h.01M219 586.73h.01M216.24 569.27h.01M214.71 591.14h.01M215.28 595.68h.01M218.94 595.49h.01M226.04 580.93h.01M220.82 578.07h.01M231.07 607.86h.01M209.33 575.59h.01M217.78 590.45h.01M232.52 586.18h.01M216.19 594.97h.01M213.49 595.48h.01M221.03 591.56h.01M202.26 618.12h.01M218.94 568.72h.01M212.06 597.47h.01M215.27 602.68h.01M220.66 581.81h.01M222.23 578.66h.01M217.97 592.22h.01M213.38 594.92h.01M216.64 622.23h.01M213.99 605.34h.01M222.92 608.72h.01M217.23 592.46h.01M210.99 609.61h.01M220.32 595.67h.01M223.67 582.88h.01M216.79 601.42h.01M218.18 570.96h.01M213.04 598.4h.01M209.61 587.06h.01M213.91 583.99h.01M215.47 594.91h.01M219.9 598.79h.01M216.65 588.6h.01M213.82 588.06h.01M215.05 592.95h.01M223.16 575.22h.01M218.53 588.49h.01M206.37 579.14h.01M234.5 602.41h.01M200.06 618.19h.01M222.59 591h.01M215.99 611.08h.01M231.75 578.68h.01M229.38 568.29h.01M209.88 603.38h.01M214.71 586.7h.01M209.9 591.37h.01M211.5 600.12h.01M209.64 596h.01M205.77 596.88h.01M205 593.75h.01M225.3 565.94h.01M208.13 584.94h.01M219.48 576.66h.01M209.51 591.31h.01M208.46 589.73h.01M213.18 596.97h.01M216.17 582.8h.01M216.99 580.14h.01M211.16 602.19h.01M213.23 588.65h.01M208.26 607.22h.01M204.59 594.79h.01M206.53 594.17h.01M212.58 587.07h.01M210.36 583.32h.01M221.42 606.52h.01M219.5 605.05h.01M217.6 593.8h.01M211.97 572.57h.01M206.07 575.72h.01M236.24 590.45h.01M202.87 580.55h.01M208.64 578.61h.01M212.43 576.51h.01M218.45 598.98h.01M204.17 590.18h.01M208.44 588.46h.01M222.73 577.14h.01M242 614.27h.01M219.23 599.26h.01M209.98 581.96h.01M213.25 586.86h.01M216.7 596.92h.01M223.48 586.73h.01M214.32 608.03h.01M209.75 581.22h.01M212.31 590.18h.01M204.11 590.89h.01M212.1 612.97h.01M210.72 590.35h.01M214.44 588.65h.01M211.02 625.63h.01M212.64 602.23h.01M211.63 578.58h.01M211.67 586.27h.01M217.08 588.23h.01M225.9 590.01h.01M220.43 585.71h.01M219.95 621.31h.01M220.3 602.94h.01M211.02 578.68h.01M229.69 592.74h.01M206.25 581.46h.01M210.55 607.67h.01M222.38 598.24h.01M220.54 579.01h.01M203.07 580.04h.01M226.88 583.53h.01M211.83 572.32h.01M228.52 592.66h.01M210.79 600.54h.01M236.61 593.27h.01M221.31 580.79h.01M217.44 603.13h.01M215.59 600.69h.01M212.45 594.96h.01M214.39 615.77h.01M211.98 611.9h.01M205.5 592.41h.01M221.63 582.57h.01M222.22 607.93h.01M217.78 610.75h.01M216.16 570.09h.01M209.74 601.74h.01M216.16 583.79h.01M224.64 601.45h.01M208.97 604.13h.01M209.93 574.95h.01M218.87 590.88h.01M221.75 571.49h.01M236.1 588.57h.01M217.25 574.51h.01M214.31 589.55h.01M212.66 579.15h.01M218.76 584.73h.01M211.81 611.74h.01M219.19 582.97h.01M215.47 613.28h.01M203.76 586.22h.01M217.09 576.14h.01M208.05 608.98h.01M219.58 599.16h.01M213.92 569.66h.01M222.01 586.56h.01M207.46 588.64h.01M210.56 603.35h.01M205.62 589.02h.01M220.97 590.24h.01M222.11 581.65h.01M217.65 606.26h.01M211.12 613.89h.01M224.6 616.43h.01M216.45 603.5h.01M222.51 591.54h.01M206.3 585h.01M215.67 570.3h.01M215.55 580.73h.01M212.59 599.19h.01M215.75 591.9h.01M215.6 595.39h.01M218.56 580.54h.01M222.24 592.02h.01M212.23 580.92h.01M219.15 590.37h.01M226.19 620.94h.01M217.8 579.84h.01M212.42 571.69h.01M217.18 606.82h.01M215.21 586.62h.01M208.16 583.29h.01M212.69 594.9h.01M214.62 586.14h.01M216.16 601.27h.01M208.08 584.69h.01M217.65 619.14h.01M213.89 596.64h.01M217.7 607.16h.01M211.18 602.03h.01M231.71 569.11h.01M215.13 588.48h.01M207.44 610.83h.01M225.03 594.08h.01M209.11 605.76h.01M208.7 583.09h.01M211.51 583.73h.01M221.98 597.09h.01M225.64 603.1h.01M219.56 592.17h.01M213.47 587.13h.01M207.6 588.55h.01M221.51 599.06h.01M233.27 591.23h.01M212.81 605.6h.01M207.23 596.08h.01M206.47 574.95h.01M213.12 584.61h.01M215.07 618.3h.01M214.75 583.2h.01M215.87 576.49h.01M210.71 596.96h.01M225.15 595.31h.01M224.05 589.26h.01M207.42 585.97h.01M213.18 613.65h.01M206.32 578.96h.01M222.43 614.58h.01M213.61 583.43h.01M215.87 615.38h.01M209.4 585.59h.01M217.68 599.06h.01M220.59 599.71h.01M215.51 606.6h.01M213.9 604.64h.01M209.26 593.6h.01M221.05 581.87h.01M215.13 578.39h.01M216.51 571.06h.01M209.47 580.21h.01M215.08 573.45h.01M215.31 582.52h.01M211.76 592.52h.01M206.45 587.69h.01M209.4 590.05h.01M226.49 590.8h.01M217.2 602.37h.01M228.02 587.18h.01M231.35 572.09h.01M211.61 577.77h.01M212.2 592.24h.01M204.67 586.99h.01M222.02 607.74h.01M214.21 576.72h.01M221.84 594.48h.01M227.84 589.64h.01M220.03 582.7h.01M203.36 585.96h.01M211.96 591.85h.01M212.55 617.11h.01M203.7 585.87h.01M222.53 609.64h.01M219.85 580.71h.01M233.75 582.81h.01M213 601.39h.01M232.32 602.88h.01M211.54 595.93h.01M205.81 584.07h.01M211.35 607.34h.01M220.94 586.42h.01M214.47 589.17h.01M219 587.58h.01M213.37 616.78h.01M216.28 596.98h.01M209.79 582.18h.01M213.28 593.72h.01M208.49 593.93h.01M213.12 602.19h.01M222.85 593.59h.01M243.36 569.05h.01M217.75 574.8h.01M234.81 571.87h.01M235.18 567.21h.01M240.61 562.44h.01M219.25 570.99h.01M238.66 572.08h.01M231.14 576.9h.01M231.55 566.35h.01M239.04 562.97h.01M224.23 580.78h.01M228.25 566.57h.01M234.17 564.9h.01M235.64 562.39h.01M232.45 574.43h.01M222.07 574.11h.01M224.58 572.28h.01M228.26 575.77h.01M232.79 569.18h.01M232.46 575.57h.01M208.68 575.69h.01M219.5 568.07h.01M235.81 566.54h.01M245.57 574.81h.01M231.65 575.78h.01M219.67 567.96h.01M233.7 571.01h.01M242.25 560.62h.01M220.15 578.31h.01M231.28 565.33h.01M244.12 574.83h.01M214.65 573.84h.01M242.28 571.34h.01M233.39 563.17h.01M217.97 576.22h.01M223.91 573.77h.01M234.97 563.08h.01M244.35 568h.01M236.78 564.38h.01M242.3 562.24h.01M229.45 566.67h.01M222.25 571.24h.01M239.16 563.89h.01M222.75 574.9h.01M220.59 572.63h.01M229.97 563.82h.01M228.26 580.72h.01M244.92 571.79h.01M219.95 571.13h.01M230.38 573.11h.01M240.39 562.86h.01M222.1 570.99h.01M225.73 575.98h.01M228.48 570.65h.01M244.34 566.88h.01M234.29 562.56h.01M218.07 569.45h.01M214.56 572.72h.01M215.24 572.24h.01M236.38 577.21h.01M229.81 571.28h.01M222.96 574.59h.01M225.05 571.35h.01M240.52 572.8h.01M233.72 569.17h.01M213.15 570.9h.01M223.23 574.18h.01M223.54 569.23h.01M226.46 572.37h.01M224.36 571.55h.01M224.07 568.4h.01M237.35 572.91h.01M233.04 575.22h.01M228.37 570.62h.01M234.02 558.92h.01M221.2 568.52h.01M223.18 573.14h.01M229.83 572.03h.01M215.51 574.08h.01M229.12 567.04h.01M223.37 571.89h.01M225.18 566.73h.01M237.01 569.89h.01M228.68 567.9h.01M217.93 571.91h.01M244.07 572.19h.01M240.82 567.67h.01M209.51 574.13h.01M232.5 572.79h.01M226.36 571.29h.01M222.35 571.34h.01M226.65 569.41h.01M236.32 559.17h.01M225.13 571.65h.01M233 566.97h.01M232.65 573.34h.01M243.18 557.49h.01M221.52 580.45h.01M226.05 567.48h.01M217.38 572.89h.01M244.09 567.57h.01M231.47 566.08h.01M236.32 573.69h.01M231.9 562.78h.01M241.55 566.65h.01M221.54 576.3h.01M245.47 573.18h.01M218.41 575.85h.01M229.32 564.84h.01M216.56 578.38h.01M230.53 565.96h.01M229.37 568.46h.01M229.23 573.25h.01M231.94 563.11h.01M229.99 573.65h.01M235.78 565.8h.01M234.56 569.51h.01M229.3 563.8h.01M219.26 570.11h.01M222.73 567.51h.01M245.63 564.69h.01M226.06 568.87h.01M225 568.6h.01M234.62 568.92h.01M226.43 569.44h.01M243.93 573.44h.01M231.22 566.89h.01M215.12 570h.01M240.69 564.41h.01M250.36 568.95h.01M226.43 565.98h.01M218.09 575.36h.01M229.37 570.61h.01M224.63 567.18h.01M235.28 577.85h.01M240.65 572.77h.01M228.14 565.82h.01M220.16 567.77h.01M233.76 565.45h.01M233.92 565.72h.01M246.97 573.73h.01M228.88 569.67h.01M215.84 571.8h.01M232.87 572.48h.01M219.91 569.74h.01M226.67 577.25h.01M237.06 571.38h.01M239.16 567.77h.01M219.1 568.84h.01M210.48 577.65h.01M220.82 571.07h.01M229.92 567.94h.01M229.58 565.59h.01M224.46 570.61h.01M233.53 573.14h.01M237.23 572.62h.01M217.2 575.37h.01M219.05 576.9h.01M230.67 569.97h.01M239.9 579.15h.01M227.79 568.28h.01M217.33 570.38h.01M221.46 573.46h.01M235.86 570.56h.01M240.79 565.46h.01M229.84 573.58h.01M180.95 631.42h.01M190.56 630.96h.01M180.28 632.97h.01M177.76 630.06h.01M202.29 629.35h.01M180.76 632.24h.01M210.28 633.25h.01M184.66 631.73h.01M182.03 631.73h.01M192.87 630.8h.01M181.77 632.31h.01M185.21 631.71h.01M200.97 630.13h.01M183.01 631.49h.01M175.67 631.27h.01M184.61 629.17h.01M182.67 631.65h.01M176.25 630.53h.01M201.7 629.56h.01M186.83 631.33h.01M208.1 631.2h.01M176 628.29h.01M193.89 631.76h.01M191.34 631.11h.01M173.08 630.24h.01M186.99 630.24h.01M200.06 632.3h.01M183.25 630.45h.01M203.52 631.47h.01M188.72 631.07h.01M187.38 631.29h.01M184.94 630.77h.01M195.96 630.3h.01M199.19 630.66h.01M192.42 628.76h.01M180.5 630.83h.01M221.99 631.41h.01M184.68 629.02h.01M189.64 630.66h.01M180.98 629.57h.01M192.56 630.1h.01M198.58 629.79h.01M176.59 631.91h.01M182.68 630.75h.01M180.16 632.7h.01M206.87 631.64h.01M210.47 629.93h.01M191.25 631.49h.01M173.79 630.54h.01M199.67 632.08h.01M208.48 630.35h.01M197.96 630.14h.01M190.29 630.7h.01M181.1 631.93h.01M170.63 630.75h.01M171.23 631.01h.01M199.48 630.16h.01M202.7 631.16h.01M201.76 631.67h.01M187.15 631.13h.01M195.06 631.84h.01M172.42 631.24h.01M181.32 629.99h.01M194.3 632.48h.01M181.02 630.73h.01M193.14 631.43h.01M185.92 630.92h.01M192.4 632.25h.01M203.36 628.98h.01M184.47 630.7h.01M189.48 632.03h.01M174.42 631.13h.01M197.59 630.22h.01M186.06 630.82h.01M185.38 631.37h.01M192.54 631.26h.01M192.14 632.2h.01M197.77 630.12h.01M200.8 632.29h.01M186.65 630.71h.01M181.28 631.36h.01M205.91 630.26h.01M182.83 630.95h.01M184.52 632.7h.01M185.36 629.53h.01M210.9 630.67h.01M175.76 631.35h.01M172.8 630.93h.01M186.87 629.81h.01M201.3 631.72h.01M187.22 630.73h.01M201.52 631.93h.01M191.54 631.71h.01M190.42 631.73h.01M207.53 629.45h.01M179.14 632.22h.01M186.53 631.19h.01M179.84 630.06h.01M184.5 631.4h.01M196.69 630.6h.01M173.48 631.24h.01M204.77 630.73h.01M183.92 632.33h.01M181 631.88h.01M200.94 631.82h.01M202.32 629.87h.01M189.79 631.4h.01M176.51 631.48h.01M191.31 631.69h.01M193.27 631.04h.01M192.22 631.6h.01M188.87 632.81h.01M190.02 632.22h.01M176.23 630.63h.01M187.06 631.27h.01M189.12 632.57h.01M196.99 629.02h.01M191.2 629.46h.01M180.14 631.39h.01M204.14 630.7h.01M208.88 632.1h.01M173.27 629.57h.01M185.83 631.45h.01M196.9 630.64h.01M202.5 629.71h.01M197.8 631.25h.01M200.63 632.14h.01M182.84 631.24h.01M184.66 631.8h.01M201.72 632.18h.01M171.72 630.68h.01M172.6 630.7h.01M209.91 631.26h.01M212.89 631.51h.01M189.65 629.87h.01M197.24 631.95h.01M184.28 631.73h.01M192.26 631.07h.01M196.17 630.78h.01M179.28 630.23h.01M174.4 631.37h.01M191.27 631.21h.01M174.56 631.99h.01M190.68 631.63h.01M199.59 631.96h.01M184.99 630.23h.01M193.05 632.26h.01M175.23 630.22h.01M192.9 630.71h.01M178.53 632.19h.01M179.73 630.87h.01M188.68 630.87h.01M191.72 631.78h.01M203.68 630.36h.01M197.7 630.42h.01M233.2 561.26h.01M239.96 561.36h.01M236.62 562.98h.01M237.61 553.36h.01M248.29 556.12h.01M236.58 559.12h.01M241.58 550.46h.01M237.07 555.75h.01M244.18 552.69h.01M237.86 562.35h.01M243.81 562.36h.01M242.82 556.08h.01M237.43 556.25h.01M238.2 549.02h.01M250.62 552.8h.01M241.14 555h.01M246.07 557.86h.01M250.92 559h.01M245.67 552.76h.01M238.72 557.09h.01M244.1 546.12h.01M242.9 565.65h.01M239.89 552.58h.01M239.1 550.87h.01M240.71 552.71h.01M238.79 556.06h.01M238.51 555.99h.01M241.82 566.53h.01M237.33 567.57h.01M236.78 547.74h.01M240.36 560.66h.01M241.55 558.59h.01M238.86 563.09h.01M237.91 552.58h.01M235.5 551.76h.01M244.7 555.05h.01M239.36 551.73h.01M243.13 554.45h.01M247.75 548.8h.01M235.58 557.85h.01M241.73 567.84h.01M241.86 548.99h.01M241.45 559.35h.01M240.3 551.84h.01M244.8 556.52h.01M237.88 555.28h.01M246.08 553.24h.01M239.79 552.34h.01M237.3 556.8h.01M241.26 552.95h.01M249.7 560.04h.01M253.96 544.88h.01M237.46 563.97h.01M238.91 557.48h.01M236.48 559.18h.01M243.18 559.62h.01M239.3 562.11h.01M234.1 560.01h.01M241.44 552.07h.01M242.74 557.54h.01M241.3 557.09h.01M239.47 562.75h.01M247.81 555.31h.01M237.69 561.88h.01M237.87 553.27h.01M239.6 558.01h.01M247.03 565.52h.01M247.27 558.07h.01M237.74 561.34h.01M243.28 560.39h.01M248.55 553.62h.01M240.61 561.13h.01M239.04 557.31h.01M239.97 558.45h.01M237.4 555.01h.01M245.29 562.37h.01M234.25 559.8h.01M236.84 547.82h.01M239.91 549.19h.01M240.71 551.96h.01M236.22 551.85h.01M235.13 550.06h.01M239.36 550.89h.01M240.39 548.54h.01M247.63 564.89h.01M235.22 557.22h.01M236.86 569.56h.01M240.29 552.64h.01M236.12 544.35h.01M241.96 547.99h.01M238.72 556.52h.01M238.93 553.68h.01M235.01 564.58h.01M238.79 549.46h.01M209.48 608.76h.01M219.93 620.43h.01M224.16 601.87h.01M208.09 607.39h.01M216.52 611.61h.01M226.62 602.33h.01M229.77 587.57h.01M227.73 616.28h.01M225.98 577.98h.01M227.6 597.33h.01M217.74 627.66h.01M236.19 601.4h.01M215.66 594.03h.01M238.52 618.51h.01M247.21 596.48h.01M241.23 619.52h.01M228.84 602.18h.01M243.29 606.31h.01M237.8 569.63h.01M232.49 611.36h.01M213.48 590.77h.01M208.33 580.48h.01M230.45 591.96h.01M222.22 585.21h.01M231.09 605.48h.01M229.67 579.53h.01M231.38 598.88h.01M235.19 603.23h.01M222.89 599.89h.01M240.92 597.35h.01M230.4 588.67h.01M219.39 594.55h.01M236.75 596.36h.01M231.71 612.87h.01M221.93 589.5h.01M216.11 588.21h.01M225.41 593.18h.01M224.02 605.04h.01M216.11 605.18h.01M230.48 614.42h.01M233.88 598.08h.01M216.18 580.24h.01M219.43 598.03h.01M222.63 593.02h.01M231.11 606.36h.01M229.23 606.22h.01M220.18 610.69h.01M210.51 604.69h.01M227.68 603.39h.01M231.98 588.28h.01M225.24 589.51h.01M230.74 579.35h.01M237.86 583.49h.01M214.34 615.15h.01M226.81 595.68h.01M234.68 610.73h.01M229.57 599.88h.01M227.65 613.03h.01M234.27 593.91h.01M214.87 601.62h.01M226.72 587.23h.01M219.92 584.78h.01M239.19 606.3h.01M245.75 589.67h.01M235.59 615.93h.01M231.89 593.83h.01M225.13 603h.01M212.09 593.92h.01M218.74 602.08h.01M234.55 602.87h.01M228.47 617.21h.01M216.74 603.7h.01M224.57 568.56h.01M217.76 616.97h.01M229.13 588.25h.01M220.97 575.01h.01M226.17 598.3h.01M238.65 597.34h.01M220.51 607.96h.01M236.39 573.28h.01M230.61 591.44h.01M225.69 576.43h.01M225.38 608.48h.01M220.08 595.94h.01M217.39 600.63h.01M227.96 579.72h.01M243.28 618.17h.01M229.63 592.3h.01M214.03 586.29h.01M232.55 607.05h.01M225.26 580.27h.01M219.24 581.41h.01M235.12 597.96h.01M222.78 612.1h.01M225.23 599.1h.01M229.55 603.51h.01M218.14 592.03h.01M239.15 615.71h.01M226.57 609.04h.01M233.04 614.78h.01M211.68 602.73h.01M219.25 598.57h.01M238.92 607.04h.01M224.2 589.77h.01M208.35 602.75h.01M215.8 613.2h.01M220.21 597.59h.01M227.39 601.13h.01M228.36 597.39h.01M219.61 614.11h.01M231.26 622.88h.01M237.76 612.31h.01M226.74 608.97h.01M230.24 604.94h.01M237.46 609.18h.01M225.95 599.1h.01M239.01 601.75h.01M215.69 590.4h.01M218.15 600.43h.01M219.37 590.74h.01" stroke="#0a0a0a" stroke-width="0.85" stroke-linecap="round" fill="none"/>
<path d="M174.5 556.63 174.5 556.64 174.7 560.37 174.7 560.38 175.07 563.78 175.07 563.8 175.6 566.85 175.61 566.87 176.31 569.59 176.32 569.61 177.18 571.99 177.19 572 177.2 572.01 179.52 573.79 179.53 573.8 179.54 573.8 179.63 573.83 179.68 573.85 179.74 573.88 179.79 573.91 179.84 573.94 179.88 573.99 179.92 574.03 179.95 574.08 179.98 574.13 180.01 574.19 180.03 574.24 180.04 574.3 180.05 574.36 180.05 574.42 180.04 574.48 180.03 574.54 180.02 574.6 179.99 574.65 179.97 574.7 179.93 574.75 179.9 574.8 179.85 574.84 179.81 574.88 179.76 574.92 179.71 574.94 179.65 574.97 179.59 574.98 179.54 575 179.52 575 179.5 575 179.51 575.01 182.43 581.83 182.45 581.89 182.46 581.94 182.47 582 182.48 582.06 182.47 582.12 182.46 582.18 181 589.59 181 589.6 181.01 589.6 184.09 589.6 184.15 589.6 184.21 589.61 184.26 589.63 184.32 589.65 184.37 589.67 184.42 589.7 184.47 589.73 184.51 589.77 184.55 589.82 184.59 589.86 184.62 589.91 184.64 589.97 184.66 590.02 184.68 590.08 184.69 590.14 184.69 590.19 184.69 590.25 184.68 590.31 184.67 590.37 184.65 590.42 184.62 590.48 184.59 590.53 184.56 590.57 184.52 590.62 184.48 590.66 184.43 590.69 184.38 590.72 184.33 590.75 183.52 591.1 183.48 591.12 181.84 592.08 181.81 592.1 180.33 593.24 180.3 593.27 179 594.57 178.97 594.6 177.88 596.03 177.85 596.07 176.98 597.62 176.96 597.65 176.33 599.29 176.32 599.33 175.93 601.03 175.93 601.04 175.93 601.05 175.8 602.79 175.8 602.8 175.8 602.81 175.93 604.55 175.93 604.56 175.93 604.57 176.32 606.27 176.33 606.31 176.96 607.95 176.98 607.98 177.85 609.53 177.88 609.57 178.97 611 179 611.03 180.3 612.33 180.33 612.36 181.81 613.5 181.84 613.52 183.48 614.48 183.52 614.5 185.29 615.27 185.32 615.28 187.2 615.84 187.23 615.84 189.17 616.18 189.21 616.19 191.18 616.3 191.22 616.3 193.19 616.19 193.23 616.18 195.17 615.84 195.2 615.84 197.08 615.28 197.11 615.27 198.88 614.5 198.92 614.48 200.56 613.52 200.59 613.5 202.07 612.36 202.1 612.33 203.4 611.03 203.43 611 204.52 609.57 204.55 609.53 205.42 607.98 205.44 607.95 206.07 606.31 206.08 606.27 206.47 604.57 206.47 604.56 206.47 604.55 206.6 602.81 206.6 602.8 206.6 602.79 206.47 601.05 206.47 601.04 206.47 601.03 206.08 599.33 206.07 599.29 205.44 597.65 205.42 597.62 204.55 596.07 204.52 596.03 203.43 594.6 203.4 594.57 202.1 593.27 202.07 593.24 200.59 592.1 200.56 592.08 198.92 591.12 198.88 591.1 198.07 590.75 198.02 590.72 197.97 590.69 197.92 590.66 197.88 590.62 197.84 590.57 197.81 590.53 197.78 590.48 197.75 590.42 197.73 590.37 197.72 590.31 197.71 590.25 197.71 590.19 197.71 590.14 197.72 590.08 197.74 590.02 197.76 589.97 197.78 589.91 197.81 589.86 197.85 589.82 197.89 589.77 197.93 589.73 197.98 589.7 198.03 589.67 198.08 589.65 198.14 589.63 198.19 589.61 198.25 589.6 198.31 589.6 203.49 589.6 203.5 589.6 203.5 589.59 202.04 582.2 202.03 582.15 202.03 582.09 202.03 582.03 202.04 581.98 202.05 581.92 202.07 581.87 202.09 581.82 205.49 575.01 205.5 575 205.5 574.99 205.48 574.93 205.48 574.87 205.48 574.81 205.48 574.75 205.49 574.69 205.51 574.64 205.53 574.58 205.56 574.53 205.59 574.48 205.63 574.43 205.67 574.39 205.72 574.35 205.77 574.32 205.82 574.29 205.87 574.27 207.17 573.8 207.19 573.8 207.2 573.79 208.28 572.64 208.31 572.6 208.35 572.57 209.72 571.54 209.79 571.5 211.49 570.57 211.55 570.54 213.57 569.72 213.63 569.7 216 568.99 216 568.99 218.4 568.2 218.4 568.2 220.8 567.35 220.8 567.35 223.2 566.44 223.2 566.44 225.59 565.47 225.61 565.46 227.69 564.44 227.71 564.42 229.49 563.35 229.51 563.33 230.98 562.21 231.01 562.19 232.19 561.01 232.21 560.99 233.27 559.77 233.29 559.75 234.24 558.5 234.25 558.48 235.08 557.18 235.09 557.16 235.8 555.84 235.82 555.81 236.26 554.68 236.27 554.67 236.27 554.66 236.45 553.72 236.46 553.71 236.45 553.69 236.38 552.95 236.37 552.94 236.37 552.92 236.03 552.38 236.02 552.36 236.01 552.35 235.49 551.82 235.48 551.81 235.47 551.8 234.76 551.28 234.73 551.26 233.82 550.76 233.8 550.74 232.7 550.26 232.68 550.25 231.48 549.84 231.46 549.83 230.17 549.5 230.15 549.49 228.76 549.24 228.74 549.24 227.26 549.06 227.24 549.06 224.57 548.96 224.56 548.96 220.69 548.94 220.69 548.94 215.63 548.99 215.62 548.99 209.38 549.11 209.37 549.11 203.08 549.31 203.07 549.31 196.73 549.59 196.72 549.59 190.33 549.94 190.32 549.94 183.89 550.36 183.88 550.36 183.86 550.37 179.1 551.61 179.09 551.62 179.07 551.63 175.98 553.7 175.96 553.71 175.96 553.72 174.51 556.61Z" fill="#fafafa" stroke="#444" stroke-width="0.6"/>
<path d="M175.82 556.9 176 560.27 176.36 563.61 176.88 566.59 177.56 569.21 178.28 571.2 180.16 572.64 180.25 572.68 180.31 572.71 180.42 572.77 180.47 572.8 180.58 572.88 180.63 572.91 180.72 573 180.77 573.04 180.86 573.13 180.9 573.18 180.98 573.28 181.01 573.33 181.08 573.43 181.11 573.49 181.17 573.6 181.19 573.66 181.24 573.78 181.26 573.83 181.29 573.96 181.31 574.02 181.33 574.14 181.34 574.2 181.35 574.33 181.35 574.39 181.34 574.52 181.34 574.58 181.32 574.71 181.31 574.77 181.28 574.89 181.27 574.95 181.22 575.07 181.2 575.13 181.15 575.25 181.12 575.3 181.08 575.38 183.62 581.32 183.65 581.38 183.67 581.43 183.71 581.56 183.72 581.62 183.75 581.74 183.76 581.8 183.77 581.93 183.77 581.99 183.77 582.12 183.77 582.18 183.76 582.31 183.75 582.37 183.74 582.43 182.58 588.3 184.09 588.3 184.15 588.3 184.21 588.3 184.34 588.32 184.4 588.33 184.52 588.35 184.58 588.36 184.7 588.4 184.75 588.42 184.87 588.47 184.92 588.49 185.04 588.55 185.09 588.58 185.19 588.65 185.24 588.69 185.34 588.77 185.38 588.81 185.47 588.9 185.51 588.94 185.59 589.04 185.63 589.08 185.7 589.19 185.73 589.24 185.79 589.35 185.81 589.4 185.86 589.52 185.88 589.58 185.92 589.7 185.94 589.75 185.96 589.88 185.97 589.94 185.98 590.06 185.99 590.12 185.99 590.25 185.99 590.31 185.98 590.43 185.97 590.49 185.94 590.61 185.93 590.67 185.89 590.79 185.88 590.85 185.83 590.97 185.8 591.02 185.75 591.13 185.72 591.18 185.65 591.29 185.61 591.34 185.53 591.44 185.49 591.48 185.41 591.57 185.36 591.61 185.27 591.69 185.22 591.73 185.11 591.8 185.06 591.83 184.95 591.89 184.9 591.92 184.84 591.94 184.09 592.27 182.55 593.17 181.17 594.23 179.96 595.44 178.95 596.77 178.15 598.19 177.57 599.69 177.22 601.23 177.1 602.8 177.22 604.37 177.57 605.91 178.15 607.41 178.95 608.83 179.96 610.16 181.17 611.37 182.55 612.43 184.09 613.33 185.75 614.05 187.51 614.57 189.34 614.89 191.2 615 193.06 614.89 194.89 614.57 196.65 614.05 198.31 613.33 199.85 612.43 201.23 611.37 202.44 610.16 203.45 608.83 204.25 607.41 204.83 605.91 205.18 604.37 205.3 602.8 205.18 601.23 204.83 599.69 204.25 598.19 203.45 596.77 202.44 595.44 201.23 594.23 199.85 593.17 198.31 592.27 197.56 591.94 197.5 591.92 197.45 591.89 197.34 591.83 197.29 591.8 197.18 591.73 197.13 591.69 197.04 591.61 196.99 591.57 196.91 591.48 196.87 591.44 196.79 591.34 196.75 591.29 196.68 591.18 196.65 591.13 196.6 591.02 196.57 590.97 196.52 590.85 196.51 590.79 196.47 590.67 196.46 590.61 196.43 590.49 196.42 590.43 196.41 590.31 196.41 590.25 196.41 590.12 196.42 590.06 196.43 589.94 196.44 589.88 196.46 589.75 196.48 589.7 196.52 589.58 196.54 589.52 196.59 589.4 196.61 589.35 196.67 589.24 196.7 589.19 196.77 589.08 196.81 589.04 196.89 588.94 196.93 588.9 197.02 588.81 197.06 588.77 197.16 588.69 197.21 588.65 197.31 588.58 197.36 588.55 197.48 588.49 197.53 588.47 197.65 588.42 197.7 588.4 197.82 588.36 197.88 588.35 198 588.33 198.06 588.32 198.19 588.3 198.25 588.3 198.31 588.3 201.92 588.3 200.76 582.45 200.75 582.39 200.75 582.34 200.73 582.22 200.73 582.16 200.73 582.04 200.73 581.98 200.74 581.86 200.75 581.8 200.77 581.68 200.78 581.63 200.82 581.51 200.84 581.46 200.88 581.34 200.9 581.29 200.93 581.24 204.18 574.73 204.18 574.7 204.19 574.64 204.2 574.51 204.21 574.45 204.24 574.33 204.26 574.27 204.3 574.15 204.33 574.09 204.38 573.98 204.41 573.92 204.47 573.81 204.51 573.76 204.58 573.66 204.62 573.61 204.71 573.52 204.75 573.47 204.84 573.39 204.89 573.35 204.99 573.27 205.04 573.24 205.15 573.17 205.21 573.14 205.32 573.09 205.38 573.07 205.44 573.04 206.45 572.68 207.33 571.75 207.37 571.71 207.41 571.67 207.49 571.6 207.53 571.56 207.58 571.53 208.94 570.5 209.02 570.45 209.09 570.4 209.17 570.36 210.87 569.43 210.93 569.4 210.99 569.37 211.06 569.34 213.09 568.52 213.14 568.5 213.19 568.48 213.25 568.46 215.61 567.75 217.98 566.97 220.35 566.13 222.72 565.23 225.07 564.28 227.08 563.29 228.77 562.27 230.14 561.22 231.25 560.11 232.27 558.94 233.18 557.74 233.97 556.51 234.63 555.28 235.02 554.3 235.14 553.65 235.11 553.36 234.99 553.17 234.63 552.79 234.04 552.37 233.23 551.91 232.21 551.46 231.1 551.08 229.88 550.76 228.56 550.52 227.15 550.36 224.54 550.26 220.69 550.24 215.65 550.29 209.41 550.41 203.13 550.61 196.79 550.89 190.4 551.24 184.08 551.65 179.63 552.82 176.97 554.6Z" fill="#e0e0e0" stroke="#8a8a8a" stroke-width="0.5"/>
<path d="M187.17 551.72 192.3 551.38 197.39 551.1 202.45 550.88 207.46 550.72 212.44 550.62 216.47 550.58 219.55 550.6 221.69 550.68 222.88 550.82 224 551.03 225.05 551.29 226.02 551.63 226.91 552.03 227.65 552.44 228.24 552.87 228.67 553.31 228.95 553.77 229.02 554.38 228.87 555.14 228.5 556.06 227.93 557.14 227.26 558.18 226.49 559.2 225.63 560.18 224.67 561.14 223.48 562.05 222.05 562.91 220.38 563.74 218.47 564.51 216.56 565.24 214.64 565.91 212.73 566.54 210.82 567.12 209.17 567.79 207.77 568.56 206.62 569.42 205.72 570.37 203.71 571.09 200.57 571.57 196.32 571.8 190.95 571.8 186.74 571.33 183.71 570.37 181.84 568.94 181.15 567.03 180.58 564.85 180.16 562.4 179.86 559.69 179.7 556.7 180.87 554.38 183.36 552.72Z" fill="#e6e6e6" stroke="#959595" stroke-width="0.45"/>
<path d="M190.46 553.07 194.27 552.82 198.06 552.61 201.82 552.45 205.55 552.33 209.25 552.26 212.24 552.23 214.54 552.24 216.13 552.3 217.02 552.41 217.85 552.56 218.62 552.76 219.35 553.01 220.01 553.3 220.56 553.61 221 553.93 221.32 554.26 221.53 554.6 221.58 555.05 221.47 555.62 221.2 556.3 220.77 557.1 220.27 557.88 219.7 558.63 219.06 559.37 218.35 560.08 217.46 560.75 216.39 561.4 215.15 562.01 213.73 562.59 212.31 563.13 210.89 563.63 209.47 564.09 208.05 564.52 206.82 565.02 205.77 565.59 204.92 566.23 204.25 566.94 202.76 567.48 200.43 567.83 197.26 568.01 193.27 568.01 190.14 567.65 187.89 566.94 186.5 565.88 185.98 564.46 185.56 562.84 185.24 561.02 185.03 559 184.91 556.78 185.77 555.05 187.62 553.82Z" fill="#ededed" stroke="#959595" stroke-width="0.45"/>
<path d="M193.75 554.43 196.25 554.26 198.73 554.13 201.19 554.02 203.64 553.94 206.06 553.89 208.02 553.87 209.52 553.88 210.57 553.92 211.15 553.99 211.69 554.09 212.2 554.22 212.67 554.38 213.11 554.58 213.47 554.78 213.76 554.99 213.97 555.2 214.1 555.42 214.14 555.72 214.06 556.1 213.89 556.54 213.61 557.07 213.28 557.58 212.9 558.07 212.49 558.55 212.02 559.02 211.44 559.46 210.74 559.88 209.93 560.28 209 560.66 208.07 561.01 207.13 561.34 206.2 561.65 205.27 561.93 204.47 562.26 203.78 562.63 203.22 563.05 202.79 563.51 201.81 563.86 200.28 564.1 198.21 564.21 195.59 564.21 193.54 563.98 192.06 563.51 191.15 562.82 190.82 561.89 190.54 560.82 190.33 559.63 190.19 558.31 190.11 556.85 190.68 555.72 191.89 554.91Z" fill="#f4f4f4" stroke="#959595" stroke-width="0.45"/>
<path d="M197.04 555.78 198.22 555.7 199.4 555.64 200.56 555.59 201.72 555.55 202.87 555.53 203.8 555.52 204.51 555.52 205.01 555.54 205.28 555.57 205.54 555.62 205.78 555.68 206 555.76 206.21 555.85 206.38 555.95 206.52 556.05 206.62 556.15 206.68 556.25 206.7 556.4 206.66 556.57 206.58 556.78 206.44 557.03 206.29 557.27 206.11 557.51 205.91 557.73 205.69 557.96 205.42 558.17 205.09 558.36 204.7 558.55 204.26 558.73 203.82 558.9 203.38 559.06 202.94 559.2 202.5 559.33 202.12 559.49 201.79 559.67 201.53 559.87 201.32 560.09 200.86 560.25 200.13 560.36 199.15 560.42 197.91 560.42 196.94 560.31 196.24 560.09 195.81 559.76 195.65 559.31 195.52 558.81 195.42 558.25 195.35 557.62 195.32 556.93 195.58 556.4 196.16 556.01Z" fill="#fbfbfb" stroke="#959595" stroke-width="0.45"/>
<path d="M204.48 602.61 204.37 604.12 204.04 605.6 203.48 607.03 202.72 608.38 201.76 609.64 200.63 610.77 199.33 611.77 197.9 612.61 196.36 613.28 194.72 613.76 193.03 614.06 191.32 614.16 189.6 614.06 187.91 613.76 186.28 613.28 184.73 612.61 183.3 611.77 182 610.77 180.87 609.64 179.91 608.38 179.15 607.03 178.6 605.6 178.26 604.12 178.15 602.61 178.26 601.1 178.6 599.62 179.15 598.19 179.91 596.84 180.87 595.58 182 594.45 183.3 593.45 184.73 592.61 186.28 591.95 187.91 591.46 189.6 591.17 191.32 591.07 193.03 591.17 194.72 591.46 196.36 591.95 197.9 592.61 199.33 593.45 200.63 594.45 201.76 595.58 202.72 596.84 203.48 598.19 204.04 599.62 204.37 601.1Z" fill="#e4e4e4" stroke="#959595" stroke-width="0.45"/>
<path d="M202.37 602.42 202.27 603.67 202 604.9 201.54 606.09 200.9 607.22 200.11 608.26 199.16 609.2 198.09 610.03 196.9 610.73 195.62 611.28 194.26 611.68 192.86 611.93 191.43 612.01 190 611.93 188.6 611.68 187.25 611.28 185.96 610.73 184.77 610.03 183.7 609.2 182.76 608.26 181.96 607.22 181.33 606.09 180.87 604.9 180.59 603.67 180.5 602.42 180.59 601.17 180.87 599.94 181.33 598.75 181.96 597.63 182.76 596.59 183.7 595.64 184.77 594.82 185.96 594.12 187.25 593.57 188.6 593.16 190 592.92 191.43 592.84 192.86 592.92 194.26 593.16 195.62 593.57 196.9 594.12 198.09 594.82 199.16 595.64 200.11 596.59 200.9 597.63 201.54 598.75 202 599.94 202.27 601.17Z" fill="#e9e9e9" stroke="#959595" stroke-width="0.45"/>
<path d="M200.25 602.23 200.18 603.23 199.96 604.21 199.59 605.15 199.09 606.05 198.45 606.88 197.7 607.63 196.85 608.29 195.9 608.84 194.88 609.28 193.8 609.61 192.68 609.8 191.55 609.87 190.41 609.8 189.29 609.61 188.22 609.28 187.2 608.84 186.25 608.29 185.39 607.63 184.64 606.88 184.01 606.05 183.51 605.15 183.14 604.21 182.92 603.23 182.84 602.23 182.92 601.24 183.14 600.26 183.51 599.31 184.01 598.42 184.64 597.59 185.39 596.84 186.25 596.18 187.2 595.63 188.22 595.19 189.29 594.86 190.41 594.67 191.55 594.6 192.68 594.67 193.8 594.86 194.88 595.19 195.9 595.63 196.85 596.18 197.7 596.84 198.45 597.59 199.09 598.42 199.59 599.31 199.96 600.26 200.18 601.24Z" fill="#ededed" stroke="#959595" stroke-width="0.45"/>
<path d="M198.14 602.05 198.08 602.79 197.92 603.51 197.64 604.22 197.27 604.88 196.8 605.5 196.24 606.06 195.6 606.55 194.9 606.96 194.14 607.29 193.34 607.53 192.51 607.67 191.66 607.72 190.82 607.67 189.99 607.53 189.19 607.29 188.43 606.96 187.72 606.55 187.09 606.06 186.53 605.5 186.06 604.88 185.68 604.22 185.41 603.51 185.25 602.79 185.19 602.05 185.25 601.31 185.41 600.58 185.68 599.88 186.06 599.21 186.53 598.59 187.09 598.03 187.72 597.54 188.43 597.13 189.19 596.8 189.99 596.57 190.82 596.42 191.66 596.37 192.51 596.42 193.34 596.57 194.14 596.8 194.9 597.13 195.6 597.54 196.24 598.03 196.8 598.59 197.27 599.21 197.64 599.88 197.92 600.58 198.08 601.31Z" fill="#f2f2f2" stroke="#959595" stroke-width="0.45"/>
<path d="M196.02 601.86 195.98 602.34 195.88 602.82 195.7 603.28 195.45 603.72 195.14 604.12 194.78 604.49 194.36 604.81 193.9 605.08 193.4 605.29 192.88 605.45 192.33 605.54 191.78 605.58 191.23 605.54 190.68 605.45 190.16 605.29 189.66 605.08 189.2 604.81 188.78 604.49 188.42 604.12 188.11 603.72 187.86 603.28 187.68 602.82 187.58 602.34 187.54 601.86 187.58 601.37 187.68 600.9 187.86 600.44 188.11 600 188.42 599.59 188.78 599.23 189.2 598.91 189.66 598.64 190.16 598.42 190.68 598.27 191.23 598.17 191.78 598.14 192.33 598.17 192.88 598.27 193.4 598.42 193.9 598.64 194.36 598.91 194.78 599.23 195.14 599.59 195.45 600 195.7 600.44 195.88 600.9 195.98 601.37Z" fill="#f6f6f6" stroke="#959595" stroke-width="0.45"/>
<path d="M193.9 601.67 193.89 601.9 193.84 602.13 193.75 602.34 193.64 602.55 193.49 602.74 193.32 602.91 193.12 603.07 192.9 603.19 192.66 603.3 192.42 603.37 192.16 603.42 191.9 603.43 191.63 603.42 191.38 603.37 191.13 603.3 190.89 603.19 190.67 603.07 190.48 602.91 190.3 602.74 190.16 602.55 190.04 602.34 189.96 602.13 189.9 601.9 189.89 601.67 189.9 601.44 189.96 601.21 190.04 601 190.16 600.79 190.3 600.6 190.48 600.42 190.67 600.27 190.89 600.14 191.13 600.04 191.38 599.97 191.63 599.92 191.9 599.91 192.16 599.92 192.42 599.97 192.66 600.04 192.9 600.14 193.12 600.27 193.32 600.42 193.49 600.6 193.64 600.79 193.75 601 193.84 601.21 193.89 601.44Z" fill="#fbfbfb" stroke="#959595" stroke-width="0.45"/>
<path d="M201.61 582.08 201.6 582.04 201.6 582 201.6 581.97 201.61 581.93 201.62 581.89 201.63 581.86 201.64 581.82 204.7 575.7 180.24 575.7 182.87 581.84 182.88 581.88 182.89 581.92 182.9 581.96 182.9 582 182.9 582.04 182.89 582.08 181.7 588.1 202.8 588.1Z" fill="#fbfbfb" stroke="none"/>
<path d="M182.36 575.3 Q186.45 581.9 182.36 588.5M187.3 575.3 Q188.03 581.9 187.3 588.5M197.7 575.3 Q196.97 581.9 197.7 588.5M202.64 575.3 Q198.55 581.9 202.64 588.5" fill="none" stroke="#8a8a8a" stroke-width="0.5"/>
<rect x="171" y="545.6" width="36" height="29.7" fill="none" stroke="#111" stroke-width="1" />
<rect x="207" y="545.6" width="49.4" height="29.7" fill="none" stroke="#111" stroke-width="1" />
<rect x="171" y="588.5" width="36.8" height="38.9" fill="none" stroke="#111" stroke-width="1" />
<rect x="169.5" y="529.5" width="105.9" height="105.5" fill="none" stroke="#333" stroke-width="1.1" />
<line x1="167.3" y1="632" x2="169.5" y2="632" stroke="#333" stroke-width="0.8" />
<line x1="167.3" y1="615.75" x2="169.5" y2="615.75" stroke="#333" stroke-width="0.8" />
<line x1="167.3" y1="599.5" x2="169.5" y2="599.5" stroke="#333" stroke-width="0.8" />
<line x1="167.3" y1="583.25" x2="169.5" y2="583.25" stroke="#333" stroke-width="0.8" />
<line x1="167.3" y1="567" x2="169.5" y2="567" stroke="#333" stroke-width="0.8" />
<line x1="167.3" y1="550.75" x2="169.5" y2="550.75" stroke="#333" stroke-width="0.8" />
<line x1="167.3" y1="534.5" x2="169.5" y2="534.5" stroke="#333" stroke-width="0.8" />
<line x1="185.38" y1="635" x2="185.38" y2="637.4" stroke="#333" stroke-width="0.7" />
<line x1="192.4" y1="635" x2="192.4" y2="636.5" stroke="#333" stroke-width="0.7" />
<line x1="196.5" y1="635" x2="196.5" y2="636.5" stroke="#333" stroke-width="0.7" />
<line x1="199.41" y1="635" x2="199.41" y2="636.5" stroke="#333" stroke-width="0.7" />
<line x1="201.67" y1="635" x2="201.67" y2="636.5" stroke="#333" stroke-width="0.7" />
<line x1="203.51" y1="635" x2="203.51" y2="636.5" stroke="#333" stroke-width="0.7" />
<line x1="205.07" y1="635" x2="205.07" y2="636.5" stroke="#333" stroke-width="0.7" />
<line x1="206.43" y1="635" x2="206.43" y2="636.5" stroke="#333" stroke-width="0.7" />
<line x1="207.62" y1="635" x2="207.62" y2="636.5" stroke="#333" stroke-width="0.7" />
<line x1="208.68" y1="635" x2="208.68" y2="637.4" stroke="#333" stroke-width="0.7" />
<line x1="215.7" y1="635" x2="215.7" y2="636.5" stroke="#333" stroke-width="0.7" />
<line x1="219.8" y1="635" x2="219.8" y2="636.5" stroke="#333" stroke-width="0.7" />
<line x1="222.71" y1="635" x2="222.71" y2="636.5" stroke="#333" stroke-width="0.7" />
<line x1="224.97" y1="635" x2="224.97" y2="636.5" stroke="#333" stroke-width="0.7" />
<line x1="226.81" y1="635" x2="226.81" y2="636.5" stroke="#333" stroke-width="0.7" />
<line x1="228.37" y1="635" x2="228.37" y2="636.5" stroke="#333" stroke-width="0.7" />
<line x1="229.72" y1="635" x2="229.72" y2="636.5" stroke="#333" stroke-width="0.7" />
<line x1="230.91" y1="635" x2="230.91" y2="636.5" stroke="#333" stroke-width="0.7" />
<line x1="231.98" y1="635" x2="231.98" y2="637.4" stroke="#333" stroke-width="0.7" />
<line x1="238.99" y1="635" x2="238.99" y2="636.5" stroke="#333" stroke-width="0.7" />
<line x1="243.1" y1="635" x2="243.1" y2="636.5" stroke="#333" stroke-width="0.7" />
<line x1="246.01" y1="635" x2="246.01" y2="636.5" stroke="#333" stroke-width="0.7" />
<line x1="248.27" y1="635" x2="248.27" y2="636.5" stroke="#333" stroke-width="0.7" />
<line x1="250.11" y1="635" x2="250.11" y2="636.5" stroke="#333" stroke-width="0.7" />
<line x1="251.67" y1="635" x2="251.67" y2="636.5" stroke="#333" stroke-width="0.7" />
<line x1="253.02" y1="635" x2="253.02" y2="636.5" stroke="#333" stroke-width="0.7" />
<line x1="254.21" y1="635" x2="254.21" y2="636.5" stroke="#333" stroke-width="0.7" />
<line x1="255.28" y1="635" x2="255.28" y2="637.4" stroke="#333" stroke-width="0.7" />
<line x1="262.29" y1="635" x2="262.29" y2="636.5" stroke="#333" stroke-width="0.7" />
<line x1="266.39" y1="635" x2="266.39" y2="636.5" stroke="#333" stroke-width="0.7" />
<line x1="269.31" y1="635" x2="269.31" y2="636.5" stroke="#333" stroke-width="0.7" />
<line x1="271.56" y1="635" x2="271.56" y2="636.5" stroke="#333" stroke-width="0.7" />
<line x1="273.41" y1="635" x2="273.41" y2="636.5" stroke="#333" stroke-width="0.7" />
<text x="183.6" y="541.6" font-size="8.2" fill="#fff" stroke="#fff" stroke-width="1.6" opacity="0.85">38</text>
<text x="183.6" y="541.6" font-size="9.02" text-anchor="start" font-weight="normal" fill="#151515" stroke="#151515" stroke-width="0.12"  textLength="9.12" lengthAdjust="spacingAndGlyphs">38</text>
<text x="230.8" y="541.6" font-size="8.2" fill="#fff" stroke="#fff" stroke-width="1.6" opacity="0.85">24.2</text>
<text x="230.8" y="541.6" font-size="9.02" text-anchor="start" font-weight="normal" fill="#151515" stroke="#151515" stroke-width="0.12"  textLength="15.96" lengthAdjust="spacingAndGlyphs">24.2</text>
<text x="211.8" y="617.3" font-size="8.2" fill="#fff" stroke="#fff" stroke-width="1.6" opacity="0.85">26.1</text>
<text x="211.8" y="617.3" font-size="9.02" text-anchor="start" font-weight="normal" fill="#151515" stroke="#151515" stroke-width="0.12"  textLength="15.96" lengthAdjust="spacingAndGlyphs">26.1</text>
<text x="205.8" y="524.4" font-size="10.01" text-anchor="start" font-weight="normal" fill="#151515" stroke="#151515" stroke-width="0.12"  textLength="21.9" lengthAdjust="spacingAndGlyphs">BCAP</text>
<text x="228.6" y="520.2" font-size="6.16" text-anchor="start" font-weight="normal" fill="#151515" stroke="#151515" stroke-width="0.12"  textLength="7.5" lengthAdjust="spacingAndGlyphs">-/-</text>
<text x="223.25" y="649.7" font-size="10.12" text-anchor="middle" font-weight="normal" fill="#151515" stroke="#151515" stroke-width="0.12"  textLength="27.96" lengthAdjust="spacingAndGlyphs">CD115</text>
<rect x="205.6" y="550" width="3.2" height="24.6" fill="#7a7a7a" stroke="none" stroke-width="1" />
<text transform="translate(161.4 582.4) rotate(-90)" font-size="10.12" text-anchor="middle" fill="#151515" stroke="#151515" stroke-width="0.12" textLength="21.14" lengthAdjust="spacingAndGlyphs">Ly6C</text>
<line x1="330" y1="642.9" x2="330" y2="527" stroke="#000" stroke-width="1.35" />
<line x1="327" y1="642.3" x2="330" y2="642.3" stroke="#000" stroke-width="1.35" />
<text x="324.5" y="645.18" font-size="8.8" text-anchor="end" font-weight="normal" fill="#151515" stroke="#151515" stroke-width="0.12"  textLength="4.45" lengthAdjust="spacingAndGlyphs">0</text>
<line x1="327" y1="604.63" x2="330" y2="604.63" stroke="#000" stroke-width="1.35" />
<text x="324.5" y="607.51" font-size="8.8" text-anchor="end" font-weight="normal" fill="#151515" stroke="#151515" stroke-width="0.12"  textLength="8.9" lengthAdjust="spacingAndGlyphs">20</text>
<line x1="327" y1="566.97" x2="330" y2="566.97" stroke="#000" stroke-width="1.35" />
<text x="324.5" y="569.85" font-size="8.8" text-anchor="end" font-weight="normal" fill="#151515" stroke="#151515" stroke-width="0.12"  textLength="8.9" lengthAdjust="spacingAndGlyphs">40</text>
<line x1="327" y1="529.3" x2="330" y2="529.3" stroke="#000" stroke-width="1.35" />
<text x="324.5" y="532.18" font-size="8.8" text-anchor="end" font-weight="normal" fill="#151515" stroke="#151515" stroke-width="0.12"  textLength="8.9" lengthAdjust="spacingAndGlyphs">60</text>
<line x1="329.4" y1="642.3" x2="443.1" y2="642.3" stroke="#000" stroke-width="1.35" />
<line x1="349.3" y1="642.3" x2="349.3" y2="645" stroke="#000" stroke-width="1.35" />
<line x1="386.7" y1="642.3" x2="386.7" y2="645" stroke="#000" stroke-width="1.35" />
<line x1="424.3" y1="642.3" x2="424.3" y2="645" stroke="#000" stroke-width="1.35" />
<text x="349.3" y="655.6" font-size="9.13" text-anchor="middle" font-weight="normal" fill="#151515" stroke="#151515" stroke-width="0.12"  textLength="40.12" lengthAdjust="spacingAndGlyphs">Early GMP</text>
<text x="386.7" y="655.6" font-size="9.13" text-anchor="middle" font-weight="normal" fill="#151515" stroke="#151515" stroke-width="0.12"  textLength="11.99" lengthAdjust="spacingAndGlyphs">GP</text>
<text x="424.3" y="655.6" font-size="9.13" text-anchor="middle" font-weight="normal" fill="#151515" stroke="#151515" stroke-width="0.12"  textLength="12.45" lengthAdjust="spacingAndGlyphs">MP</text>
<text transform="translate(309.6 585) rotate(-90)" font-size="9.9" text-anchor="middle" fill="#151515" stroke="#151515" stroke-width="0.12" textLength="70.35" lengthAdjust="spacingAndGlyphs">GMP subsets (%)</text>
<line x1="380.1" y1="529.9" x2="393.9" y2="529.9" stroke="#000" stroke-width="1.5" />
<text x="387" y="530.36" font-size="8.5" text-anchor="middle" font-weight="normal" fill="#151515" stroke="#151515" stroke-width="0.12" >***</text>
<line x1="416.5" y1="529.9" x2="430.8" y2="529.9" stroke="#000" stroke-width="1.5" />
<text x="423.65" y="530.36" font-size="8.5" text-anchor="middle" font-weight="normal" fill="#151515" stroke="#151515" stroke-width="0.12" >****</text>
<circle cx="337.5" cy="590" r="2.25" fill="#910D36" stroke="#650725" stroke-width="0.5"/>
<circle cx="340.5" cy="588" r="2.25" fill="#910D36" stroke="#650725" stroke-width="0.5"/>
<circle cx="344" cy="588.5" r="2.25" fill="#910D36" stroke="#650725" stroke-width="0.5"/>
<circle cx="346.5" cy="591" r="2.25" fill="#910D36" stroke="#650725" stroke-width="0.5"/>
<circle cx="338" cy="593.5" r="2.25" fill="#910D36" stroke="#650725" stroke-width="0.5"/>
<circle cx="341.5" cy="592" r="2.25" fill="#910D36" stroke="#650725" stroke-width="0.5"/>
<circle cx="345" cy="594" r="2.25" fill="#910D36" stroke="#650725" stroke-width="0.5"/>
<circle cx="347" cy="596.5" r="2.25" fill="#910D36" stroke="#650725" stroke-width="0.5"/>
<circle cx="338.5" cy="597" r="2.25" fill="#910D36" stroke="#650725" stroke-width="0.5"/>
<circle cx="342" cy="596" r="2.25" fill="#910D36" stroke="#650725" stroke-width="0.5"/>
<circle cx="344.5" cy="598.5" r="2.25" fill="#910D36" stroke="#650725" stroke-width="0.5"/>
<circle cx="340" cy="599" r="2.25" fill="#910D36" stroke="#650725" stroke-width="0.5"/>
<circle cx="336.8" cy="592.5" r="2.25" fill="#910D36" stroke="#650725" stroke-width="0.5"/>
<circle cx="343" cy="590.5" r="2.25" fill="#910D36" stroke="#650725" stroke-width="0.5"/>
<circle cx="342.1" cy="604.9" r="2.25" fill="#910D36" stroke="#650725" stroke-width="0.5"/>
<rect x="351.8" y="584.2" width="4" height="4" fill="white" fill-opacity="0.85" stroke="#303f62" stroke-width="1.15"/>
<rect x="356.6" y="584.2" width="4" height="4" fill="white" fill-opacity="0.85" stroke="#303f62" stroke-width="1.15"/>
<rect x="354" y="588" width="4" height="4" fill="white" fill-opacity="0.85" stroke="#303f62" stroke-width="1.15"/>
<rect x="354.4" y="591.2" width="4" height="4" fill="white" fill-opacity="0.85" stroke="#303f62" stroke-width="1.15"/>
<rect x="350.1" y="593.8" width="4" height="4" fill="white" fill-opacity="0.85" stroke="#303f62" stroke-width="1.15"/>
<rect x="357.9" y="595.9" width="4" height="4" fill="white" fill-opacity="0.85" stroke="#303f62" stroke-width="1.15"/>
<rect x="353.1" y="597.2" width="4" height="4" fill="white" fill-opacity="0.85" stroke="#303f62" stroke-width="1.15"/>
<rect x="359" y="591" width="4" height="4" fill="white" fill-opacity="0.85" stroke="#303f62" stroke-width="1.15"/>
<rect x="354" y="600.7" width="4" height="4" fill="white" fill-opacity="0.85" stroke="#303f62" stroke-width="1.15"/>
<rect x="357" y="604.2" width="4" height="4" fill="white" fill-opacity="0.85" stroke="#303f62" stroke-width="1.15"/>
<rect x="351.8" y="609.8" width="4" height="4" fill="white" fill-opacity="0.85" stroke="#303f62" stroke-width="1.15"/>
<rect x="355.5" y="595" width="4" height="4" fill="white" fill-opacity="0.85" stroke="#303f62" stroke-width="1.15"/>
<line x1="335.5" y1="594.5" x2="348.5" y2="594.5" stroke="#000" stroke-width="1.1" />
<line x1="342" y1="593" x2="342" y2="596" stroke="#000" stroke-width="1.1" />
<line x1="340.5" y1="593" x2="343.5" y2="593" stroke="#000" stroke-width="1.1" />
<line x1="340.5" y1="596" x2="343.5" y2="596" stroke="#000" stroke-width="1.1" />
<line x1="350.5" y1="597.3" x2="362.5" y2="597.3" stroke="#000" stroke-width="1.1" />
<line x1="356.5" y1="595.5" x2="356.5" y2="599" stroke="#000" stroke-width="1.1" />
<line x1="355" y1="595.5" x2="358" y2="595.5" stroke="#000" stroke-width="1.1" />
<line x1="355" y1="599" x2="358" y2="599" stroke="#000" stroke-width="1.1" />
<circle cx="376.2" cy="546.5" r="2.25" fill="#910D36" stroke="#650725" stroke-width="0.5"/>
<circle cx="383.1" cy="548.1" r="2.25" fill="#910D36" stroke="#650725" stroke-width="0.5"/>
<circle cx="379.2" cy="550.4" r="2.25" fill="#910D36" stroke="#650725" stroke-width="0.5"/>
<circle cx="375.4" cy="555" r="2.25" fill="#910D36" stroke="#650725" stroke-width="0.5"/>
<circle cx="383.1" cy="555" r="2.25" fill="#910D36" stroke="#650725" stroke-width="0.5"/>
<circle cx="379.5" cy="553.5" r="2.25" fill="#910D36" stroke="#650725" stroke-width="0.5"/>
<circle cx="376.9" cy="558" r="2.25" fill="#910D36" stroke="#650725" stroke-width="0.5"/>
<circle cx="380" cy="559.6" r="2.25" fill="#910D36" stroke="#650725" stroke-width="0.5"/>
<circle cx="378.5" cy="561.2" r="2.25" fill="#910D36" stroke="#650725" stroke-width="0.5"/>
<circle cx="381.5" cy="557" r="2.25" fill="#910D36" stroke="#650725" stroke-width="0.5"/>
<circle cx="377.5" cy="552" r="2.25" fill="#910D36" stroke="#650725" stroke-width="0.5"/>
<rect x="389.5" y="550.7" width="4" height="4" fill="white" fill-opacity="0.85" stroke="#303f62" stroke-width="1.15"/>
<rect x="394.2" y="553" width="4" height="4" fill="white" fill-opacity="0.85" stroke="#303f62" stroke-width="1.15"/>
<rect x="389.5" y="556" width="4" height="4" fill="white" fill-opacity="0.85" stroke="#303f62" stroke-width="1.15"/>
<rect x="394.2" y="557.6" width="4" height="4" fill="white" fill-opacity="0.85" stroke="#303f62" stroke-width="1.15"/>
<rect x="391.5" y="560.5" width="4" height="4" fill="white" fill-opacity="0.85" stroke="#303f62" stroke-width="1.15"/>
<rect x="389.5" y="566" width="4" height="4" fill="white" fill-opacity="0.85" stroke="#303f62" stroke-width="1.15"/>
<rect x="393.4" y="567.6" width="4" height="4" fill="white" fill-opacity="0.85" stroke="#303f62" stroke-width="1.15"/>
<rect x="391.1" y="569.9" width="4" height="4" fill="white" fill-opacity="0.85" stroke="#303f62" stroke-width="1.15"/>
<rect x="393.4" y="573.3" width="4" height="4" fill="white" fill-opacity="0.85" stroke="#303f62" stroke-width="1.15"/>
<rect x="391.1" y="577.6" width="4" height="4" fill="white" fill-opacity="0.85" stroke="#303f62" stroke-width="1.15"/>
<rect x="390" y="563" width="4" height="4" fill="white" fill-opacity="0.85" stroke="#303f62" stroke-width="1.15"/>
<rect x="394.5" y="563.5" width="4" height="4" fill="white" fill-opacity="0.85" stroke="#303f62" stroke-width="1.15"/>
<line x1="373.2" y1="554.2" x2="385.2" y2="554.2" stroke="#000" stroke-width="1.1" />
<line x1="379.2" y1="552.5" x2="379.2" y2="556" stroke="#000" stroke-width="1.1" />
<line x1="377.7" y1="552.5" x2="380.7" y2="552.5" stroke="#000" stroke-width="1.1" />
<line x1="377.7" y1="556" x2="380.7" y2="556" stroke="#000" stroke-width="1.1" />
<line x1="388.3" y1="566.8" x2="399.3" y2="566.8" stroke="#000" stroke-width="1.1" />
<line x1="393.8" y1="565" x2="393.8" y2="568.5" stroke="#000" stroke-width="1.1" />
<line x1="392.3" y1="565" x2="395.3" y2="565" stroke="#000" stroke-width="1.1" />
<line x1="392.3" y1="568.5" x2="395.3" y2="568.5" stroke="#000" stroke-width="1.1" />
<circle cx="417.3" cy="598.5" r="2.25" fill="#910D36" stroke="#650725" stroke-width="0.5"/>
<circle cx="417.3" cy="606.5" r="2.25" fill="#910D36" stroke="#650725" stroke-width="0.5"/>
<circle cx="414" cy="610" r="2.25" fill="#910D36" stroke="#650725" stroke-width="0.5"/>
<circle cx="420.5" cy="610" r="2.25" fill="#910D36" stroke="#650725" stroke-width="0.5"/>
<circle cx="417.3" cy="611.7" r="2.25" fill="#910D36" stroke="#650725" stroke-width="0.5"/>
<circle cx="414.5" cy="613.5" r="2.25" fill="#910D36" stroke="#650725" stroke-width="0.5"/>
<circle cx="420" cy="613.5" r="2.25" fill="#910D36" stroke="#650725" stroke-width="0.5"/>
<circle cx="417.3" cy="616" r="2.25" fill="#910D36" stroke="#650725" stroke-width="0.5"/>
<circle cx="416.5" cy="619" r="2.25" fill="#910D36" stroke="#650725" stroke-width="0.5"/>
<rect x="432.6" y="586.4" width="4" height="4" fill="white" fill-opacity="0.85" stroke="#303f62" stroke-width="1.15"/>
<rect x="425.1" y="588.7" width="4" height="4" fill="white" fill-opacity="0.85" stroke="#303f62" stroke-width="1.15"/>
<rect x="428.8" y="591.7" width="4" height="4" fill="white" fill-opacity="0.85" stroke="#303f62" stroke-width="1.15"/>
<rect x="425.1" y="596.2" width="4" height="4" fill="white" fill-opacity="0.85" stroke="#303f62" stroke-width="1.15"/>
<rect x="432.6" y="596.2" width="4" height="4" fill="white" fill-opacity="0.85" stroke="#303f62" stroke-width="1.15"/>
<rect x="428.8" y="600" width="4" height="4" fill="white" fill-opacity="0.85" stroke="#303f62" stroke-width="1.15"/>
<rect x="428.8" y="608.2" width="4" height="4" fill="white" fill-opacity="0.85" stroke="#303f62" stroke-width="1.15"/>
<rect x="431" y="593.5" width="4" height="4" fill="white" fill-opacity="0.85" stroke="#303f62" stroke-width="1.15"/>
<rect x="427" y="594" width="4" height="4" fill="white" fill-opacity="0.85" stroke="#303f62" stroke-width="1.15"/>
<line x1="411.3" y1="611.7" x2="423.3" y2="611.7" stroke="#000" stroke-width="1.1" />
<line x1="417.3" y1="610" x2="417.3" y2="613.5" stroke="#000" stroke-width="1.1" />
<line x1="415.8" y1="610" x2="418.8" y2="610" stroke="#000" stroke-width="1.1" />
<line x1="415.8" y1="613.5" x2="418.8" y2="613.5" stroke="#000" stroke-width="1.1" />
<line x1="424.8" y1="597.5" x2="436.8" y2="597.5" stroke="#000" stroke-width="1.1" />
<line x1="430.8" y1="596" x2="430.8" y2="599.5" stroke="#000" stroke-width="1.1" />
<line x1="429.3" y1="596" x2="432.3" y2="596" stroke="#000" stroke-width="1.1" />
<line x1="429.3" y1="599.5" x2="432.3" y2="599.5" stroke="#000" stroke-width="1.1" />
<rect x="0.5" y="0.5" width="518.6" height="663.6" fill="none" stroke="#000" stroke-width="1.2"/>
<line x1="519.3" y1="0" x2="519.3" y2="665" stroke="#000" stroke-width="1.4"/>
<line x1="0" y1="664.3" x2="520" y2="664.3" stroke="#000" stroke-width="1.4"/>
</svg>
</body></html>
